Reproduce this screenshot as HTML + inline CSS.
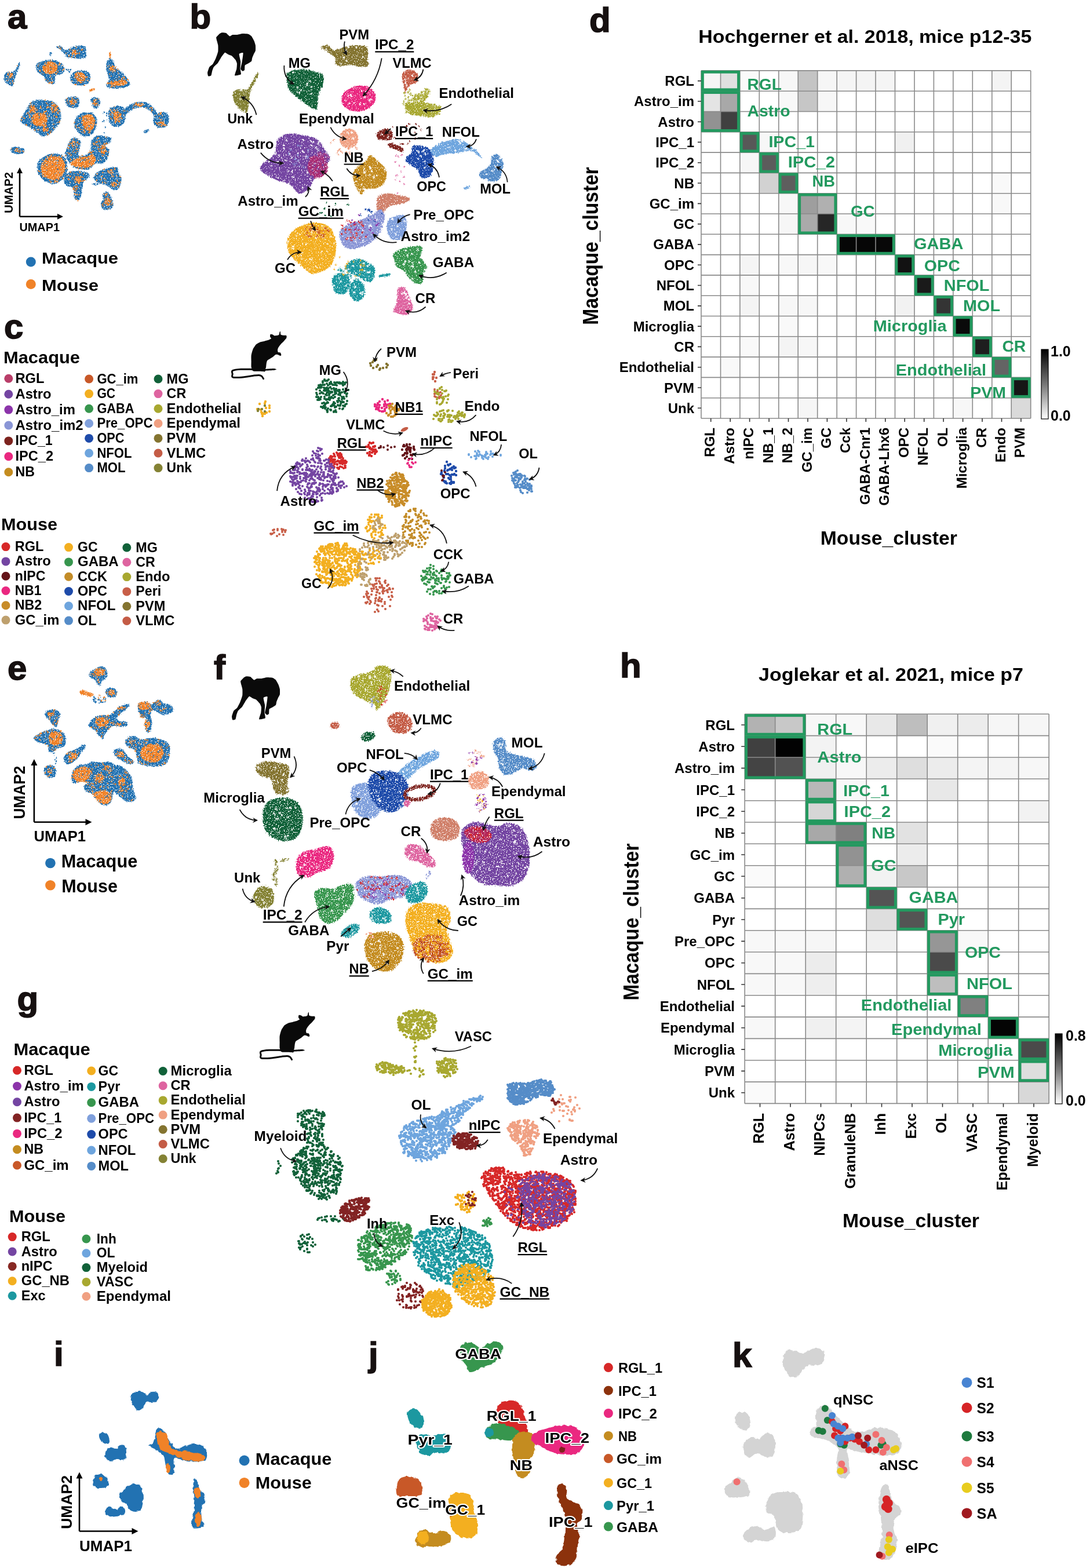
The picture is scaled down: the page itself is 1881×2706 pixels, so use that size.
<!DOCTYPE html>
<html><head><meta charset="utf-8"><title>Figure</title>
<style>
html,body{margin:0;padding:0;background:#fff;}
svg{display:block;}
text{font-family:"Liberation Sans",Arial,sans-serif;font-weight:bold;}
.pl{stroke:#161010;stroke-width:1.6px;fill:#161010;}
.ar{fill:none;stroke:#111;stroke-width:1.8;marker-end:url(#ah);}
.ax{fill:none;stroke:#000;stroke-width:2.6;}
.ol{paint-order:stroke;stroke:#fff;stroke-width:4px;stroke-linejoin:round;}
</style></head><body>
<svg width="1881" height="2706" viewBox="0 0 1881 2706">
<defs>
<filter id="sc" x="-5%" y="-5%" width="110%" height="110%" color-interpolation-filters="sRGB">
<feTurbulence type="fractalNoise" baseFrequency="0.5" numOctaves="1" seed="5" result="n"/>
<feDisplacementMap in="SourceGraphic" in2="n" scale="6" xChannelSelector="R" yChannelSelector="G" result="d"/>
<feTurbulence type="fractalNoise" baseFrequency="0.55" numOctaves="1" seed="9" result="n2"/>
<feColorMatrix in="n2" type="matrix" values="0 0 0 0 0 0 0 0 0 0 0 0 0 0 0 14 0 0 0 -4.3" result="m"/>
<feComposite in="d" in2="m" operator="in"/>
</filter>
<filter id="sc6" x="-5%" y="-5%" width="110%" height="110%" color-interpolation-filters="sRGB">
<feTurbulence type="fractalNoise" baseFrequency="0.45" numOctaves="1" seed="21" result="n"/>
<feDisplacementMap in="SourceGraphic" in2="n" scale="7" xChannelSelector="R" yChannelSelector="G" result="d"/>
<feTurbulence type="fractalNoise" baseFrequency="0.5" numOctaves="1" seed="17" result="n2"/>
<feColorMatrix in="n2" type="matrix" values="0 0 0 0 0 0 0 0 0 0 0 0 0 0 0 14 0 0 0 -4.6" result="m"/>
<feComposite in="d" in2="m" operator="in"/>
</filter>
<filter id="sc2" x="-5%" y="-5%" width="110%" height="110%" color-interpolation-filters="sRGB">
<feTurbulence type="fractalNoise" baseFrequency="0.5" numOctaves="1" seed="3" result="n"/>
<feDisplacementMap in="SourceGraphic" in2="n" scale="5" xChannelSelector="R" yChannelSelector="G" result="d"/>
<feTurbulence type="fractalNoise" baseFrequency="0.6" numOctaves="1" seed="11" result="n2"/>
<feColorMatrix in="n2" type="matrix" values="0 0 0 0 0 0 0 0 0 0 0 0 0 0 0 14 0 0 0 -4.6" result="m"/>
<feComposite in="d" in2="m" operator="in"/>
</filter>
<filter id="none"><feOffset dx="0" dy="0"/></filter>
<filter id="sc3" x="-5%" y="-5%" width="110%" height="110%" color-interpolation-filters="sRGB">
<feTurbulence type="fractalNoise" baseFrequency="0.5" numOctaves="1" seed="4" result="n"/>
<feDisplacementMap in="SourceGraphic" in2="n" scale="4" xChannelSelector="R" yChannelSelector="G"/>
</filter>
<filter id="sc4" x="-5%" y="-5%" width="110%" height="110%" color-interpolation-filters="sRGB">
<feTurbulence type="fractalNoise" baseFrequency="0.5" numOctaves="1" seed="6" result="n"/>
<feDisplacementMap in="SourceGraphic" in2="n" scale="7" xChannelSelector="R" yChannelSelector="G" result="d"/>
<feTurbulence type="fractalNoise" baseFrequency="0.4" numOctaves="1" seed="13" result="n2"/>
<feColorMatrix in="n2" type="matrix" values="0 0 0 0 0 0 0 0 0 0 0 0 0 0 0 12 0 0 0 -5.0" result="m"/>
<feComposite in="d" in2="m" operator="in"/>
</filter>
<filter id="sc5" x="-5%" y="-5%" width="110%" height="110%" color-interpolation-filters="sRGB">
<feTurbulence type="fractalNoise" baseFrequency="0.18" numOctaves="1" seed="8" result="n"/>
<feDisplacementMap in="SourceGraphic" in2="n" scale="6" xChannelSelector="R" yChannelSelector="G"/>
</filter>
<marker id="ah" viewBox="0 0 10 10" refX="8" refY="5" markerWidth="5" markerHeight="5" orient="auto-start-reverse" markerUnits="strokeWidth"><path d="M0 0L10 5L0 10L3 5z" fill="#111"/></marker></defs>
<rect width="1881" height="2706" fill="#fff"/>
<text x="13" y="49" font-size="60" class="pl">a</text>
<text x="327.5" y="49" font-size="60" class="pl">b</text>
<text x="7" y="584" font-size="60" class="pl">c</text>
<text x="1017" y="55" font-size="60" class="pl">d</text>
<text x="13" y="1172.7" font-size="60" class="pl">e</text>
<text x="369" y="1171.7" font-size="60" class="pl">f</text>
<text x="29.5" y="1743.8" font-size="60" class="pl">g</text>
<text x="1070" y="1168.6" font-size="60" class="pl">h</text>
<text x="93" y="2357.2" font-size="60" class="pl">i</text>
<text x="636" y="2357.5" font-size="60" class="pl">j</text>
<text x="1264" y="2358.5" font-size="60" class="pl">k</text>
<rect x="1210" y="121.9" width="33.8" height="35.6" fill="rgb(246,246,246)"/>
<rect x="1243.5" y="121.9" width="33.8" height="35.6" fill="rgb(224,224,224)"/>
<rect x="1276.9" y="121.9" width="33.8" height="35.6" fill="rgb(250,250,250)"/>
<rect x="1343.8" y="121.9" width="33.8" height="35.6" fill="rgb(247,247,247)"/>
<rect x="1377.2" y="121.9" width="33.8" height="35.6" fill="rgb(196,196,196)"/>
<rect x="1410.7" y="121.9" width="33.8" height="35.6" fill="rgb(246,246,246)"/>
<rect x="1444.2" y="121.9" width="33.8" height="35.6" fill="rgb(245,245,245)"/>
<rect x="1477.6" y="121.9" width="33.8" height="35.6" fill="rgb(244,244,244)"/>
<rect x="1511" y="121.9" width="33.8" height="35.6" fill="rgb(245,245,245)"/>
<rect x="1711.8" y="121.9" width="33.8" height="35.6" fill="rgb(244,244,244)"/>
<rect x="1210" y="157.2" width="33.8" height="35.6" fill="rgb(228,228,228)"/>
<rect x="1243.5" y="157.2" width="33.8" height="35.6" fill="rgb(168,168,168)"/>
<rect x="1343.8" y="157.2" width="33.8" height="35.6" fill="rgb(248,248,248)"/>
<rect x="1377.2" y="157.2" width="33.8" height="35.6" fill="rgb(198,198,198)"/>
<rect x="1410.7" y="157.2" width="33.8" height="35.6" fill="rgb(247,247,247)"/>
<rect x="1210" y="192.5" width="33.8" height="35.6" fill="rgb(146,146,146)"/>
<rect x="1243.5" y="192.5" width="33.8" height="35.6" fill="rgb(64,64,64)"/>
<rect x="1276.9" y="227.8" width="33.8" height="35.6" fill="rgb(88,88,88)"/>
<rect x="1310.3" y="227.8" width="33.8" height="35.6" fill="rgb(247,247,247)"/>
<rect x="1544.5" y="227.8" width="33.8" height="35.6" fill="rgb(240,240,240)"/>
<rect x="1276.9" y="263.1" width="33.8" height="35.6" fill="rgb(246,246,246)"/>
<rect x="1310.3" y="263.1" width="33.8" height="35.6" fill="rgb(92,92,92)"/>
<rect x="1310.3" y="298.4" width="33.8" height="35.6" fill="rgb(210,210,210)"/>
<rect x="1343.8" y="298.4" width="33.8" height="35.6" fill="rgb(94,94,94)"/>
<rect x="1711.8" y="298.4" width="33.8" height="35.6" fill="rgb(249,249,249)"/>
<rect x="1343.8" y="333.7" width="33.8" height="35.6" fill="rgb(247,247,247)"/>
<rect x="1377.2" y="333.7" width="33.8" height="35.6" fill="rgb(158,158,158)"/>
<rect x="1410.7" y="333.7" width="33.8" height="35.6" fill="rgb(176,176,176)"/>
<rect x="1711.8" y="333.7" width="33.8" height="35.6" fill="rgb(248,248,248)"/>
<rect x="1343.8" y="369" width="33.8" height="35.6" fill="rgb(246,246,246)"/>
<rect x="1377.2" y="369" width="33.8" height="35.6" fill="rgb(170,170,170)"/>
<rect x="1410.7" y="369" width="33.8" height="35.6" fill="rgb(38,38,38)"/>
<rect x="1444.2" y="369" width="33.8" height="35.6" fill="rgb(248,248,248)"/>
<rect x="1477.6" y="369" width="33.8" height="35.6" fill="rgb(249,249,249)"/>
<rect x="1444.2" y="404.3" width="33.8" height="35.6" fill="rgb(6,6,6)"/>
<rect x="1477.6" y="404.3" width="33.8" height="35.6" fill="rgb(6,6,6)"/>
<rect x="1511" y="404.3" width="33.8" height="35.6" fill="rgb(8,8,8)"/>
<rect x="1276.9" y="439.6" width="33.8" height="35.6" fill="rgb(245,245,245)"/>
<rect x="1343.8" y="439.6" width="33.8" height="35.6" fill="rgb(248,248,248)"/>
<rect x="1377.2" y="439.6" width="33.8" height="35.6" fill="rgb(246,246,246)"/>
<rect x="1410.7" y="439.6" width="33.8" height="35.6" fill="rgb(248,248,248)"/>
<rect x="1544.5" y="439.6" width="33.8" height="35.6" fill="rgb(18,18,18)"/>
<rect x="1276.9" y="474.9" width="33.8" height="35.6" fill="rgb(248,248,248)"/>
<rect x="1578" y="474.9" width="33.8" height="35.6" fill="rgb(26,26,26)"/>
<rect x="1276.9" y="510.2" width="33.8" height="35.6" fill="rgb(244,244,244)"/>
<rect x="1343.8" y="510.2" width="33.8" height="35.6" fill="rgb(247,247,247)"/>
<rect x="1377.2" y="510.2" width="33.8" height="35.6" fill="rgb(247,247,247)"/>
<rect x="1544.5" y="510.2" width="33.8" height="35.6" fill="rgb(242,242,242)"/>
<rect x="1611.4" y="510.2" width="33.8" height="35.6" fill="rgb(52,52,52)"/>
<rect x="1343.8" y="545.5" width="33.8" height="35.6" fill="rgb(249,249,249)"/>
<rect x="1644.8" y="545.5" width="33.8" height="35.6" fill="rgb(10,10,10)"/>
<rect x="1276.9" y="580.8" width="33.8" height="35.6" fill="rgb(249,249,249)"/>
<rect x="1343.8" y="580.8" width="33.8" height="35.6" fill="rgb(244,244,244)"/>
<rect x="1377.2" y="580.8" width="33.8" height="35.6" fill="rgb(247,247,247)"/>
<rect x="1678.3" y="580.8" width="33.8" height="35.6" fill="rgb(30,30,30)"/>
<rect x="1243.5" y="616.1" width="33.8" height="35.6" fill="rgb(249,249,249)"/>
<rect x="1711.8" y="616.1" width="33.8" height="35.6" fill="rgb(100,100,100)"/>
<rect x="1745.2" y="651.4" width="33.8" height="35.6" fill="rgb(22,22,22)"/>
<rect x="1377.2" y="686.7" width="33.8" height="35.6" fill="rgb(246,246,246)"/>
<rect x="1644.8" y="686.7" width="33.8" height="35.6" fill="rgb(247,247,247)"/>
<rect x="1745.2" y="686.7" width="33.8" height="35.6" fill="rgb(218,218,218)"/>
<path d="M1210 121.9H1778.7M1210 157.2H1778.7M1210 192.5H1778.7M1210 227.8H1778.7M1210 263.1H1778.7M1210 298.4H1778.7M1210 333.7H1778.7M1210 369H1778.7M1210 404.3H1778.7M1210 439.6H1778.7M1210 474.9H1778.7M1210 510.2H1778.7M1210 545.5H1778.7M1210 580.8H1778.7M1210 616.1H1778.7M1210 651.4H1778.7M1210 686.7H1778.7M1210 722H1778.7M1210 121.9V722M1243.5 121.9V722M1276.9 121.9V722M1310.3 121.9V722M1343.8 121.9V722M1377.2 121.9V722M1410.7 121.9V722M1444.2 121.9V722M1477.6 121.9V722M1511 121.9V722M1544.5 121.9V722M1578 121.9V722M1611.4 121.9V722M1644.8 121.9V722M1678.3 121.9V722M1711.8 121.9V722M1745.2 121.9V722M1778.7 121.9V722" stroke="#8a8a8a" stroke-width="1.6" fill="none"/>
<path d="M1204 139.6H1210M1204 174.8H1210M1204 210.2H1210M1204 245.4H1210M1204 280.8H1210M1204 316H1210M1204 351.4H1210M1204 386.6H1210M1204 421.9H1210M1204 457.2H1210M1204 492.5H1210M1204 527.9H1210M1204 563.1H1210M1204 598.4H1210M1204 633.8H1210M1204 669H1210M1204 704.3H1210M1226.7 722V728M1260.2 722V728M1293.6 722V728M1327.1 722V728M1360.5 722V728M1394 722V728M1427.4 722V728M1460.9 722V728M1494.3 722V728M1527.8 722V728M1561.2 722V728M1594.7 722V728M1628.1 722V728M1661.6 722V728M1695 722V728M1728.5 722V728M1761.9 722V728" stroke="#333" stroke-width="1.6" fill="none"/>
<rect x="1212.4" y="124.3" width="62.1" height="30.5" fill="none" stroke="#23995f" stroke-width="4.8"/>
<rect x="1212.4" y="159.6" width="62.1" height="65.8" fill="none" stroke="#23995f" stroke-width="4.8"/>
<rect x="1279.3" y="230.2" width="28.7" height="30.5" fill="none" stroke="#23995f" stroke-width="4.8"/>
<rect x="1312.8" y="265.5" width="28.7" height="30.5" fill="none" stroke="#23995f" stroke-width="4.8"/>
<rect x="1346.2" y="300.8" width="28.7" height="30.5" fill="none" stroke="#23995f" stroke-width="4.8"/>
<rect x="1379.7" y="336.1" width="62.1" height="65.8" fill="none" stroke="#23995f" stroke-width="4.8"/>
<rect x="1446.6" y="406.7" width="95.6" height="30.5" fill="none" stroke="#23995f" stroke-width="4.8"/>
<rect x="1546.9" y="442" width="28.7" height="30.5" fill="none" stroke="#23995f" stroke-width="4.8"/>
<rect x="1580.4" y="477.3" width="28.7" height="30.5" fill="none" stroke="#23995f" stroke-width="4.8"/>
<rect x="1613.8" y="512.6" width="28.7" height="30.5" fill="none" stroke="#23995f" stroke-width="4.8"/>
<rect x="1647.2" y="547.9" width="28.7" height="30.5" fill="none" stroke="#23995f" stroke-width="4.8"/>
<rect x="1680.7" y="583.2" width="28.7" height="30.5" fill="none" stroke="#23995f" stroke-width="4.8"/>
<rect x="1714.2" y="618.5" width="28.7" height="30.5" fill="none" stroke="#23995f" stroke-width="4.8"/>
<rect x="1747.6" y="653.8" width="28.7" height="30.5" fill="none" stroke="#23995f" stroke-width="4.8"/>
<text x="1198" y="148.1" font-size="24" text-anchor="end">RGL</text>
<text x="1198" y="183.3" font-size="24" text-anchor="end">Astro_im</text>
<text x="1198" y="218.7" font-size="24" text-anchor="end">Astro</text>
<text x="1198" y="253.9" font-size="24" text-anchor="end">IPC_1</text>
<text x="1198" y="289.2" font-size="24" text-anchor="end">IPC_2</text>
<text x="1198" y="324.5" font-size="24" text-anchor="end">NB</text>
<text x="1198" y="359.9" font-size="24" text-anchor="end">GC_im</text>
<text x="1198" y="395.1" font-size="24" text-anchor="end">GC</text>
<text x="1198" y="430.4" font-size="24" text-anchor="end">GABA</text>
<text x="1198" y="465.8" font-size="24" text-anchor="end">OPC</text>
<text x="1198" y="501" font-size="24" text-anchor="end">NFOL</text>
<text x="1198" y="536.4" font-size="24" text-anchor="end">MOL</text>
<text x="1198" y="571.6" font-size="24" text-anchor="end">Microglia</text>
<text x="1198" y="606.9" font-size="24" text-anchor="end">CR</text>
<text x="1198" y="642.2" font-size="24" text-anchor="end">Endothelial</text>
<text x="1198" y="677.5" font-size="24" text-anchor="end">PVM</text>
<text x="1198" y="712.8" font-size="24" text-anchor="end">Unk</text>
<text x="1233.2" y="738" font-size="24" text-anchor="end" transform="rotate(-90 1233.2 738)">RGL</text>
<text x="1266.7" y="738" font-size="24" text-anchor="end" transform="rotate(-90 1266.7 738)">Astro</text>
<text x="1300.1" y="738" font-size="24" text-anchor="end" transform="rotate(-90 1300.1 738)">nIPC</text>
<text x="1333.6" y="738" font-size="24" text-anchor="end" transform="rotate(-90 1333.6 738)">NB_1</text>
<text x="1367" y="738" font-size="24" text-anchor="end" transform="rotate(-90 1367 738)">NB_2</text>
<text x="1400.5" y="738" font-size="24" text-anchor="end" transform="rotate(-90 1400.5 738)">GC_im</text>
<text x="1433.9" y="738" font-size="24" text-anchor="end" transform="rotate(-90 1433.9 738)">GC</text>
<text x="1467.4" y="738" font-size="24" text-anchor="end" transform="rotate(-90 1467.4 738)">Cck</text>
<text x="1500.8" y="738" font-size="24" text-anchor="end" transform="rotate(-90 1500.8 738)">GABA-Cnr1</text>
<text x="1534.3" y="738" font-size="24" text-anchor="end" transform="rotate(-90 1534.3 738)">GABA-Lhx6</text>
<text x="1567.7" y="738" font-size="24" text-anchor="end" transform="rotate(-90 1567.7 738)">OPC</text>
<text x="1601.2" y="738" font-size="24" text-anchor="end" transform="rotate(-90 1601.2 738)">NFOL</text>
<text x="1634.6" y="738" font-size="24" text-anchor="end" transform="rotate(-90 1634.6 738)">OL</text>
<text x="1668.1" y="738" font-size="24" text-anchor="end" transform="rotate(-90 1668.1 738)">Microglia</text>
<text x="1701.5" y="738" font-size="24" text-anchor="end" transform="rotate(-90 1701.5 738)">CR</text>
<text x="1735" y="738" font-size="24" text-anchor="end" transform="rotate(-90 1735 738)">Endo</text>
<text x="1768.4" y="738" font-size="24" text-anchor="end" transform="rotate(-90 1768.4 738)">PVM</text>
<text x="1289.5" y="154.5" font-size="27" fill="#23995f" textLength="59.4" lengthAdjust="spacingAndGlyphs">RGL</text>
<text x="1289.5" y="200.8" font-size="27" fill="#23995f" textLength="74.2" lengthAdjust="spacingAndGlyphs">Astro</text>
<text x="1326.4" y="253.6" font-size="27" fill="#23995f" textLength="79.6" lengthAdjust="spacingAndGlyphs">IPC_1</text>
<text x="1359.7" y="288.7" font-size="27" fill="#23995f" textLength="81.3" lengthAdjust="spacingAndGlyphs">IPC_2</text>
<text x="1401.5" y="322" font-size="27" fill="#23995f" textLength="39.5" lengthAdjust="spacingAndGlyphs">NB</text>
<text x="1468" y="373.8" font-size="27" fill="#23995f" textLength="41.7" lengthAdjust="spacingAndGlyphs">GC</text>
<text x="1577" y="430.3" font-size="27" fill="#23995f" textLength="85.4" lengthAdjust="spacingAndGlyphs">GABA</text>
<text x="1594.8" y="468.4" font-size="27" fill="#23995f" textLength="62" lengthAdjust="spacingAndGlyphs">OPC</text>
<text x="1628.8" y="501.7" font-size="27" fill="#23995f" textLength="78.7" lengthAdjust="spacingAndGlyphs">NFOL</text>
<text x="1662" y="536.8" font-size="27" fill="#23995f" textLength="64" lengthAdjust="spacingAndGlyphs">MOL</text>
<text x="1506.8" y="571.9" font-size="27" fill="#23995f" textLength="126.7" lengthAdjust="spacingAndGlyphs">Microglia</text>
<text x="1729.4" y="607" font-size="27" fill="#23995f" textLength="40.9" lengthAdjust="spacingAndGlyphs">CR</text>
<text x="1545.7" y="647.7" font-size="27" fill="#23995f" textLength="156.3" lengthAdjust="spacingAndGlyphs">Endothelial</text>
<text x="1674.3" y="686.5" font-size="27" fill="#23995f" textLength="61.7" lengthAdjust="spacingAndGlyphs">PVM</text>
<defs><linearGradient id="cbd" x1="0" y1="0" x2="0" y2="1"><stop offset="0" stop-color="#000"/><stop offset="0.5" stop-color="#777"/><stop offset="1" stop-color="#fff"/></linearGradient></defs>
<rect x="1797" y="603" width="12" height="120" fill="url(#cbd)" stroke="#000" stroke-width="1.2"/>
<text x="1813" y="615" font-size="25">1.0</text>
<text x="1813" y="726" font-size="25">0.0</text>
<text x="1205.3" y="73.5" font-size="31.5" textLength="575" lengthAdjust="spacingAndGlyphs">Hochgerner et al. 2018, mice p12-35</text>
<text x="1032" y="560.7" font-size="37" textLength="272.6" lengthAdjust="spacingAndGlyphs" transform="rotate(-90 1032 560.7)">Macaque_cluster</text>
<text x="1415.8" y="940" font-size="33.5" textLength="236" lengthAdjust="spacingAndGlyphs">Mouse_cluster</text>
<rect x="1285.2" y="1232.3" width="52.8" height="37.6" fill="rgb(178,178,178)"/>
<rect x="1337.7" y="1232.3" width="52.8" height="37.6" fill="rgb(200,200,200)"/>
<rect x="1390.2" y="1232.3" width="52.8" height="37.6" fill="rgb(247,247,247)"/>
<rect x="1442.7" y="1232.3" width="52.8" height="37.6" fill="rgb(248,248,248)"/>
<rect x="1495.2" y="1232.3" width="52.8" height="37.6" fill="rgb(232,232,232)"/>
<rect x="1547.7" y="1232.3" width="52.8" height="37.6" fill="rgb(190,190,190)"/>
<rect x="1600.2" y="1232.3" width="52.8" height="37.6" fill="rgb(240,240,240)"/>
<rect x="1652.7" y="1232.3" width="52.8" height="37.6" fill="rgb(236,236,236)"/>
<rect x="1705.2" y="1232.3" width="52.8" height="37.6" fill="rgb(246,246,246)"/>
<rect x="1757.7" y="1232.3" width="52.8" height="37.6" fill="rgb(246,246,246)"/>
<rect x="1285.2" y="1269.6" width="52.8" height="37.6" fill="rgb(64,64,64)"/>
<rect x="1337.7" y="1269.6" width="52.8" height="37.6" fill="rgb(2,2,2)"/>
<rect x="1390.2" y="1269.6" width="52.8" height="37.6" fill="rgb(243,243,243)"/>
<rect x="1600.2" y="1269.6" width="52.8" height="37.6" fill="rgb(250,250,250)"/>
<rect x="1285.2" y="1307" width="52.8" height="37.6" fill="rgb(68,68,68)"/>
<rect x="1337.7" y="1307" width="52.8" height="37.6" fill="rgb(82,82,82)"/>
<rect x="1390.2" y="1307" width="52.8" height="37.6" fill="rgb(240,240,240)"/>
<rect x="1442.7" y="1307" width="52.8" height="37.6" fill="rgb(247,247,247)"/>
<rect x="1495.2" y="1307" width="52.8" height="37.6" fill="rgb(236,236,236)"/>
<rect x="1547.7" y="1307" width="52.8" height="37.6" fill="rgb(222,222,222)"/>
<rect x="1600.2" y="1307" width="52.8" height="37.6" fill="rgb(236,236,236)"/>
<rect x="1652.7" y="1307" width="52.8" height="37.6" fill="rgb(244,244,244)"/>
<rect x="1705.2" y="1307" width="52.8" height="37.6" fill="rgb(244,244,244)"/>
<rect x="1757.7" y="1307" width="52.8" height="37.6" fill="rgb(247,247,247)"/>
<rect x="1390.2" y="1344.3" width="52.8" height="37.6" fill="rgb(184,184,184)"/>
<rect x="1442.7" y="1344.3" width="52.8" height="37.6" fill="rgb(248,248,248)"/>
<rect x="1600.2" y="1344.3" width="52.8" height="37.6" fill="rgb(232,232,232)"/>
<rect x="1390.2" y="1381.7" width="52.8" height="37.6" fill="rgb(214,214,214)"/>
<rect x="1757.7" y="1381.7" width="52.8" height="37.6" fill="rgb(242,242,242)"/>
<rect x="1390.2" y="1419" width="52.8" height="37.6" fill="rgb(168,168,168)"/>
<rect x="1442.7" y="1419" width="52.8" height="37.6" fill="rgb(128,128,128)"/>
<rect x="1547.7" y="1419" width="52.8" height="37.6" fill="rgb(226,226,226)"/>
<rect x="1442.7" y="1456.3" width="52.8" height="37.6" fill="rgb(146,146,146)"/>
<rect x="1547.7" y="1456.3" width="52.8" height="37.6" fill="rgb(236,236,236)"/>
<rect x="1285.2" y="1493.7" width="52.8" height="37.6" fill="rgb(250,250,250)"/>
<rect x="1442.7" y="1493.7" width="52.8" height="37.6" fill="rgb(176,176,176)"/>
<rect x="1495.2" y="1493.7" width="52.8" height="37.6" fill="rgb(242,242,242)"/>
<rect x="1547.7" y="1493.7" width="52.8" height="37.6" fill="rgb(200,200,200)"/>
<rect x="1495.2" y="1531" width="52.8" height="37.6" fill="rgb(84,84,84)"/>
<rect x="1495.2" y="1568.4" width="52.8" height="37.6" fill="rgb(222,222,222)"/>
<rect x="1547.7" y="1568.4" width="52.8" height="37.6" fill="rgb(84,84,84)"/>
<rect x="1285.2" y="1605.7" width="52.8" height="37.6" fill="rgb(248,248,248)"/>
<rect x="1337.7" y="1605.7" width="52.8" height="37.6" fill="rgb(248,248,248)"/>
<rect x="1390.2" y="1605.7" width="52.8" height="37.6" fill="rgb(246,246,246)"/>
<rect x="1495.2" y="1605.7" width="52.8" height="37.6" fill="rgb(240,240,240)"/>
<rect x="1600.2" y="1605.7" width="52.8" height="37.6" fill="rgb(150,150,150)"/>
<rect x="1652.7" y="1605.7" width="52.8" height="37.6" fill="rgb(248,248,248)"/>
<rect x="1285.2" y="1643" width="52.8" height="37.6" fill="rgb(248,248,248)"/>
<rect x="1337.7" y="1643" width="52.8" height="37.6" fill="rgb(248,248,248)"/>
<rect x="1390.2" y="1643" width="52.8" height="37.6" fill="rgb(236,236,236)"/>
<rect x="1600.2" y="1643" width="52.8" height="37.6" fill="rgb(74,74,74)"/>
<rect x="1285.2" y="1680.4" width="52.8" height="37.6" fill="rgb(248,248,248)"/>
<rect x="1337.7" y="1680.4" width="52.8" height="37.6" fill="rgb(248,248,248)"/>
<rect x="1390.2" y="1680.4" width="52.8" height="37.6" fill="rgb(238,238,238)"/>
<rect x="1600.2" y="1680.4" width="52.8" height="37.6" fill="rgb(190,190,190)"/>
<rect x="1652.7" y="1717.7" width="52.8" height="37.6" fill="rgb(128,128,128)"/>
<rect x="1285.2" y="1755.1" width="52.8" height="37.6" fill="rgb(248,248,248)"/>
<rect x="1390.2" y="1755.1" width="52.8" height="37.6" fill="rgb(240,240,240)"/>
<rect x="1442.7" y="1755.1" width="52.8" height="37.6" fill="rgb(244,244,244)"/>
<rect x="1705.2" y="1755.1" width="52.8" height="37.6" fill="rgb(4,4,4)"/>
<rect x="1757.7" y="1792.4" width="52.8" height="37.6" fill="rgb(74,74,74)"/>
<rect x="1757.7" y="1829.7" width="52.8" height="37.6" fill="rgb(222,222,222)"/>
<rect x="1285.2" y="1867.1" width="52.8" height="37.6" fill="rgb(250,250,250)"/>
<rect x="1757.7" y="1867.1" width="52.8" height="37.6" fill="rgb(216,216,216)"/>
<path d="M1285.2 1232.3H1810.2M1285.2 1269.6H1810.2M1285.2 1307H1810.2M1285.2 1344.3H1810.2M1285.2 1381.7H1810.2M1285.2 1419H1810.2M1285.2 1456.3H1810.2M1285.2 1493.7H1810.2M1285.2 1531H1810.2M1285.2 1568.4H1810.2M1285.2 1605.7H1810.2M1285.2 1643H1810.2M1285.2 1680.4H1810.2M1285.2 1717.7H1810.2M1285.2 1755.1H1810.2M1285.2 1792.4H1810.2M1285.2 1829.7H1810.2M1285.2 1867.1H1810.2M1285.2 1904.4H1810.2M1285.2 1232.3V1904.4M1337.7 1232.3V1904.4M1390.2 1232.3V1904.4M1442.7 1232.3V1904.4M1495.2 1232.3V1904.4M1547.7 1232.3V1904.4M1600.2 1232.3V1904.4M1652.7 1232.3V1904.4M1705.2 1232.3V1904.4M1757.7 1232.3V1904.4M1810.2 1232.3V1904.4" stroke="#8a8a8a" stroke-width="1.6" fill="none"/>
<path d="M1279.2 1251H1285.2M1279.2 1288.3H1285.2M1279.2 1325.6H1285.2M1279.2 1363H1285.2M1279.2 1400.3H1285.2M1279.2 1437.7H1285.2M1279.2 1475H1285.2M1279.2 1512.3H1285.2M1279.2 1549.7H1285.2M1279.2 1587H1285.2M1279.2 1624.4H1285.2M1279.2 1661.7H1285.2M1279.2 1699H1285.2M1279.2 1736.4H1285.2M1279.2 1773.7H1285.2M1279.2 1811.1H1285.2M1279.2 1848.4H1285.2M1279.2 1885.8H1285.2M1311.5 1904.4V1910.4M1364 1904.4V1910.4M1416.5 1904.4V1910.4M1469 1904.4V1910.4M1521.5 1904.4V1910.4M1574 1904.4V1910.4M1626.5 1904.4V1910.4M1679 1904.4V1910.4M1731.5 1904.4V1910.4M1784 1904.4V1910.4" stroke="#333" stroke-width="1.6" fill="none"/>
<rect x="1287.6" y="1234.7" width="100.2" height="32.5" fill="none" stroke="#23995f" stroke-width="4.8"/>
<rect x="1287.6" y="1272" width="100.2" height="69.9" fill="none" stroke="#23995f" stroke-width="4.8"/>
<rect x="1392.6" y="1346.7" width="47.7" height="32.5" fill="none" stroke="#23995f" stroke-width="4.8"/>
<rect x="1392.6" y="1384.1" width="47.7" height="32.5" fill="none" stroke="#23995f" stroke-width="4.8"/>
<rect x="1392.6" y="1421.4" width="100.2" height="32.5" fill="none" stroke="#23995f" stroke-width="4.8"/>
<rect x="1445.1" y="1458.7" width="47.7" height="69.9" fill="none" stroke="#23995f" stroke-width="4.8"/>
<rect x="1497.6" y="1533.4" width="47.7" height="32.5" fill="none" stroke="#23995f" stroke-width="4.8"/>
<rect x="1550.1" y="1570.8" width="47.7" height="32.5" fill="none" stroke="#23995f" stroke-width="4.8"/>
<rect x="1602.6" y="1608.1" width="47.7" height="69.9" fill="none" stroke="#23995f" stroke-width="4.8"/>
<rect x="1602.6" y="1682.8" width="47.7" height="32.5" fill="none" stroke="#23995f" stroke-width="4.8"/>
<rect x="1655.1" y="1720.1" width="47.7" height="32.5" fill="none" stroke="#23995f" stroke-width="4.8"/>
<rect x="1707.6" y="1757.5" width="47.7" height="32.5" fill="none" stroke="#23995f" stroke-width="4.8"/>
<rect x="1760.1" y="1794.8" width="47.7" height="32.5" fill="none" stroke="#23995f" stroke-width="4.8"/>
<rect x="1760.1" y="1832.1" width="47.7" height="32.5" fill="none" stroke="#23995f" stroke-width="4.8"/>
<text x="1268" y="1259.5" font-size="24" text-anchor="end">RGL</text>
<text x="1268" y="1296.8" font-size="24" text-anchor="end">Astro</text>
<text x="1268" y="1334.1" font-size="24" text-anchor="end">Astro_im</text>
<text x="1268" y="1371.5" font-size="24" text-anchor="end">IPC_1</text>
<text x="1268" y="1408.8" font-size="24" text-anchor="end">IPC_2</text>
<text x="1268" y="1446.2" font-size="24" text-anchor="end">NB</text>
<text x="1268" y="1483.5" font-size="24" text-anchor="end">GC_im</text>
<text x="1268" y="1520.8" font-size="24" text-anchor="end">GC</text>
<text x="1268" y="1558.2" font-size="24" text-anchor="end">GABA</text>
<text x="1268" y="1595.5" font-size="24" text-anchor="end">Pyr</text>
<text x="1268" y="1632.9" font-size="24" text-anchor="end">Pre_OPC</text>
<text x="1268" y="1670.2" font-size="24" text-anchor="end">OPC</text>
<text x="1268" y="1707.5" font-size="24" text-anchor="end">NFOL</text>
<text x="1268" y="1744.9" font-size="24" text-anchor="end">Endothelial</text>
<text x="1268" y="1782.2" font-size="24" text-anchor="end">Ependymal</text>
<text x="1268" y="1819.6" font-size="24" text-anchor="end">Microglia</text>
<text x="1268" y="1856.9" font-size="24" text-anchor="end">PVM</text>
<text x="1268" y="1894.2" font-size="24" text-anchor="end">Unk</text>
<text x="1318" y="1921" font-size="25" text-anchor="end" transform="rotate(-90 1318 1921)">RGL</text>
<text x="1370.5" y="1921" font-size="25" text-anchor="end" transform="rotate(-90 1370.5 1921)">Astro</text>
<text x="1423" y="1921" font-size="25" text-anchor="end" transform="rotate(-90 1423 1921)">NIPCs</text>
<text x="1475.5" y="1921" font-size="25" text-anchor="end" transform="rotate(-90 1475.5 1921)">GranuleNB</text>
<text x="1528" y="1921" font-size="25" text-anchor="end" transform="rotate(-90 1528 1921)">Inh</text>
<text x="1580.5" y="1921" font-size="25" text-anchor="end" transform="rotate(-90 1580.5 1921)">Exc</text>
<text x="1633" y="1921" font-size="25" text-anchor="end" transform="rotate(-90 1633 1921)">OL</text>
<text x="1685.5" y="1921" font-size="25" text-anchor="end" transform="rotate(-90 1685.5 1921)">VASC</text>
<text x="1738" y="1921" font-size="25" text-anchor="end" transform="rotate(-90 1738 1921)">Ependymal</text>
<text x="1790.5" y="1921" font-size="25" text-anchor="end" transform="rotate(-90 1790.5 1921)">Myeloid</text>
<text x="1410.3" y="1268.4" font-size="27" fill="#23995f" textLength="60.9" lengthAdjust="spacingAndGlyphs">RGL</text>
<text x="1410.3" y="1315.8" font-size="27" fill="#23995f" textLength="76.4" lengthAdjust="spacingAndGlyphs">Astro</text>
<text x="1455.3" y="1374" font-size="27" fill="#23995f" textLength="79.5" lengthAdjust="spacingAndGlyphs">IPC_1</text>
<text x="1456.6" y="1409.5" font-size="27" fill="#23995f" textLength="80.4" lengthAdjust="spacingAndGlyphs">IPC_2</text>
<text x="1504.3" y="1446.7" font-size="27" fill="#23995f" textLength="40.7" lengthAdjust="spacingAndGlyphs">NB</text>
<text x="1503.3" y="1502.5" font-size="27" fill="#23995f" textLength="43.3" lengthAdjust="spacingAndGlyphs">GC</text>
<text x="1568.6" y="1558.4" font-size="27" fill="#23995f" textLength="84.6" lengthAdjust="spacingAndGlyphs">GABA</text>
<text x="1618.4" y="1596" font-size="27" fill="#23995f" textLength="46.6" lengthAdjust="spacingAndGlyphs">Pyr</text>
<text x="1665" y="1652.7" font-size="27" fill="#23995f" textLength="62" lengthAdjust="spacingAndGlyphs">OPC</text>
<text x="1668" y="1707" font-size="27" fill="#23995f" textLength="79" lengthAdjust="spacingAndGlyphs">NFOL</text>
<text x="1485.8" y="1743.8" font-size="27" fill="#23995f" textLength="156.6" lengthAdjust="spacingAndGlyphs">Endothelial</text>
<text x="1538" y="1786" font-size="27" fill="#23995f" textLength="155.8" lengthAdjust="spacingAndGlyphs">Ependymal</text>
<text x="1619.3" y="1822" font-size="27" fill="#23995f" textLength="128" lengthAdjust="spacingAndGlyphs">Microglia</text>
<text x="1687" y="1859.7" font-size="27" fill="#23995f" textLength="63.6" lengthAdjust="spacingAndGlyphs">PVM</text>
<defs><linearGradient id="cbh" x1="0" y1="0" x2="0" y2="1"><stop offset="0" stop-color="#000"/><stop offset="0.5" stop-color="#777"/><stop offset="1" stop-color="#fff"/></linearGradient></defs>
<rect x="1821" y="1784" width="12" height="121" fill="url(#cbh)" stroke="#000" stroke-width="1.2"/>
<text x="1839" y="1796" font-size="25">0.8</text>
<text x="1839" y="1908" font-size="25">0.0</text>
<text x="1309" y="1175" font-size="31.5" textLength="457" lengthAdjust="spacingAndGlyphs">Joglekar et al. 2021, mice p7</text>
<text x="1102" y="1726.6" font-size="37" textLength="271" lengthAdjust="spacingAndGlyphs" transform="rotate(-90 1102 1726.6)">Macaque_cluster</text>
<text x="1454" y="2118" font-size="33.5" textLength="236" lengthAdjust="spacingAndGlyphs">Mouse_cluster</text>
<g filter="url(#sc2)">
<path d="M97.7 81.3C97.7 80 102.8 78.5 105.3 79.4C107.8 80.3 110.3 86.3 112.8 86.9C115.3 87.5 117.2 84.5 120.3 83.2C123.4 82 127.2 79.9 131.6 79.4C136 78.9 143.8 78.4 146.6 80.3C149.4 82.2 148.3 87.4 148.5 90.7C148.7 94 150.4 98.4 147.6 100.1C144.8 101.8 136.2 101.2 131.6 101C127 100.8 123.1 99.6 120.3 99.1C117.5 98.6 116.3 99.3 114.7 98.2C113.1 97.1 112.5 94.5 110.9 92.6C109.3 90.7 107.5 88.8 105.3 86.9C103.1 85 97.7 82.5 97.7 81.3Z" fill="rgb(34,114,178)"/>
<path d="M131 81h0m-30 0h0m3 3h0m1-2h0m16 4h0m14 0h0m6 0h0m1 0h0m-28 6h0m11-5h0m2 1h0m0 1h0m3-2h0m2 2h0m1 3h0m4 0h0m-18 4h0m0 1h0m5 1h0m14-4h0m-8 6h0" stroke="rgb(240,130,40)" stroke-width="2.4" stroke-linecap="round"/>
<ellipse cx="128" cy="92" rx="6" ry="4" fill="rgb(240,130,40)"/>
<path d="M122 92h0m1 0h0m1-2h0m8 0h0m-9 4h0m4-1h0m0 2h0m1-2h0" stroke="rgb(34,114,178)" stroke-width="2.2" stroke-linecap="round"/>
<ellipse cx="87" cy="93.5" rx="2" ry="3" fill="rgb(34,114,178)"/>
<path d="M8 128C9 125.3 11.7 124.7 14 124C16.3 123.3 19.7 125 22 124C24.3 123 26.2 120.8 28 118C29.8 115.2 31.8 108.7 33 107C34.2 105.3 35.5 105.2 35 108C34.5 110.8 31.3 120 30 124C28.7 128 28 129 27 132C26 135 24.8 139.2 24 142C23.2 144.8 23.5 148.3 22 149C20.5 149.7 17.3 147.5 15 146C12.7 144.5 9.2 143 8 140C6.8 137 7 130.7 8 128Z" fill="rgb(34,114,178)"/>
<path d="M30 114h0m-16 15h0m0-2h0m2-3h0m5 3h0m-10 7h0m7-3h0m4 2h0m-9 6h0m2-3h0m7 4h0m-4 4h0m5 0h0" stroke="rgb(240,130,40)" stroke-width="2.4" stroke-linecap="round"/>
<ellipse cx="19" cy="131" rx="5" ry="4" fill="rgb(240,130,40)"/>
<path d="M16 129h0m0 0h0m-1 3h0m5 2h0m1-1h0m1-2h0m2-1h0m0 1h0" stroke="rgb(34,114,178)" stroke-width="2.2" stroke-linecap="round"/>
<path d="M63 110.4C65.2 108.4 71 106 75.2 104.8C79.4 103.6 83.9 103.2 88.3 103.5C92.7 103.8 98 105.1 101.5 106.7C105 108.3 107.4 110.6 109 113.2C110.6 115.8 111.5 120.1 110.9 122.6C110.3 125.1 107.8 127 105.3 128.3C102.8 129.6 97.8 127.5 95.9 130.2C94 132.8 95.3 141.7 94 144.2C92.7 146.7 90.8 146 88.3 145.2C85.8 144.4 81.1 141.7 78.9 139.5C76.7 137.3 77.4 134.5 75.2 132C73 129.5 68 127 65.8 124.5C63.6 122 62.5 119.3 62 117C61.5 114.7 60.8 112.4 63 110.4Z" fill="rgb(34,114,178)"/>
<path d="M88 104h0m-20 6h0m26-1h0m3 2h0m6-2h0m-37 5h0m8 1h0m0 1h0m10-5h0m18 1h0m6 2h0m-40 8h0m2-1h0m5 0h0m4 2h0m8-5h0m20 4h0m3-2h0m-40 3h0m4 5h0m4-3h0m1 1h0m2-2h0m3 2h0m3 0h0m5-1h0m5 2h0m2-4h0m1 2h0m-13 7h0m-9 5h0m5 3h0m6-4h0m0-1h0m-4 8h0m3-1h0m1 1h0m2-2h0" stroke="rgb(240,130,40)" stroke-width="2.4" stroke-linecap="round"/>
<ellipse cx="86" cy="117" rx="13" ry="11" fill="rgb(240,130,40)"/>
<path d="M80 109h0m-4 3h0m2 1h0m9 3h0m7-4h0m-6 9h0m1-4h0m-5 9h0" stroke="rgb(34,114,178)" stroke-width="2.2" stroke-linecap="round"/>
<path d="M114 119h0m1 1h0m2 1h0m1-1h0m3 1h0m1-1h0m-3 5h0m1-1h0" stroke="rgb(34,114,178)" stroke-width="2.6" stroke-linecap="round"/>
<path d="M122 131C123.3 128.2 126.7 124.5 130 123C133.3 121.5 138.3 121.5 142 121.7C145.7 121.9 149.7 122.3 152 124C154.3 125.7 155.7 129.2 156 132C156.3 134.8 155.8 138.5 154 141C152.2 143.5 149 146.1 145 147C141 147.9 133.8 147.7 130 146.5C126.2 145.3 123.3 142.6 122 140C120.7 137.4 120.7 133.8 122 131Z" fill="rgb(34,114,178)"/>
<path d="M131 126h0m1 2h0m7-2h0m-12 7h0m1 1h0m4-1h0m1-2h0m2 4h0m1-5h0m14 3h0m-26 7h0m22-2h0m1-2h0m5 3h0m3-3h0m-25 10h0m1 0h0m3-3h0m5 0h0m6 4h0" stroke="rgb(240,130,40)" stroke-width="2.4" stroke-linecap="round"/>
<path d="M129.7 127C131.4 125.5 137.2 124.3 140 125C142.8 125.7 146.3 128 146.6 131C146.9 134 144.1 141.5 142 143C139.9 144.5 136 141.5 134 140C132 138.5 130.7 136.2 130 134C129.3 131.8 128 128.5 129.7 127Z" fill="rgb(240,130,40)"/>
<path d="M131 132h0m2 2h0m2-5h0m1 2h0m2 3h0m2 1h0m2 6h0m0-4h0" stroke="rgb(34,114,178)" stroke-width="2.2" stroke-linecap="round"/>
<path d="M184.2 107.6C185.3 104.8 187.9 100.4 189.8 100.1C191.7 99.8 193.9 103.2 195.5 105.7C197.1 108.2 197.3 112.3 199.2 115.1C201.1 117.9 204.6 120.7 206.8 122.6C209 124.5 209.9 123.9 212.4 126.4C214.9 128.9 219.9 134.6 221.8 137.7C223.7 140.8 224.6 143 223.7 145.2C222.8 147.4 220.3 149.6 216.2 150.8C212.1 152.1 204.2 152.7 199.2 152.7C194.2 152.7 188.8 152.1 186.1 150.8C183.4 149.6 183 147.4 183.3 145.2C183.6 143 187.7 140.8 188 137.7C188.3 134.6 186 129.8 185.2 126.4C184.4 123 183.5 120.1 183.3 117C183.1 113.9 183.1 110.4 184.2 107.6Z" fill="rgb(34,114,178)"/>
<path d="M186 114h0m0 0h0m3-1h0m4 1h0m-4 5h0m0-1h0m9 5h0m0-2h0m5-1h0m-14 8h0m0 0h0m15 0h0m0-3h0m-12 6h0m14 2h0m7 1h0m1-1h0m-11 3h0m6 0h0m1 1h0m1 0h0m5 2h0m3-2h0m2 1h0m-36 6h0m2 0h0m1 0h0m8 0h0m8 0h0m9-1h0m3 1h0m3-1h0m-27 7h0m1-3h0m2 2h0m3 1h0m9-3h0" stroke="rgb(240,130,40)" stroke-width="2.4" stroke-linecap="round"/>
<ellipse cx="195" cy="119" rx="6" ry="6" fill="rgb(240,130,40)"/>
<path d="M192 114h0m5 3h0m-4 5h0m2-5h0m3 1h0m0 3h0m2-1h0m-3 4h0" stroke="rgb(34,114,178)" stroke-width="2.2" stroke-linecap="round"/>
<ellipse cx="204" cy="143" rx="15" ry="5" fill="rgb(240,130,40)"/>
<path d="M194 140h0m2 1h0m3-2h0m3 0h0m2 1h0m2 2h0m0 5h0m5-5h0" stroke="rgb(34,114,178)" stroke-width="2.2" stroke-linecap="round"/>
<ellipse cx="190" cy="95" rx="1.5" ry="5" fill="rgb(240,130,40)"/>
<ellipse cx="159" cy="155" rx="5" ry="2" fill="rgb(240,130,40)" transform="rotate(-20 159 155)"/>
<path d="M52.6 177.1C56.4 174.1 62.4 173 67.7 172.4C73 171.8 80.2 172.6 84.6 173.4C89 174.2 91.2 175.2 94 177.1C96.8 179 99.6 181.2 101.5 184.7C103.4 188.1 105 193.4 105.3 197.8C105.6 202.2 105 207.2 103.4 211C101.8 214.8 98.4 217.3 95.9 220.4C93.4 223.5 91.8 227.3 88.3 229.8C84.8 232.3 79.3 235.7 75.2 235.4C71.1 235.1 67.7 230.4 63.9 227.9C60.1 225.4 56.4 222.6 52.6 220.4C48.9 218.2 44.4 216.6 41.4 214.7C38.4 212.8 35.4 211.3 34.8 209.1C34.2 206.9 35.9 204.7 37.6 201.6C39.3 198.5 42.6 194.4 45.1 190.3C47.6 186.2 48.8 180.1 52.6 177.1Z" fill="rgb(34,114,178)"/>
<path d="M77 173h0m-24 5h0m27 0h0m2 2h0m8-3h0m-39 11h0m1 0h0m2 0h0m3-3h0m3 0h0m2 3h0m0-2h0m2 3h0m6-5h0m0 1h0m1 2h0m10-2h0m2-1h0m0 1h0m3 0h0m1 0h0m6 2h0m3-1h0m4 3h0m0-5h0m-45 11h0m2-5h0m2 0h0m2 3h0m0 1h0m3-4h0m12 3h0m2 0h0m2-1h0m14-1h0m6 2h0m3-1h0m-58 5h0m3-2h0m2 1h0m1 3h0m0 0h0m6-4h0m2 4h0m1 0h0m3 1h0m12-4h0m7 0h0m3 5h0m8-1h0m3 1h0m4-5h0m-62 6h0m4 2h0m9-2h0m5-1h0m8 4h0m1-2h0m26 4h0m6-5h0m1 0h0m-61 5h0m16 3h0m4-2h0m6-1h0m4 0h0m3 5h0m2-3h0m5 2h0m22 1h0m3-1h0m1-2h0m-57 7h0m7 2h0m17-3h0m2 0h0m7 0h0m1 1h0m11 3h0m0 0h0m1-5h0m-32 10h0m4 0h0m1 0h0m3 0h0m12-3h0m13 0h0m-11 10h0m5-2h0m1-3h0m-6 6h0" stroke="rgb(240,130,40)" stroke-width="2.4" stroke-linecap="round"/>
<ellipse cx="56" cy="188" rx="6" ry="8" fill="rgb(240,130,40)"/>
<path d="M52 182h0m4 1h0m0-2h0m4 2h0m-10 6h0m1-1h0m1-3h0m2 3h0m7-2h0m-10 4h0m4 4h0m1 1h0m2 0h0m3-5h0" stroke="rgb(34,114,178)" stroke-width="2.2" stroke-linecap="round"/>
<ellipse cx="93" cy="187" rx="6" ry="8" fill="rgb(240,130,40)"/>
<path d="M88 183h0m8 0h0m1-1h0m-10 7h0m0-1h0m3-3h0m2 3h0m0-2h0m1-1h0m1 3h0m1-4h0m-3 9h0m0-3h0m4 3h0" stroke="rgb(34,114,178)" stroke-width="2.2" stroke-linecap="round"/>
<ellipse cx="68" cy="206" rx="14" ry="12" fill="rgb(240,130,40)"/>
<path d="M68 195h0m-1 3h0m0-1h0m1 3h0m0-5h0m4 1h0m-16 6h0m1 3h0m1-1h0m10-1h0m7 10h0m0 0h0m-7 4h0m6-3h0" stroke="rgb(34,114,178)" stroke-width="2.2" stroke-linecap="round"/>
<ellipse cx="78" cy="222" rx="6" ry="6" fill="rgb(240,130,40)"/>
<path d="M81 218h0m1 0h0m-9 4h0m1-3h0m4 1h0m2 1h0m0-1h0m2-1h0m0 4h0m1-4h0m-9 6h0m4 2h0m1 0h0m1 0h0" stroke="rgb(34,114,178)" stroke-width="2.2" stroke-linecap="round"/>
<path d="M113 172C114.3 169.8 118.5 167.7 122 167C125.5 166.3 131.5 166.3 134 168C136.5 169.7 137.2 174.2 137.2 177C137.2 179.8 136.5 183.5 134 185C131.5 186.5 125.3 186.8 122 186C118.7 185.2 115.5 182.3 114 180C112.5 177.7 111.7 174.2 113 172Z" fill="rgb(34,114,178)"/>
<path d="M124 170h0m7-2h0m-15 6h0m0-3h0m12 4h0m5-3h0m-15 6h0m4 4h0m5-2h0m-2 4h0" stroke="rgb(240,130,40)" stroke-width="2.4" stroke-linecap="round"/>
<ellipse cx="126" cy="176" rx="6" ry="5" fill="rgb(240,130,40)"/>
<path d="M123 172h0m2 2h0m2 1h0m0-2h0m0 3h0m1-1h0m-7 2h0m9 2h0" stroke="rgb(34,114,178)" stroke-width="2.2" stroke-linecap="round"/>
<path d="M157 171C157.5 168.3 160.7 167.9 163 167.7C165.3 167.5 169.3 168.3 171 170C172.7 171.7 173.5 175.2 173 178C172.5 180.8 170.2 185.5 168 186.5C165.8 187.5 161.8 186.6 160 184C158.2 181.4 156.5 173.7 157 171Z" fill="rgb(34,114,178)"/>
<path d="M170 171h0m-8 2h0m1-1h0m-3 7h0m5 1h0m5 1h0" stroke="rgb(240,130,40)" stroke-width="2.4" stroke-linecap="round"/>
<ellipse cx="165" cy="177" rx="4" ry="6" fill="rgb(240,130,40)"/>
<path d="M163 172h0m2 4h0m2-2h0m0 2h0m0 1h0m-3 3h0m3 1h0m0-4h0" stroke="rgb(34,114,178)" stroke-width="2.2" stroke-linecap="round"/>
<path d="M130 205C131.7 201.5 135 198.8 138 197C141 195.2 144.3 194.2 148 194C151.7 193.8 156.8 194 160 196C163.2 198 166.5 201.7 167.3 206C168.1 210.3 166.6 217.7 165 222C163.4 226.3 161.2 229.8 158 232C154.8 234.2 149.7 235.7 146 235.4C142.3 235.1 139 232.9 136 230C133 227.1 129 222.2 128 218C127 213.8 128.3 208.5 130 205Z" fill="rgb(34,114,178)"/>
<path d="M142 200h0m-4 4h0m1-1h0m10 0h0m1 4h0m3-1h0m5-4h0m2-1h0m-31 10h0m12 1h0m1-5h0m11 2h0m4-1h0m6 0h0m-32 10h0m4-4h0m20 1h0m11 0h0m-34 5h0m4 0h0m2 1h0m1 3h0m3-1h0m3 1h0m8-1h0m2-3h0m0 5h0m6-5h0m-19 8h0m0 0h0m3-2h0m1 3h0m1-2h0m6 1h0m2-1h0m0 3h0" stroke="rgb(240,130,40)" stroke-width="2.4" stroke-linecap="round"/>
<path d="M144 200C146.7 197.7 154.8 196.3 158 198C161.2 199.7 163.2 205.8 163.5 210C163.8 214.2 162.6 220.7 160 223C157.4 225.3 151 225.8 148 224C145 222.2 142.7 216 142 212C141.3 208 141.3 202.3 144 200Z" fill="rgb(240,130,40)"/>
<path d="M146 205h0m3 1h0m-2 4h0m4-2h0m10 3h0m-8 7h0m5-3h0m-8 6h0" stroke="rgb(34,114,178)" stroke-width="2.2" stroke-linecap="round"/>
<path d="M187 192C188.2 187.7 192.5 185.5 196 184C199.5 182.5 204.6 182 208 183C211.4 184 214.9 186.3 216.2 190C217.5 193.7 217 200.7 216 205C215 209.3 213 213.8 210 216C207 218.2 201.5 219.5 198 218.5C194.5 217.5 190.8 214.4 189 210C187.2 205.6 185.8 196.3 187 192Z" fill="rgb(34,114,178)"/>
<path d="M192 189h0m6-5h0m4 5h0m-12 1h0m3 4h0m1 1h0m3-5h0m2 1h0m14 0h0m-23 6h0m1 2h0m1 0h0m13 0h0m2 2h0m1-3h0m6 0h0m-23 6h0m2 2h0m17-2h0m-11 7h0m0-2h0m5 1h0m2-1h0m2 4h0" stroke="rgb(240,130,40)" stroke-width="2.4" stroke-linecap="round"/>
<ellipse cx="202" cy="200" rx="7" ry="8" fill="rgb(240,130,40)"/>
<path d="M196 199h0m8-3h0m0 3h0m-5 3h0m6 4h0m1-3h0m0 0h0m1 0h0" stroke="rgb(34,114,178)" stroke-width="2.2" stroke-linecap="round"/>
<path d="M214 190C215.3 187.2 220.2 183.3 224 181C227.8 178.7 232.5 176.8 236.8 176C241.1 175.2 246.1 175.2 250 176C253.9 176.8 257 178.7 260 181C263 183.3 266 186.8 268 190C270 193.2 272 197.8 272 200C272 202.2 270 204.3 268 203C266 201.7 263.3 194.8 260 192C256.7 189.2 252 187 248 186C244 185 240 185 236 186C232 187 227.3 190 224 192C220.7 194 217.7 198.3 216 198C214.3 197.7 212.7 192.8 214 190Z" fill="rgb(34,114,178)"/>
<path d="M230 183h0m5-5h0m1 5h0m1-1h0m2-1h0m7-2h0m-16 8h0m4-4h0m7 1h0m11 2h0m7 0h0m3 0h0m-46 5h0m4 1h0m41 1h0m1-3h0m6 9h0" stroke="rgb(240,130,40)" stroke-width="2.4" stroke-linecap="round"/>
<ellipse cx="240" cy="181" rx="8" ry="3" fill="rgb(240,130,40)"/>
<path d="M234 183h0m2 0h0m6-3h0m4 3h0" stroke="rgb(34,114,178)" stroke-width="2.2" stroke-linecap="round"/>
<path d="M265 204C266 201 269.2 197.8 272 196C274.8 194.2 279 192.7 282 193C285 193.3 288.4 195.2 290 198C291.6 200.8 292.1 206.5 291.4 210C290.7 213.5 288.9 217.3 286 219C283.1 220.7 277.3 221.2 274 220.4C270.7 219.6 267.5 216.7 266 214C264.5 211.3 264 207 265 204Z" fill="rgb(34,114,178)"/>
<path d="M278 195h0m-4 2h0m3 0h0m3 3h0m-5 4h0m3 3h0m-8 5h0m7-4h0m5 2h0m-5 7h0m2-4h0m0 4h0m2-3h0m2 2h0m0 1h0m3-1h0" stroke="rgb(240,130,40)" stroke-width="2.4" stroke-linecap="round"/>
<ellipse cx="278" cy="214" rx="7" ry="4" fill="rgb(240,130,40)"/>
<path d="M271 215h0m3-2h0m2 4h0m0-3h0m2 0h0m0 2h0m3 1h0m0-2h0" stroke="rgb(34,114,178)" stroke-width="2.2" stroke-linecap="round"/>
<ellipse cx="252.5" cy="226.5" rx="5" ry="2.5" fill="rgb(34,114,178)" transform="rotate(-25 252.5 226.5)"/>
<path d="M180 194h0m4 1h0m-6 1h0m6 4h0m-6 9h0m1-1h0m6-1h0m-3 12h0m0 1h0m-2 9h0" stroke="rgb(34,114,178)" stroke-width="2.4" stroke-linecap="round"/>
<path d="M19 256C20 254.3 23.5 253.2 26 253C28.5 252.8 31.3 253.8 34 254.5C36.7 255.2 41 255.4 42 257C43 258.6 42 262.5 40 264C38 265.5 33.3 266.2 30 266C26.7 265.8 21.8 264.7 20 263C18.2 261.3 18 257.7 19 256Z" fill="rgb(34,114,178)"/>
<path d="M20 257h0m15 4h0m5 0h0m0 0h0m-7 0h0m1 2h0" stroke="rgb(240,130,40)" stroke-width="2.4" stroke-linecap="round"/>
<ellipse cx="30" cy="259" rx="5" ry="3" fill="rgb(240,130,40)"/>
<path d="M28 259h0m3-1h0m1 0h0m0 1h0m0-2h0m1 0h0m0 4h0m0 0h0" stroke="rgb(34,114,178)" stroke-width="2.2" stroke-linecap="round"/>
<path d="M65.8 280.2C67.7 276.8 71.1 273.3 75.2 270.8C79.3 268.3 85.2 265.7 90.2 265.1C95.2 264.5 101.2 265.1 105.3 267C109.4 268.9 112.8 272.3 114.7 276.4C116.6 280.5 116.8 286.7 116.5 291.4C116.2 296.1 115.3 300.8 112.8 304.6C110.3 308.4 105.3 311.8 101.5 314C97.7 316.2 94.3 318 90.2 317.7C86.1 317.4 80.8 314.6 77.1 312.1C73.3 309.6 69.9 306.1 67.7 302.7C65.5 299.2 64.2 295.1 63.9 291.4C63.6 287.6 63.9 283.6 65.8 280.2Z" fill="rgb(34,114,178)"/>
<path d="M91 266h0m-9 4h0m4 0h0m3-2h0m13 2h0m5-1h0m-33 6h0m0 0h0m14 1h0m6 3h0m4-3h0m4 2h0m0-3h0m3 2h0m0-4h0m8 4h0m-19 3h0m0 0h0m1 3h0m1-2h0m10-1h0m-25 8h0m14-2h0m2 1h0m8 1h0m1 1h0m3 2h0m3-2h0m3 1h0m-48 5h0m14 2h0m2-2h0m0 0h0m2-3h0m1 4h0m3 0h0m18-1h0m3-2h0m-41 5h0m4 4h0m10-3h0m1 2h0m3 0h0m9 0h0m1 1h0m-23 3h0m3 0h0m3-2h0m4 3h0m9 1h0m8 2h0m8-1h0m-23 4h0m2 3h0m0-1h0m5-3h0m1 1h0m1 2h0m1-2h0m2 2h0m2-1h0m1-3h0" stroke="rgb(240,130,40)" stroke-width="2.4" stroke-linecap="round"/>
<path d="M72 283C73.8 279.2 77.7 274.2 82 272C86.3 269.8 93.3 269 98 270C102.7 271 107.7 274.3 110 278C112.3 281.7 112.7 287.5 112 292C111.3 296.5 109.3 302 106 305C102.7 308 96.7 310 92 310C87.3 310 81.5 307.5 78 305C74.5 302.5 72 298.7 71 295C70 291.3 70.2 286.8 72 283Z" fill="rgb(240,130,40)"/>
<path d="M81 276h0m1-1h0m7 1h0m2 1h0m6-1h0m3 2h0m-25 5h0m2-2h0m4 3h0m9 0h0m9-2h0m-22 6h0m5-2h0m16 0h0m7 3h0m-23 4h0m18-1h0m6 3h0m-11 5h0m8-2h0" stroke="rgb(34,114,178)" stroke-width="2.2" stroke-linecap="round"/>
<path d="M114.7 257.6C116.3 252.9 119.4 244 122.2 240.7C125 237.4 128.8 237.3 131.6 237.9C134.4 238.5 138.2 241.1 139.1 244.4C140 247.7 137.8 253.5 137.2 257.6C136.6 261.7 133.4 267.3 135.3 268.9C137.2 270.5 145.1 268.6 148.5 267C151.9 265.4 154.4 263.6 156 259.5C157.6 255.4 155.7 246.8 157.9 242.6C160.1 238.4 163.9 235 169.2 234.1C174.5 233.2 186.2 235.2 189.8 236.9C193.4 238.6 192.4 241.9 190.8 244.4C189.2 246.9 181 249.8 180.5 252C180 254.2 187.1 254.2 188 257.6C188.9 261 188 268.5 186.1 272.6C184.2 276.7 180.1 280.4 176.7 282C173.2 283.6 169.2 280.4 165.4 282C161.6 283.6 159.1 289.8 154.1 291.4C149.1 293 140.6 292.6 135.3 291.4C130 290.1 126 287.6 122.2 283.9C118.5 280.1 114 273.3 112.8 268.9C111.5 264.5 113.1 262.3 114.7 257.6Z" fill="rgb(34,114,178)"/>
<path d="M182 236h0m-60 6h0m5-2h0m8 1h0m33-1h0m1-3h0m14 0h0m-62 10h0m12-1h0m1 0h0m1 2h0m2 0h0m24 0h0m4-2h0m2-1h0m1 0h0m3-1h0m9 4h0m4-1h0m-64 4h0m5 2h0m7 0h0m30 2h0m1-6h0m3 1h0m3 1h0m4 2h0m3 1h0m0-1h0m2 0h0m3-4h0m-63 7h0m9 3h0m5-1h0m2 3h0m2-4h0m25 4h0m9-4h0m11 2h0m-64 5h0m3 1h0m4 2h0m2-5h0m4 1h0m23 1h0m3-2h0m2 2h0m2-2h0m12-1h0m5 3h0m1 0h0m0 0h0m6-3h0m3 1h0m-73 6h0m8 0h0m15 3h0m3 2h0m2-5h0m15 3h0m19-3h0m2 1h0m8 1h0m-64 5h0m5 3h0m1-3h0m8 3h0m2-3h0m5 2h0m4-1h0m14-1h0m9 2h0m4-2h0m7 0h0m-54 7h0m5-1h0m27 2h0m2 0h0m-26 8h0m3-5h0m3 5h0m3-3h0m3 2h0m8-3h0" stroke="rgb(240,130,40)" stroke-width="2.4" stroke-linecap="round"/>
<path d="M122 280C123.7 277.7 130.3 273.7 135 272C139.7 270.3 145.8 271 150 270C154.2 269 157.5 265 160 266C162.5 267 165.8 272.3 165 276C164.2 279.7 159.5 285.8 155 288C150.5 290.2 143 289.3 138 289C133 288.7 127.7 287.5 125 286C122.3 284.5 120.3 282.3 122 280Z" fill="rgb(240,130,40)"/>
<path d="M153 273h0m8-4h0m-22 4h0m0 6h0m2-2h0m2-1h0m4 0h0m1-1h0m7 4h0m-12 9h0m13-2h0m0 0h0" stroke="rgb(34,114,178)" stroke-width="2.2" stroke-linecap="round"/>
<ellipse cx="178" cy="258" rx="5" ry="9" fill="rgb(240,130,40)"/>
<path d="M175 254h0m4-3h0m3 4h0m-8 4h0m3 1h0m1-2h0m1 0h0m1-2h0m-3 10h0m0-1h0m1 2h0m3-3h0" stroke="rgb(34,114,178)" stroke-width="2.2" stroke-linecap="round"/>
<ellipse cx="127" cy="248" rx="4" ry="6" fill="rgb(240,130,40)"/>
<path d="M124 246h0m0-1h0m0 1h0m2 3h0m1-6h0m1 5h0m2-1h0m1 1h0m-4 1h0m0 3h0m1 1h0m2-3h0" stroke="rgb(34,114,178)" stroke-width="2.2" stroke-linecap="round"/>
<path d="M112 305C113.8 301.7 118 297.6 122 296C126 294.4 131.3 294.9 136 295.2C140.7 295.5 147 296.4 150 298C153 299.6 154.7 302.7 154 305C153.3 307.3 148 309.2 146 312C144 314.8 143 317.7 142 322C141 326.3 141.3 334 140 338C138.7 342 136 345.7 134 346C132 346.3 129.3 343.5 128 340C126.7 336.5 127.7 328 126 325C124.3 322 120.5 323.5 118 322C115.5 320.5 112 318.8 111 316C110 313.2 110.2 308.3 112 305Z" fill="rgb(34,114,178)"/>
<path d="M121 297h0m1 0h0m6 2h0m7 2h0m3-4h0m6 4h0m-29 3h0m1-1h0m2 6h0m1-5h0m2 0h0m5 4h0m0-3h0m14 0h0m2 1h0m-23 4h0m11 5h0m4 0h0m2-2h0m4 0h0m2 0h0m2-1h0m2-1h0m-25 4h0m12 6h0m3-5h0m-6 11h0m2-4h0m6 3h0m-9 9h0m3 0h0m1 2h0m4-1h0m-5 7h0m2 3h0" stroke="rgb(240,130,40)" stroke-width="2.4" stroke-linecap="round"/>
<ellipse cx="134" cy="310" rx="6" ry="6" fill="rgb(240,130,40)"/>
<path d="M129 307h0m4-1h0m1 1h0m4-1h0m-8 6h0m2 1h0m1 1h0m0 2h0" stroke="rgb(34,114,178)" stroke-width="2.2" stroke-linecap="round"/>
<ellipse cx="130" cy="326" rx="4" ry="5" fill="rgb(240,130,40)"/>
<path d="M129 323h0m1 3h0m1-2h0m0-1h0m1 1h0m1 3h0m-5 2h0m1-1h0" stroke="rgb(34,114,178)" stroke-width="2.2" stroke-linecap="round"/>
<path d="M165.4 299C168.5 296.2 174.6 293.1 180.5 291.4C186.4 289.7 197 287.3 201.1 288.6C205.2 289.9 203.5 295.4 204.9 299C206.3 302.6 209.6 305.8 209.6 310.2C209.6 314.6 206.9 322.3 204.9 325.3C202.9 328.3 200.5 328.7 197.4 328.1C194.3 327.5 189.2 323.2 186.1 321.5C183 319.8 181.4 318.6 178.6 317.7C175.8 316.8 172 317.5 169.2 315.9C166.4 314.3 162.3 311.1 161.7 308.3C161.1 305.5 162.3 301.8 165.4 299Z" fill="rgb(34,114,178)"/>
<path d="M198 290h0m-18 2h0m12 4h0m0 0h0m6-4h0m-33 11h0m3-3h0m9-2h0m11 0h0m5 4h0m2-4h0m1 1h0m6 4h0m-27 2h0m1-1h0m3 4h0m3 1h0m10-3h0m3-2h0m12 1h0m-40 6h0m7-1h0m3 5h0m4 0h0m21-4h0m1 2h0m5 1h0m-25 2h0m12 4h0m2-3h0m5 2h0m3 0h0m1-3h0m-9 5h0m1 0h0m6 2h0" stroke="rgb(240,130,40)" stroke-width="2.4" stroke-linecap="round"/>
<ellipse cx="190" cy="296" rx="5" ry="4" fill="rgb(240,130,40)"/>
<path d="M186 297h0m1-3h0m1-1h0m1 1h0m1 2h0m4-1h0m-6 4h0m4-2h0" stroke="rgb(34,114,178)" stroke-width="2.2" stroke-linecap="round"/>
<ellipse cx="196" cy="318" rx="6" ry="4" fill="rgb(240,130,40)"/>
<path d="M191 316h0m0 0h0m1 3h0m2 2h0m0-5h0m3 4h0m0-2h0m2 3h0" stroke="rgb(34,114,178)" stroke-width="2.2" stroke-linecap="round"/>
<ellipse cx="164" cy="318" rx="6" ry="1.5" fill="rgb(34,114,178)"/>
<path d="M177 336C178 333.8 181.8 331 184 331C186.2 331 188.3 333.5 190 336C191.7 338.5 193.1 342.7 194 346C194.9 349.3 196.5 353.3 195.5 356C194.5 358.7 190.9 361.2 188 362C185.1 362.8 180.3 362.7 178 361C175.7 359.3 173.9 354.8 173.9 352C173.9 349.2 177.5 346.7 178 344C178.5 341.3 176 338.2 177 336Z" fill="rgb(34,114,178)"/>
<path d="M179 335h0m3 1h0m1 1h0m1-2h0m4 4h0m-10 12h0m3-5h0m13 5h0m-18 2h0m2 2h0m0-2h0m14 1h0m-5 6h0" stroke="rgb(240,130,40)" stroke-width="2.4" stroke-linecap="round"/>
<ellipse cx="186" cy="348" rx="6" ry="7" fill="rgb(240,130,40)"/>
<path d="M184 344h0m-2 1h0m2 4h0m2-1h0m1 2h0m3 1h0m0-6h0m-6 8h0" stroke="rgb(34,114,178)" stroke-width="2.2" stroke-linecap="round"/>
</g>
<path d="M34 373.7V296M34 373.7H102" class="ax"/>
<path d="M34 289l-5 10h10zM109 373.7l-10 -5v10z" fill="#000"/>
<text x="21.5" y="368" font-size="20" textLength="71" lengthAdjust="spacingAndGlyphs" transform="rotate(-90 21.5 368)">UMAP2</text>
<text x="33.5" y="398.6" font-size="20" textLength="69.5" lengthAdjust="spacingAndGlyphs">UMAP1</text>
<circle cx="53.3" cy="452" r="8.5" fill="rgb(34,114,178)"/>
<text x="72" y="455.3" font-size="28.5" textLength="132" lengthAdjust="spacingAndGlyphs">Macaque</text>
<circle cx="53.3" cy="490.5" r="8.5" fill="rgb(240,130,40)"/>
<text x="72" y="501.7" font-size="28.5" textLength="98" lengthAdjust="spacingAndGlyphs">Mouse</text>
<path d="M373.2 64.4C373.5 63.5 376.8 60.1 377.6 59.4C378.4 58.7 381.6 56.5 382.6 56.3C383.6 56.1 389 56.4 390.1 56.9C391.2 57.4 395.5 62.2 396.4 62.5C397.3 62.8 400.3 60.2 401.4 60C402.5 59.8 408 60.2 409.5 60C411 59.8 417.3 58.2 418.9 58.1C420.5 58 427 58.4 428.3 58.8C429.6 59.2 433.2 61.6 434 62.5C434.8 63.4 437.7 68.8 438.3 70.1C438.9 71.4 440.7 76.7 440.9 78.2C441.1 79.7 441.2 86.3 440.9 87.6C440.6 88.9 438.2 92.9 437.7 93.9C437.2 94.9 435.5 99.1 435.2 100.1C434.9 101.1 434.6 105 434 105.8C433.4 106.6 429.2 108.9 428.3 109.5C427.4 110.1 423.2 111.8 422.7 112.7C422.2 113.6 422.4 120 422.1 120.8C421.8 121.6 419.5 122.9 418.9 122.7C418.3 122.5 415.3 120.3 415.2 118.9C415.1 117.5 417.3 108.7 417.7 106.4C418.1 104.1 419.9 92.5 419.5 91.4C419.1 90.3 413.1 92 412.7 93.2C412.3 94.5 415.1 104.3 415.2 106.4C415.3 108.5 414.4 117.1 414.5 118.9C414.6 120.7 416.6 127.4 415.8 128.3C415 129.2 405.7 131 405.1 130.2C404.5 129.4 408 120.6 408.3 118.9C408.6 117.2 409.1 110.8 408.9 109.5C408.7 108.2 407.1 104.4 406.4 103.3C405.7 102.2 401.1 97.2 400.1 96.4C399.1 95.6 394.9 94.4 393.9 93.9C392.9 93.4 389.1 90.4 388.2 90.7C387.3 91 383.6 96.1 382.6 97.6C381.6 99.1 377.4 106.8 376.3 108.3C375.2 109.8 369.6 114.6 368.8 115.8C368 117 366.7 120.9 366.3 122.1C365.9 123.3 365 129.4 364.4 130.2C363.8 131 359.9 131.9 359.4 131.5C358.9 131.1 357.9 126.5 358.1 125.2C358.3 123.9 360.5 117 361.3 115.8C362.1 114.5 366.6 111.5 367.5 110.2C368.4 108.9 371.9 101.9 372.6 100.1C373.3 98.3 376 90.6 376.3 88.8C376.6 87 376.5 79.7 376.3 78.2C376.1 76.7 374.7 71.9 374.4 70.7C374.1 69.5 372.9 65.3 373.2 64.4Z" fill="#0a0a0a"/>
<g filter="url(#sc)">
<path d="M402 160C403.3 156.5 408.3 155 412 154C415.7 153 421 154.7 424 154C427 153.3 427.3 153.7 430 150C432.7 146.3 437.3 136.2 440 132C442.7 127.8 445.3 124.7 446 125C446.7 125.3 446.3 128.5 444 134C441.7 139.5 434.3 152 432 158C429.7 164 430.7 164.7 430 170C429.3 175.3 429.3 186 428 190C426.7 194 424.7 194.7 422 194C419.3 193.3 415 189.2 412 186C409 182.8 405.7 179.3 404 175C402.3 170.7 400.7 163.5 402 160Z" fill="rgb(132,130,52)"/>
<path d="M442 136h0m-27 20h0m2-1h0m8-1h0m-11 17h0m8 21h0" stroke="#fff" stroke-width="3.4" stroke-linecap="round"/>
<path d="M493.6 129C495.4 126.5 500.2 123.2 505.3 121.6C510.4 120 518.1 119.2 524.5 119.5C530.9 119.8 538.2 121.9 543.7 123.7C549.2 125.5 555.4 125.8 557.5 130.1C559.6 134.4 557.8 144 556.5 149.3C555.2 154.6 551.4 157.1 550 162C548.6 166.9 548.7 174.6 548 179C547.3 183.4 548.3 188 545.8 188.7C543.3 189.4 538 186.4 533 183.4C528 180.4 521.3 174.9 516 170.6C510.7 166.3 504.2 161.4 501 157.8C497.8 154.2 497.9 152.9 496.8 149.3C495.8 145.8 495.2 139.9 494.7 136.5C494.2 133.1 491.8 131.5 493.6 129Z" fill="rgb(17,97,57)"/>
<path d="M506 125h0m-11 8h0m40 7h0m-5 4h0m0 3h0m-16 4h0m23-1h0m17 3h0m-34 3h0m-7 3h0m4 1h0m20 2h0" stroke="#fff" stroke-width="3.4" stroke-linecap="round"/>
<path d="M553.3 81.1C554 79.7 561.3 77.1 565 78C568.7 78.9 572.5 85.5 575.7 86.5C578.9 87.5 580.7 85.2 584.2 84.3C587.8 83.4 592.8 82.1 597 81.1C601.2 80 604 78.2 609.7 78C615.4 77.8 626.7 78 631 80C635.3 82 634.8 86.3 635.3 89.7C635.8 93.1 634.2 96.4 634.2 100.3C634.2 104.2 637.2 110.5 635.3 113C633.3 115.5 627.5 115.4 622.5 115.2C617.5 115 611.2 112.2 605.5 112C599.8 111.8 592.7 114.3 588.4 114.1C584.1 113.9 581.5 113.3 579.9 111C578.3 108.7 580.2 103.1 578.8 100.3C577.4 97.5 574.4 96.3 571.4 94C568.4 91.7 563.7 88.7 560.7 86.5C557.7 84.3 552.6 82.5 553.3 81.1Z" fill="rgb(132,116,48)"/>
<path d="M602 81h0m-39 4h0m22-1h0m30-2h0m-18 5h0m-4 12h0m33-1h0m-28 7h0m37 0h0m-46 5h0" stroke="#fff" stroke-width="3.4" stroke-linecap="round"/>
<ellipse cx="619" cy="170" rx="30" ry="22" fill="rgb(234,40,128)" transform="rotate(-10 619 170)"/>
<path d="M624 157h0m8 1h0m-27 6h0m-4 2h0m5 0h0m23 2h0m-33 5h0m41-1h0m1 2h0m3-2h0m-38 6h0m8 0h0m10 2h0m7 0h0" stroke="#fff" stroke-width="3" stroke-linecap="round"/>
<path d="M695 126C696.3 123.5 698.8 121.7 702 121C705.2 120.3 710.8 120.5 714 122C717.2 123.5 720.2 126.7 721 130C721.8 133.3 720.8 139.3 719 142C717.2 144.7 712.7 144.3 710 146C707.3 147.7 704.7 149.7 703 152C701.3 154.3 701 160.3 700 160C699 159.7 698 154 697 150C696 146 694.3 140 694 136C693.7 132 693.7 128.5 695 126Z" fill="rgb(196,92,70)"/>
<path d="M712 131h0m-13 7h0m0 5h0m3 5h0" stroke="#fff" stroke-width="3.4" stroke-linecap="round"/>
<path d="M728 159h0m1-1h0m4-1h0m1-3h0m1 0h0m0 2h0m3-2h0m2 4h0m1-1h0m-24 8h0m1-1h0m3 0h0m2-2h0m3 2h0m1-4h0m2 4h0m1 0h0m3-3h0m0-1h0m1 4h0m1-3h0m0 4h0m2 0h0m1-3h0m1-2h0m1 0h0m-27 10h0m2-1h0m1 0h0m0-2h0m4 4h0m0-5h0m1 3h0m1 1h0m1-2h0m0-2h0m2 4h0m1-4h0m2 4h0m1 0h0m1-3h0m1-1h0m0 5h0m2-3h0m0-1h0m1 1h0m0 2h0m2-1h0m1-2h0m-32 8h0m0 1h0m1-3h0m4-1h0m0 1h0m4 1h0m2-3h0m2 3h0m0 0h0m0 3h0m1-5h0m1 5h0m2-6h0m0 0h0m0 6h0m3 0h0m1-3h0m1 1h0m0 1h0m1 1h0m2-4h0m0 1h0m1 3h0m0-5h0m1 1h0m0-1h0m-33 10h0m2-2h0m0-1h0m2 1h0m2 1h0m1-3h0m0 3h0m1-2h0m2 0h0m1 2h0m1-1h0m0 3h0m0-4h0m2 3h0m0 1h0m1-3h0m0-3h0m4 3h0m0-2h0m1 4h0m3-1h0m1 0h0m0-1h0m1 1h0m3 0h0m2-2h0m1 2h0m1-3h0m0 5h0m0-5h0m0 3h0m1-2h0m3 0h0m2 0h0m1 0h0m2 2h0m1-1h0m0 0h0m1 3h0m2-3h0m1 0h0m3 3h0m0-1h0m2-2h0m3 3h0m-53 0h0m1 4h0m0-1h0m0 1h0m0-3h0m1-1h0m1 5h0m0-4h0m1 5h0m1-3h0m0 1h0m1 2h0m1 0h0m0-3h0m0 0h0m1 0h0m1 3h0m1-6h0m2 0h0m1 6h0m3-1h0m4-3h0m1 0h0m0-1h0m2 0h0m1 1h0m2 1h0m0-2h0m1 4h0m0-3h0m3 1h0m3-1h0m0 1h0m1 0h0m2 2h0m1-1h0m0 1h0m1-4h0m0 3h0m2-1h0m1 2h0m0-3h0m1 2h0m3-3h0m0 2h0m1-2h0m2 2h0m1 0h0m4 2h0m0-4h0m1 5h0m0-1h0m0-3h0m3 1h0m0-3h0m2 3h0m0 2h0m1-4h0m-59 10h0m1-1h0m6 0h0m0-2h0m1 2h0m1 1h0m1-2h0m1-2h0m0 2h0m1-3h0m0 5h0m2-2h0m0 2h0m1-4h0m2-1h0m0 5h0m2 0h0m0-3h0m0 0h0m1 3h0m1-3h0m0-2h0m1 3h0m3-2h0m0 4h0m0-2h0m2 0h0m0 0h0m1 3h0m1-2h0m2-2h0m1 1h0m0-1h0m1 2h0m1-2h0m1 2h0m2 2h0m0-4h0m1 3h0m0-2h0m1-3h0m1 3h0m2-2h0m2 3h0m0 0h0m1-3h0m1 4h0m3-3h0m0 1h0m1 0h0m0-1h0m0 0h0m1 1h0m1-1h0m2-1h0m0-1h0m2 0h0m0 4h0m2-2h0m-52 4h0m2 1h0m1 0h0m1 1h0m0-1h0m0-1h0m1 1h0m1 1h0m1 0h0m0 0h0m3-1h0m1 1h0m1 1h0m1 0h0m1 0h0m2-3h0m0 3h0m1-3h0m1 1h0m1 3h0m1-2h0m1-2h0m0 2h0m1 0h0m0-1h0m0 1h0m1 2h0m1 1h0m3-4h0m1 4h0m1-5h0m0 3h0m0-1h0m2 3h0m1-4h0m1 1h0m0 4h0m3-5h0m1 4h0m0-2h0m2 3h0m1-4h0m0 3h0m1-4h0m1 0h0m1 1h0m0 2h0m4-2h0m4 0h0m-17 4h0m7 0h0" stroke="rgb(168,168,48)" stroke-width="3.4" stroke-linecap="round"/>
<path d="M700 183h0m1-1h0m0 1h0m2-1h0m0-1h0m1 1h0m0 1h0m1-1h0m0-2h0m1 0h0m1 2h0m0 1h0m0-3h0m1 0h0m1 1h0m0-1h0m1 0h0m1 3h0m2-4h0m0 0h0m0 1h0m1 2h0m0-3h0m0 3h0m4-3h0m2 1h0m1 1h0m0 0h0m4-1h0m0 2h0m0-2h0m0 1h0m2 0h0m1 1h0m1 0h0m1-2h0m3 2h0m1 0h0m2 1h0m2-1h0m0 0h0m4 1h0m-41 5h0m0-5h0m0 3h0m0 2h0m3-3h0m1-1h0m0 3h0m2 1h0m0-5h0m1 0h0m1 6h0m1-2h0m1-3h0m1-1h0m0 0h0m0 0h0m0 1h0m1 2h0m0 1h0m1 0h0m0 1h0m0 0h0m0-2h0m0-3h0m0 4h0m1-1h0m0-2h0m0 4h0m0-3h0m2 1h0m0-2h0m0-1h0m1 4h0m1 0h0m0 0h0m0 2h0m1-4h0m1 3h0m0-4h0m1 2h0m2 1h0m2-2h0m1 1h0m1-3h0m2 5h0m2-4h0m1 5h0m1-1h0m2 0h0m1 0h0m1 1h0m0 0h0m1-5h0m1 3h0m0 1h0m0-5h0m0 3h0m2-2h0m0 1h0m0 1h0m1 0h0m1-2h0m3 4h0m3-2h0m-49 3h0m4 1h0m0 0h0m1 0h0m0 5h0m2 0h0m0 0h0m1-1h0m0-3h0m1 2h0m1 2h0m0-2h0m0 1h0m0 0h0m0-1h0m1-1h0m0-2h0m1 2h0m0-1h0m1 1h0m0 3h0m1 0h0m0-2h0m1 1h0m2-3h0m1 3h0m1-2h0m1 1h0m0 0h0m0-4h0m2 3h0m1-1h0m0-2h0m2 4h0m0-3h0m1 3h0m1-2h0m1 0h0m1-1h0m0 2h0m1 0h0m1 1h0m1 0h0m1-1h0m0 3h0m1-2h0m0-1h0m1 1h0m1 1h0m0-1h0m0-2h0m1-1h0m0 0h0m0 0h0m0 4h0m1 1h0m0-2h0m0 0h0m1 0h0m0-2h0m2 0h0m0 2h0m0 2h0m1-6h0m0 1h0m0 4h0m3-5h0m0 6h0m1 0h0m1-4h0m0 4h0m1 0h0m1 0h0m2-6h0m1 6h0m1-5h0m0 1h0m0 3h0m0-4h0m1 0h0m0 4h0m1-2h0m0 0h0m0 1h0m1-1h0m-48 3h0m12 2h0m3 0h0m0 0h0m1-1h0m3-1h0m2 3h0m1 0h0m1-3h0m2 3h0m2-1h0m2 0h0m0-1h0m0 0h0m1 0h0m1 2h0m1 0h0m0 0h0m1-2h0m2 0h0m1 1h0m1-2h0m0 2h0m1-1h0m1-1h0m1 1h0" stroke="rgb(168,168,48)" stroke-width="3.4" stroke-linecap="round"/>
<path d="M705 158h0m2-3h0m-9 5h0m0 1h0m1 4h0m5-5h0m4 2h0m0 1h0m-9 3h0m6 2h0m6-3h0m-14 10h0m3-4h0m-4 9h0m12-2h0m-7 8h0m5 0h0m2-1h0m2 6h0m-3 4h0" stroke="rgb(168,168,48)" stroke-width="3.2" stroke-linecap="round"/>
<path d="M586 236C586.7 232.3 589 228.3 592 226C595 223.7 600.3 221.7 604 222C607.7 222.3 611.7 225 614 228C616.3 231 618.3 236 618 240C617.7 244 615.3 249.5 612 252C608.7 254.5 602 255.7 598 255C594 254.3 590 251.2 588 248C586 244.8 585.3 239.7 586 236Z" fill="rgb(240,160,130)"/>
<path d="M601 230h0m6-1h0m-19 6h0m21 4h0" stroke="#fff" stroke-width="3.4" stroke-linecap="round"/>
<path d="M650 232C650.7 229.5 653 226.7 656 225C659 223.3 664.5 221.5 668 222C671.5 222.5 675.7 225 677 228C678.3 231 678.2 237.7 676 240C673.8 242.3 668 242 664 242C660 242 654.3 241.7 652 240C649.7 238.3 649.3 234.5 650 232Z" fill="rgb(125,35,30)"/>
<path d="M659 232h0m10 5h0" stroke="#fff" stroke-width="3.4" stroke-linecap="round"/>
<path d="M672 246C674.3 245.7 680 248.3 684 250C688 251.7 694.3 254 696 256C697.7 258 696.3 261.7 694 262C691.7 262.3 686 259.7 682 258C678 256.3 671.7 254 670 252C668.3 250 669.7 246.3 672 246Z" fill="rgb(125,35,30)"/>
<path d="M479 240C482.4 237.2 490.5 231.8 497.7 230.7C504.9 229.6 514.1 231.9 522.2 233.5C530.4 235.1 540.3 236.1 546.6 240C552.9 243.9 556 251.7 559.8 257C563.6 262.3 568.6 267.3 569.2 272C569.8 276.7 565.1 280.8 563.5 285.2C561.9 289.6 563.2 294.6 559.8 298.3C556.4 302.1 547 303.6 542.9 307.7C538.8 311.8 539.1 318.4 535.3 322.8C531.5 327.2 524 332.4 520.3 334C516.5 335.6 515.3 334.1 512.8 332.2C510.3 330.3 508.4 325.6 505.3 322.8C502.2 320 498.4 317.2 494 315.3C489.6 313.4 484 313.4 479 311.5C474 309.6 469 307.1 464 304C459 300.9 450.5 296.5 448.9 292.7C447.3 288.9 451.4 284.8 454.5 281.4C457.6 277.9 464.2 275.1 467.7 272C471.1 268.9 473.6 266.7 475.2 262.6C476.8 258.5 476.4 251.4 477 247.6C477.6 243.8 475.6 242.8 479 240Z" fill="rgb(116,69,162)"/>
<path d="M479 241h0m15 1h0m29 0h0m14 2h0m4 1h0m8 3h0m1-3h0m-60 5h0m48 1h0m7 3h0m-55 2h0m32 5h0m25-4h0m-72 9h0m25 0h0m14-1h0m9-3h0m25 4h0m4-2h0m11 0h0m-82 4h0m13-1h0m10 5h0m24-2h0m-64 9h0m30-2h0m21 1h0m27-2h0m-62 3h0m-11 7h0m84 4h0m-55 6h0m6 0h0m26 2h0m-50 9h0m25-2h0m31 4h0m-46 3h0m9 4h0m23 8h0" stroke="#fff" stroke-width="3" stroke-linecap="round"/>
<path d="M536 273h0m1-1h0m0 0h0m0 0h0m3 1h0m0 0h0m0-1h0m2-3h0m0 2h0m2 0h0m2 0h0m1 0h0m0 1h0m0 1h0m0-1h0m1 0h0m2 1h0m0-6h0m0 0h0m0 4h0m1 2h0m2-2h0m1-2h0m1 1h0m0 2h0m1 0h0m0 1h0m1-2h0m1 1h0m1 0h0m-24 6h0m1-4h0m0 2h0m1 0h0m0-3h0m2 4h0m0-4h0m0 2h0m1 1h0m0 2h0m2 0h0m0-4h0m2 4h0m1-2h0m1-2h0m0-1h0m0 6h0m0-4h0m1 0h0m1 0h0m0 3h0m0-4h0m1 0h0m0 4h0m1-3h0m1-2h0m2 0h0m0 5h0m1-3h0m0 1h0m1-2h0m1 2h0m0 1h0m0-1h0m1 1h0m0-1h0m1 1h0m0 0h0m0-3h0m0 2h0m0 3h0m1-2h0m3-1h0m-29 8h0m1-4h0m2 2h0m0 1h0m2-4h0m1 4h0m1-1h0m1-2h0m1 3h0m1-1h0m1 1h0m0-3h0m1 1h0m0-2h0m0 2h0m1 1h0m0 1h0m1-3h0m0 0h0m2 0h0m1 0h0m0 3h0m0 0h0m1 1h0m1-4h0m0-1h0m1 3h0m1 2h0m0-1h0m4-2h0m2 4h0m1 0h0m0-3h0m1 1h0m1 2h0m1-2h0m0-1h0m-32 4h0m0 5h0m1-4h0m0 1h0m0 1h0m1-3h0m0 1h0m0 0h0m2 3h0m0-5h0m0 2h0m1-1h0m0 1h0m0 2h0m1-1h0m0 2h0m4-3h0m1 1h0m2 1h0m0-1h0m1 2h0m0-3h0m1-1h0m0 1h0m0 0h0m2-1h0m2 3h0m0-4h0m1 5h0m0-2h0m1 1h0m1-2h0m2 2h0m2-1h0m2 3h0m1-5h0m1 3h0m0 0h0m1-3h0m0 4h0m2-1h0m-31 4h0m0 3h0m1 1h0m1-5h0m0 3h0m0-1h0m1-3h0m2 6h0m1-6h0m2 1h0m0 4h0m1-1h0m0 1h0m0-4h0m0-1h0m0 2h0m0 2h0m1-1h0m0 1h0m0-4h0m1 4h0m0-1h0m0-3h0m1 5h0m2-2h0m2 0h0m0 2h0m1 0h0m0-2h0m3 1h0m1-3h0m0 3h0m0 2h0m0-1h0m1 1h0m0-4h0m0 3h0m0 0h0m2-2h0m0 0h0m1 0h0m1-1h0m0 3h0m0-2h0m0-2h0m1-1h0m1 5h0m0-4h0m0 3h0m0-4h0m1 2h0m0 1h0m1 1h0m0-2h0m-28 4h0m0 4h0m1-1h0m2 0h0m1 2h0m0-1h0m2 1h0m0-5h0m0 3h0m0-2h0m1 4h0m0 1h0m2-1h0m1-3h0m1 3h0m0-2h0m1 3h0m1-3h0m1-3h0m1 3h0m0-1h0m0 1h0m1-1h0m2 1h0m2 1h0m1 1h0m1-2h0m0-3h0m2 2h0m1-2h0m1 2h0m0 0h0m0-1h0m-19 7h0m0-1h0m0-1h0m0 3h0m0-2h0m0 1h0m0-1h0m1 0h0m1 1h0m0 0h0m0-2h0m1 3h0m2-1h0m0-1h0m0 0h0m2 0h0m0-1h0m1 3h0m0 0h0m0-3h0m3 1h0m1 0h0" stroke="rgb(170,45,115)" stroke-width="3.4" stroke-linecap="round"/>
<path d="M548 265h0m3-2h0m1 1h0m1-1h0m1 3h0m4 0h0m2 0h0m2 0h0m1 1h0m-19 3h0m5 1h0m1 1h0m1 0h0m0-2h0m2-2h0m0 4h0m2-2h0m0 0h0m1-1h0m0 1h0m0 0h0m1-2h0m1-1h0m5 2h0m0 3h0m1-3h0m3 3h0m-17 6h0m3-1h0m0 0h0m3 0h0m3-1h0m1 0h0m1 2h0m1-2h0m1 1h0m-13 4h0m1-1h0m9 1h0m1-1h0" stroke="rgb(160,60,140)" stroke-width="3.2" stroke-linecap="round"/>
<path d="M514 251h0m4 1h0m-16 7h0m30-1h0m18 1h0m-52 6h0m16 2h0m18-5h0m-2 11h0m1-3h0m-22 5h0m1-2h0m5 3h0m0 1h0m-8 7h0m2 0h0m2-3h0m32 1h0m-26 4h0m7 3h0" stroke="rgb(138,150,214)" stroke-width="3" stroke-linecap="round"/>
<path d="M638.7 268.3C642.5 268.6 649.1 275.1 653.8 279.5C658.5 283.9 665.4 288.6 667 294.6C668.6 300.6 666 310.3 663.2 315.3C660.4 320.3 655.3 322.8 650 324.7C644.7 326.6 635.6 324.6 631.2 326.5C626.8 328.4 626.5 336.6 623.7 336C620.9 335.4 616.8 328.8 614.3 322.8C611.8 316.8 608.3 305.8 608.6 300.2C608.9 294.6 612.4 292.8 616.2 289C620 285.2 627.5 281.1 631.2 277.7C635 274.2 634.9 268 638.7 268.3Z" fill="rgb(196,140,32)"/>
<path d="M638 288h0m2 2h0m-12 7h0m1-6h0m12 4h0m23-2h0m-50 7h0m16-2h0m8 4h0m7 4h0m5-3h0m-35 10h0m9 6h0m4 7h0m2 1h0m-9 1h0" stroke="#fff" stroke-width="3.4" stroke-linecap="round"/>
<path d="M711.7 252.4C713.8 250.1 717 250.6 721.4 251C725.8 251.4 733.8 252.8 737.9 255.1C742 257.4 744.4 261.1 746.2 264.8C748 268.5 748.9 272.4 748.9 277.2C748.9 282 747.4 289.1 746.2 293.7C745.1 298.3 744.3 302.5 742 304.8C739.7 307.1 735.1 307.5 732.4 307.5C729.6 307.5 727.3 307.1 725.5 304.8C723.7 302.5 723.7 296.7 721.4 293.7C719.1 290.7 715.2 289.3 711.7 286.8C708.2 284.3 702.5 281.1 700.7 278.6C698.9 276.1 699.3 274 700.7 271.7C702.1 269.4 707.2 268 709 264.8C710.8 261.6 709.6 254.7 711.7 252.4Z" fill="rgb(30,75,170)"/>
<path d="M720 260h0m10 1h0m2-2h0m-9 3h0m11 4h0m-9 3h0m22 2h0m-25 3h0m11 5h0m0 10h0" stroke="#fff" stroke-width="3.4" stroke-linecap="round"/>
<path d="M743.4 259.3C745.2 256.1 752.2 249.7 757.2 246.9C762.2 244.1 768.7 243.8 773.7 242.7C778.8 241.5 782.9 239.8 787.5 240C792.1 240.2 797.2 242 801.3 244.1C805.4 246.2 809.1 250.1 812.3 252.4C815.5 254.7 817.4 254.7 820.6 257.9C823.8 261.1 830.2 269.4 831.6 271.7C833 274 831.4 273.3 828.9 271.7C826.4 270.1 820.6 263.8 816.5 262C812.4 260.2 808.4 260.2 804 260.7C799.6 261.2 794.9 264.1 790.3 264.8C785.7 265.5 781.1 264.4 776.5 264.8C771.9 265.2 766.8 266.6 762.7 267.5C758.6 268.4 754.5 270.5 751.7 270.3C749 270.1 747.6 268 746.2 266.2C744.8 264.4 741.6 262.5 743.4 259.3Z" fill="rgb(110,165,222)"/>
<path d="M792 244h0m2 3h0m4-3h0m-43 6h0m21 4h0m10 6h0m17-3h0m1 0h0m12 0h0m-23 7h0" stroke="#fff" stroke-width="3.4" stroke-linecap="round"/>
<path d="M828.9 296.5C830.7 294.2 835.5 293.3 838.5 291C841.5 288.7 845.2 286.1 846.8 282.7C848.4 279.2 846.4 273.1 848.2 270.3C850 267.6 855 265.8 857.8 266.2C860.5 266.6 862.9 270.2 864.7 273C866.6 275.8 868.7 278.8 868.9 282.7C869.1 286.6 867.2 292.1 866.1 296.5C865 300.9 864.5 306.1 862 308.9C859.5 311.6 854.8 312.8 850.9 313C847 313.2 842.4 311.7 838.5 310.3C834.6 308.9 829.1 307.1 827.5 304.8C825.9 302.5 827.1 298.8 828.9 296.5Z" fill="rgb(85,140,200)"/>
<path d="M863 273h0m-5 4h0m2 2h0m-4 9h0m4 0h0m-10 7h0m-11 6h0m0 8h0" stroke="#fff" stroke-width="3.4" stroke-linecap="round"/>
<ellipse cx="806" cy="324" rx="6" ry="2.5" fill="rgb(110,165,222)" transform="rotate(-20 806 324)"/>
<path d="M652.4 340C655.4 335.3 663.5 334.7 668.5 334C673.5 333.3 676.8 335 682.5 336C688.2 337 698.6 338.3 702.6 340C706.6 341.7 708.6 344 706.6 346C704.6 348 696.2 350.3 690.5 352C684.8 353.7 677.5 353.8 672.5 356.1C667.5 358.5 664.2 365.1 660.5 366.1C656.8 367.1 651.8 366.5 650.4 362.1C649 357.8 649.4 344.7 652.4 340Z" fill="rgb(208,128,106)"/>
<path d="M586 400C587.7 394.7 594.3 391.3 600 388C605.7 384.7 613.3 382.7 620 380C626.7 377.3 634 375 640 372C646 369 652 362 656 362C660 362 663.3 367 664 372C664.7 377 662.3 385.7 660 392C657.7 398.3 655 404.7 650 410C645 415.3 637.5 420.7 630 424C622.5 427.3 611.7 430.7 605 430C598.3 429.3 593.2 425 590 420C586.8 415 584.3 405.3 586 400Z" fill="rgb(138,150,214)"/>
<path d="M651 379h0m-14 11h0m3-1h0m20-2h0m-34 9h0m32-2h0m-57 17h0m12 1h0m13 4h0m-12 1h0" stroke="#fff" stroke-width="3.4" stroke-linecap="round"/>
<path d="M599 381h0m0 0h0m4 1h0m3 2h0m6 0h0m2 3h0m5-4h0m3 1h0m2-1h0m-33 6h0m15 1h0m5-2h0m13-1h0m2 3h0m1 0h0m-36 4h0m5 3h0m1-2h0m5 1h0m3 1h0m8-1h0m1 0h0m5 1h0m-30 7h0m7-3h0m10 0h0m3 4h0m6-3h0m1 2h0m10-3h0m-21 9h0m4-1h0m6-2h0m6 4h0m1-2h0m9 0h0m-33 4h0m1-2h0m8 4h0m5-4h0" stroke="rgb(215,40,40)" stroke-width="3.2" stroke-linecap="round"/>
<path d="M620 371h0m-12 9h0m32-1h0m7 1h0m-46 7h0m10-2h0m42 0h0m-38 8h0m35-4h0m1-1h0m-39 9h0m7-2h0m9-1h0m10 3h0m1 1h0m1-5h0m-33 9h0m36 0h0m-21 8h0m11-4h0" stroke="rgb(140,52,170)" stroke-width="3" stroke-linecap="round"/>
<path d="M631 361h0m6 0h0m-2 2h0m2 1h0m4 2h0m18 3h0m-37 2h0m14 1h0m0 7h0m10 2h0" stroke="rgb(30,75,170)" stroke-width="3" stroke-linecap="round"/>
<path d="M670 380C672.7 375.7 679.3 373.3 684 372C688.7 370.7 695 369.3 698 372C701 374.7 702 382.7 702 388C702 393.3 700 399.7 698 404C696 408.3 693.7 412.7 690 414C686.3 415.3 679.7 414.7 676 412C672.3 409.3 669 403.3 668 398C667 392.7 667.3 384.3 670 380Z" fill="rgb(128,160,220)"/>
<path d="M682 373h0m-5 5h0m21 3h0m-12 9h0m-10 6h0m7 8h0" stroke="#fff" stroke-width="3.4" stroke-linecap="round"/>
<path d="M496 414.2C497.3 408.2 501 402.7 506 398.2C511 393.7 519.1 389.5 526.1 387.2C533.1 384.9 541.5 383.7 548.2 384.2C554.9 384.7 561.5 386.9 566.2 390.2C570.9 393.5 573.9 398.8 576.2 404.2C578.6 409.6 580 416.3 580.3 422.3C580.6 428.3 579.6 434.6 578.2 440.3C576.9 446 575.2 452 572.2 456.3C569.2 460.6 565.5 463.7 560.2 466.4C554.9 469.1 545.9 472.7 540.2 472.4C534.5 472.1 531.1 468.1 526.1 464.4C521.1 460.7 514.7 455.3 510 450.3C505.3 445.3 500.3 440.3 498 434.3C495.7 428.3 494.7 420.2 496 414.2Z" fill="rgb(243,175,32)"/>
<path d="M556 390h0m3 3h0m-19 3h0m-2 8h0m0-3h0m10 1h0m0-1h0m-37 6h0m6-2h0m16 4h0m12 2h0m12-2h0m14-1h0m-73 9h0m30 4h0m37 0h0m11-1h0m-71 6h0m2 0h0m-1 3h0m58 4h0m-45 8h0m3-5h0m32 0h0m-33 11h0m14 0h0m3 1h0m-20 8h0m15 9h0m13-5h0" stroke="#fff" stroke-width="3" stroke-linecap="round"/>
<path d="M530 392h0m8-2h0m2-2h0m-13 8h0m7-1h0m1 3h0m1-4h0m1 3h0m5 0h0m0 0h0m6-1h0m0-3h0m4 5h0m8-4h0m2 0h0m2 3h0m1 0h0m1 0h0m-36 4h0m1 4h0m12-6h0m5 1h0m1 0h0m2 2h0m0 2h0m1 0h0m6-5h0m1 6h0m1-1h0m7-5h0m-40 6h0m3 0h0m3 3h0m4 0h0m10 0h0m1-1h0m6-1h0m0 4h0m2-5h0m2 3h0" stroke="rgb(200,88,40)" stroke-width="3.2" stroke-linecap="round"/>
<path d="M598 458C599.7 454.2 606.7 448.3 612 447C617.3 445.7 624.3 447.5 630 450C635.7 452.5 643.3 457.7 646 462C648.7 466.3 647 472 646 476C645 480 643 484.7 640 486C637 487.3 632 485.7 628 484C624 482.3 620.3 478.3 616 476C611.7 473.7 605 473 602 470C599 467 596.3 461.8 598 458Z" fill="rgb(28,152,160)"/>
<path d="M614 447h0m-5 12h0m19-5h0m9 3h0m-35 8h0m20-3h0m0-2h0m12-1h0m-20 12h0m15-4h0m6 3h0m3 0h0m-19 8h0m12 4h0" stroke="#fff" stroke-width="3.4" stroke-linecap="round"/>
<path d="M573 482C574.3 476.5 581.3 472 586 471C590.7 470 598.2 472.2 601 476C603.8 479.8 604.2 488.8 603 494C601.8 499.2 598.2 505.3 594 507C589.8 508.7 581.5 508.2 578 504C574.5 499.8 571.7 487.5 573 482Z" fill="rgb(28,152,160)"/>
<path d="M592 473h0m-7 7h0m3 6h0m1-1h0m-13 8h0m21 0h0" stroke="#fff" stroke-width="3.4" stroke-linecap="round"/>
<path d="M604 492C606 487.7 612 484 616 484C620 484 626 487.3 628 492C630 496.7 630 507.3 628 512C626 516.7 620 520.3 616 520C612 519.7 606 514.7 604 510C602 505.3 602 496.3 604 492Z" fill="rgb(28,152,160)"/>
<path d="M613 495h0m-3 10h0m2-1h0m10 2h0m4-2h0m-1 4h0" stroke="#fff" stroke-width="3.4" stroke-linecap="round"/>
<path d="M587 463h0m0 1h0m2 1h0m7-1h0m1 0h0m0-4h0m8-1h0m3 5h0m8-2h0m3 0h0m0-2h0m3 3h0m-38 3h0m4 1h0m1 1h0m4 0h0m8 2h0m5-2h0m11-3h0m0 6h0m-26 3h0m3 0h0m3 1h0m3-1h0m3 0h0m3 2h0m4-5h0m1 2h0m3 2h0m9-1h0m-37 7h0m1-3h0m1 5h0m0-1h0m5-3h0m1 3h0m3-3h0m1 4h0m8-4h0m6 4h0m2-5h0m0 4h0m3 0h0m-27 2h0m15 4h0m6-4h0m1 1h0m1 0h0m1 3h0m5-4h0" stroke="rgb(28,152,160)" stroke-width="3" stroke-linecap="round"/>
<ellipse cx="664" cy="475" rx="11" ry="2.5" fill="rgb(28,152,160)" transform="rotate(-10 664 475)"/>
<path d="M586 444h0m15 8h0m9 0h0m12-2h0m-43 7h0m18 2h0m2-4h0m23 2h0m2-2h0m-27 8h0m29-4h0m3 0h0m-52 6h0m23 6h0m22-5h0m3 0h0m-33 7h0m1 1h0m21 3h0m7-4h0" stroke="rgb(243,175,32)" stroke-width="3" stroke-linecap="round"/>
<path d="M678.5 438.3C681.2 435 688.5 430.5 696.5 428.3C704.5 426.1 721.6 422.6 726.6 425.3C731.6 428 724.9 438.5 726.6 444.3C728.3 450.1 735.9 455.7 736.6 460.4C737.3 465.1 731.9 467.7 730.6 472.4C729.3 477.1 730.9 485.7 728.6 488.4C726.3 491.1 720.6 490.1 716.6 488.4C712.6 486.7 707.6 481.7 704.6 478.4C701.6 475.1 701.9 471.4 698.5 468.4C695.1 465.4 687.5 463.8 684.5 460.4C681.5 457 681.5 452 680.5 448.3C679.5 444.6 675.8 441.6 678.5 438.3Z" fill="rgb(55,150,78)"/>
<path d="M700 432h0m21-1h0m-10 7h0m-8 3h0m23 3h0m-27 8h0m1-1h0m6 0h0m-9 5h0m13 3h0m2-5h0m12-1h0m-11 7h0m4 9h0m16-4h0m-21 16h0" stroke="#fff" stroke-width="3.4" stroke-linecap="round"/>
<path d="M686.5 498.4C688.7 496 695.1 494 698.5 496.4C701.9 498.8 704.2 506.8 706.6 512.5C709 518.2 712.9 525.5 712.6 530.5C712.3 535.5 708 540.6 704.6 542.6C701.2 544.6 696.9 543.6 692.5 542.6C688.1 541.6 679.8 539.5 678.5 536.5C677.2 533.5 683.3 528.8 684.5 524.5C685.7 520.2 685.2 514.9 685.5 510.5C685.8 506.1 684.3 500.8 686.5 498.4Z" fill="rgb(222,100,160)"/>
<path d="M698 505h0m3 2h0m-7 0h0m6 2h0m3 3h0m-2 3h0m5 2h0m0 7h0" stroke="#fff" stroke-width="3.4" stroke-linecap="round"/>
<path d="M599 227h0m11 8h0m4 0h0m2 1h0m-40 6h0m0 0h0m13 0h0m24-2h0m3 1h0m-45 6h0m32-3h0m-1 11h0m12-1h0m-30 6h0m2-2h0m16-1h0m14 0h0m-34 7h0m6-3h0m3 2h0m6-1h0m6 1h0m1 3h0m18-2h0m-38 3h0" stroke="rgb(240,160,130)" stroke-width="3" stroke-linecap="round"/>
<path d="M564 350h0m15 2h0m20 1h0m2 0h0m-41 7h0m-8 8h0m3-1h0m35-1h0m-29 6h0m10 1h0" stroke="rgb(17,97,57)" stroke-width="2.8" stroke-linecap="round"/>
<path d="M683 269h0m4 1h0m6-2h0m-11 12h0m7 6h0m9 2h0m-6 8h0m-8 7h0m1-1h0m12 3h0m-14 5h0m7 3h0m7 5h0m-11 15h0" stroke="rgb(222,100,160)" stroke-width="2.8" stroke-linecap="round"/>
<path d="M678 219h0m24-2h0m4-3h0m12 0h0m5 4h0m3 6h0m-10 5h0m-35 9h0m35 2h0m1-1h0m-26 10h0m3-1h0m9 0h0m4-4h0m-11 5h0" stroke="rgb(125,35,30)" stroke-width="2.8" stroke-linecap="round"/>
</g>
<text x="585.4" y="68.2" font-size="23" textLength="51.7" lengthAdjust="spacingAndGlyphs">PVM</text>
<text x="647.3" y="85.3" font-size="23" textLength="67" lengthAdjust="spacingAndGlyphs">IPC_2</text>
<line x1="647.3" y1="89.3" x2="714.3" y2="89.3" stroke="#000" stroke-width="2.2"/>
<text x="497.7" y="117.2" font-size="23" textLength="38.3" lengthAdjust="spacingAndGlyphs">MG</text>
<text x="677.5" y="117" font-size="23" textLength="67" lengthAdjust="spacingAndGlyphs">VLMC</text>
<text x="757.6" y="168.8" font-size="23" textLength="129.4" lengthAdjust="spacingAndGlyphs">Endothelial</text>
<text x="392.4" y="213" font-size="23" textLength="43.6" lengthAdjust="spacingAndGlyphs">Unk</text>
<text x="516" y="213" font-size="23" textLength="129.7" lengthAdjust="spacingAndGlyphs">Ependymal</text>
<text x="682" y="235.2" font-size="23" textLength="65.2" lengthAdjust="spacingAndGlyphs">IPC_1</text>
<line x1="682" y1="239.2" x2="747.2" y2="239.2" stroke="#000" stroke-width="2.2"/>
<text x="762.7" y="236.1" font-size="23" textLength="65.1" lengthAdjust="spacingAndGlyphs">NFOL</text>
<text x="409.4" y="257" font-size="23" textLength="63" lengthAdjust="spacingAndGlyphs">Astro</text>
<text x="593.6" y="279.5" font-size="23" textLength="33.9" lengthAdjust="spacingAndGlyphs">NB</text>
<line x1="593.6" y1="283.5" x2="627.5" y2="283.5" stroke="#000" stroke-width="2.2"/>
<text x="719.3" y="329.6" font-size="23" textLength="50.6" lengthAdjust="spacingAndGlyphs">OPC</text>
<text x="828.2" y="334.4" font-size="23" textLength="52.7" lengthAdjust="spacingAndGlyphs">MOL</text>
<text x="552.3" y="338.8" font-size="23" textLength="49.8" lengthAdjust="spacingAndGlyphs">RGL</text>
<line x1="552.3" y1="342.8" x2="602.1" y2="342.8" stroke="#000" stroke-width="2.2"/>
<text x="410.3" y="354.7" font-size="23" textLength="104.4" lengthAdjust="spacingAndGlyphs">Astro_im</text>
<text x="514.7" y="372.6" font-size="23" textLength="78" lengthAdjust="spacingAndGlyphs">GC_im</text>
<line x1="514.7" y1="376.6" x2="592.7" y2="376.6" stroke="#000" stroke-width="2.2"/>
<text x="713.6" y="379.1" font-size="23" textLength="104.6" lengthAdjust="spacingAndGlyphs">Pre_OPC</text>
<text x="691.5" y="416.2" font-size="23" textLength="119.5" lengthAdjust="spacingAndGlyphs">Astro_im2</text>
<text x="474" y="471.4" font-size="23" textLength="36" lengthAdjust="spacingAndGlyphs">GC</text>
<text x="746.7" y="461.4" font-size="23" textLength="71.5" lengthAdjust="spacingAndGlyphs">GABA</text>
<text x="716.6" y="522.5" font-size="23" textLength="34.7" lengthAdjust="spacingAndGlyphs">CR</text>
<path d="M594.8 71.5Q591.9 83.4 598 94" class="ar"/>
<path d="M658.7 100.3Q652.5 137.6 626.8 165.3" class="ar"/>
<path d="M490.4 113Q488.8 133.8 506.4 145" class="ar"/>
<path d="M730.4 119.5Q728.3 133.5 715 138.2" class="ar"/>
<path d="M779.3 179.7Q757.4 194.6 731.2 190.3" class="ar"/>
<path d="M442.5 198.3Q437.5 176.5 417 167.4" class="ar"/>
<path d="M570.3 219.6Q578.6 236.4 597 239.8" class="ar"/>
<path d="M674.2 222Q669.3 226.5 664.4 231" class="ar"/>
<path d="M822 240Q818.2 252.3 805.4 253" class="ar"/>
<path d="M449.8 263.6Q464.6 282.1 488.3 281.4" class="ar"/>
<path d="M598.3 290.8Q605.9 303.7 620.9 303" class="ar"/>
<path d="M757.9 306.1Q755.4 289.2 739.3 283.4" class="ar"/>
<path d="M875.7 314.4Q874.3 295.7 857.1 288.2" class="ar"/>
<path d="M573.9 312.4Q566.5 301 554.1 295.5" class="ar"/>
<path d="M526.9 339.7Q535.2 332.9 531.6 322.8" class="ar"/>
<path d="M536.1 381.2Q538.6 390 544.2 397.2" class="ar"/>
<path d="M707.6 370.1Q694.2 372.9 686.5 384.2" class="ar"/>
<path d="M684.5 418.2Q661 421.2 644.4 404.2" class="ar"/>
<path d="M496 448.3Q503.7 434.9 519.1 435.3" class="ar"/>
<path d="M770.7 470.4Q748.4 484.7 723.6 475.4" class="ar"/>
<path d="M734.6 529.5Q719.7 543.2 700.6 536.5" class="ar"/>
<text x="6" y="626.8" font-size="29" textLength="132" lengthAdjust="spacingAndGlyphs">Macaque</text>
<circle cx="14.8" cy="653.3" r="7.5" fill="rgb(185,62,105)"/>
<text x="26.5" y="660.8" font-size="24" textLength="50" lengthAdjust="spacingAndGlyphs">RGL</text>
<circle cx="14.8" cy="680.2" r="7.5" fill="rgb(116,69,162)"/>
<text x="26.5" y="687.7" font-size="24" textLength="62" lengthAdjust="spacingAndGlyphs">Astro</text>
<circle cx="14.8" cy="707.1" r="7.5" fill="rgb(140,52,170)"/>
<text x="26.5" y="714.6" font-size="24" textLength="103.4" lengthAdjust="spacingAndGlyphs">Astro_im</text>
<circle cx="14.8" cy="734" r="7.5" fill="rgb(138,150,214)"/>
<text x="26.5" y="741.5" font-size="24" textLength="117.2" lengthAdjust="spacingAndGlyphs">Astro_im2</text>
<circle cx="14.8" cy="760.9" r="7.5" fill="rgb(125,35,30)"/>
<text x="26.5" y="768.4" font-size="24" textLength="64.2" lengthAdjust="spacingAndGlyphs">IPC_1</text>
<circle cx="14.8" cy="787.8" r="7.5" fill="rgb(234,40,128)"/>
<text x="26.5" y="795.3" font-size="24" textLength="65.6" lengthAdjust="spacingAndGlyphs">IPC_2</text>
<circle cx="14.8" cy="814.7" r="7.5" fill="rgb(196,140,32)"/>
<text x="26.5" y="822.2" font-size="24" textLength="33.4" lengthAdjust="spacingAndGlyphs">NB</text>
<circle cx="153.6" cy="654" r="7.5" fill="rgb(200,88,40)"/>
<text x="167.4" y="661.5" font-size="24" textLength="71.1" lengthAdjust="spacingAndGlyphs">GC_im</text>
<circle cx="153.6" cy="679.6" r="7.5" fill="rgb(243,175,32)"/>
<text x="167.4" y="687.1" font-size="24" textLength="31.7" lengthAdjust="spacingAndGlyphs">GC</text>
<circle cx="153.6" cy="705.2" r="7.5" fill="rgb(55,150,78)"/>
<text x="167.4" y="712.7" font-size="24" textLength="64.2" lengthAdjust="spacingAndGlyphs">GABA</text>
<circle cx="153.6" cy="730.8" r="7.5" fill="rgb(128,160,220)"/>
<text x="167.4" y="738.3" font-size="24" textLength="96" lengthAdjust="spacingAndGlyphs">Pre_OPC</text>
<circle cx="153.6" cy="756.4" r="7.5" fill="rgb(30,75,170)"/>
<text x="167.4" y="763.9" font-size="24" textLength="47.1" lengthAdjust="spacingAndGlyphs">OPC</text>
<circle cx="153.6" cy="782" r="7.5" fill="rgb(110,165,222)"/>
<text x="167.4" y="789.5" font-size="24" textLength="60.1" lengthAdjust="spacingAndGlyphs">NFOL</text>
<circle cx="153.6" cy="807.6" r="7.5" fill="rgb(85,140,200)"/>
<text x="167.4" y="815.1" font-size="24" textLength="49.1" lengthAdjust="spacingAndGlyphs">MOL</text>
<circle cx="273" cy="654" r="7.5" fill="rgb(17,97,57)"/>
<text x="287.6" y="661.5" font-size="24" textLength="37.8" lengthAdjust="spacingAndGlyphs">MG</text>
<circle cx="273" cy="679.6" r="7.5" fill="rgb(222,100,160)"/>
<text x="287.6" y="687.1" font-size="24" textLength="33.6" lengthAdjust="spacingAndGlyphs">CR</text>
<circle cx="273" cy="705.2" r="7.5" fill="rgb(168,168,48)"/>
<text x="287.6" y="712.7" font-size="24" textLength="128.8" lengthAdjust="spacingAndGlyphs">Endothelial</text>
<circle cx="273" cy="730.8" r="7.5" fill="rgb(240,160,130)"/>
<text x="287.6" y="738.3" font-size="24" textLength="127.4" lengthAdjust="spacingAndGlyphs">Ependymal</text>
<circle cx="273" cy="756.4" r="7.5" fill="rgb(132,116,48)"/>
<text x="287.6" y="763.9" font-size="24" textLength="51" lengthAdjust="spacingAndGlyphs">PVM</text>
<circle cx="273" cy="782" r="7.5" fill="rgb(196,92,70)"/>
<text x="287.6" y="789.5" font-size="24" textLength="67.5" lengthAdjust="spacingAndGlyphs">VLMC</text>
<circle cx="273" cy="807.6" r="7.5" fill="rgb(132,130,52)"/>
<text x="287.6" y="815.1" font-size="24" textLength="43.3" lengthAdjust="spacingAndGlyphs">Unk</text>
<text x="2" y="915.1" font-size="29" textLength="97" lengthAdjust="spacingAndGlyphs">Mouse</text>
<circle cx="10" cy="943.6" r="7.5" fill="rgb(215,40,40)"/>
<text x="25.8" y="951.1" font-size="24" textLength="49.6" lengthAdjust="spacingAndGlyphs">RGL</text>
<circle cx="10" cy="968.9" r="7.5" fill="rgb(116,69,162)"/>
<text x="25.8" y="976.4" font-size="24" textLength="62" lengthAdjust="spacingAndGlyphs">Astro</text>
<circle cx="10" cy="994.2" r="7.5" fill="rgb(100,20,25)"/>
<text x="25.8" y="1001.7" font-size="24" textLength="52.7" lengthAdjust="spacingAndGlyphs">nIPC</text>
<circle cx="10" cy="1019.5" r="7.5" fill="rgb(234,40,128)"/>
<text x="25.8" y="1027" font-size="24" textLength="45.5" lengthAdjust="spacingAndGlyphs">NB1</text>
<circle cx="10" cy="1044.8" r="7.5" fill="rgb(200,140,40)"/>
<text x="25.8" y="1052.3" font-size="24" textLength="46.5" lengthAdjust="spacingAndGlyphs">NB2</text>
<circle cx="10" cy="1070.1" r="7.5" fill="rgb(190,160,110)"/>
<text x="25.8" y="1077.6" font-size="24" textLength="76.5" lengthAdjust="spacingAndGlyphs">GC_im</text>
<circle cx="118.5" cy="944.6" r="7.5" fill="rgb(243,175,32)"/>
<text x="134" y="952.1" font-size="24" textLength="34.5" lengthAdjust="spacingAndGlyphs">GC</text>
<circle cx="118.5" cy="969.9" r="7.5" fill="rgb(55,150,78)"/>
<text x="134" y="977.4" font-size="24" textLength="70.7" lengthAdjust="spacingAndGlyphs">GABA</text>
<circle cx="118.5" cy="995.2" r="7.5" fill="rgb(195,140,40)"/>
<text x="134" y="1002.7" font-size="24" textLength="51" lengthAdjust="spacingAndGlyphs">CCK</text>
<circle cx="118.5" cy="1020.5" r="7.5" fill="rgb(30,75,170)"/>
<text x="134" y="1028" font-size="24" textLength="51" lengthAdjust="spacingAndGlyphs">OPC</text>
<circle cx="118.5" cy="1045.8" r="7.5" fill="rgb(110,165,222)"/>
<text x="134" y="1053.3" font-size="24" textLength="65.5" lengthAdjust="spacingAndGlyphs">NFOL</text>
<circle cx="118.5" cy="1071.1" r="7.5" fill="rgb(85,140,200)"/>
<text x="134" y="1078.6" font-size="24" textLength="32.5" lengthAdjust="spacingAndGlyphs">OL</text>
<circle cx="218.8" cy="945" r="7.5" fill="rgb(17,97,57)"/>
<text x="234.3" y="952.5" font-size="24" textLength="37.6" lengthAdjust="spacingAndGlyphs">MG</text>
<circle cx="218.8" cy="970.3" r="7.5" fill="rgb(222,100,160)"/>
<text x="234.3" y="977.8" font-size="24" textLength="33.5" lengthAdjust="spacingAndGlyphs">CR</text>
<circle cx="218.8" cy="995.6" r="7.5" fill="rgb(168,168,48)"/>
<text x="234.3" y="1003.1" font-size="24" textLength="59.3" lengthAdjust="spacingAndGlyphs">Endo</text>
<circle cx="218.8" cy="1020.9" r="7.5" fill="rgb(200,95,72)"/>
<text x="234.3" y="1028.4" font-size="24" textLength="43.8" lengthAdjust="spacingAndGlyphs">Peri</text>
<circle cx="218.8" cy="1046.2" r="7.5" fill="rgb(132,116,48)"/>
<text x="234.3" y="1053.7" font-size="24" textLength="51" lengthAdjust="spacingAndGlyphs">PVM</text>
<circle cx="218.8" cy="1071.5" r="7.5" fill="rgb(196,92,70)"/>
<text x="234.3" y="1079" font-size="24" textLength="67.2" lengthAdjust="spacingAndGlyphs">VLMC</text>
<path d="M494.6 580.2C494.7 580.7 494.6 582.8 494.2 583.6C493.8 584.4 491.1 587.4 490.1 588.4C489.1 589.4 485.6 592.8 484.6 593.9C483.6 595 481.1 598.5 480.5 599.5C479.9 600.5 479.2 602.8 479.1 603.6C479 604.4 479.3 607.2 479.8 607.7C480.3 608.2 483.3 608 483.9 608.4C484.4 608.8 485.2 611.4 485.3 611.9C485.4 612.4 485 613.8 484.6 613.9C484.2 614 482.4 613.4 481.8 613.2C481.2 613 479.7 612 479.1 611.9C478.5 611.8 476.4 611.5 475.6 611.9C474.8 612.3 471.8 615.2 470.8 616C469.8 616.8 466.3 618.8 465.3 619.4C464.3 620 461.8 621.4 461.2 622.2C460.6 623 460 625.8 459.8 627C459.6 628.2 459.2 632.9 459.1 633.9C459 634.9 457.3 636.5 458.7 636.7C460.1 636.9 471.1 635.9 472.9 636C474.7 636.1 477.2 637.4 477 637.7C476.8 638 472.7 638.9 470.8 639.1C468.9 639.3 459.8 639.6 458.4 639.8C457 640 457.8 641.4 457 641.5C456.2 641.6 451.8 640.9 450.1 640.8C448.4 640.7 441.2 640.9 439.8 640.8C438.4 640.7 436.3 640.2 435.7 639.4C435.1 638.6 433.8 634.8 433.6 633.2C433.4 631.6 433.6 625.6 433.6 623.6C433.6 621.6 433.3 615.3 433.6 613.2C433.9 611.1 435.6 604.8 436.4 602.9C437.2 601 440.7 595.8 441.9 594.6C443.1 593.4 447.3 591.1 448.8 590.5C450.3 589.9 455.5 588.8 457 588.4C458.5 588 462.8 586.8 463.9 586.4C465 586 467.9 584.8 468.1 584.3C468.3 583.8 466.1 581.7 466 580.9C465.9 580.1 466.2 577.1 466.7 576.7C467.2 576.4 470 577.1 470.8 577.4C471.6 577.7 473.3 579.4 474.3 579.5C475.3 579.6 480.3 578.7 481.1 578.1C481.9 577.5 482.2 573.9 482.5 573.3C482.8 572.7 483.7 571.5 483.9 571.9C484.1 572.3 484 576.7 484.6 577.4C485.2 578.1 489.2 578.7 490.1 578.8C491 578.9 493.2 578.7 493.6 578.8C494.1 578.9 494.5 579.7 494.6 580.2Z" fill="#0a0a0a"/>
<path d="M437 637.5C433.4 637.5 421.6 636.9 415.7 637.2C409.8 637.5 403.9 638.1 401.5 639.5C399.1 640.9 401 643.3 401.2 645.3C401.4 647.3 398.9 650.4 402.5 651.3C406.1 652.2 417 651.1 422.6 650.6C428.2 650.1 432.4 648.9 436.4 648.4C440.4 647.9 444.2 647.3 446.7 647.4C449.2 647.5 450.2 648.1 451.5 649.1C452.8 650.1 454.1 652.9 454.6 653.6" fill="none" stroke="#0a0a0a" stroke-width="3" stroke-linecap="round"/>
<g filter="url(#none)">
<path d="M448 697h0m9-1h0m1-3h0m1 11h0m6-4h0m0 4h0m-21 2h0m6 1h0m1 4h0m14-1h0m-13 4h0m1-1h0m1 1h0m3 0h0m3-2h0m-7 6h0" stroke="rgb(243,175,32)" stroke-width="4.4" stroke-linecap="round"/>
<path d="M457 700h0m-12 9h0m1-3h0m6 0h0m5 4h0" stroke="rgb(132,130,52)" stroke-width="4.4" stroke-linecap="round"/>
<path d="M649 621h0m-10 6h0m4-2h0m2-3h0m-5 9h0m10 2h0m2-3h0m15-2h0m2 2h0m-25 5h0m11 3h0m1-2h0m5-1h0m6-1h0" stroke="rgb(132,116,48)" stroke-width="4.4" stroke-linecap="round"/>
<path d="M560 655h0m5 2h0m2-2h0m-10 3h0m0 2h0m4-3h0m3 5h0m0-5h0m5 4h0m2-2h0m1 3h0m5-2h0m2 1h0m0 1h0m2-2h0m0 0h0m2 0h0m1 1h0m2-1h0m0 0h0m1 2h0m1-1h0m3 2h0m0-2h0m1-2h0m3 2h0m0 2h0m2-3h0m-47 5h0m1 1h0m1 3h0m1-3h0m0-2h0m2 1h0m0 3h0m2-4h0m2 5h0m1-5h0m6 1h0m3-2h0m1 5h0m0 0h0m4-4h0m1 0h0m3 0h0m3 1h0m11 0h0m-46 7h0m3-3h0m3 5h0m2-5h0m5 5h0m1-3h0m2 3h0m0-4h0m2-1h0m0 3h0m1 1h0m2 1h0m0-4h0m5 1h0m4 0h0m0-1h0m1 3h0m1 2h0m1-2h0m1-2h0m3 3h0m1 1h0m0-2h0m2 1h0m0-1h0m6-1h0m5 2h0m0-3h0m4 2h0m-55 5h0m6 1h0m3-2h0m1 1h0m2 1h0m4 2h0m2-3h0m1-1h0m1 0h0m2 3h0m2-2h0m0-2h0m3 0h0m0 1h0m5 0h0m0-2h0m0 5h0m2-2h0m0 1h0m0-4h0m5 5h0m1-3h0m1 2h0m3-2h0m4-1h0m1 2h0m4 1h0m-53 6h0m1-4h0m2 4h0m5 0h0m6 0h0m4-3h0m4 4h0m0-4h0m1 4h0m2 1h0m1-2h0m3-3h0m0 5h0m3-2h0m6-4h0m1 6h0m2-5h0m0-1h0m3 4h0m3 0h0m5-4h0m0 3h0m-50 6h0m2-3h0m1 3h0m1-2h0m1 1h0m7-1h0m3 2h0m0-1h0m3 0h0m1-1h0m2 2h0m13 2h0m2-4h0m1 3h0m3 2h0m2-4h0m1-2h0m3 1h0m5 4h0m-43 4h0m3-1h0m2 2h0m2-1h0m2-2h0m0 1h0m1 0h0m8 3h0m1-1h0m1-3h0m0 5h0m2-3h0m5-2h0m5 3h0m0-3h0m2 0h0m1-1h0m2 1h0m3 4h0m2-1h0m-44 5h0m3 2h0m0-2h0m2-2h0m1 1h0m0 1h0m1-3h0m1 4h0m9-2h0m1-1h0m0 1h0m2-1h0m4 3h0m0-2h0m2 1h0m3-3h0m2 1h0m1 0h0m1 0h0m5 0h0m2 1h0m1 0h0m-34 4h0m3 3h0m1 1h0m0-2h0m0 4h0m1-6h0m4 2h0m1 1h0m0-1h0m5 4h0m0-1h0m1 0h0m2-2h0m1 3h0m6-6h0m5 1h0m1-1h0" stroke="rgb(17,97,57)" stroke-width="4.2" stroke-linecap="round"/>
<path d="M660 689h0m4 4h0m5-2h0m-22 7h0m5-2h0m3-3h0m8 5h0m2-1h0m5 1h0m2 0h0m1-1h0m-26 4h0m3 2h0m1-4h0m2 6h0m1-2h0m1-4h0m4 5h0m4-3h0m4 2h0m0-4h0m5 5h0m2-3h0m-25 5h0m4 1h0m2 2h0m4 1h0m2 0h0m3-4h0m0 3h0" stroke="rgb(234,40,128)" stroke-width="4.4" stroke-linecap="round"/>
<path d="M677 697h0m-6 3h0m1 5h0m0 0h0m2-5h0m2 2h0m3 2h0m3-2h0m0 2h0m1-4h0m-9 9h0m3-3h0m4 2h0m1 3h0m0-1h0m1-4h0m5 0h0m0 2h0m-21 5h0m4 3h0m3-3h0m7 4h0m1-5h0m1 3h0m0-1h0m1-2h0m0 3h0m-14 2h0m5 2h0m3 0h0" stroke="rgb(200,140,40)" stroke-width="4.4" stroke-linecap="round"/>
<path d="M750 642h0m-3 4h0m1 5h0m1-5h0m-2 8h0m0-3h0m6 1h0m-2 6h0" stroke="rgb(200,95,72)" stroke-width="4.4" stroke-linecap="round"/>
<path d="M762 668h0m-7 5h0m4-3h0m0 1h0m4 2h0m6 2h0m1-1h0m-20 5h0m0-4h0m1 3h0m1-1h0m1 2h0m2 1h0m0-4h0m3 2h0m5 1h0m4-4h0m7 6h0m-19 6h0m0-1h0m2-5h0m3 4h0m2 1h0m3-1h0m4-1h0m4-1h0m-19 6h0m10-2h0m0 1h0m1 2h0m1-2h0m0 0h0m7 1h0m-19 7h0m0-2h0m5 4h0m2-1h0m2-2h0m1-2h0m7 2h0" stroke="rgb(168,168,48)" stroke-width="4.2" stroke-linecap="round"/>
<path d="M759 710h0m3-1h0m3-1h0m7 1h0m0 1h0m1-1h0m1-1h0m7 1h0m11 1h0m-43 6h0m0 0h0m5-4h0m0 5h0m1-4h0m1 2h0m5 0h0m5-2h0m1 4h0m1-2h0m5 1h0m3 0h0m2 1h0m11-1h0m1-4h0m2 1h0m2 1h0m3-2h0m0 5h0m0-2h0m1-3h0m2 5h0m2 0h0m0-2h0m-52 2h0m2 1h0m1 0h0m4 5h0m3-5h0m5 0h0m1 3h0m6-2h0m3 0h0m1 1h0m3-3h0m4 3h0m1-2h0m2 5h0m1-2h0m0-2h0m0-1h0m3 1h0m1 4h0m2-6h0m4 1h0m4 2h0m-53 3h0m9 2h0m1-1h0m1-1h0m1 4h0m1 0h0m2-2h0m0-2h0m11 2h0m0 3h0m1-4h0m3 4h0m0-2h0m1 2h0m2-2h0" stroke="rgb(168,168,48)" stroke-width="4.2" stroke-linecap="round"/>
<path d="M750 672h0m5 3h0m-5 5h0m0 0h0m10-3h0m-10 7h0m2 1h0m6 0h0m3-3h0m-3 5h0" stroke="rgb(200,95,72)" stroke-width="4" stroke-linecap="round"/>
<ellipse cx="698" cy="741" rx="7" ry="3" fill="rgb(196,92,70)" transform="rotate(-25 698 741)"/>
<path d="M576 783h0m5-2h0m1 2h0m5-1h0m0 0h0m-17 6h0m1-1h0m3 1h0m3-3h0m1 3h0m5-2h0m1 1h0m1-1h0m0 1h0m0-4h0m2 6h0m0-3h0m2-2h0m0 1h0m0 2h0m1 1h0m-22 3h0m0 3h0m2 0h0m2-3h0m3 2h0m1 0h0m0 1h0m2-1h0m5 2h0m2-5h0m3 0h0m1 4h0m3-3h0m0 3h0m-23 3h0m0 3h0m3-5h0m1 4h0m2-3h0m2 3h0m0 2h0m2-4h0m3-1h0m0 5h0m3-5h0m1 3h0m1 0h0m0-3h0m0 4h0m2-2h0m0 1h0m0-4h0m2 0h0m0 1h0m1 1h0m1 0h0m0 2h0m2-2h0m0-2h0m0 2h0m0 3h0m1-5h0m1 4h0m1-2h0m-28 8h0m2 2h0m0-5h0m3 2h0m1 1h0m1 1h0m4-5h0m1 1h0m0 5h0m3 0h0m2-2h0m3 1h0m1-5h0m4 3h0m1 3h0m0-3h0m-12 5h0m0-1h0m1 1h0m8-1h0" stroke="rgb(215,40,40)" stroke-width="4.2" stroke-linecap="round"/>
<path d="M638 764h0m0 0h0m3 1h0m3-1h0m0 0h0m-12 7h0m3 0h0m1-3h0m8 3h0m3-1h0m-9 2h0m0 2h0m1-1h0m2 3h0m1-1h0m1 1h0m2 0h0m1-5h0m2 5h0m-14 6h0m4-2h0m4 1h0m2-2h0m3 0h0m0 4h0m2-3h0m1-1h0m-13 7h0m1-2h0m3 3h0" stroke="rgb(215,40,40)" stroke-width="4.4" stroke-linecap="round"/>
<path d="M657 770h0m12-1h0m-15 4h0m3-1h0m5 0h0m7 4h0m6-4h0m6-1h0" stroke="rgb(100,20,25)" stroke-width="4" stroke-linecap="round"/>
<path d="M696 770h0m1-2h0m0 0h0m1 2h0m4-1h0m0-2h0m5 0h0m-13 9h0m7 0h0m1-2h0m2-2h0m1 1h0m0 0h0m0 2h0m0-1h0m1-2h0m2 3h0m0 1h0m1-3h0m5-2h0m0 3h0m1 2h0m-16 6h0m3-1h0m0-4h0m1 5h0m4-4h0m1 0h0m0-1h0m0 3h0m-13 6h0m2-1h0m5 3h0m0-5h0m7 2h0m2 1h0m2-2h0m-14 7h0m7 1h0m5 0h0" stroke="rgb(100,20,25)" stroke-width="4.4" stroke-linecap="round"/>
<path d="M705 794h0m5-3h0m-7 9h0m1-1h0m7-1h0m2 2h0m4-2h0m-11 5h0m1 3h0m3 0h0" stroke="rgb(234,40,128)" stroke-width="4" stroke-linecap="round"/>
<path d="M549 773h0m3 1h0m3 1h0m-15 4h0m2 3h0m5-4h0m2 1h0m4-2h0m0 0h0m-14 9h0m6 0h0m0-3h0m4 1h0m0 4h0m3-2h0m4-3h0m-35 12h0m1 0h0m0-2h0m4 2h0m2-4h0m3 4h0m6-2h0m3-2h0m1 3h0m5-4h0m2 1h0m0 0h0m3 0h0m1 1h0m1 3h0m10-2h0m4 2h0m0-2h0m-56 7h0m2-2h0m1 1h0m2 2h0m1-1h0m5 1h0m4-5h0m1 2h0m2-2h0m4 0h0m2 2h0m8-1h0m1 1h0m5 1h0m2-4h0m2 4h0m2 1h0m4-5h0m1 0h0m4 4h0m1 0h0m2-1h0m-58 6h0m2 2h0m1-4h0m0 3h0m5-4h0m1 4h0m2-2h0m9 4h0m1-5h0m1 3h0m6-1h0m1 0h0m4 0h0m1 1h0m5 1h0m1-1h0m5 0h0m7-3h0m1 4h0m2-1h0m1-1h0m3 2h0m1-4h0m2 3h0m0-4h0m0 1h0m1-1h0m2 4h0m-68 6h0m3 0h0m0-2h0m4 3h0m1 1h0m0-6h0m1 2h0m7 1h0m0 1h0m6 0h0m2-1h0m1 1h0m3-2h0m0 2h0m0 1h0m2-1h0m3 0h0m7-1h0m7-2h0m2 3h0m7-1h0m0 0h0m6-1h0m1 4h0m1-3h0m4-3h0m1 5h0m1-4h0m-75 5h0m0 3h0m3 0h0m2 1h0m2-1h0m5-1h0m4 0h0m0 3h0m1-1h0m1 0h0m0 0h0m3 0h0m2 0h0m1-1h0m3 0h0m2 2h0m6 0h0m1-4h0m1 2h0m0 3h0m2-4h0m0 4h0m1 0h0m1-3h0m1-3h0m1 1h0m1 5h0m3-2h0m0 0h0m1-3h0m0 5h0m3 0h0m2-4h0m4 0h0m0 3h0m1-3h0m0 3h0m7 1h0m0-1h0m1-5h0m4 1h0m2 0h0m1 0h0m1 2h0m1 1h0m2 1h0m2 0h0m1-1h0m-80 5h0m1 2h0m1-1h0m1 1h0m2-1h0m2 1h0m0-3h0m1 2h0m2-2h0m1 4h0m1-4h0m5 2h0m7-4h0m2 3h0m0 2h0m0-4h0m1 1h0m1 2h0m1-1h0m2 1h0m2-3h0m1 1h0m2 1h0m1 0h0m6-2h0m0 2h0m6-2h0m1 3h0m5-1h0m2-2h0m1 1h0m1 3h0m3-1h0m2 0h0m1-3h0m3 1h0m0-1h0m1 4h0m2-4h0m0 0h0m4 2h0m0 1h0m1-1h0m1-2h0m1 3h0m0 2h0m5-1h0m-80 3h0m2 2h0m2-2h0m3-1h0m2 4h0m5-4h0m2 4h0m3-1h0m1-4h0m3 5h0m0-5h0m1 6h0m0-4h0m1 0h0m5 2h0m2-3h0m2-1h0m1 1h0m2 2h0m2 1h0m5-4h0m3 2h0m2-2h0m1 3h0m0 0h0m0-1h0m4 2h0m2-4h0m5 5h0m4 1h0m3-4h0m2-1h0m0 4h0m1-2h0m1 1h0m1-3h0m11 5h0m-87 0h0m3 1h0m1 4h0m1-4h0m2 2h0m0 0h0m1-1h0m1 3h0m1 0h0m2-2h0m2 1h0m1-3h0m3 0h0m12 4h0m1-2h0m2 0h0m4 2h0m1-2h0m3 1h0m0-2h0m1 1h0m2-1h0m7 1h0m1 1h0m4 0h0m8 1h0m2 0h0m2-5h0m4 5h0m2-5h0m0 1h0m0 4h0m3 0h0m0-2h0m0 3h0m6-1h0m1-3h0m2-1h0m4-1h0m2 3h0m0 1h0m-88 3h0m5-1h0m5 4h0m1 1h0m1-4h0m5 1h0m8 1h0m1 1h0m2 2h0m2-1h0m1-1h0m1-2h0m1 1h0m8 1h0m4 1h0m1-5h0m6 3h0m1-3h0m0 1h0m3-1h0m1 3h0m2-2h0m7 3h0m1-3h0m0-1h0m0 6h0m2-1h0m0 1h0m6-6h0m1 5h0m4-4h0m0 1h0m3 3h0m0-4h0m2 0h0m4 3h0m4-2h0m-87 5h0m7-1h0m2 4h0m6-2h0m1 3h0m6-2h0m2 1h0m1 0h0m4 1h0m2 1h0m5-1h0m1-4h0m1 1h0m0 0h0m2-1h0m0 4h0m0 0h0m1-3h0m0 2h0m5-3h0m3 3h0m6-3h0m3 2h0m3-2h0m2 4h0m0-5h0m0 2h0m0 2h0m1 1h0m6 0h0m0-5h0m2 2h0m0 2h0m-69 2h0m3 3h0m3 1h0m5-2h0m1 2h0m4 2h0m1-2h0m0-2h0m2-1h0m1 1h0m0 2h0m6 1h0m0-2h0m1 1h0m4-3h0m1 3h0m2-1h0m6 0h0m3-1h0m4 1h0m4-1h0m3 1h0m2-3h0m0 2h0m1-1h0m2 2h0m2-2h0m-49 9h0m6 1h0m4-1h0m2-3h0m0 2h0m2-1h0m7 1h0m5-3h0m3 4h0m-21 2h0m1 5h0m2-3h0m0 0h0m2 3h0m2 0h0m1-1h0m4 1h0m0-3h0m3 2h0m6-1h0m0-1h0m1 0h0" stroke="rgb(116,69,162)" stroke-width="4.2" stroke-linecap="round"/>
<path d="M678 819h0m4-1h0m0 0h0m1-2h0m1 0h0m0 1h0m5 0h0m1 2h0m1 0h0m1 0h0m-18 5h0m3-4h0m0 0h0m3 4h0m1-1h0m1 0h0m1 0h0m1 0h0m1-3h0m1 3h0m1 0h0m4 0h0m1-2h0m1 0h0m0-1h0m0 2h0m1 3h0m0-6h0m0 2h0m0 3h0m1-5h0m0 5h0m0-1h0m1-2h0m1 4h0m-29 5h0m4-1h0m4 0h0m1-2h0m0-2h0m1 4h0m0-4h0m2 0h0m0 5h0m3-2h0m1-1h0m1 2h0m0-4h0m2 4h0m1 1h0m0-3h0m1 1h0m0 0h0m3 0h0m2-1h0m0 3h0m1-3h0m1 0h0m1 3h0m0-4h0m1 5h0m0-1h0m1-1h0m0 1h0m1 0h0m-33 6h0m2-2h0m2 1h0m1-3h0m2-1h0m1 3h0m0 2h0m5-2h0m1 1h0m3-3h0m0 0h0m1 4h0m1-4h0m2 5h0m2-4h0m2 2h0m1-2h0m2-2h0m0 0h0m3 6h0m4-1h0m0 0h0m0-5h0m1 2h0m0 1h0m0 0h0m1-1h0m0 3h0m0 1h0m1 0h0m-35 2h0m2 3h0m0-2h0m2 2h0m0-2h0m1 1h0m1-4h0m0 2h0m1 2h0m1 2h0m1-3h0m2-1h0m1 0h0m1 2h0m0 1h0m3-4h0m1 4h0m3-2h0m0-1h0m1 1h0m0-1h0m0-2h0m0 1h0m1 1h0m2 3h0m1-3h0m0 2h0m1-4h0m0 3h0m1-2h0m0 3h0m1 1h0m1 1h0m0-4h0m1 1h0m0-1h0m0 1h0m1 3h0m1-4h0m0 1h0m1-1h0m-38 8h0m1 2h0m1-2h0m2 1h0m1 1h0m0-4h0m1-1h0m1-1h0m3 0h0m1 3h0m0-2h0m2 4h0m0-2h0m0 0h0m1 2h0m0 0h0m0-4h0m1 1h0m0-1h0m0 3h0m0 1h0m1 0h0m1-1h0m1-2h0m1 2h0m1-2h0m2-2h0m1 4h0m1 1h0m1-2h0m1 1h0m3 0h0m1 1h0m0 0h0m1-1h0m0-3h0m0 5h0m1-2h0m0-3h0m0 1h0m0 0h0m0 2h0m0-2h0m1 1h0m0-3h0m1 4h0m1 0h0m0 0h0m0 2h0m6 0h0m1-2h0m-42 4h0m0-1h0m1 4h0m2-4h0m1 3h0m0 1h0m0-4h0m1 4h0m0-4h0m0 1h0m1-2h0m0 4h0m1 2h0m1-3h0m2-1h0m0 2h0m4-1h0m0 0h0m0-2h0m1 1h0m0-1h0m1 3h0m1-1h0m1-1h0m1-1h0m4 4h0m0-2h0m0-2h0m1 2h0m3 1h0m0 0h0m1 0h0m1 0h0m5-3h0m2 0h0m0 3h0m0-1h0m0 1h0m2-2h0m0 4h0m1 0h0m1 0h0m1-5h0m-39 7h0m3 1h0m0-3h0m0 1h0m1 5h0m0 0h0m2-1h0m0-2h0m0 1h0m1 1h0m0-2h0m0 1h0m1-3h0m1 2h0m0 1h0m2 1h0m0-4h0m0 0h0m2 3h0m0-2h0m1-2h0m0 5h0m1 1h0m0-4h0m6 1h0m1-1h0m5 3h0m0-2h0m0 2h0m1-3h0m1-1h0m2 2h0m0-3h0m0 1h0m3 0h0m0 4h0m4-4h0m0 0h0m-35 5h0m1 5h0m1-4h0m0 1h0m4 2h0m0 0h0m5-1h0m1 2h0m1-1h0m0 0h0m2-2h0m0-1h0m2 3h0m2-4h0m1 0h0m1 6h0m1-3h0m1 0h0m1 1h0m1 0h0m4-1h0m1-1h0m2 2h0m1-1h0m-26 4h0m0 3h0m0-3h0m0 3h0m4 1h0m1 0h0m1-1h0m1-3h0m0 0h0m0 0h0m2 3h0m0 2h0m2-4h0m1 3h0m0-2h0m5-1h0m1 1h0m0-3h0m1 3h0m1 2h0m1-3h0m-16 5h0m1 0h0" stroke="rgb(200,140,40)" stroke-width="4.2" stroke-linecap="round"/>
<path d="M771 797h0m-3 7h0m5-2h0m1 1h0m3-2h0m6 4h0m3 2h0m-19 5h0m1-4h0m4 4h0m1-1h0m3-1h0m1-1h0m3-2h0m0 4h0m4-3h0m2-1h0m-25 11h0m1-3h0m0 3h0m5-5h0m3 5h0m3 0h0m7 1h0m3 0h0m0 0h0m1-1h0m3-5h0m-23 7h0m2 4h0m8 1h0m2-5h0m2 3h0m9-3h0m-21 10h0m3 1h0m7-4h0m2 0h0m-11 4h0m1 1h0m1 1h0m0-1h0m2 2h0m5 0h0m2 1h0m0-2h0m1-2h0m2 2h0m2 0h0m0-1h0" stroke="rgb(30,75,170)" stroke-width="4.4" stroke-linecap="round"/>
<path d="M762 812h0m6 3h0m-4 6h0m1 0h0m0 2h0m1-2h0m-3 8h0m1-1h0" stroke="rgb(100,20,25)" stroke-width="4" stroke-linecap="round"/>
<path d="M820 779h0m3 3h0m2-4h0m2 2h0m12 1h0m0-1h0m8-1h0m2 4h0m2 0h0m-42 1h0m0 1h0m10 2h0m3 0h0m1-3h0m1 1h0m2 2h0m0 0h0m2-3h0m3 2h0m1 2h0m1-1h0m3 1h0m1-3h0m1 1h0m1-3h0m2 0h0m2 6h0m3-4h0m1-2h0m0 1h0m3 4h0m14-2h0m0-1h0m-51 4h0m8 3h0m1-1h0m10-1h0m2 2h0m5-2h0m3 2h0" stroke="rgb(110,165,222)" stroke-width="4" stroke-linecap="round"/>
<path d="M893 812h0m-7 4h0m1 3h0m1-2h0m1-2h0m0 3h0m1-1h0m0-3h0m3 5h0m3-1h0m2 0h0m-15 3h0m1 4h0m5-2h0m2 1h0m0-3h0m1 2h0m2-3h0m1 0h0m0 5h0m3-4h0m2 3h0m0-4h0m1 1h0m4 0h0m1 1h0m-22 7h0m3-3h0m0 3h0m2 0h0m1 0h0m5-3h0m0 4h0m0-4h0m0 3h0m1-2h0m0-2h0m1 1h0m1 1h0m1-2h0m6 3h0m1-2h0m0 1h0m0 1h0m1 0h0m2-2h0m1 0h0m4 2h0m-28 3h0m1 3h0m1 1h0m4-1h0m1 3h0m1-5h0m4 4h0m4-5h0m0 4h0m0-2h0m3 1h0m2-3h0m0 6h0m3-3h0m1 2h0m3-1h0m-25 6h0m0-3h0m2 1h0m0 2h0m2-4h0m1 0h0m0 3h0m3 2h0m0 0h0m2-5h0m0 0h0m0 4h0m3-2h0m1 3h0m2 0h0m0-3h0m3 3h0m0-1h0m3-3h0m2 4h0m1-3h0m1 3h0m0-2h0m1 1h0m1-3h0m0 2h0m-19 6h0m1 3h0m11-5h0m2-1h0m1 3h0m2-3h0m2 1h0m0 4h0m1 0h0m-16 3h0m8-1h0" stroke="rgb(85,140,200)" stroke-width="4.2" stroke-linecap="round"/>
<path d="M473 914h0m6-1h0m7 0h0m3 1h0m4 1h0m-26 6h0m3 0h0m1-6h0m2 4h0m6-4h0m8 1h0m0 2h0m5 0h0m0-2h0m-24 6h0m10 3h0m4-3h0m7 1h0" stroke="rgb(200,95,72)" stroke-width="4" stroke-linecap="round"/>
<path d="M569 939h0m2 0h0m2 0h0m6-1h0m3-1h0m1 0h0m12 1h0m3 0h0m-44 5h0m3 0h0m5 0h0m0 0h0m2 1h0m2-1h0m0-2h0m1-1h0m1 5h0m0-1h0m1 0h0m0 0h0m1-4h0m1 2h0m0 0h0m0 0h0m3-2h0m0 2h0m5 0h0m0 0h0m3-2h0m1 0h0m1 3h0m0-3h0m1 2h0m7 1h0m1-2h0m0 3h0m1-2h0m1-2h0m1 1h0m3 0h0m0 1h0m-48 5h0m1-1h0m1 4h0m1 0h0m0-1h0m2-3h0m0 3h0m3 0h0m0-2h0m0 3h0m2-4h0m2 0h0m1 2h0m0 1h0m0-2h0m1 3h0m0-5h0m4 3h0m1-2h0m3 1h0m3 4h0m1-2h0m0-4h0m1 5h0m2-5h0m1 1h0m0 2h0m1 2h0m2-1h0m1-3h0m1 4h0m0 1h0m0-2h0m2 0h0m2-2h0m1-1h0m0 1h0m1 0h0m1 3h0m0 1h0m1-5h0m0 3h0m1-3h0m0 1h0m2 2h0m1-1h0m0 1h0m0-3h0m1 2h0m1-1h0m3 1h0m2-2h0m3 4h0m1-3h0m0 0h0m2 1h0m2 3h0m0-3h0m-66 4h0m2 4h0m1 0h0m2 1h0m2-5h0m0 0h0m0 0h0m1 0h0m1-1h0m3 1h0m0 3h0m1-3h0m1 3h0m0 1h0m0 1h0m1 0h0m3-3h0m2 2h0m1-4h0m3 0h0m0 2h0m1 0h0m1 2h0m1-4h0m0 5h0m0-5h0m6 1h0m0 3h0m0-1h0m4-3h0m0 5h0m1-6h0m0 3h0m2-3h0m1 3h0m0-1h0m2 4h0m0-2h0m2 2h0m0-5h0m1 0h0m1 4h0m4-4h0m0 4h0m0 0h0m1-3h0m2 0h0m1 2h0m0-1h0m2-2h0m0 4h0m2-4h0m3 2h0m2 3h0m0-5h0m1 3h0m0 0h0m1 0h0m2-3h0m3 3h0m1 0h0m-77 8h0m2-3h0m1 3h0m0-3h0m2 2h0m2-4h0m0 2h0m3 3h0m6 0h0m3-5h0m1 5h0m7-4h0m4 4h0m4-2h0m0 0h0m1-4h0m5 1h0m2 5h0m1-5h0m4-1h0m4 3h0m1-1h0m2 0h0m6 2h0m1 0h0m2 1h0m1-2h0m5 2h0m1-5h0m2 5h0m1-4h0m0 3h0m0 1h0m1-1h0m1 0h0m1-4h0m1 1h0m1 1h0m0 3h0m-77 7h0m1-4h0m2 1h0m4-3h0m0 1h0m0 3h0m1 2h0m0-5h0m0 0h0m5 5h0m0-3h0m1 0h0m0 2h0m3 1h0m1-3h0m1-1h0m2 2h0m1 2h0m0-2h0m0 2h0m1 0h0m0-2h0m0 0h0m2 1h0m0-5h0m9 2h0m0 3h0m1-3h0m0 0h0m1-1h0m2 1h0m3 2h0m3-4h0m1 0h0m1 5h0m1 0h0m1-2h0m1-3h0m2 5h0m2-1h0m2 1h0m1-3h0m5 3h0m1-5h0m2 4h0m0-1h0m1 0h0m4 0h0m0 3h0m3-1h0m0 1h0m0-5h0m1 0h0m3-1h0m2 2h0m-79 5h0m1-1h0m2 4h0m1-2h0m2 4h0m1-5h0m1 5h0m1-2h0m4 2h0m0-5h0m0 2h0m1 2h0m1-3h0m1 4h0m0-2h0m1-3h0m2 2h0m2 2h0m2-2h0m0-1h0m2 0h0m1 3h0m2-1h0m3-2h0m0 1h0m5-2h0m1 2h0m2-3h0m0 2h0m1 2h0m3 1h0m13-4h0m0 0h0m1 2h0m2 3h0m3-1h0m2-3h0m0 0h0m1 0h0m3-2h0m2 1h0m0 5h0m5-2h0m2-1h0m0-2h0m0 4h0m0-2h0m2 1h0m1-1h0m-80 6h0m7-1h0m0 3h0m8-3h0m0-1h0m0 0h0m1 3h0m1 1h0m0-3h0m1 0h0m4 4h0m0-4h0m1-1h0m0 0h0m0 4h0m1-2h0m0-1h0m2 0h0m2-2h0m2 4h0m2-2h0m1-1h0m1 4h0m4 0h0m1-2h0m1-1h0m2-1h0m2 1h0m1-1h0m0 5h0m1-5h0m6 3h0m0-1h0m5 0h0m0-1h0m1 2h0m4-1h0m0 1h0m1-2h0m11 1h0m1 0h0m0 1h0m0 2h0m0-1h0m1-2h0m0-2h0m2 2h0m1 3h0m-75 3h0m4-1h0m0 2h0m0-3h0m1 1h0m0 0h0m4 3h0m2-5h0m0 1h0m2 1h0m1 2h0m1-2h0m2 3h0m1-2h0m5-3h0m0 4h0m1 2h0m0-4h0m2 2h0m5-3h0m1-1h0m4 5h0m3-3h0m2 3h0m1 0h0m1-4h0m0 2h0m1 0h0m0-2h0m1 4h0m2-3h0m2 2h0m3 1h0m2-3h0m1 2h0m1-2h0m0-1h0m0 3h0m0 1h0m0-3h0m1 2h0m3-3h0m4 4h0m1-4h0m0 2h0m0 3h0m4-3h0m0 0h0m1 0h0m3 1h0m1-1h0m-75 7h0m6 1h0m4-5h0m2 0h0m4 1h0m1 4h0m1-1h0m0 0h0m2-2h0m1-1h0m1 0h0m3 4h0m0-5h0m1 2h0m2-1h0m1 1h0m0-1h0m0 3h0m1-4h0m1 2h0m2 1h0m1 1h0m2-4h0m2 3h0m1 1h0m0-1h0m4 2h0m1-5h0m1 4h0m1-1h0m3 2h0m1-4h0m0 1h0m2 3h0m8-1h0m0-3h0m6 0h0m1 5h0m1-3h0m1 2h0m1-4h0m0 3h0m0-1h0m1 0h0m1 2h0m0-5h0m-69 7h0m2 3h0m1-3h0m2 4h0m0 0h0m2-4h0m1 2h0m2 1h0m1-1h0m3 3h0m1-1h0m1 0h0m1 0h0m5 1h0m1-1h0m1 0h0m1-3h0m2-1h0m0 5h0m0-5h0m7 0h0m1 0h0m1 0h0m2 4h0m2-2h0m2 0h0m2 0h0m2 1h0m2 0h0m1 2h0m3-3h0m1 2h0m0 0h0m3 1h0m3-6h0m0 6h0m1-3h0m7 0h0m1-1h0m1-1h0m-65 8h0m1 3h0m0-3h0m7-3h0m1 3h0m0 1h0m0-1h0m5 3h0m2-6h0m1 1h0m1 0h0m4 2h0m4 0h0m0 0h0m0-2h0m0 2h0m1 1h0m0-4h0m1 3h0m1-2h0m2 1h0m0 1h0m1-3h0m2 0h0m1 3h0m1 2h0m1-2h0m0 1h0m2 2h0m1-1h0m0 1h0m3-5h0m0 2h0m2 1h0m0 0h0m2 1h0m0-3h0m0 2h0m1-1h0m1-1h0m5 1h0m-50 4h0m0-1h0m4 0h0m2 1h0m2 0h0m3 2h0m0 2h0m2-1h0m0-2h0m5 1h0m2 3h0m1-5h0m2 4h0m2-4h0m0 1h0m2-1h0m1 3h0m1 1h0m1-5h0m2 4h0m2 1h0m1-3h0m3 3h0m1-5h0m0 5h0m1-2h0m4-2h0m1 1h0m-33 5h0m4 1h0m1-2h0" stroke="rgb(243,175,32)" stroke-width="4.2" stroke-linecap="round"/>
<path d="M644 932h0m0 1h0m36 0h0m-52 5h0m7-1h0m1-2h0m4 0h0m1 3h0m2-3h0m3 0h0m0 1h0m1-2h0m2 0h0m0 4h0m1-4h0m4 2h0m4 3h0m3-3h0m1-1h0m6 3h0m0-5h0m3 4h0m4-3h0m0 3h0m3-1h0m1 0h0m3-3h0m2 2h0m3 2h0m1-1h0m-60 5h0m2 3h0m4 0h0m2-3h0m8 3h0m3-5h0m3 5h0m0-4h0m9 2h0m3-1h0m1 0h0m3 2h0m6-1h0m0 1h0m1 1h0m2-3h0m1 2h0m7-1h0m7-1h0m8 3h0m-77 4h0m0 3h0m4-6h0m13 3h0m0-1h0m0-1h0m7 4h0m1 1h0m6-2h0m2-3h0m1 0h0m2-1h0m1 5h0m2-2h0m4-1h0m9 2h0m4-2h0m1 0h0m0 1h0m0 1h0m4 1h0m2 1h0m7-3h0m4-3h0m3 5h0m-73 5h0m0-1h0m7 3h0m0-1h0m3 1h0m1-4h0m0 2h0m3 2h0m2-1h0m10 0h0m5-1h0m5 2h0m1-4h0m0 3h0m1-3h0m6 0h0m8-2h0m4 5h0m4-4h0m1 4h0m1 1h0m4 0h0m3-3h0m-57 8h0m1 0h0m1 0h0m6-2h0m2-1h0m16-1h0m0 4h0m3-3h0m0 2h0m4 1h0m9-1h0m2-3h0m6 2h0m1-1h0m-47 5h0m14 0h0m2 0h0m6 2h0m1-1h0m1 1h0m3-3h0m9 1h0" stroke="rgb(190,160,110)" stroke-width="4.2" stroke-linecap="round"/>
<path d="M657 927h0m12-1h0m7 1h0m0 0h0m4-1h0m1-2h0m1 1h0m1-4h0m0 3h0m4-1h0m1 3h0m0-1h0m1 0h0m6 1h0m-42 6h0m7-3h0m10-1h0m3 1h0m1 3h0m8 1h0m3-5h0m0 0h0m2 0h0m8 1h0m12 0h0m-56 9h0m0-3h0m7 4h0m8-5h0m0 1h0m12 1h0m3-3h0m1 3h0m1 1h0m6 2h0m1-5h0m4 3h0m1-2h0m3 2h0m3 2h0m1-4h0m-49 5h0m1 2h0m0-3h0m2 4h0m2-4h0m5 2h0m8 1h0m5-1h0m6 3h0m2-4h0m4 2h0m2-3h0m8 4h0m1 1h0m3-5h0m0 3h0m-34 3h0m23 3h0m3-2h0" stroke="rgb(190,160,110)" stroke-width="4.2" stroke-linecap="round"/>
<path d="M638 950h0m6-3h0m6 3h0m-29 6h0m3-4h0m2 0h0m0 5h0m3 0h0m2-1h0m0-1h0m12 1h0m1 1h0m0-4h0m0 4h0m10-5h0m-33 8h0m7-2h0m10 4h0m0-4h0m4 3h0m1 1h0m1-5h0m2 1h0m1 0h0m1 1h0m4 4h0m1-2h0m2-2h0m-29 5h0m2 1h0m3 0h0m8 2h0m8-2h0m10-2h0m-21 10h0m4-1h0m3 0h0m1-1h0m1 2h0m9-3h0" stroke="rgb(243,175,32)" stroke-width="4.2" stroke-linecap="round"/>
<path d="M623 964h0m2 1h0m4 4h0m-10 4h0m2-4h0m2 4h0m9-2h0m-14 5h0m1 4h0m12-1h0m3 1h0m-9 3h0m7 0h0m0 1h0m1 0h0m2-1h0m-18 9h0m0 0h0m5-2h0m2 1h0m2-2h0m0 0h0m0 1h0m3 2h0m3 0h0m-7 7h0m1-4h0m7-1h0m-7 5h0m2 2h0" stroke="rgb(190,160,110)" stroke-width="4" stroke-linecap="round"/>
<path d="M641 888h0m0 0h0m0 0h0m6 0h0m0 0h0m3 0h0m2 1h0m1-1h0m6 2h0m-21 3h0m0-1h0m3 1h0m5-1h0m7 3h0m0 0h0m0-3h0m0-1h0m1 6h0m2-3h0m3-1h0m-24 4h0m1 5h0m2-2h0m0-3h0m3 2h0m0 2h0m3-2h0m5-1h0m4 0h0m2 2h0m0 3h0m0-2h0m-19 4h0m3 3h0m0 0h0m6 0h0m12-4h0m1 2h0m6 1h0m-33 4h0m1 1h0m1-3h0m4 6h0m2-3h0m5 1h0m1-1h0m10 0h0m1-1h0m0-1h0m5 1h0m4 0h0m-31 5h0m0 1h0m10 1h0m2-3h0m2 3h0m5 1h0m4-1h0m1 2h0m1 0h0m0-5h0m-18 9h0m0-1h0m0-2h0m7 2h0m7 3h0m3-3h0m3 0h0m-19 4h0m4 2h0" stroke="rgb(243,175,32)" stroke-width="4.2" stroke-linecap="round"/>
<path d="M652 894h0m3 3h0m-9 3h0m1 3h0m3-6h0m2 3h0m1 3h0m1-5h0m1 4h0m0-1h0m-11 7h0m4-2h0m8 2h0m2-3h0m2 0h0m-17 6h0m4 1h0m0 0h0m2 2h0m5-5h0" stroke="rgb(190,160,110)" stroke-width="4" stroke-linecap="round"/>
<path d="M714 878h0m3 0h0m-12 4h0m3 0h0m0-2h0m6-1h0m1 1h0m2 2h0m9 2h0m1-3h0m-27 9h0m1-3h0m0 4h0m16-4h0m1 2h0m4 1h0m1-2h0m8-2h0m1 3h0m4 1h0m-38 2h0m3 0h0m0 0h0m5 1h0m0-1h0m15 1h0m2-2h0m3 4h0m0-3h0m1 3h0m-27 2h0m0 5h0m1-3h0m4 4h0m3-2h0m1 0h0m0-2h0m2 0h0m1-2h0m7 3h0m3-2h0m9 2h0m2-2h0m0 2h0m2 3h0m2-5h0m3 1h0m0 0h0m-45 9h0m2-2h0m4 3h0m4-1h0m3 0h0m10-3h0m3-1h0m3 4h0m2-1h0m1 0h0m7-3h0m6-1h0m-45 10h0m1-4h0m4 1h0m4-1h0m0 3h0m4 3h0m3-2h0m4 2h0m4-4h0m3 2h0m6-3h0m10 3h0m-42 6h0m3-2h0m8-2h0m1 1h0m7 3h0m9 0h0m1 1h0m7-1h0m3-1h0m6 1h0m-45 4h0m2 4h0m8-4h0m3 4h0m0-4h0m2 2h0m0-4h0m13 4h0m3-2h0m3 3h0m-26 7h0m7-5h0m2 1h0m2-2h0m1 1h0m10 0h0m2 4h0m4-4h0m2 2h0m4-2h0m-37 5h0m3 2h0m0 1h0m4 2h0m1-1h0m3 0h0m0 2h0m10-6h0m2 5h0m10-1h0m-27 2h0m4 3h0m1-1h0m6-1h0m4 4h0m1 0h0m5 0h0m5-5h0" stroke="rgb(195,140,40)" stroke-width="4.2" stroke-linecap="round"/>
<path d="M648 998h0m3 0h0m4 0h0m-6 4h0m5 1h0m1 1h0m9 0h0m1-2h0m-26 6h0m0 0h0m4 1h0m1 2h0m3-3h0m3-1h0m6 0h0m3 3h0m6-4h0m3 5h0m2-2h0m-29 7h0m4-5h0m0 4h0m0 1h0m4-3h0m1 4h0m5-4h0m1 1h0m0 0h0m3-3h0m1 3h0m3 1h0m9 0h0m1 2h0m5-1h0m-45 5h0m9-1h0m8 2h0m1 0h0m1-4h0m8 3h0m1-3h0m2 2h0m4-1h0m2 3h0m0-4h0m7 4h0m-44 3h0m1 3h0m2-4h0m6 2h0m8 1h0m6-3h0m6 0h0m15 4h0m-48 2h0m6 1h0m1 1h0m1 2h0m1-4h0m11 3h0m1-1h0m6 0h0m0-1h0m4 3h0m12-4h0m6 0h0m-46 10h0m1 1h0m2-2h0m5-2h0m1 2h0m8-2h0m5-2h0m0 2h0m3 0h0m2 1h0m6 1h0m0 0h0m10-4h0m-36 7h0m9-1h0m4 3h0m2 1h0m7 1h0m4-4h0m9 4h0m-22 6h0m14-1h0m-18 5h0m6-1h0" stroke="rgb(200,95,72)" stroke-width="4.2" stroke-linecap="round"/>
<path d="M622 993h0m4-2h0m3-1h0m-7 5h0m2 1h0m0 0h0m2 1h0m3-1h0m10 3h0m-3 5h0m1 1h0m0-4h0m2-1h0m-16 9h0m1 0h0m6 1h0m3-1h0m1 2h0m4-3h0m-7 3h0" stroke="rgb(190,160,110)" stroke-width="4" stroke-linecap="round"/>
<path d="M737 981h0m4-1h0m2-5h0m0 5h0m5-3h0m-18 8h0m1 2h0m3-2h0m1 1h0m3 1h0m3-3h0m2 3h0m5-5h0m5 3h0m1 1h0m7 0h0m1 0h0m0-2h0m0-1h0m3 2h0m-32 2h0m3 4h0m2 0h0m4 1h0m1-4h0m4 2h0m0 2h0m2-4h0m1 4h0m8-3h0m13 0h0m4 1h0m0-1h0m-48 5h0m3 3h0m2 0h0m2-2h0m2 3h0m0-1h0m8-1h0m3 2h0m1-1h0m5-3h0m1 4h0m3 0h0m5-1h0m0-4h0m4 5h0m2 1h0m4-4h0m1-1h0m1 1h0m0 2h0m3-4h0m-49 7h0m1 2h0m3-2h0m1-1h0m5 5h0m2-4h0m1 5h0m0-5h0m2 0h0m8 2h0m0-2h0m2 2h0m4-2h0m0 3h0m6-3h0m6 4h0m1-1h0m1-4h0m2 0h0m-41 8h0m3 1h0m1 1h0m4-4h0m11 1h0m2 1h0m2 1h0m5-2h0m1 0h0m5 5h0m10-6h0m-33 12h0m2-5h0m1 0h0m1 3h0m2-2h0m1-1h0m12 3h0m4-2h0m2 3h0m1 0h0m2-2h0m4-1h0m-38 8h0m2-4h0m9 5h0m2-2h0m2 0h0m1 0h0m1 2h0m4-2h0m6 1h0m3 1h0m-25 3h0m6 1h0m10-2h0m4 0h0" stroke="rgb(55,150,78)" stroke-width="4.2" stroke-linecap="round"/>
<path d="M736 1064h0m3-2h0m0 0h0m4-3h0m3 1h0m5 4h0m4 0h0m-24 4h0m1 1h0m0 0h0m2 1h0m3-3h0m6 0h0m0-2h0m1 4h0m0-1h0m3-1h0m6 0h0m1 0h0m4 2h0m-27 3h0m5-1h0m2 3h0m0 1h0m0 2h0m6-6h0m1 0h0m3 1h0m3 4h0m0-4h0m2 0h0m1 2h0m1 1h0m1-1h0m4-3h0m-27 9h0m3 2h0m5 1h0m1-5h0m1 2h0m1 2h0m1-3h0m0 2h0m0-2h0m2 3h0m2-2h0m1 0h0m2 0h0m1-1h0m1 2h0m2 2h0m-23 2h0m1 1h0m4 1h0m1-3h0m2 3h0m5 1h0m4-2h0m0-2h0m2 0h0" stroke="rgb(222,100,160)" stroke-width="4.2" stroke-linecap="round"/>
</g>
<text x="667" y="616.3" font-size="23" textLength="52" lengthAdjust="spacingAndGlyphs">PVM</text>
<text x="550.8" y="647.2" font-size="23" textLength="38" lengthAdjust="spacingAndGlyphs">MG</text>
<text x="781.5" y="652.7" font-size="23" textLength="44.6" lengthAdjust="spacingAndGlyphs">Peri</text>
<text x="681.6" y="710.8" font-size="23" textLength="48.2" lengthAdjust="spacingAndGlyphs">NB1</text>
<line x1="681.6" y1="714.8" x2="729.8" y2="714.8" stroke="#000" stroke-width="2.2"/>
<text x="801.5" y="709" font-size="23" textLength="61" lengthAdjust="spacingAndGlyphs">Endo</text>
<text x="597.3" y="741" font-size="23" textLength="67.1" lengthAdjust="spacingAndGlyphs">VLMC</text>
<text x="581.7" y="772.6" font-size="23" textLength="50" lengthAdjust="spacingAndGlyphs">RGL</text>
<line x1="581.7" y1="776.6" x2="631.7" y2="776.6" stroke="#000" stroke-width="2.2"/>
<text x="725.2" y="769" font-size="23" textLength="55.5" lengthAdjust="spacingAndGlyphs">nIPC</text>
<line x1="725.2" y1="773" x2="780.7" y2="773" stroke="#000" stroke-width="2.2"/>
<text x="810.6" y="760.6" font-size="23" textLength="64.6" lengthAdjust="spacingAndGlyphs">NFOL</text>
<text x="895.3" y="790.7" font-size="23" textLength="32.6" lengthAdjust="spacingAndGlyphs">OL</text>
<text x="615.5" y="841.6" font-size="23" textLength="47.1" lengthAdjust="spacingAndGlyphs">NB2</text>
<line x1="615.5" y1="845.6" x2="662.6" y2="845.6" stroke="#000" stroke-width="2.2"/>
<text x="759.7" y="859.8" font-size="23" textLength="51.9" lengthAdjust="spacingAndGlyphs">OPC</text>
<text x="483.6" y="872.5" font-size="23" textLength="62.7" lengthAdjust="spacingAndGlyphs">Astro</text>
<text x="541.5" y="915.7" font-size="23" textLength="78.2" lengthAdjust="spacingAndGlyphs">GC_im</text>
<line x1="541.5" y1="919.7" x2="619.7" y2="919.7" stroke="#000" stroke-width="2.2"/>
<text x="520.1" y="1014.9" font-size="23" textLength="34.7" lengthAdjust="spacingAndGlyphs">GC</text>
<text x="747.8" y="964.7" font-size="23" textLength="51.5" lengthAdjust="spacingAndGlyphs">CCK</text>
<text x="782.4" y="1007.1" font-size="23" textLength="70.2" lengthAdjust="spacingAndGlyphs">GABA</text>
<text x="764.8" y="1076.3" font-size="23" textLength="34.5" lengthAdjust="spacingAndGlyphs">CR</text>
<path d="M658 601.8Q648.1 610.5 647 623.6" class="ar"/>
<path d="M592.6 641.8Q604.8 658 596.2 676.3" class="ar"/>
<path d="M777.9 642.8Q768.2 644.1 759.7 649" class="ar"/>
<path d="M821.5 716.2Q808.4 731.5 788.8 727.2" class="ar"/>
<path d="M661.6 743.5Q677.2 751.8 694.3 747.1" class="ar"/>
<path d="M750.6 772.6Q734.3 787.6 712.5 783.5" class="ar"/>
<path d="M865.1 767.1Q864.2 780 852.4 785.3" class="ar"/>
<path d="M930.5 807Q928.4 821.9 914.2 827.1" class="ar"/>
<path d="M650.7 845.2Q664.3 856.6 681.6 852.5" class="ar"/>
<path d="M821.5 839.8Q817 821.6 799.7 814.4" class="ar"/>
<path d="M478.1 847.1Q481 816.9 509 805.3" class="ar"/>
<path d="M608.6 923.5Q641.2 940.4 677.8 936.5" class="ar"/>
<path d="M565.4 1015.7Q579.1 1000.7 569.7 982.6" class="ar"/>
<path d="M770.9 937.9Q766.3 913.6 742.6 906.2" class="ar"/>
<path d="M774.3 969.6Q772.6 981.4 761.4 985.5" class="ar"/>
<path d="M808.9 1011.4Q788.3 1024.6 764.2 1020" class="ar"/>
<path d="M784.4 1087.8Q768.6 1090 755.6 1080.6" class="ar"/>
<g filter="url(#sc2)">
<path d="M154.3 1161.2C155.9 1159 160.8 1156.6 164 1154.7C167.2 1152.8 170.5 1149.8 173.8 1149.8C177.1 1149.8 181.7 1152 183.6 1154.7C185.5 1157.4 185.8 1163.1 185.2 1166.1C184.6 1169.1 181.9 1171 180.3 1172.6C178.7 1174.2 176.8 1173.9 175.4 1175.8C174.1 1177.7 173.5 1183.5 172.2 1184C170.8 1184.5 168.9 1181 167.3 1179.1C165.7 1177.2 164.6 1174.5 162.4 1172.6C160.2 1170.7 155.7 1169.6 154.3 1167.7C153 1165.8 152.7 1163.4 154.3 1161.2Z" fill="rgb(34,114,178)"/>
<path d="M168 1154h0m1 0h0m6 0h0m-12 5h0m5-3h0m9 4h0m4-3h0m-26 6h0m2 2h0m14 0h0m3-3h0m0 1h0m6 0h0m-13 5h0m1 2h0m2 2h0m-1 2h0m1 4h0" stroke="rgb(240,130,40)" stroke-width="2.4" stroke-linecap="round"/>
<ellipse cx="172" cy="1160" rx="9" ry="7" fill="rgb(240,130,40)"/>
<path d="M174 1155h0m1-1h0m-9 5h0m4-3h0m1 8h0m2-1h0m2 3h0m5-4h0" stroke="rgb(34,114,178)" stroke-width="2.2" stroke-linecap="round"/>
<ellipse cx="160" cy="1165" rx="4" ry="3" fill="rgb(240,130,40)"/>
<path d="M157 1164h0m1 0h0m1 1h0m0 0h0m1 2h0m2-2h0m-5 2h0m1 0h0" stroke="rgb(34,114,178)" stroke-width="2.2" stroke-linecap="round"/>
<path d="M138 1193C138.8 1191.8 142 1190.3 144 1190.5C146 1190.7 147.7 1193.1 150 1194C152.3 1194.9 156 1195.2 158 1196C160 1196.8 162.3 1198 162 1199C161.7 1200 158.7 1201.8 156 1202C153.3 1202.2 148.8 1200.7 146 1200C143.2 1199.3 140.3 1199.2 139 1198C137.7 1196.8 137.2 1194.2 138 1193Z" fill="rgb(240,130,40)"/>
<path d="M182 1192C182.7 1189.5 187 1187.5 190 1187.2C193 1186.9 198.1 1188.2 200 1190C201.9 1191.8 202.2 1195.8 201.5 1198C200.8 1200.2 198.6 1202.8 196 1203.5C193.4 1204.2 188.3 1203.9 186 1202C183.7 1200.1 181.3 1194.5 182 1192Z" fill="rgb(34,114,178)"/>
<path d="M184 1195h0m17 1h0m-14 2h0m6 3h0m4-4h0m4 1h0" stroke="rgb(240,130,40)" stroke-width="2.4" stroke-linecap="round"/>
<ellipse cx="192" cy="1195" rx="6" ry="5" fill="rgb(240,130,40)"/>
<path d="M187 1196h0m0-2h0m1-2h0m2 0h0m0 0h0m0 4h0m3-3h0m0 4h0" stroke="rgb(34,114,178)" stroke-width="2.2" stroke-linecap="round"/>
<path d="M172 1200h0m-11 8h0m0 1h0m0-1h0m1-5h0m1 3h0m0 1h0m0-3h0m2 2h0m4 2h0m2-1h0m2-4h0m1 5h0m5-4h0m0 2h0m1-2h0m2 1h0m1 3h0m-21 1h0m1 2h0m2 0h0m0 1h0m1-1h0m5 2h0m2-3h0m1 2h0m1-1h0m2 1h0m1 0h0m3-1h0" stroke="rgb(34,114,178)" stroke-width="2.6" stroke-linecap="round"/>
<path d="M170 1203h0m1-3h0m1 0h0m-2 4h0m1 2h0m4 3h0m4-5h0m2-1h0m1 5h0m-2 1h0" stroke="rgb(240,130,40)" stroke-width="2.6" stroke-linecap="round"/>
<path d="M78 1230C79.2 1228 82.7 1225.7 86 1225C89.3 1224.3 95 1224.8 98 1226C101 1227.2 103.5 1229.3 104 1232C104.5 1234.7 102 1238.3 101 1242C100 1245.7 99.5 1252.3 98 1254C96.5 1255.7 94.3 1254 92 1252C89.7 1250 86.2 1244.5 84 1242C81.8 1239.5 80 1239 79 1237C78 1235 76.8 1232 78 1230Z" fill="rgb(34,114,178)"/>
<path d="M93 1226h0m-8 5h0m8-2h0m-9 6h0m2 3h0m11 1h0m5-4h0m-16 7h0m9 2h0m4-1h0m-7 4h0m6 2h0m1-3h0m-7 5h0" stroke="rgb(240,130,40)" stroke-width="2.4" stroke-linecap="round"/>
<ellipse cx="88" cy="1232" rx="6" ry="4" fill="rgb(240,130,40)"/>
<path d="M87 1229h0m1 1h0m1-1h0m2 4h0m1-3h0m0 0h0m-6 6h0m2-3h0" stroke="rgb(34,114,178)" stroke-width="2.2" stroke-linecap="round"/>
<path d="M59.8 1270.3C61.6 1268.7 66.6 1267 69.6 1265.4C72.6 1263.8 75 1261.7 77.7 1260.6C80.4 1259.5 83.3 1259.5 85.8 1258.9C88.2 1258.4 89.4 1257 92.4 1257.3C95.4 1257.6 100.5 1258.7 103.8 1260.6C107 1262.5 110.3 1265.5 111.9 1268.7C113.5 1272 113.8 1276.8 113.5 1280.1C113.2 1283.4 112.7 1286.4 110.3 1288.3C107.9 1290.2 102.2 1289.9 98.9 1291.5C95.6 1293.1 93.2 1297.2 90.7 1298C88.2 1298.8 85.6 1298.3 84.2 1296.4C82.8 1294.5 84.2 1288.8 82.6 1286.6C81 1284.4 77.4 1284.5 74.4 1283.4C71.4 1282.3 67.3 1281.5 64.7 1280.1C62.1 1278.7 59.8 1276.8 59 1275.2C58.2 1273.6 58 1271.9 59.8 1270.3Z" fill="rgb(34,114,178)"/>
<path d="M81 1262h0m1 1h0m8-3h0m15 2h0m-36 4h0m2-1h0m5-2h0m7 1h0m0-1h0m5 2h0m2-1h0m0 1h0m2 2h0m1-2h0m10 2h0m2 0h0m-44 7h0m2-4h0m5-1h0m1 1h0m21 2h0m0-1h0m3 2h0m9 0h0m2 0h0m-35 4h0m10-2h0m0 0h0m8 6h0m1-4h0m-11 7h0m10 0h0m3-2h0m3 5h0m1-1h0m3-2h0m4-2h0m4 1h0m-22 4h0m17 1h0" stroke="rgb(240,130,40)" stroke-width="2.4" stroke-linecap="round"/>
<ellipse cx="96" cy="1274" rx="12" ry="12" fill="rgb(240,130,40)"/>
<path d="M92 1264h0m9 2h0m-13 8h0m9 0h0m1-4h0m0 2h0m5 2h0m1 0h0m1-2h0m-15 4h0m2-1h0m12 6h0" stroke="rgb(34,114,178)" stroke-width="2.2" stroke-linecap="round"/>
<ellipse cx="92" cy="1292" rx="4" ry="4" fill="rgb(240,130,40)"/>
<path d="M88 1291h0m1-1h0m0 2h0m2 0h0m0 0h0m1-1h0m1-1h0m0 2h0m1-3h0m-3 6h0m1 0h0m2-1h0" stroke="rgb(34,114,178)" stroke-width="2.2" stroke-linecap="round"/>
<path d="M154.3 1247.5C155.9 1244.8 159.9 1240.1 164 1237.8C168.1 1235.5 174.6 1234.2 178.7 1233.7C182.8 1233.2 185.5 1235.5 188.5 1234.5C191.5 1233.5 193.1 1230.7 196.6 1228C200.1 1225.3 205.9 1220.4 209.7 1218.2C213.5 1216 217.2 1214.9 219.4 1214.9C221.6 1214.9 223.8 1216 222.7 1218.2C221.6 1220.4 216.4 1224.7 212.9 1228C209.4 1231.3 202.6 1235.1 201.5 1237.8C200.4 1240.5 203.7 1242.9 206.4 1244.3C209.1 1245.7 215.6 1244.6 217.8 1245.9C220 1247.2 220.8 1251.1 219.4 1252.4C218.1 1253.8 213.5 1254 209.7 1254C205.9 1254 200.1 1251.9 196.6 1252.4C193.1 1253 191.2 1254.6 188.5 1257.3C185.8 1260 182.2 1265.7 180.3 1268.7C178.4 1271.7 178.7 1274.9 177.1 1275.2C175.5 1275.5 172.8 1272.7 170.6 1270.3C168.4 1267.9 166.7 1263.3 164 1260.6C161.3 1257.9 155.9 1256.2 154.3 1254C152.7 1251.8 152.7 1250.2 154.3 1247.5Z" fill="rgb(34,114,178)"/>
<path d="M196 1229h0m10-1h0m-40 11h0m5-2h0m4-2h0m2 4h0m6-3h0m4-1h0m0 1h0m18-2h0m-38 10h0m9 1h0m7-2h0m2 0h0m0-4h0m3 5h0m1-2h0m0 0h0m-12 8h0m2-3h0m13 0h0m2 0h0m2 3h0m0-3h0m1 2h0m17-1h0m-57 7h0m6 1h0m8 0h0m1-5h0m1 3h0m4 0h0m2-3h0m4 4h0m1-1h0m5-1h0m3 2h0m9-3h0m4 0h0m-39 5h0m1 6h0m0-2h0m9-4h0m12 1h0m-21 6h0m10 1h0m-2 7h0m1-2h0" stroke="rgb(240,130,40)" stroke-width="2.4" stroke-linecap="round"/>
<ellipse cx="176" cy="1246" rx="12" ry="8" fill="rgb(240,130,40)"/>
<path d="M169 1245h0m4-2h0m8-2h0m3 3h0m0-2h0m3 2h0m-17 6h0m1-3h0m6 0h0m2 0h0m5 3h0m-1 2h0" stroke="rgb(34,114,178)" stroke-width="2.2" stroke-linecap="round"/>
<ellipse cx="210" cy="1222" rx="8" ry="3" fill="rgb(240,130,40)"/>
<path d="M206 1220h0m1 0h0m6 0h0m-8 2h0m3 3h0m1-2h0m1 1h0m3-1h0m0 0h0m1 0h0m2 1h0m1-2h0" stroke="rgb(34,114,178)" stroke-width="2.2" stroke-linecap="round"/>
<ellipse cx="205" cy="1250" rx="6" ry="3" fill="rgb(240,130,40)"/>
<path d="M201 1250h0m1-1h0m4-1h0m1 0h0m2 2h0m1-1h0m-8 4h0m1-1h0m1 0h0m0 0h0m4-1h0m0 1h0" stroke="rgb(34,114,178)" stroke-width="2.2" stroke-linecap="round"/>
<path d="M239 1214C240.3 1212.2 243.2 1211.3 246 1211C248.8 1210.7 253.3 1211.2 256 1212C258.7 1212.8 260 1216.3 262 1216C264 1215.7 265.7 1211.3 268 1210C270.3 1208.7 273.7 1207.3 276 1208C278.3 1208.7 279.3 1212.7 282 1214C284.7 1215.3 289.1 1214.7 292 1216C294.9 1217.3 298.6 1219.7 299.3 1222C300 1224.3 297.9 1228.3 296 1230C294.1 1231.7 290.7 1231.3 288 1232C285.3 1232.7 283 1234.7 280 1234C277 1233.3 273 1229.3 270 1228C267 1226.7 263.7 1225 262 1226C260.3 1227 260 1230.7 260 1234C260 1237.3 262 1241.7 262 1246C262 1250.3 261.3 1257 260 1260C258.7 1263 255.7 1265.1 254 1263.8C252.3 1262.5 250.3 1256 250 1252C249.7 1248 252.7 1242.7 252 1240C251.3 1237.3 248 1237.7 246 1236C244 1234.3 241.3 1232.3 240 1230C238.7 1227.7 238.2 1224.7 238 1222C237.8 1219.3 237.7 1215.8 239 1214Z" fill="rgb(34,114,178)"/>
<path d="M265 1213h0m4 1h0m1-1h0m1 1h0m1-2h0m2-3h0m2 4h0m1 2h0m-30 2h0m8 4h0m0-6h0m3 2h0m17 0h0m-30 6h0m6-1h0m7 4h0m1-3h0m3 1h0m10-1h0m4 2h0m1 0h0m1 2h0m4-4h0m1 1h0m3-2h0m1-1h0m6 2h0m-52 8h0m9-1h0m5 1h0m2 0h0m2-4h0m0 0h0m21 0h0m-28 16h0m0 4h0m2 7h0m-2 3h0m1 3h0m0-1h0m5 2h0" stroke="rgb(240,130,40)" stroke-width="2.4" stroke-linecap="round"/>
<path d="M239 1214C240.3 1212 244.8 1211.2 248 1211C251.2 1210.8 256 1211.2 258 1213C260 1214.8 261.3 1220 260 1222C258.7 1224 253.3 1224.8 250 1225C246.7 1225.2 241.8 1224.8 240 1223C238.2 1221.2 237.7 1216 239 1214Z" fill="rgb(240,130,40)"/>
<path d="M251 1213h0m1-1h0m-12 6h0m3 2h0m0-3h0m12 2h0m3-3h0m0 6h0" stroke="rgb(34,114,178)" stroke-width="2.2" stroke-linecap="round"/>
<ellipse cx="272" cy="1213" rx="4" ry="4" fill="rgb(240,130,40)"/>
<path d="M270 1214h0m0-4h0m0 5h0m1-1h0m1 0h0m0-2h0m2 0h0m1 3h0" stroke="rgb(34,114,178)" stroke-width="2.2" stroke-linecap="round"/>
<ellipse cx="254" cy="1249" rx="5" ry="7" fill="rgb(240,130,40)"/>
<path d="M253 1244h0m0 1h0m3-1h0m-5 6h0m0 0h0m1-1h0m2-4h0m1 8h0" stroke="rgb(34,114,178)" stroke-width="2.2" stroke-linecap="round"/>
<ellipse cx="246" cy="1236" rx="5" ry="3" fill="rgb(240,130,40)"/>
<path d="M244 1236h0m0 0h0m2-1h0m1-1h0m0-1h0m1 4h0m1 0h0m2-2h0" stroke="rgb(34,114,178)" stroke-width="2.2" stroke-linecap="round"/>
<path d="M216 1280C216 1277 219.3 1273.6 222 1272C224.7 1270.4 229 1269.8 232 1270.3C235 1270.8 237.7 1274 240 1275C242.3 1276 243.3 1276.2 246 1276C248.7 1275.8 252 1274.3 256 1274C260 1273.7 265.3 1273.3 270 1274C274.7 1274.7 280.3 1276 284 1278C287.7 1280 290.6 1282 292 1286C293.4 1290 293.4 1297 292.7 1302C292 1307 290.8 1312.6 288 1316C285.2 1319.4 281.3 1321.5 276 1322.5C270.7 1323.5 262 1322.8 256 1322C250 1321.2 243.3 1320.7 240 1318C236.7 1315.3 237.3 1310 236 1306C234.7 1302 234.3 1296.7 232 1294C229.7 1291.3 224.7 1292.3 222 1290C219.3 1287.7 216 1283 216 1280Z" fill="rgb(34,114,178)"/>
<path d="M222 1275h0m-4 5h0m8 0h0m5-1h0m2-2h0m9-1h0m5 5h0m2-5h0m2 1h0m4 0h0m18 2h0m1-3h0m-46 8h0m0 3h0m6-1h0m6-5h0m2 4h0m0 0h0m7 0h0m3-3h0m8 2h0m10-1h0m2 1h0m2 2h0m6-4h0m3 2h0m-59 5h0m4-1h0m3 2h0m3 1h0m1 2h0m10-3h0m5 1h0m11 0h0m6 1h0m8-3h0m3-2h0m1 3h0m8 1h0m5-4h0m-58 9h0m14 0h0m6-1h0m1 0h0m15-1h0m8 0h0m3 0h0m6 3h0m-40 4h0m6-1h0m1 0h0m3 4h0m12-1h0m6-4h0m0 1h0m4 2h0m0 3h0m3-6h0m3 2h0m1 3h0m5-2h0m1 2h0m-54 2h0m35 5h0m1-3h0m3-1h0m8 2h0m-44 5h0m1 1h0m11-1h0m2 0h0m4-3h0m8 2h0m6 0h0m0-1h0m12 5h0m-40 1h0m4 1h0m3 0h0m4-1h0m18 3h0m1 0h0m5-2h0m3-2h0" stroke="rgb(240,130,40)" stroke-width="2.4" stroke-linecap="round"/>
<ellipse cx="262" cy="1300" rx="20" ry="16" fill="rgb(240,130,40)"/>
<path d="M252 1287h0m17 4h0m-13 6h0m5 1h0m3-2h0m8 2h0m2-1h0m2-2h0m-22 5h0m7 3h0m4 1h0m14 1h0m-30 2h0m15 0h0m7-1h0m0 4h0m8-2h0m-26 6h0m3 0h0m3-1h0" stroke="rgb(34,114,178)" stroke-width="2.2" stroke-linecap="round"/>
<ellipse cx="228" cy="1280" rx="5" ry="5" fill="rgb(240,130,40)"/>
<path d="M224 1277h0m2 2h0m1-2h0m1-2h0m0 1h0m0 1h0m1 1h0m1-2h0m1 4h0m1-2h0m0 0h0m-6 5h0m0 0h0m1-1h0m2-1h0m1 3h0m0 0h0m1 0h0m0-2h0m1 0h0" stroke="rgb(34,114,178)" stroke-width="2.2" stroke-linecap="round"/>
<path d="M196 1296C197 1293.9 201.3 1291.8 204 1291.5C206.7 1291.2 209.7 1292.2 212 1294C214.3 1295.8 216 1299.7 218 1302C220 1304.3 221.9 1306 224 1308C226.1 1310 230.5 1312.1 230.8 1314C231.1 1315.9 228.5 1318.9 226 1319.2C223.5 1319.5 219.3 1317.5 216 1316C212.7 1314.5 209 1312 206 1310C203 1308 199.7 1306.3 198 1304C196.3 1301.7 195 1298.1 196 1296Z" fill="rgb(34,114,178)"/>
<path d="M203 1297h0m8 1h0m-11 4h0m3 1h0m0 2h0m10 0h0m-2 0h0m1 1h0m5 1h0m-1 5h0m1 0h0m1 3h0m5-3h0" stroke="rgb(240,130,40)" stroke-width="2.4" stroke-linecap="round"/>
<ellipse cx="208" cy="1302" rx="6" ry="5" fill="rgb(240,130,40)"/>
<path d="M205 1299h0m-2 3h0m2 0h0m0-1h0m0 1h0m5 1h0m1 1h0m2-5h0" stroke="rgb(34,114,178)" stroke-width="2.2" stroke-linecap="round"/>
<ellipse cx="226" cy="1315" rx="4" ry="3" fill="rgb(240,130,40)"/>
<path d="M222 1315h0m2 1h0m0 0h0m1-3h0m2 2h0m2 2h0m1-1h0m-2 1h0" stroke="rgb(34,114,178)" stroke-width="2.2" stroke-linecap="round"/>
<path d="M110.3 1306C111.5 1303.3 115 1300 118 1298C121 1296 125 1295.3 128 1294C131 1292.7 133.3 1291.7 136 1290C138.7 1288.3 142 1284.3 144 1284C146 1283.7 148.1 1286 147.8 1288C147.5 1290 144 1293 142 1296C140 1299 138.3 1303 136 1306C133.7 1309 131 1311.8 128 1314C125 1316.2 120.8 1319 118 1319C115.2 1319 112.3 1316.2 111 1314C109.7 1311.8 109.1 1308.7 110.3 1306Z" fill="rgb(34,114,178)"/>
<path d="M121 1298h0m9-2h0m-14 5h0m1-1h0m8-1h0m1 5h0m4-4h0m4 2h0m1-2h0m-16 10h0m3-3h0m2 0h0m7 0h0m-12 9h0m1-3h0m3 1h0m3-3h0" stroke="rgb(240,130,40)" stroke-width="2.4" stroke-linecap="round"/>
<ellipse cx="126" cy="1305" rx="8" ry="6" fill="rgb(240,130,40)"/>
<path d="M119 1303h0m2-1h0m1 2h0m6-5h0m3 5h0m-8 2h0m5 3h0m5-2h0" stroke="rgb(34,114,178)" stroke-width="2.2" stroke-linecap="round"/>
<path d="M92 1293h0m0-1h0m0-1h0m3-1h0m1 2h0m-3 1h0m0 6h0m1 5h0m1 7h0m2-3h0m0 7h0m0-1h0m-4 8h0m3-4h0" stroke="rgb(34,114,178)" stroke-width="2.6" stroke-linecap="round"/>
<path d="M76 1328C76.7 1325.3 79.3 1322 82 1321C84.7 1320 89.5 1320.5 92 1322C94.5 1323.5 96.9 1327 97.2 1330C97.5 1333 96.2 1338 94 1340C91.8 1342 86.7 1342.5 84 1342C81.3 1341.5 79.3 1339.3 78 1337C76.7 1334.7 75.3 1330.7 76 1328Z" fill="rgb(34,114,178)"/>
<path d="M87 1322h0m-7 2h0m3 4h0m1 0h0m9-2h0m-15 8h0m8 0h0m-3 6h0m2-2h0" stroke="rgb(240,130,40)" stroke-width="2.4" stroke-linecap="round"/>
<ellipse cx="86" cy="1331" rx="4" ry="4" fill="rgb(240,130,40)"/>
<path d="M83 1329h0m3-1h0m1-1h0m-2 7h0m0-4h0m0 0h0m2 1h0m1 0h0" stroke="rgb(34,114,178)" stroke-width="2.2" stroke-linecap="round"/>
<path d="M125 1332.4C126.9 1328.6 130.9 1323 134.7 1320.8C138.5 1318.6 143.5 1320.3 147.8 1319.2C152.2 1318.1 156.5 1314.8 160.8 1314.3C165.1 1313.8 169.5 1316 173.8 1316C178.2 1316 183.1 1313.8 186.9 1314.3C190.7 1314.8 192.8 1317.8 196.6 1319.2C200.4 1320.6 205.9 1320.6 209.7 1322.5C213.5 1324.4 216.4 1327.1 219.4 1330.6C222.4 1334.1 226 1338.8 227.6 1343.7C229.2 1348.6 228.1 1354.6 229.2 1360C230.3 1365.4 234.1 1372.4 234.1 1376.2C234.1 1380 232.2 1381.7 229.2 1382.8C226.2 1383.9 220 1384.2 216.2 1382.8C212.4 1381.4 209.7 1377 206.4 1374.6C203.1 1372.1 198.8 1367.5 196.6 1368.1C194.4 1368.6 194.8 1374.7 193.4 1377.9C192.1 1381.2 191.2 1385.7 188.5 1387.6C185.8 1389.5 180.6 1390.4 177.1 1389.3C173.6 1388.2 170 1384.1 167.3 1381.1C164.6 1378.1 164.1 1374.1 160.8 1371.4C157.6 1368.7 150.5 1367.4 147.8 1364.9C145.1 1362.5 144 1358.9 144.5 1356.7C145 1354.5 151.6 1353.2 151 1351.8C150.4 1350.4 145 1348.6 141.2 1348.6C137.4 1348.6 131.2 1352.6 128.2 1351.8C125.2 1351 123.8 1346.9 123.3 1343.7C122.8 1340.5 123.1 1336.2 125 1332.4Z" fill="rgb(34,114,178)"/>
<path d="M158 1320h0m6-2h0m2 5h0m4-2h0m8-4h0m0 2h0m3 3h0m1 0h0m-37 5h0m9-2h0m5 3h0m18-1h0m4-2h0m0-1h0m13 5h0m2-5h0m19 5h0m-87 2h0m9 3h0m1 0h0m3-4h0m4 1h0m5-2h0m5 0h0m2 3h0m0-1h0m12 3h0m5-1h0m1 1h0m13 0h0m2-3h0m2 0h0m24 2h0m1-1h0m2 2h0m-94 3h0m2 0h0m3-2h0m5 3h0m3 0h0m0-1h0m4 1h0m5 1h0m12-3h0m5 2h0m1 2h0m9-3h0m5 3h0m5-3h0m7-1h0m0 4h0m3 1h0m7-2h0m5 0h0m2 0h0m6-2h0m6 4h0m1-4h0m-97 5h0m3 0h0m3 0h0m18 3h0m6-1h0m8-1h0m2 4h0m13-6h0m0 0h0m4 1h0m7-1h0m6 4h0m7 1h0m4-2h0m6 0h0m4 3h0m8-3h0m-90 5h0m0 0h0m8-1h0m1 0h0m4 1h0m3 1h0m4 0h0m5 2h0m2 1h0m5-2h0m1 1h0m10-2h0m10 2h0m6-3h0m3 3h0m10-1h0m7 0h0m7 0h0m-71 3h0m4 0h0m0 0h0m3 1h0m4 3h0m2-5h0m1 5h0m0 1h0m1 0h0m9 0h0m1-1h0m1 0h0m6-1h0m6 1h0m13-4h0m9 3h0m0 2h0m6-3h0m6 0h0m0 0h0m5-2h0m-73 10h0m6-3h0m16 2h0m7 0h0m1 0h0m26-1h0m1-3h0m2 3h0m1 2h0m5 0h0m1-4h0m3 2h0m7-1h0m-73 5h0m4 1h0m0-2h0m1 6h0m0-2h0m6 1h0m12-4h0m14 0h0m12 1h0m2-2h0m3 0h0m2 1h0m2 3h0m6-3h0m-56 7h0m4-2h0m1 4h0m2-4h0m2 3h0m2-1h0m2 0h0m2 1h0m6-2h0m3 1h0m25 1h0m-37 7h0m4-2h0m0 3h0m1-3h0m40 0h0m7 2h0m2-1h0m0 0h0m-52 6h0m2 1h0" stroke="rgb(240,130,40)" stroke-width="2.4" stroke-linecap="round"/>
<path d="M127 1334C128.3 1330.8 132.2 1326.7 136 1325C139.8 1323.3 146.7 1322.8 150 1324C153.3 1325.2 155.7 1328.7 156 1332C156.3 1335.3 155 1341.2 152 1344C149 1346.8 142 1349 138 1349C134 1349 129.8 1346.5 128 1344C126.2 1341.5 125.7 1337.2 127 1334Z" fill="rgb(240,130,40)"/>
<path d="M136 1328h0m5 0h0m9 0h0m-14 6h0m6 0h0m8 0h0m-19 5h0m6-3h0m0 4h0m6-3h0m0 0h0m5 0h0m5 1h0m-12 4h0" stroke="rgb(34,114,178)" stroke-width="2.2" stroke-linecap="round"/>
<path d="M162 1370C163 1367.5 168 1365.5 172 1364.8C176 1364.1 182.5 1364.5 186 1366C189.5 1367.5 192.7 1370.7 193 1374C193.3 1377.3 190.8 1383.8 188 1386C185.2 1388.2 179.7 1388 176 1387C172.3 1386 168.3 1382.8 166 1380C163.7 1377.2 161 1372.5 162 1370Z" fill="rgb(240,130,40)"/>
<path d="M174 1365h0m14 5h0m-24 6h0m3-4h0m14 1h0m2 2h0m3-1h0m1 3h0m4-3h0m-21 7h0m4 1h0m2-4h0m5-1h0m-6 9h0" stroke="rgb(34,114,178)" stroke-width="2.2" stroke-linecap="round"/>
<ellipse cx="172" cy="1343" rx="8" ry="8" fill="rgb(240,130,40)"/>
<path d="M168 1339h0m1 0h0m1 1h0m3-5h0m2 4h0m-10 3h0m4 5h0m3-1h0m2-5h0m5 6h0m1-5h0m-12 6h0m7 0h0m2 0h0" stroke="rgb(34,114,178)" stroke-width="2.2" stroke-linecap="round"/>
<ellipse cx="186" cy="1326" rx="6" ry="5" fill="rgb(240,130,40)"/>
<path d="M180 1326h0m3 2h0m1-2h0m0 3h0m2-3h0m1 1h0m0 1h0m1-1h0m0 1h0m1-4h0m0 3h0m1-2h0m0 2h0m0 2h0" stroke="rgb(34,114,178)" stroke-width="2.2" stroke-linecap="round"/>
<ellipse cx="210" cy="1350" rx="6" ry="8" fill="rgb(240,130,40)"/>
<path d="M206 1345h0m0 0h0m1-2h0m2 0h0m0 2h0m0 6h0m0-1h0m5 1h0m1 0h0m-6 4h0m1 2h0m1-3h0m0 0h0m1 3h0" stroke="rgb(34,114,178)" stroke-width="2.2" stroke-linecap="round"/>
</g>
<path d="M58.9 1418.8V1318M58.9 1418.8H150" class="ax"/>
<path d="M58.9 1310l-5.5 11h11zM158.5 1418.8l-11 -5.5v11z" fill="#000"/>
<text x="43.4" y="1413.6" font-size="27" textLength="92" lengthAdjust="spacingAndGlyphs" transform="rotate(-90 43.4 1413.6)">UMAP2</text>
<text x="58.5" y="1451.9" font-size="26" textLength="89.5" lengthAdjust="spacingAndGlyphs">UMAP1</text>
<circle cx="86.9" cy="1489.5" r="8.8" fill="rgb(34,114,178)"/>
<text x="105.7" y="1497.1" font-size="30.5" textLength="131.6" lengthAdjust="spacingAndGlyphs">Macaque</text>
<circle cx="86.9" cy="1527.8" r="8.8" fill="rgb(240,130,40)"/>
<text x="106.2" y="1539.7" font-size="30.5" textLength="96.7" lengthAdjust="spacingAndGlyphs">Mouse</text>
<path d="M415.2 1175.4C415.5 1174.5 418.8 1171.1 419.6 1170.4C420.4 1169.7 423.6 1167.5 424.6 1167.3C425.6 1167.1 431 1167.4 432.1 1167.9C433.2 1168.4 437.5 1173.2 438.4 1173.5C439.3 1173.8 442.3 1171.2 443.4 1171C444.5 1170.8 450 1171.2 451.5 1171C453 1170.8 459.3 1169.2 460.9 1169.1C462.5 1169 469 1169.4 470.3 1169.8C471.6 1170.2 475.2 1172.6 476 1173.5C476.8 1174.4 479.7 1179.8 480.3 1181.1C480.9 1182.4 482.7 1187.7 482.9 1189.2C483.1 1190.7 483.2 1197.3 482.9 1198.6C482.6 1199.9 480.2 1203.9 479.7 1204.9C479.2 1205.9 477.5 1210.1 477.2 1211.1C476.9 1212.1 476.6 1216 476 1216.8C475.4 1217.6 471.2 1219.9 470.3 1220.5C469.4 1221.1 465.2 1222.8 464.7 1223.7C464.2 1224.6 464.4 1231 464.1 1231.8C463.8 1232.6 461.5 1233.9 460.9 1233.7C460.3 1233.5 457.3 1231.3 457.2 1229.9C457.1 1228.5 459.3 1219.7 459.7 1217.4C460.1 1215.1 461.9 1203.5 461.5 1202.4C461.1 1201.3 455.1 1203 454.7 1204.2C454.3 1205.5 457.1 1215.3 457.2 1217.4C457.3 1219.5 456.4 1228.1 456.5 1229.9C456.6 1231.7 458.6 1238.4 457.8 1239.3C457 1240.2 447.7 1242 447.1 1241.2C446.5 1240.4 450 1231.6 450.3 1229.9C450.6 1228.2 451.1 1221.8 450.9 1220.5C450.7 1219.2 449.1 1215.4 448.4 1214.3C447.7 1213.2 443.1 1208.2 442.1 1207.4C441.1 1206.6 436.9 1205.4 435.9 1204.9C434.9 1204.4 431.1 1201.4 430.2 1201.7C429.3 1202 425.6 1207.1 424.6 1208.6C423.6 1210.1 419.4 1217.8 418.3 1219.3C417.2 1220.8 411.6 1225.6 410.8 1226.8C410 1228 408.7 1231.9 408.3 1233.1C407.9 1234.3 407 1240.4 406.4 1241.2C405.8 1242 401.9 1242.9 401.4 1242.5C400.9 1242.1 399.9 1237.5 400.1 1236.2C400.3 1234.9 402.5 1228 403.3 1226.8C404.1 1225.5 408.6 1222.5 409.5 1221.2C410.4 1219.9 413.9 1212.9 414.6 1211.1C415.3 1209.3 418 1201.6 418.3 1199.8C418.6 1198 418.5 1190.7 418.3 1189.2C418.1 1187.7 416.7 1182.9 416.4 1181.7C416.1 1180.5 414.9 1176.3 415.2 1175.4Z" fill="#0a0a0a"/>
<g filter="url(#sc6)">
<path d="M606 1172C608 1167.7 613.7 1165.7 618 1164C622.3 1162.3 627.5 1163.3 632 1162C636.5 1160.7 642 1158 645 1156C648 1154 646.2 1151 650 1150C653.8 1149 663.8 1148.3 668 1150C672.2 1151.7 674 1155 675 1160C676 1165 675.2 1173.3 674 1180C672.8 1186.7 670.3 1194.3 668 1200C665.7 1205.7 663 1209.7 660 1214C657 1218.3 652.3 1225.7 650 1226C647.7 1226.3 649 1218.7 646 1216C643 1213.3 637 1212.3 632 1210C627 1207.7 620.3 1205.3 616 1202C611.7 1198.7 607.7 1195 606 1190C604.3 1185 604 1176.3 606 1172Z" fill="rgb(168,168,48)"/>
<path d="M620 1167h0m48-3h0m-30 3h0m1 3h0m8-3h0m22 1h0m-28 10h0m14-4h0m-24 17h0m11 16h0" stroke="#fff" stroke-width="3.4" stroke-linecap="round"/>
<path d="M655 1189h0m2-4h0m1 4h0m5 0h0m-10 4h0m5 3h0m9-3h0m-11 8h0m10-1h0m0 1h0m-10 5h0m8 5h0m3-2h0m-8 7h0" stroke="rgb(215,40,40)" stroke-width="3.2" stroke-linecap="round"/>
<path d="M645 1203h0m-4 3h0m9 2h0m-8 2h0m10 1h0m-10 4h0m0 5h0m1-5h0" stroke="rgb(138,150,214)" stroke-width="3.2" stroke-linecap="round"/>
<ellipse cx="578" cy="1252" rx="8" ry="6" fill="rgb(196,92,70)"/>
<path d="M670 1238C672.3 1234.7 679 1231 684 1230C689 1229 695.5 1229.5 700 1232C704.5 1234.5 709.7 1240.3 711 1245C712.3 1249.7 710.8 1256.5 708 1260C705.2 1263.5 699 1265.7 694 1266C689 1266.3 682 1264.7 678 1262C674 1259.3 671.3 1254 670 1250C668.7 1246 667.7 1241.3 670 1238Z" fill="rgb(196,92,70)"/>
<path d="M687 1235h0m-12 6h0m2 2h0m27-3h0m-1 15h0m0 2h0" stroke="#fff" stroke-width="3.4" stroke-linecap="round"/>
<ellipse cx="635" cy="1271" rx="12" ry="8" fill="rgb(17,97,57)" transform="rotate(-20 635 1271)"/>
<path d="M684 1338C685.3 1333.8 692.7 1326.7 698 1322C703.3 1317.3 710 1313.7 716 1310C722 1306.3 728.3 1302.5 734 1300C739.7 1297.5 746 1295 750 1295C754 1295 757.3 1297.5 758 1300C758.7 1302.5 757.3 1307 754 1310C750.7 1313 743.7 1314.7 738 1318C732.3 1321.3 725.7 1325.7 720 1330C714.3 1334.3 709 1341.2 704 1344C699 1346.8 693.3 1348 690 1347C686.7 1346 682.7 1342.2 684 1338Z" fill="rgb(110,165,222)"/>
<path d="M743 1300h0m-32 23h0m14-1h0m-5 7h0m0 0h0m-24 3h0m7-3h0m10 1h0m0 0h0m-15 9h0" stroke="#fff" stroke-width="3.4" stroke-linecap="round"/>
<path d="M608 1360C610.3 1356 615 1353.3 620 1352C625 1350.7 633 1350.7 638 1352C643 1353.3 646.3 1355.3 650 1360C653.7 1364.7 659 1373 660 1380C661 1387 659 1396.7 656 1402C653 1407.3 647.3 1410.7 642 1412C636.7 1413.3 629.3 1412.7 624 1410C618.7 1407.3 613 1401.7 610 1396C607 1390.3 606.3 1382 606 1376C605.7 1370 605.7 1364 608 1360Z" fill="rgb(128,160,220)"/>
<path d="M650 1363h0m-32 6h0m12 2h0m-7 7h0m-8 9h0m-3 8h0m44 6h0m-13 10h0" stroke="#fff" stroke-width="3.4" stroke-linecap="round"/>
<path d="M636 1346C638 1341.2 643 1335.7 648 1333C653 1330.3 659 1329.5 666 1330C673 1330.5 683.7 1332 690 1336C696.3 1340 702 1347 704 1354C706 1361 704 1371.3 702 1378C700 1384.7 696.7 1390 692 1394C687.3 1398 680 1401.7 674 1402C668 1402.3 661.3 1399.7 656 1396C650.7 1392.3 645.3 1385.7 642 1380C638.7 1374.3 637 1367.7 636 1362C635 1356.3 634 1350.8 636 1346Z" fill="rgb(30,75,170)"/>
<path d="M666 1333h0m-10 10h0m28 2h0m-17 16h0m-26 9h0m9-4h0m40 0h0m-37 8h0m1 5h0m2 3h0m36 0h0m-26 3h0m29 2h0m-5 6h0" stroke="#fff" stroke-width="3.4" stroke-linecap="round"/>
<ellipse cx="724" cy="1368" rx="26" ry="11" fill="none" stroke="rgb(125,35,30)" stroke-width="6" transform="rotate(-10 724 1368)"/>
<ellipse cx="702" cy="1386" rx="6" ry="6" fill="rgb(222,100,160)"/>
<path d="M442 1322C443.7 1318.8 449.3 1316.3 454 1315C458.7 1313.7 464.7 1313.5 470 1314C475.3 1314.5 481.3 1316.7 486 1318C490.7 1319.3 495.8 1319 498 1322C500.2 1325 499.3 1331 499 1336C498.7 1341 496.2 1347 496 1352C495.8 1357 499.3 1362.7 498 1366C496.7 1369.3 492 1372 488 1372C484 1372 477.3 1370.3 474 1366C470.7 1361.7 471.3 1350.3 468 1346C464.7 1341.7 458 1342 454 1340C450 1338 446 1337 444 1334C442 1331 440.3 1325.2 442 1322Z" fill="rgb(132,116,48)"/>
<path d="M446 1327h0m0-3h0m29 1h0m14 12h0m-25 6h0m9 4h0m14 0h0m-7 4h0m15 13h0m-9 6h0" stroke="#fff" stroke-width="3.4" stroke-linecap="round"/>
<path d="M454 1400C455 1392.7 457.7 1387.8 462 1384C466.3 1380.2 473.7 1378 480 1377C486.3 1376 494 1376.2 500 1378C506 1379.8 512.3 1383 516 1388C519.7 1393 521.3 1400.7 522 1408C522.7 1415.3 522.3 1425.3 520 1432C517.7 1438.7 513.3 1444.8 508 1448C502.7 1451.2 494.7 1451.7 488 1451C481.3 1450.3 473.3 1447.8 468 1444C462.7 1440.2 458.3 1435.3 456 1428C453.7 1420.7 453 1407.3 454 1400Z" fill="rgb(17,97,57)"/>
<path d="M491 1380h0m-8 4h0m33 4h0m-16 6h0m1 0h0m9 0h0m-34 2h0m19-1h0m3 5h0m-25 4h0m0-1h0m10 0h0m3 4h0m-10 6h0m21-3h0m-18 3h0m-6 17h0m1 1h0m-6 6h0m12 0h0m24-5h0m-7 10h0m-5 1h0m2 4h0" stroke="#fff" stroke-width="3.4" stroke-linecap="round"/>
<path d="M852 1280C854 1276 860.7 1272 864 1272C867.3 1272 870.3 1276 872 1280C873.7 1284 871 1292.3 874 1296C877 1299.7 884.7 1300.3 890 1302C895.3 1303.7 901 1304.7 906 1306C911 1307.3 916.7 1307.3 920 1310C923.3 1312.7 926.3 1318.7 926 1322C925.7 1325.3 922 1329.3 918 1330C914 1330.7 907.3 1325.3 902 1326C896.7 1326.7 891 1332 886 1334C881 1336 876 1339.3 872 1338C868 1336.7 864.3 1331.3 862 1326C859.7 1320.7 859.7 1311 858 1306C856.3 1301 853 1300.3 852 1296C851 1291.7 850 1284 852 1280Z" fill="rgb(85,140,200)"/>
<path d="M863 1284h0m4 1h0m-7 2h0m4 3h0m4 12h0m-1 10h0m-1 6h0m2 1h0m3 6h0m19-2h0" stroke="#fff" stroke-width="3.4" stroke-linecap="round"/>
<path d="M808 1346C808.3 1341.7 812.3 1336.5 816 1334C819.7 1331.5 825.7 1330 830 1331C834.3 1332 840 1335.8 842 1340C844 1344.2 844 1352.3 842 1356C840 1359.7 834.7 1361.3 830 1362C825.3 1362.7 817.7 1362.7 814 1360C810.3 1357.3 807.7 1350.3 808 1346Z" fill="rgb(240,160,130)"/>
<path d="M836 1340h0m-22 10h0m24 4h0m-15 6h0" stroke="#fff" stroke-width="3.4" stroke-linecap="round"/>
<path d="M821 1295h0m8 3h0m-11 2h0m7-1h0m4 5h0m2 0h0m-23 7h0m3-1h0m2 0h0m10-3h0m10-2h0m2 0h0m-19 11h0m1-4h0m5 2h0m-12 8h0m4-2h0m3-1h0m1 0h0m0 4h0" stroke="rgb(240,160,130)" stroke-width="3.2" stroke-linecap="round"/>
<path d="M816 1299h0m-6 1h0m11 6h0m2 3h0m5-2h0m3 1h0m-18 8h0m2-1h0m7-4h0m3 1h0m-4 5h0m2 1h0" stroke="rgb(140,52,170)" stroke-width="2.8" stroke-linecap="round"/>
<path d="M825 1376h0m2-3h0m1-2h0m6 0h0m-10 6h0m10 3h0m2-1h0m1-2h0m1 6h0m-17 6h0m2-1h0m3-4h0m2 1h0m7 2h0m1 0h0m4 2h0m-15 6h0m7-3h0m2 1h0m1-4h0m1 1h0m2 4h0m0-3h0m-10 9h0m2-3h0m5-1h0" stroke="rgb(140,52,170)" stroke-width="3.2" stroke-linecap="round"/>
<path d="M825 1373h0m9 1h0m-9 8h0m3-2h0m1 0h0m3 2h0m-5 2h0m5 1h0m0 5h0m6 0h0m-10 9h0m8-3h0" stroke="rgb(243,175,32)" stroke-width="2.8" stroke-linecap="round"/>
<path d="M744 1424C745.3 1420 747.7 1416.2 752 1414C756.3 1411.8 764.3 1410.7 770 1411C775.7 1411.3 782.2 1412.8 786 1416C789.8 1419.2 792.7 1425 793 1430C793.3 1435 791.8 1442.5 788 1446C784.2 1449.5 776 1450.7 770 1451C764 1451.3 756.3 1450.2 752 1448C747.7 1445.8 745.3 1442 744 1438C742.7 1434 742.7 1428 744 1424Z" fill="rgb(208,128,106)"/>
<path d="M796 1438C797 1430.3 801.7 1427.3 806 1424C810.3 1420.7 816.3 1418.3 822 1418C827.7 1417.7 834 1420.7 840 1422C846 1423.3 852 1426.3 858 1426C864 1425.7 869.7 1420 876 1420C882.3 1420 890.7 1422.3 896 1426C901.3 1429.7 905 1434.7 908 1442C911 1449.3 913.3 1460.3 914 1470C914.7 1479.7 914.3 1491.7 912 1500C909.7 1508.3 905.3 1515.2 900 1520C894.7 1524.8 887 1527.7 880 1529C873 1530.3 865.3 1528.5 858 1528C850.7 1527.5 842.7 1528 836 1526C829.3 1524 823 1521 818 1516C813 1511 809 1503.7 806 1496C803 1488.3 801.7 1479.7 800 1470C798.3 1460.3 795 1445.7 796 1438Z" fill="rgb(116,69,162)"/>
<path d="M825 1424h0m48-1h0m7 1h0m-3 2h0m9 7h0m11 3h0m-50 6h0m37-5h0m4 5h0m-64 7h0m14-3h0m26 2h0m23 5h0m2 0h0m15-1h0m-60 4h0m11 5h0m35-4h0m14-2h0m5 1h0m-96 9h0m11-4h0m-18 10h0m18-3h0m13 1h0m8 3h0m41 1h0m5-1h0m19-5h0m-96 8h0m8 14h0m1-3h0m11 3h0m31-2h0m30 3h0m-78 5h0m10 1h0m32-1h0m9 1h0m38 1h0m3-1h0m-65 4h0m-13 5h0m60 3h0m-73 4h0m58-1h0m-44 7h0m5 3h0m44 4h0m8-3h0" stroke="#fff" stroke-width="3" stroke-linecap="round"/>
<ellipse cx="825" cy="1440" rx="24" ry="14" fill="rgb(180,40,90)" transform="rotate(10 825 1440)"/>
<path d="M819 1431h0m0-2h0m4 2h0m4-1h0m-21 4h0m13-3h0m9 4h0m-16 5h0m9 1h0m2 2h0m5-4h0m1 0h0m0 3h0m15-1h0m0-3h0m1 1h0m-32 5h0m4 4h0m2-2h0m15 0h0m7-2h0m5 0h0m-21 6h0m6 2h0m2 0h0m5 0h0" stroke="rgb(215,40,40)" stroke-width="3.6" stroke-linecap="round"/>
<ellipse cx="808" cy="1480" rx="10" ry="28" fill="rgb(140,52,170)"/>
<path d="M698 1466C698.7 1461.8 703.7 1458 708 1457C712.3 1456 719.3 1457.8 724 1460C728.7 1462.2 732 1466.3 736 1470C740 1473.7 745.3 1478 748 1482C750.7 1486 753.3 1491.7 752 1494C750.7 1496.3 745 1497 740 1496C735 1495 728 1490.3 722 1488C716 1485.7 708 1485.7 704 1482C700 1478.3 697.3 1470.2 698 1466Z" fill="rgb(222,100,160)"/>
<path d="M720 1463h0m-9 7h0m-5 8h0m-2 3h0m8 0h0m14 2h0m20 1h0m-1 3h0" stroke="#fff" stroke-width="3.4" stroke-linecap="round"/>
<path d="M741 1503h0m0 2h0m0 2h0m1 1h0m0-4h0m-7 6h0m1 5h0m4-4h0" stroke="rgb(138,150,214)" stroke-width="3.2" stroke-linecap="round"/>
<path d="M512 1484C513.7 1477.7 518.7 1473 524 1470C529.3 1467 537.7 1467.7 544 1466C550.3 1464.3 557 1460 562 1460C567 1460 571.8 1461.7 574 1466C576.2 1470.3 576.3 1480.3 575 1486C573.7 1491.7 570.5 1496.7 566 1500C561.5 1503.3 553.7 1503.7 548 1506C542.3 1508.3 537.7 1513.7 532 1514C526.3 1514.3 517.3 1513 514 1508C510.7 1503 510.3 1490.3 512 1484Z" fill="rgb(234,40,128)"/>
<path d="M564 1467h0m10 0h0m-48 9h0m34 4h0m-18 10h0m-16 3h0m12 2h0m9 1h0m-28 1h0m9 15h0" stroke="#fff" stroke-width="3.4" stroke-linecap="round"/>
<path d="M437 1548C438 1543.7 441.8 1535 446 1532C450.2 1529 457.7 1528.7 462 1530C466.3 1531.3 470.3 1535.7 472 1540C473.7 1544.3 473.3 1551.7 472 1556C470.7 1560.3 468 1564.3 464 1566C460 1567.7 452 1567.3 448 1566C444 1564.7 441.8 1561 440 1558C438.2 1555 436 1552.3 437 1548Z" fill="rgb(132,130,52)"/>
<path d="M460 1531h0m10 13h0m-28 5h0m10 4h0m4 5h0m3 7h0" stroke="#fff" stroke-width="3.4" stroke-linecap="round"/>
<path d="M475 1484h0m0 2h0m1 3h0m0 0h0m1-1h0m0-1h0m-1 6h0m3 3h0m-4 4h0m1 3h0m1-4h0m2 2h0m-7 7h0m2 0h0m0-3h0m2 3h0m-3 3h0m0 3h0m-1 4h0m5 1h0m1-2h0m-1 9h0m0-4h0m-2 5h0" stroke="rgb(132,130,52)" stroke-width="3.6" stroke-linecap="round"/>
<path d="M487 1485h0m2-2h0m0 0h0m0 2h0m4-3h0m4 1h0m-12 3h0m4 0h0" stroke="rgb(132,130,52)" stroke-width="3.6" stroke-linecap="round"/>
<path d="M543 1540C545 1536.7 550.8 1533 556 1532C561.2 1531 568.3 1534.7 574 1534C579.7 1533.3 584.7 1529.3 590 1528C595.3 1526.7 602.3 1524 606 1526C609.7 1528 611.7 1534.3 612 1540C612.3 1545.7 610.7 1554.3 608 1560C605.3 1565.7 600.3 1569.3 596 1574C591.7 1578.7 587 1584.7 582 1588C577 1591.3 571 1594.7 566 1594C561 1593.3 555 1588.7 552 1584C549 1579.3 549.3 1571.3 548 1566C546.7 1560.7 544.8 1556.3 544 1552C543.2 1547.7 541 1543.3 543 1540Z" fill="rgb(55,150,78)"/>
<path d="M577 1538h0m1-3h0m15 1h0m17 3h0m1 3h0m-45 3h0m26 3h0m-7 4h0m-3 10h0m15 0h0m-24 10h0m20 0h0m-16 12h0m3-1h0" stroke="#fff" stroke-width="3.4" stroke-linecap="round"/>
<path d="M614 1524C616.3 1518.7 625 1514 632 1512C639 1510 648 1512.3 656 1512C664 1511.7 672.7 1509.7 680 1510C687.3 1510.3 694.7 1511 700 1514C705.3 1517 712 1522.7 712 1528C712 1533.3 706 1542 700 1546C694 1550 683.7 1549.7 676 1552C668.3 1554.3 661 1559.3 654 1560C647 1560.7 640 1558.7 634 1556C628 1553.3 621.3 1549.3 618 1544C614.7 1538.7 611.7 1529.3 614 1524Z" fill="rgb(138,150,214)"/>
<path d="M656 1513h0m0 11h0m-25 8h0m-2 5h0m15 8h0m42-1h0m-53 6h0m16-5h0m23 5h0m-6 5h0" stroke="#fff" stroke-width="3.4" stroke-linecap="round"/>
<path d="M641 1513h0m15 1h0m4 1h0m8-2h0m-43 8h0m23-6h0m28 0h0m8 0h0m0 1h0m1 1h0m-63 8h0m1-2h0m3 2h0m10-2h0m16 3h0m10-1h0m1 2h0m3 0h0m0-4h0m4 3h0m3-4h0m16 3h0m1-1h0m6 3h0m-68 2h0m2 4h0m6-2h0m7-3h0m6 5h0m3-1h0m25-2h0m6-1h0m5-1h0m8 5h0m4-2h0m2-2h0m3 3h0m-88 4h0m18-3h0m6 1h0m5 2h0m9-2h0m18 0h0m2 2h0m1-1h0m0 1h0m3 0h0m0 2h0m14-3h0m10 3h0m-66 5h0m34 1h0m14-3h0m7 0h0m4 3h0m-68 3h0m5 1h0m37 1h0m7 3h0m2 0h0" stroke="rgb(215,40,40)" stroke-width="3.4" stroke-linecap="round"/>
<path d="M654 1516h0m9 4h0m6-3h0m1 1h0m-23 4h0m22 2h0m20 2h0m-56 7h0m19-2h0m6-2h0m8-1h0m-27 6h0m4 2h0m1-2h0m4 5h0m9-1h0m18-1h0m3 0h0m17-1h0m-66 9h0m10-1h0m5-3h0m15-1h0m6 4h0m28-2h0m-52 5h0m4 2h0m3-1h0m18 2h0m11-1h0" stroke="rgb(140,52,170)" stroke-width="3.2" stroke-linecap="round"/>
<path d="M700 1538C701.3 1533 707 1528.7 712 1526C717 1523.3 725.7 1521 730 1522C734.3 1523 737.3 1527.7 738 1532C738.7 1536.3 737 1543.7 734 1548C731 1552.3 725 1556.7 720 1558C715 1559.3 707.3 1559.3 704 1556C700.7 1552.7 698.7 1543 700 1538Z" fill="rgb(28,152,160)"/>
<path d="M711 1529h0m7 0h0m2 3h0m12-3h0m-11 7h0m0 5h0" stroke="#fff" stroke-width="3.4" stroke-linecap="round"/>
<path d="M638 1576C639 1572 643.7 1567.3 648 1566C652.3 1564.7 659.5 1565.7 664 1568C668.5 1570.3 673.7 1576 675 1580C676.3 1584 675.2 1589.7 672 1592C668.8 1594.3 661 1594.3 656 1594C651 1593.7 645 1593 642 1590C639 1587 637 1580 638 1576Z" fill="rgb(28,152,160)"/>
<path d="M644 1574h0m-1 6h0m-2 4h0m20 1h0m-17 3h0m21 0h0" stroke="#fff" stroke-width="3.4" stroke-linecap="round"/>
<path d="M588 1612C587.7 1609 594 1603 598 1600C602 1597 608.2 1594 612 1594C615.8 1594 620.7 1597 621 1600C621.3 1603 617.5 1609 614 1612C610.5 1615 604.3 1618 600 1618C595.7 1618 588.3 1615 588 1612Z" fill="rgb(28,152,160)"/>
<path d="M600 1605h0m8 1h0m0 5h0m5 1h0" stroke="#fff" stroke-width="3.4" stroke-linecap="round"/>
<path d="M700 1580C701.3 1573.3 705.3 1567.7 710 1564C714.7 1560.3 721 1558.7 728 1558C735 1557.3 744.7 1558.7 752 1560C759.3 1561.3 767.7 1561.7 772 1566C776.3 1570.3 778 1579.7 778 1586C778 1592.3 772.3 1597.7 772 1604C771.7 1610.3 774.3 1617.7 776 1624C777.7 1630.3 782.3 1636.7 782 1642C781.7 1647.3 778.3 1652.7 774 1656C769.7 1659.3 762.3 1661.7 756 1662C749.7 1662.3 742.3 1660.3 736 1658C729.7 1655.7 722.3 1653 718 1648C713.7 1643 712.7 1635.3 710 1628C707.3 1620.7 703.7 1612 702 1604C700.3 1596 698.7 1586.7 700 1580Z" fill="rgb(243,175,32)"/>
<path d="M713 1567h0m42-1h0m13 1h0m-51 3h0m16 3h0m16 4h0m0 3h0m22-4h0m-50 15h0m25 0h0m14-4h0m14 1h0m0 9h0m-53 3h0m42 1h0m-32 6h0m-16 5h0m18 6h0m14 2h0m-20 9h0m21 11h0m-25 6h0m10 0h0m2 3h0m2 1h0m5-1h0m8 3h0m13-1h0m-29 2h0m21 3h0" stroke="#fff" stroke-width="3" stroke-linecap="round"/>
<path d="M733 1616h0m4 0h0m2-2h0m2 2h0m1-1h0m5 0h0m1 0h0m6-1h0m2 3h0m4-1h0m1-1h0m1 1h0m-43 6h0m4-2h0m2 2h0m1-2h0m6 0h0m3-2h0m0 0h0m1 1h0m0 0h0m0 4h0m5-1h0m1-5h0m0 3h0m5 2h0m1-5h0m0 1h0m4 0h0m1 0h0m0-1h0m5 1h0m3 2h0m-46 8h0m1 0h0m3-2h0m2 0h0m6 1h0m1-3h0m5 2h0m1-2h0m4 2h0m3 1h0m2-1h0m5-3h0m4 1h0m6 4h0m1-3h0m3 4h0m0-5h0m3 4h0m1 0h0m1 1h0m1 0h0m4-1h0m-58 3h0m0-1h0m3 2h0m1-1h0m3 2h0m6-3h0m6 2h0m0 0h0m2 1h0m2-4h0m5 4h0m0-2h0m1-2h0m3 2h0m1 3h0m3 1h0m2-4h0m4-1h0m1 5h0m2-2h0m2-4h0m1 1h0m2 4h0m5-3h0m-52 5h0m1 2h0m6 1h0m6 0h0m1-3h0m1 4h0m0-2h0m0 3h0m0-2h0m11 1h0m1-3h0m1 0h0m1 3h0m3-4h0m1 5h0m3-1h0m0 0h0m4-2h0m1 3h0m1-5h0m5 1h0m4-1h0m0 4h0m1-3h0m3 1h0m0 0h0m1-2h0m3 5h0m0-5h0m-61 7h0m0 0h0m1-2h0m1 5h0m1 0h0m3-4h0m1 3h0m1-2h0m3-1h0m4 4h0m4-1h0m1 1h0m7-4h0m0 3h0m1 2h0m2-2h0m4-3h0m1 4h0m4-2h0m3 1h0m0-2h0m1 3h0m2 0h0m0-4h0m3 5h0m0-2h0m2 0h0m3 2h0m0-2h0m2 1h0m3 1h0m-51 5h0m10-3h0m1 1h0m1 3h0m5-2h0m0 2h0m0 0h0m5-4h0m1 2h0m2 0h0m6 0h0m2-3h0m1 2h0m1 0h0m0-1h0m3-1h0m1 3h0m1-1h0m1-2h0m3 0h0m5 1h0m-44 5h0m1 2h0m2 0h0m1-1h0m4-1h0m3 4h0m4-4h0m1 2h0m0 0h0m2-1h0m6 0h0m3 3h0m0 0h0m1 1h0m1-4h0m2 2h0m1 0h0m-21 2h0m2 1h0m8-1h0" stroke="rgb(200,88,40)" stroke-width="3.4" stroke-linecap="round"/>
<path d="M725 1625h0m1 1h0m1 3h0m3-1h0m2-2h0m8 0h0m8-1h0m6 2h0m-35 2h0m5 5h0m4-1h0m1 1h0m13-2h0m0 0h0m7-2h0m8 1h0m2 3h0m1-3h0m-46 9h0m11 0h0m2 1h0m0-1h0m2-4h0m3 3h0m10-3h0m2 0h0m3 0h0m9 3h0m5 1h0m0-2h0m3 2h0m3-1h0m-51 5h0m28-3h0m2 5h0m0-1h0m6-3h0m7-1h0m2 2h0m1 1h0m2-1h0m2 0h0m-49 6h0m0-2h0m5 1h0m7 0h0m2 4h0m0-4h0m4 4h0m0-2h0m2 1h0m0 0h0m10-2h0m2 2h0m2-1h0m5-2h0m3 3h0m-19 5h0m5-3h0m5 0h0" stroke="rgb(180,60,30)" stroke-width="3" stroke-linecap="round"/>
<path d="M630 1626C631.7 1621 635 1615 640 1612C645 1609 653.3 1608.3 660 1608C666.7 1607.7 674.3 1607.7 680 1610C685.7 1612.3 691.3 1616.3 694 1622C696.7 1627.7 697 1637 696 1644C695 1651 692 1658.7 688 1664C684 1669.3 678 1674.3 672 1676C666 1677.7 658 1676.7 652 1674C646 1671.3 639.7 1665.3 636 1660C632.3 1654.7 631 1647.7 630 1642C629 1636.3 628.3 1631 630 1626Z" fill="rgb(196,140,32)"/>
<path d="M673 1610h0m2 1h0m1 0h0m5 10h0m-41 8h0m14-5h0m3 7h0m-13 7h0m12-2h0m30 0h0m-25 10h0m-10 6h0m12-4h0m-10 12h0m15 4h0m16 2h0" stroke="#fff" stroke-width="3.4" stroke-linecap="round"/>
<path d="M638 1610h0m1 0h0m-7 2h0m7 5h0m3-6h0m-4 7h0m5 0h0m1-1h0" stroke="rgb(240,160,130)" stroke-width="3.2" stroke-linecap="round"/>
</g>
<text x="680" y="1192.4" font-size="23" textLength="131.2" lengthAdjust="spacingAndGlyphs">Endothelial</text>
<text x="712.2" y="1250.3" font-size="23" textLength="68.4" lengthAdjust="spacingAndGlyphs">VLMC</text>
<text x="882.6" y="1289.6" font-size="23" textLength="53.9" lengthAdjust="spacingAndGlyphs">MOL</text>
<text x="631.6" y="1310.2" font-size="23" textLength="65.1" lengthAdjust="spacingAndGlyphs">NFOL</text>
<text x="450.8" y="1308.2" font-size="23" textLength="51.5" lengthAdjust="spacingAndGlyphs">PVM</text>
<text x="581.1" y="1333" font-size="23" textLength="52.3" lengthAdjust="spacingAndGlyphs">OPC</text>
<text x="742" y="1344.6" font-size="23" textLength="66.3" lengthAdjust="spacingAndGlyphs">IPC_1</text>
<line x1="742" y1="1348.6" x2="808.3" y2="1348.6" stroke="#000" stroke-width="2.2"/>
<text x="847.9" y="1374.3" font-size="23" textLength="128.7" lengthAdjust="spacingAndGlyphs">Ependymal</text>
<text x="351.2" y="1384.7" font-size="23" textLength="105.6" lengthAdjust="spacingAndGlyphs">Microglia</text>
<text x="534.4" y="1428.1" font-size="23" textLength="104.4" lengthAdjust="spacingAndGlyphs">Pre_OPC</text>
<text x="852.8" y="1411.6" font-size="23" textLength="50.7" lengthAdjust="spacingAndGlyphs">RGL</text>
<line x1="852.8" y1="1415.6" x2="903.5" y2="1415.6" stroke="#000" stroke-width="2.2"/>
<text x="691.5" y="1442.6" font-size="23" textLength="34.9" lengthAdjust="spacingAndGlyphs">CR</text>
<text x="919.8" y="1461.2" font-size="23" textLength="64.3" lengthAdjust="spacingAndGlyphs">Astro</text>
<text x="404.1" y="1523.2" font-size="23" textLength="45.3" lengthAdjust="spacingAndGlyphs">Unk</text>
<text x="791.6" y="1561.7" font-size="23" textLength="105.7" lengthAdjust="spacingAndGlyphs">Astro_im</text>
<text x="453.7" y="1587.3" font-size="23" textLength="68" lengthAdjust="spacingAndGlyphs">IPC_2</text>
<line x1="453.7" y1="1591.3" x2="521.7" y2="1591.3" stroke="#000" stroke-width="2.2"/>
<text x="788.7" y="1597.7" font-size="23" textLength="35.3" lengthAdjust="spacingAndGlyphs">GC</text>
<text x="497.2" y="1614.2" font-size="23" textLength="71.3" lengthAdjust="spacingAndGlyphs">GABA</text>
<text x="563.3" y="1641.1" font-size="23" textLength="39.1" lengthAdjust="spacingAndGlyphs">Pyr</text>
<text x="602.6" y="1680.4" font-size="23" textLength="34.1" lengthAdjust="spacingAndGlyphs">NB</text>
<line x1="602.6" y1="1684.4" x2="636.7" y2="1684.4" stroke="#000" stroke-width="2.2"/>
<text x="737.8" y="1688.7" font-size="23" textLength="78" lengthAdjust="spacingAndGlyphs">GC_im</text>
<line x1="737.8" y1="1692.7" x2="815.8" y2="1692.7" stroke="#000" stroke-width="2.2"/>
<path d="M695.7 1167.6Q686.5 1159.2 674.2 1157.2" class="ar"/>
<path d="M726.7 1256.5Q720.9 1265.6 710.1 1264.8" class="ar"/>
<path d="M939.7 1299.9Q934.3 1321.4 912.8 1326.8" class="ar"/>
<path d="M697.7 1299.9Q710.8 1300.7 719.7 1310.2" class="ar"/>
<path d="M507.5 1305.3Q517 1325.5 501.3 1341.3" class="ar"/>
<path d="M637.8 1328.9Q652.7 1333.4 662.6 1345.4" class="ar"/>
<path d="M759.8 1351.6Q755 1367.1 739.1 1370.2" class="ar"/>
<path d="M867.3 1357.8Q860.1 1343.9 844.6 1341.3" class="ar"/>
<path d="M413.6 1397.1Q422.9 1415.3 443.4 1415.7" class="ar"/>
<path d="M596.4 1405.4Q600.7 1384.5 621.2 1378.5" class="ar"/>
<path d="M844.6 1409.5Q837.1 1419.8 834.2 1432.2" class="ar"/>
<path d="M726.7 1446.7Q739.3 1456 737 1471.5" class="ar"/>
<path d="M935.5 1469.5Q916.9 1483.9 894.2 1477.7" class="ar"/>
<path d="M418.6 1533.6Q422.1 1551.2 439.3 1556.3" class="ar"/>
<path d="M794.9 1546Q803 1528.8 797 1510.8" class="ar"/>
<path d="M489.7 1564.6Q493.4 1529.1 524 1510.8" class="ar"/>
<path d="M790.8 1606Q768.5 1605.5 755.6 1587.3" class="ar"/>
<path d="M526.1 1591.5Q540.1 1567.7 567.5 1564.6" class="ar"/>
<path d="M588.1 1616.3Q596.4 1609 604.7 1601.8" class="ar"/>
<path d="M641.9 1676.3Q660.1 1672.7 670.9 1657.6" class="ar"/>
<path d="M730.8 1680.4Q722.7 1667 730.8 1653.5" class="ar"/>
<text x="23.4" y="1821" font-size="29" textLength="132.4" lengthAdjust="spacingAndGlyphs">Macaque</text>
<circle cx="29.5" cy="1847.2" r="7.5" fill="rgb(215,40,40)"/>
<text x="41.4" y="1854.7" font-size="24" textLength="50.5" lengthAdjust="spacingAndGlyphs">RGL</text>
<circle cx="29.5" cy="1874.5" r="7.5" fill="rgb(140,52,170)"/>
<text x="41.4" y="1882" font-size="24" textLength="103.4" lengthAdjust="spacingAndGlyphs">Astro_im</text>
<circle cx="29.5" cy="1901.8" r="7.5" fill="rgb(116,69,162)"/>
<text x="41.4" y="1909.3" font-size="24" textLength="62" lengthAdjust="spacingAndGlyphs">Astro</text>
<circle cx="29.5" cy="1929.1" r="7.5" fill="rgb(130,35,35)"/>
<text x="41.4" y="1936.6" font-size="24" textLength="64.8" lengthAdjust="spacingAndGlyphs">IPC_1</text>
<circle cx="29.5" cy="1956.4" r="7.5" fill="rgb(234,40,128)"/>
<text x="41.4" y="1963.9" font-size="24" textLength="66.2" lengthAdjust="spacingAndGlyphs">IPC_2</text>
<circle cx="29.5" cy="1983.7" r="7.5" fill="rgb(196,140,32)"/>
<text x="41.4" y="1991.2" font-size="24" textLength="33.6" lengthAdjust="spacingAndGlyphs">NB</text>
<circle cx="29.5" cy="2011" r="7.5" fill="rgb(200,88,40)"/>
<text x="41.4" y="2018.5" font-size="24" textLength="77.2" lengthAdjust="spacingAndGlyphs">GC_im</text>
<circle cx="157.7" cy="1848" r="7.5" fill="rgb(243,175,32)"/>
<text x="169.6" y="1855.5" font-size="24" textLength="34.5" lengthAdjust="spacingAndGlyphs">GC</text>
<circle cx="157.7" cy="1875.4" r="7.5" fill="rgb(28,152,160)"/>
<text x="169.6" y="1882.9" font-size="24" textLength="37.8" lengthAdjust="spacingAndGlyphs">Pyr</text>
<circle cx="157.7" cy="1902.8" r="7.5" fill="rgb(55,150,78)"/>
<text x="169.6" y="1910.3" font-size="24" textLength="70.3" lengthAdjust="spacingAndGlyphs">GABA</text>
<circle cx="157.7" cy="1930.2" r="7.5" fill="rgb(128,160,220)"/>
<text x="169.6" y="1937.7" font-size="24" textLength="96.5" lengthAdjust="spacingAndGlyphs">Pre_OPC</text>
<circle cx="157.7" cy="1957.6" r="7.5" fill="rgb(30,75,170)"/>
<text x="169.6" y="1965.1" font-size="24" textLength="51" lengthAdjust="spacingAndGlyphs">OPC</text>
<circle cx="157.7" cy="1985" r="7.5" fill="rgb(110,165,222)"/>
<text x="169.6" y="1992.5" font-size="24" textLength="64.8" lengthAdjust="spacingAndGlyphs">NFOL</text>
<circle cx="157.7" cy="2012.4" r="7.5" fill="rgb(85,140,200)"/>
<text x="169.6" y="2019.9" font-size="24" textLength="52.4" lengthAdjust="spacingAndGlyphs">MOL</text>
<circle cx="281.2" cy="1848.5" r="7.5" fill="rgb(17,97,57)"/>
<text x="294.5" y="1856" font-size="24" textLength="105.3" lengthAdjust="spacingAndGlyphs">Microglia</text>
<circle cx="281.2" cy="1873.7" r="7.5" fill="rgb(222,100,160)"/>
<text x="294.5" y="1881.2" font-size="24" textLength="34.2" lengthAdjust="spacingAndGlyphs">CR</text>
<circle cx="281.2" cy="1898.9" r="7.5" fill="rgb(168,168,48)"/>
<text x="294.5" y="1906.4" font-size="24" textLength="129.3" lengthAdjust="spacingAndGlyphs">Endothelial</text>
<circle cx="281.2" cy="1924.1" r="7.5" fill="rgb(240,160,130)"/>
<text x="294.5" y="1931.6" font-size="24" textLength="127.9" lengthAdjust="spacingAndGlyphs">Ependymal</text>
<circle cx="281.2" cy="1949.3" r="7.5" fill="rgb(132,116,48)"/>
<text x="294.5" y="1956.8" font-size="24" textLength="51.6" lengthAdjust="spacingAndGlyphs">PVM</text>
<circle cx="281.2" cy="1974.5" r="7.5" fill="rgb(196,92,70)"/>
<text x="294.5" y="1982" font-size="24" textLength="67.3" lengthAdjust="spacingAndGlyphs">VLMC</text>
<circle cx="281.2" cy="1999.7" r="7.5" fill="rgb(132,130,52)"/>
<text x="294.5" y="2007.2" font-size="24" textLength="44.1" lengthAdjust="spacingAndGlyphs">Unk</text>
<text x="16" y="2109.1" font-size="29" textLength="97" lengthAdjust="spacingAndGlyphs">Mouse</text>
<circle cx="21.2" cy="2134.6" r="7.5" fill="rgb(215,40,40)"/>
<text x="36.7" y="2142.1" font-size="24" textLength="50.2" lengthAdjust="spacingAndGlyphs">RGL</text>
<circle cx="21.2" cy="2160" r="7.5" fill="rgb(116,69,162)"/>
<text x="36.7" y="2167.5" font-size="24" textLength="62" lengthAdjust="spacingAndGlyphs">Astro</text>
<circle cx="21.2" cy="2185.4" r="7.5" fill="rgb(135,40,35)"/>
<text x="36.7" y="2192.9" font-size="24" textLength="53.8" lengthAdjust="spacingAndGlyphs">nIPC</text>
<circle cx="21.2" cy="2210.8" r="7.5" fill="rgb(243,175,32)"/>
<text x="36.7" y="2218.3" font-size="24" textLength="83.3" lengthAdjust="spacingAndGlyphs">GC_NB</text>
<circle cx="21.2" cy="2236.2" r="7.5" fill="rgb(28,152,160)"/>
<text x="36.7" y="2243.7" font-size="24" textLength="41.9" lengthAdjust="spacingAndGlyphs">Exc</text>
<circle cx="148.9" cy="2138" r="7.5" fill="rgb(55,150,78)"/>
<text x="166.8" y="2145.5" font-size="24" textLength="33.9" lengthAdjust="spacingAndGlyphs">Inh</text>
<circle cx="148.9" cy="2162.8" r="7.5" fill="rgb(110,165,222)"/>
<text x="166.8" y="2170.3" font-size="24" textLength="31.7" lengthAdjust="spacingAndGlyphs">OL</text>
<circle cx="148.9" cy="2187.6" r="7.5" fill="rgb(17,97,57)"/>
<text x="166.8" y="2195.1" font-size="24" textLength="88.2" lengthAdjust="spacingAndGlyphs">Myeloid</text>
<circle cx="148.9" cy="2212.4" r="7.5" fill="rgb(168,168,48)"/>
<text x="166.8" y="2219.9" font-size="24" textLength="63.4" lengthAdjust="spacingAndGlyphs">VASC</text>
<circle cx="148.9" cy="2237.2" r="7.5" fill="rgb(240,160,130)"/>
<text x="166.8" y="2244.7" font-size="24" textLength="128.2" lengthAdjust="spacingAndGlyphs">Ependymal</text>
<path d="M543.6 1755.2C543.7 1755.7 543.7 1757.8 543.2 1758.6C542.8 1759.4 540.1 1762.4 539.1 1763.4C538.1 1764.4 534.6 1767.8 533.6 1768.9C532.6 1770 530 1773.5 529.5 1774.5C529 1775.5 528.2 1777.8 528.1 1778.6C528 1779.4 528.3 1782.2 528.8 1782.7C529.3 1783.2 532.4 1783 532.9 1783.4C533.4 1783.8 534.2 1786.4 534.3 1786.9C534.4 1787.5 534 1788.8 533.6 1788.9C533.2 1789 531.3 1788.4 530.8 1788.2C530.2 1788 528.7 1787 528.1 1786.9C527.5 1786.8 525.4 1786.5 524.6 1786.9C523.8 1787.3 520.8 1790.2 519.8 1791C518.8 1791.8 515.3 1793.8 514.3 1794.4C513.3 1795 510.8 1796.4 510.2 1797.2C509.6 1798 509 1800.8 508.8 1802C508.6 1803.2 508.2 1807.9 508.1 1808.9C508 1809.9 506.3 1811.5 507.7 1811.7C509.1 1811.9 520.1 1810.9 521.9 1811C523.7 1811.1 526.2 1812.4 526 1812.7C525.8 1813 521.7 1813.9 519.8 1814.1C517.9 1814.3 508.8 1814.6 507.4 1814.8C506 1815 506.8 1816.4 506 1816.5C505.2 1816.6 500.8 1815.9 499.1 1815.8C497.4 1815.7 490.2 1815.9 488.8 1815.8C487.4 1815.7 485.3 1815.2 484.7 1814.4C484.1 1813.6 482.8 1809.8 482.6 1808.2C482.4 1806.6 482.6 1800.6 482.6 1798.6C482.6 1796.6 482.3 1790.3 482.6 1788.2C482.9 1786.1 484.6 1779.8 485.4 1777.9C486.2 1776 489.7 1770.8 490.9 1769.6C492.1 1768.4 496.3 1766.1 497.8 1765.5C499.3 1764.9 504.5 1763.8 506 1763.4C507.5 1763 511.8 1761.8 512.9 1761.4C514 1761 516.9 1759.8 517.1 1759.3C517.3 1758.8 515.1 1756.7 515 1755.9C514.9 1755.1 515.2 1752 515.7 1751.7C516.2 1751.4 519 1752.1 519.8 1752.4C520.6 1752.7 522.3 1754.4 523.3 1754.5C524.3 1754.6 529.3 1753.7 530.1 1753.1C530.9 1752.5 531.2 1748.9 531.5 1748.3C531.8 1747.7 532.7 1746.5 532.9 1746.9C533.1 1747.3 533 1751.7 533.6 1752.4C534.2 1753.1 538.2 1753.7 539.1 1753.8C540 1753.9 542.1 1753.7 542.6 1753.8C543.1 1753.9 543.5 1754.7 543.6 1755.2Z" fill="#0a0a0a"/>
<path d="M486 1812.5C482.4 1812.5 470.6 1811.9 464.7 1812.2C458.8 1812.5 452.9 1813.2 450.5 1814.5C448.1 1815.8 450 1818.3 450.2 1820.3C450.4 1822.3 447.9 1825.4 451.5 1826.3C455.1 1827.2 466 1826.1 471.6 1825.6C477.2 1825.1 481.4 1823.9 485.4 1823.4C489.4 1822.9 493.2 1822.3 495.7 1822.4C498.2 1822.5 499.2 1823.1 500.5 1824.1C501.8 1825.1 503.1 1827.8 503.6 1828.6" fill="none" stroke="#0a0a0a" stroke-width="3" stroke-linecap="round"/>
<g filter="url(#none)">
<path d="M696 1749h0m4 0h0m0-1h0m3 1h0m0-1h0m2-2h0m1-1h0m0 4h0m2-3h0m1 0h0m4 0h0m0-2h0m1 1h0m3 2h0m1 2h0m1-6h0m1 6h0m3-2h0m1 1h0m1-3h0m0-1h0m0 5h0m2-4h0m0 3h0m2 0h0m0-2h0m2-2h0m3 3h0m0 0h0m1 1h0m2-1h0m1 0h0m3 0h0m4 2h0m-51 6h0m3-6h0m0 0h0m2 3h0m1 0h0m4-3h0m0 4h0m1-2h0m1 1h0m1 1h0m3-2h0m0 2h0m1-1h0m2-1h0m1-2h0m0 3h0m1-2h0m1-1h0m1 5h0m0-2h0m1-3h0m1 3h0m0 3h0m1 0h0m0-4h0m1 2h0m0-3h0m1 4h0m1-1h0m0-3h0m1 0h0m0 0h0m2 1h0m0 1h0m2 1h0m1-2h0m2 1h0m2-3h0m0 0h0m0 0h0m1 2h0m0 0h0m4-1h0m0 4h0m1-4h0m0 1h0m0 0h0m1 2h0m4-4h0m0 4h0m0-4h0m1 6h0m1-5h0m1 2h0m3 0h0m-63 8h0m1-3h0m1-2h0m2 5h0m0-2h0m1 3h0m0-2h0m1 1h0m1-3h0m1-1h0m5 3h0m1-1h0m1 3h0m2-1h0m2-4h0m1 2h0m2 2h0m3-1h0m0-3h0m0 4h0m2-5h0m1 4h0m1 2h0m1-1h0m1 1h0m1 0h0m0-3h0m0 1h0m1-3h0m1 3h0m2 2h0m1-2h0m1-1h0m0 0h0m2 2h0m1 0h0m0-3h0m7 4h0m1-1h0m1-2h0m1 3h0m0-3h0m0 1h0m1-1h0m1 2h0m0-4h0m1-1h0m1 4h0m0 1h0m4 0h0m0-4h0m4 0h0m1 2h0m0-1h0m1 1h0m-65 7h0m2 0h0m0-4h0m1 3h0m1 2h0m0 1h0m0-5h0m9 0h0m1-1h0m0 2h0m0 0h0m1 1h0m4 0h0m2-2h0m0 2h0m1-2h0m0 5h0m0-6h0m2 2h0m4 0h0m5 3h0m2-1h0m3 0h0m1 0h0m1-3h0m4 1h0m1-1h0m0 3h0m4 1h0m0-3h0m4 3h0m4-2h0m3 0h0m0-2h0m1 4h0m0-2h0m0 1h0m0 0h0m3-2h0m0 2h0m2-3h0m-65 7h0m0 4h0m1-1h0m2-2h0m0-3h0m1 0h0m0 2h0m0 1h0m1 0h0m1 2h0m0-4h0m1 3h0m1-3h0m2 4h0m2-4h0m0 4h0m0-2h0m1 1h0m1 0h0m0-4h0m1 4h0m3-3h0m1 4h0m1-5h0m0 4h0m2 2h0m0-2h0m2-3h0m1 0h0m6 5h0m2-4h0m1 0h0m3 3h0m2-4h0m1 3h0m1 1h0m0 0h0m0-4h0m1 0h0m0 5h0m3-4h0m1 2h0m0-3h0m1 1h0m1 1h0m0 2h0m0 0h0m2-1h0m1 0h0m0-3h0m1 5h0m0-3h0m5 1h0m1 0h0m1-3h0m2 3h0m1-1h0m0 1h0m-61 2h0m1 5h0m1-3h0m1 1h0m0-2h0m1 3h0m0-4h0m2 5h0m1-2h0m0-1h0m1-2h0m1 5h0m0-5h0m4 1h0m3 2h0m1 3h0m1-3h0m1-2h0m1 5h0m5-1h0m1 0h0m1-1h0m3 1h0m1-2h0m0 3h0m3-1h0m2-2h0m0-1h0m0 1h0m5 3h0m2-4h0m0 3h0m3-4h0m1 0h0m2 1h0m1 4h0m1-1h0m0-3h0m3-1h0m0 0h0m4 1h0m3-1h0m1 4h0m-56 2h0m5 0h0m1-1h0m1 2h0m1-2h0m0 2h0m2 2h0m3-3h0m0 1h0m1-1h0m1 4h0m0 1h0m3-4h0m2 3h0m0 1h0m2-3h0m0 1h0m0-1h0m2 2h0m0-1h0m2 1h0m0-3h0m2 4h0m1-1h0m1 1h0m2-4h0m5 1h0m0 0h0m1-1h0m1 1h0m1 2h0m1 0h0m5-1h0m1 1h0m0-5h0m6 2h0m-51 5h0m1 0h0m1 0h0m2 4h0m1-1h0m6 1h0m1 0h0m3-1h0m2-1h0m1 1h0m0-1h0m1 3h0m3 0h0m1-2h0m1-4h0m0 6h0m0-5h0m1 2h0m1 2h0m2 0h0m1-1h0m1-4h0m1 2h0m0 3h0m2 1h0m0-1h0m1-4h0m2 4h0m3 1h0m3-2h0m1 1h0m2-2h0m-33 4h0m2 0h0m0 0h0m2-1h0m0 2h0m2 0h0m1 1h0m1-1h0m1-2h0m4 4h0m3-3h0m2 0h0m1 0h0m0 0h0m3 0h0m1 1h0m4-1h0" stroke="rgb(168,168,48)" stroke-width="4.2" stroke-linecap="round"/>
<path d="M716 1799h0m-2 10h0m3-3h0m1 0h0m-2 7h0m-1 11h0m1 1h0m2-2h0m-2 9h0m0 1h0m1 0h0m0-2h0" stroke="rgb(168,168,48)" stroke-width="4.2" stroke-linecap="round"/>
<path d="M660 1833h0m-10 4h0m5-1h0m1 0h0m1-1h0m1 4h0m2-5h0m1 4h0m1 1h0m1-3h0m1-2h0m1 2h0m0-2h0m2 0h0m2 1h0m1 3h0m2 0h0m1-2h0m2 3h0m0-1h0m3 0h0m0 0h0m6 1h0m0 0h0m-35 2h0m1 3h0m0-2h0m1-3h0m0 2h0m1 1h0m1-3h0m2 6h0m4-5h0m1 2h0m0-2h0m1 2h0m2 2h0m1 0h0m1-4h0m0 1h0m0-2h0m0 2h0m3 2h0m2-1h0m1 3h0m0-6h0m1 5h0m1-3h0m2-1h0m1 2h0m0-1h0m2-1h0m2 1h0m1 1h0m1-1h0m1-1h0m0 0h0m1 4h0m1 0h0m0-2h0m2 0h0m0 2h0m3 0h0m1 0h0m0-3h0m2-1h0m1 3h0m2 0h0m1 0h0m-46 4h0m1-2h0m2 0h0m2 5h0m3-2h0m2 2h0m2-3h0m2 3h0m0-4h0m1 4h0m0-4h0m5 4h0m2-4h0m0 0h0m1 0h0m1 4h0m0-3h0m2-1h0m1 1h0m0 2h0m1-3h0m1 5h0m0-4h0m2-1h0m2 4h0m3 1h0m1-3h0m0-1h0m1-2h0m0 5h0m2-4h0m1 2h0m1-1h0m0 2h0m1 2h0m0 0h0m3-2h0m1-2h0m0 0h0m0 1h0m-38 3h0m3 0h0m10 1h0m1 0h0m4-1h0m1 4h0m0-3h0m4 0h0m12-1h0" stroke="rgb(168,168,48)" stroke-width="4.2" stroke-linecap="round"/>
<path d="M767 1827h0m2-1h0m-15 6h0m4 1h0m0-1h0m3 1h0m2-2h0m0 0h0m0 2h0m0 0h0m3-1h0m1-1h0m0-2h0m2 0h0m1 0h0m1 1h0m2 0h0m0 1h0m0-3h0m4 0h0m0 3h0m0-2h0m4 0h0m1 0h0m1 1h0m0 2h0m1-2h0m2 0h0m-32 5h0m2 2h0m0 1h0m0-2h0m3-3h0m0 5h0m2-2h0m2 0h0m3-1h0m3 3h0m2-2h0m3-1h0m1 1h0m1-1h0m3-2h0m0 1h0m2 3h0m3-3h0m3 1h0m-32 8h0m2 2h0m2-2h0m1-3h0m2 2h0m0-1h0m0 0h0m1 1h0m1-2h0m2 4h0m0-1h0m2-1h0m0 1h0m3 0h0m0 0h0m0-2h0m1-2h0m5 1h0m0 4h0m1-3h0m1-1h0m0 4h0m3-2h0m1-3h0m3 3h0m1-2h0m0 1h0m-32 7h0m1 0h0m0 0h0m1-1h0m0-1h0m1 2h0m0-2h0m2 0h0m1 2h0m1 3h0m0-1h0m0-4h0m1 1h0m1 4h0m0-4h0m0 4h0m0-3h0m1 1h0m0-2h0m1 3h0m0-3h0m0 2h0m1-1h0m1 1h0m1 1h0m0-4h0m0 3h0m0-1h0m3-1h0m0 4h0m0-5h0m1 4h0m0-4h0m1 1h0m1-1h0m3 0h0m3 1h0m1 3h0m0-3h0m2-1h0m1 5h0m1-1h0m3-5h0m-32 6h0m8 0h0m2 0h0m3 1h0m2 5h0m1-4h0m0-1h0m1 0h0m2 3h0m0-2h0m0 0h0m1 4h0m5-5h0m2-1h0m-18 6h0m2 2h0m3-2h0" stroke="rgb(168,168,48)" stroke-width="4.2" stroke-linecap="round"/>
<path d="M715 1843h0m2 2h0m7-1h0m-21 4h0m3-1h0m1 0h0m17 0h0m3 3h0m1-1h0m1-1h0m1-1h0m-21 6h0m16 3h0m5-2h0m1 0h0m-7 4h0" stroke="rgb(168,168,48)" stroke-width="4.2" stroke-linecap="round"/>
<path d="M919 1869h0m0-2h0m2 2h0m1-3h0m4-1h0m1 1h0m0 0h0m0 2h0m2-3h0m0 2h0m2-3h0m0 1h0m0 2h0m1-3h0m0 2h0m2 2h0m0 1h0m0-6h0m2 2h0m1 3h0m1 0h0m2-3h0m0 0h0m2 0h0m0 1h0m1 2h0m1 1h0m3 0h0m0-1h0m1 0h0m0 0h0m1-2h0m1 0h0m0 0h0m1 2h0m-75 4h0m1 2h0m1 1h0m2-4h0m0 1h0m1 2h0m2-3h0m0 3h0m1-3h0m0-1h0m0 3h0m2-4h0m0 6h0m3-2h0m0-2h0m1 3h0m1-5h0m1 5h0m0-2h0m0 1h0m3-3h0m2 2h0m1-3h0m1 6h0m1-4h0m1 4h0m0-1h0m1-4h0m1 4h0m2-4h0m3 1h0m1 2h0m1-1h0m1-3h0m0 6h0m1-4h0m0 3h0m0-5h0m1 5h0m1-2h0m0 0h0m0-1h0m1 2h0m0 1h0m0 1h0m1-6h0m1 5h0m1-1h0m1-2h0m1 3h0m0-1h0m3 1h0m1-2h0m0 1h0m1-2h0m0-1h0m1 0h0m2 1h0m0 4h0m0-6h0m0 5h0m2-2h0m0 3h0m2 0h0m1-2h0m0-2h0m0 0h0m0-1h0m1 2h0m0-3h0m1 4h0m4-1h0m0 1h0m2-3h0m1 5h0m2-5h0m0 1h0m2-2h0m0 2h0m1 2h0m0-3h0m0 1h0m2 2h0m0-2h0m0 3h0m1-3h0m2 4h0m1-2h0m-77 7h0m2-2h0m1 0h0m2 0h0m0 0h0m2 3h0m0-1h0m0-5h0m1 4h0m0-1h0m2 2h0m2-3h0m0-1h0m0 2h0m1-2h0m0 1h0m0 2h0m0 1h0m2 1h0m1-5h0m0 1h0m4 2h0m1 0h0m1-1h0m1-2h0m1 4h0m1 0h0m0-2h0m0 2h0m1-1h0m0 1h0m1 0h0m0-1h0m1-4h0m1 3h0m1 2h0m2-3h0m0 4h0m1-2h0m0-1h0m1-1h0m0 0h0m1 4h0m0-1h0m1-1h0m0-1h0m1 2h0m0 0h0m1-1h0m1 1h0m0-2h0m1-2h0m1 5h0m0-5h0m0 0h0m2 0h0m0 5h0m1-5h0m0 4h0m1-4h0m0 1h0m0 2h0m2 0h0m2 2h0m0-3h0m0 0h0m3-2h0m1 1h0m0 2h0m1-2h0m0-2h0m0 1h0m2 2h0m1 2h0m0-1h0m2-1h0m0 0h0m0-3h0m0 6h0m0-3h0m1 3h0m0-1h0m1-2h0m2 0h0m2 3h0m0-2h0m0-1h0m1-1h0m0 2h0m1 0h0m0 1h0m1-5h0m3 5h0m0-4h0m1-1h0m1 2h0m0 2h0m0 0h0m2-3h0m0 2h0m1-1h0m1 0h0m0 1h0m1 1h0m0 1h0m0-4h0m1 3h0m0 2h0m2-1h0m-81 7h0m0 0h0m1-6h0m0 3h0m0 2h0m1-4h0m1 2h0m1 1h0m1-1h0m1 2h0m0-1h0m1 0h0m0-3h0m1-1h0m0 2h0m0 3h0m0-4h0m1 3h0m0 1h0m2 0h0m0-1h0m0-3h0m1 4h0m0 1h0m1 0h0m1-2h0m0 1h0m2-3h0m0 2h0m1 2h0m1 0h0m0-2h0m0-2h0m1 4h0m1-2h0m0-4h0m0 6h0m0-3h0m2 2h0m1 1h0m0-1h0m0-4h0m0 4h0m0 0h0m0-3h0m1-2h0m1 4h0m1 0h0m0 1h0m0-1h0m1-1h0m0 2h0m0-2h0m1-3h0m1 1h0m0 4h0m0 0h0m2-1h0m0 1h0m0-1h0m0-4h0m1 0h0m0 5h0m0-1h0m0-2h0m0 1h0m1 1h0m2-2h0m1 1h0m2-3h0m0 4h0m1 2h0m2-3h0m1-3h0m1 0h0m1 2h0m1-2h0m1 5h0m0-3h0m1 0h0m2 3h0m0-4h0m3-1h0m1 5h0m0 1h0m3-4h0m0 2h0m2-2h0m1 0h0m1 3h0m3-2h0m1 0h0m0 3h0m0-3h0m1 2h0m1-2h0m1 2h0m0-2h0m2 1h0m0 0h0m2-3h0m0 5h0m0-6h0m1 5h0m0-3h0m1 3h0m0 1h0m1-4h0m1 3h0m1-4h0m0 4h0m2-4h0m0 4h0m0-3h0m0 0h0m-78 4h0m1 3h0m2 0h0m1-1h0m1 4h0m1-4h0m0 4h0m0-6h0m1 2h0m2 3h0m0-1h0m1-3h0m0 2h0m0 3h0m2-5h0m0 4h0m1 0h0m1 0h0m0 1h0m3-6h0m0 5h0m1 1h0m1-2h0m1-1h0m1-1h0m1 3h0m0-4h0m1 0h0m2 1h0m0 1h0m1-1h0m0 1h0m0-3h0m1 4h0m0-2h0m2 4h0m1-3h0m1 0h0m1 0h0m1 2h0m0-1h0m0-4h0m1 1h0m0 1h0m0 3h0m1-4h0m0 3h0m1-1h0m1 0h0m0 2h0m0-4h0m1 2h0m0-1h0m1-2h0m2 3h0m2-2h0m0 4h0m0-2h0m1 1h0m0-2h0m0 0h0m2-1h0m0 1h0m1-1h0m0 1h0m0 3h0m0-3h0m2-1h0m0 0h0m0 5h0m1-3h0m2 3h0m0-5h0m0 4h0m0-1h0m1-3h0m4 1h0m0 0h0m0 0h0m3 0h0m0 0h0m2-1h0m1 2h0m3-2h0m0 2h0m2-1h0m1 0h0m1 2h0m0-1h0m3 1h0m0 0h0m0-3h0m1 1h0m0 0h0m-74 6h0m1 1h0m1 1h0m0-4h0m0 2h0m1 1h0m1 2h0m1-4h0m0 1h0m1-1h0m1-1h0m0 2h0m1 3h0m2-2h0m0 1h0m0 1h0m2-2h0m1 3h0m0-2h0m1-3h0m0 3h0m0 0h0m1 1h0m1-3h0m1 2h0m0-2h0m1 2h0m0 1h0m1-3h0m0 0h0m2-1h0m1 4h0m1 1h0m0-5h0m0 1h0m3 0h0m0 3h0m0 0h0m0-1h0m1-3h0m1 2h0m3-3h0m5 2h0m1 0h0m1-1h0m1 2h0m0 3h0m2-2h0m2-3h0m6 0h0m-45 6h0m1 0h0m0-1h0m0 2h0m2 1h0m2-2h0m0 1h0m1 4h0m2-1h0m0-3h0m1-2h0m1 6h0m1-2h0m0-3h0m3 0h0m0 4h0m1-2h0m1-1h0m0 3h0m0 0h0m0-2h0m0 1h0m2-3h0m0 5h0m1-2h0m1 1h0m0-3h0m1 0h0m1 0h0m1 3h0m1-4h0m0 5h0m0-4h0m0 3h0m0-1h0m1-3h0m1 2h0m3 0h0m0 0h0m0-1h0m2 0h0m-22 5h0m1-1h0m2 1h0m0-1h0m1 1h0" stroke="rgb(85,140,200)" stroke-width="4.2" stroke-linecap="round"/>
<path d="M897 1934h0m7 0h0m2-1h0m0 2h0m5-2h0m2 1h0m-32 6h0m3 0h0m0-1h0m1-2h0m3 1h0m0-1h0m4 4h0m1-5h0m1 0h0m0-1h0m0 4h0m2-2h0m8-1h0m2 3h0m0-3h0m1 1h0m0 1h0m2-1h0m0 0h0m1 0h0m0 4h0m1-6h0m0 5h0m7 0h0m0 1h0m0-2h0m1-1h0m0 1h0m1-3h0m1 5h0m-45 6h0m1 0h0m2-3h0m1 0h0m1-2h0m1 2h0m0 1h0m1-2h0m0-2h0m2 4h0m1 2h0m0-2h0m0-3h0m0 2h0m2 1h0m0-2h0m0-2h0m1 3h0m0 0h0m1-3h0m1 3h0m2-2h0m0 1h0m1 2h0m0-3h0m1 1h0m0 1h0m1 1h0m0-2h0m2 2h0m0 1h0m2-3h0m4 1h0m4 2h0m1-2h0m2 3h0m1-2h0m3-3h0m4 0h0m0 0h0m0 2h0m1 3h0m1-1h0m1 0h0m1-4h0m1 4h0m0 1h0m2-4h0m0 1h0m1 1h0m-50 4h0m1 2h0m1-1h0m1 3h0m0-2h0m0-2h0m6-2h0m1 5h0m2-2h0m0-1h0m1 2h0m0-2h0m2 2h0m0-4h0m1 2h0m0 1h0m3 1h0m2 2h0m0-6h0m0 0h0m0 1h0m0 1h0m5 3h0m3-2h0m1 2h0m0-1h0m1-3h0m0 3h0m1-4h0m3 3h0m1 2h0m0-1h0m2 0h0m0 0h0m1 0h0m1 1h0m1-3h0m1 0h0m0-2h0m0 5h0m9-2h0m0 1h0m-46 7h0m0 1h0m0-5h0m1 0h0m1 5h0m1 0h0m3-2h0m0 1h0m0-2h0m1 0h0m2-1h0m0 4h0m0-5h0m3 2h0m0-2h0m0 5h0m1-5h0m0 1h0m2-2h0m0 1h0m1 1h0m1 2h0m4-2h0m1 3h0m1-1h0m0 0h0m1 0h0m1-2h0m1-1h0m3 3h0m0-3h0m2 2h0m0-2h0m1 3h0m2-3h0m0 3h0m1-3h0m1 2h0m2-2h0m3 0h0m0 1h0m3 2h0m1 0h0m0-2h0m1 3h0m0 0h0m2-1h0m-49 3h0m2 2h0m1 3h0m4-3h0m1 0h0m1 1h0m0-4h0m0 3h0m2 2h0m0-1h0m1 1h0m1 0h0m0-4h0m8 5h0m0-1h0m0 0h0m1-3h0m2 0h0m1 3h0m1-5h0m1 2h0m1 0h0m1 0h0m1-2h0m3 2h0m1 1h0m1 3h0m1-5h0m5 1h0m3 0h0m0 3h0m2-4h0m1 0h0m-42 6h0m0 1h0m1-1h0m2 1h0m0 2h0m2-1h0m4-1h0m0-2h0m1 4h0m0 1h0m3-1h0m1-3h0m3 0h0m4 3h0m1 1h0m3 0h0m0-5h0m1 1h0m0 0h0m1 4h0m0-1h0m1 1h0m0-2h0m0-1h0m1 3h0m1-4h0m0 3h0m3 0h0m1 1h0m-27 3h0m2-2h0m2 0h0m2 0h0m1 6h0m2-2h0m2-2h0m2 0h0m1 3h0m2-5h0m1 3h0m1 2h0m4-3h0m2 0h0m0-2h0m4 3h0m0 1h0m1-4h0m-24 7h0m2 2h0m0 1h0m0 2h0m1-1h0m1-2h0m0-1h0m3 0h0m3 0h0m3-1h0m4 4h0m4 0h0m-17 3h0m0 1h0m1-2h0m0 1h0m1 3h0m2-5h0m1 2h0m1-1h0m1 1h0m2 3h0m1-5h0m1 5h0m1 1h0m0-2h0m2 0h0m1-2h0m-13 9h0m0-4h0m1-1h0m0 0h0m1 3h0m1 2h0m2-1h0m4-1h0m0-2h0m1 2h0m0-2h0m1 2h0" stroke="rgb(240,160,130)" stroke-width="4.2" stroke-linecap="round"/>
<path d="M968 1890h0m15 3h0m1 0h0m-19 4h0m6 0h0m14 1h0m8-4h0m-30 10h0m6 0h0m4 0h0m1 0h0m8-5h0m2 2h0m-18 9h0m4-4h0m7 3h0m3 1h0m11 1h0m5-4h0m-41 7h0m1 3h0m10-1h0m7 1h0m8-1h0m8-1h0m1-1h0m2 2h0m8-3h0m-48 7h0m19-3h0m8 5h0m7-3h0m6-1h0m-20 8h0m15-3h0m-22 12h0m18-2h0m0-1h0m3 2h0m2 0h0" stroke="rgb(240,160,130)" stroke-width="4.2" stroke-linecap="round"/>
<path d="M954 1896h0m-2 3h0m3 0h0m1 2h0m1 3h0m1-1h0m2 1h0m0-1h0m3-2h0m2 1h0m-7 4h0m1 0h0" stroke="rgb(130,35,35)" stroke-width="4.2" stroke-linecap="round"/>
<path d="M827 1893h0m1 0h0m1-2h0m4 2h0m-23 4h0m3 0h0m0 1h0m3-1h0m1-2h0m1 4h0m2-2h0m0-1h0m2 2h0m1-2h0m2 3h0m0-3h0m1 2h0m1-1h0m2 0h0m0 0h0m2-1h0m1 1h0m-33 8h0m1-2h0m0-3h0m1 4h0m0 1h0m3-3h0m0-1h0m3 0h0m0 2h0m2-1h0m0 1h0m5 1h0m1 0h0m2 1h0m6-4h0m5-1h0m-50 11h0m10-2h0m2 0h0m1-1h0m1-1h0m2 4h0m1-4h0m2-1h0m1 2h0m1 0h0m2 2h0m2-4h0m2 1h0m1 1h0m5-2h0m2 0h0m1 2h0m1-2h0m-45 9h0m0 2h0m2-2h0m7 0h0m3-2h0m2 4h0m1-2h0m1-3h0m6 0h0m2 3h0m2-3h0m0 0h0m0 0h0m2 1h0m1 3h0m2-4h0m3 5h0m0-2h0m1-3h0m2 3h0m2-4h0m0 2h0m1-1h0m1 0h0m-49 9h0m1 2h0m0-4h0m0-1h0m1 1h0m0 3h0m2-2h0m1 2h0m3-1h0m0 1h0m1-5h0m1 2h0m1 0h0m1 3h0m1 1h0m1 0h0m1-1h0m2-4h0m1 3h0m3-3h0m0 3h0m2-2h0m0 0h0m3 1h0m1 2h0m0 1h0m2-1h0m0-5h0m1 2h0m2 0h0m0 1h0m2 1h0m1 1h0m2-1h0m0-3h0m1 0h0m2 0h0m-61 10h0m4-1h0m4 1h0m4 0h0m2-1h0m1-1h0m3-2h0m1 1h0m1-1h0m2 3h0m1-3h0m1 2h0m2 1h0m0 0h0m1 0h0m1 0h0m0-2h0m1 0h0m2-1h0m2 2h0m0 1h0m7 1h0m1-2h0m4 3h0m1-4h0m1 1h0m1 2h0m1-2h0m2 0h0m2-3h0m0 1h0m2-1h0m3 1h0m-79 10h0m1 0h0m2 0h0m2 0h0m5-3h0m3-1h0m0 3h0m0 0h0m1 1h0m1-2h0m0-2h0m2-1h0m3 2h0m1-1h0m3-1h0m1 2h0m2 1h0m2 2h0m0-5h0m2 5h0m2-2h0m2 2h0m1-4h0m1 4h0m2-5h0m0 2h0m1-2h0m0 3h0m1-3h0m2 0h0m2 5h0m2-2h0m1 0h0m0 2h0m2-4h0m1 5h0m0-2h0m0-4h0m2 2h0m1-1h0m3 1h0m1 2h0m1-3h0m3-1h0m2 1h0m1 4h0m4 0h0m1-4h0m0 4h0m1-3h0m2 3h0m3-5h0m-89 11h0m3-2h0m1-1h0m2-1h0m0 4h0m1 0h0m2 0h0m0-1h0m1 2h0m2-1h0m6 0h0m0-2h0m1-3h0m1 0h0m2 4h0m1-1h0m1-2h0m4 0h0m1 1h0m0-1h0m0 4h0m3 0h0m2-1h0m0-2h0m2 1h0m3 0h0m5-2h0m1 3h0m3 2h0m1-6h0m0 3h0m1 0h0m0 0h0m1 1h0m0-3h0m0 0h0m4 4h0m0 0h0m0-2h0m1-2h0m0 1h0m1 3h0m2-4h0m1 2h0m1 2h0m0 0h0m0-3h0m3-2h0m1 5h0m1-1h0m0-4h0m0 1h0m0 2h0m7-2h0m1 4h0m1 0h0m1 1h0m3-2h0m1-1h0m2-2h0m1-1h0m1 1h0m-94 11h0m1-2h0m0-1h0m2 1h0m1-3h0m2 3h0m3-2h0m1 0h0m0 1h0m0-3h0m1 3h0m4 1h0m2 1h0m1 1h0m1-2h0m2 0h0m4 1h0m0-3h0m1-1h0m1 4h0m6-4h0m1-1h0m0 3h0m3 2h0m3-3h0m2 3h0m0 0h0m1-1h0m0-3h0m2 0h0m0 1h0m2 1h0m0-2h0m0 4h0m2-3h0m0 0h0m0 2h0m1-1h0m1-1h0m0 1h0m2 2h0m1-2h0m1 3h0m0-4h0m1 0h0m3 1h0m1-2h0m1 4h0m0-4h0m0-1h0m2 2h0m0-1h0m1 3h0m2-3h0m0 3h0m1-1h0m1 2h0m1-5h0m0 5h0m0-3h0m3 0h0m3-1h0m2 1h0m3 1h0m1 2h0m1-3h0m0 3h0m2 1h0m1-6h0m-85 9h0m4-3h0m1 1h0m2 2h0m3-2h0m2 3h0m0-2h0m0-1h0m2 0h0m1 0h0m1 2h0m0-1h0m1 3h0m5-1h0m5 2h0m1-1h0m1 0h0m1 0h0m3 0h0m0-3h0m0 2h0m2 2h0m1-1h0m1-3h0m1 0h0m0-2h0m1 5h0m2-3h0m0-1h0m3 0h0m0 4h0m1-3h0m0-1h0m2 1h0m1 2h0m6-1h0m0-1h0m1 1h0m1-3h0m2 1h0m1 0h0m2 5h0m1 0h0m0-5h0m0-1h0m1 3h0m1-3h0m1 3h0m1 1h0m1-2h0m0 1h0m4-2h0m1 2h0m1 1h0m0 2h0m1-4h0m7 0h0m4 2h0m0 0h0m1-2h0m1 1h0m0 3h0m-92 1h0m0 4h0m2-5h0m0 0h0m3 5h0m1-2h0m1 2h0m1-3h0m0 0h0m1 0h0m5-1h0m0 2h0m1-1h0m0 1h0m1 1h0m2-2h0m1 3h0m4-2h0m2 1h0m1 1h0m1 0h0m1-1h0m4 0h0m1 1h0m2 1h0m1-4h0m1 4h0m1-5h0m1 3h0m2 0h0m3 0h0m1 2h0m4-5h0m2 4h0m1-3h0m0 2h0m3-1h0m1 2h0m0-1h0m1-3h0m1 4h0m6-2h0m1-3h0m2 4h0m0-2h0m2 3h0m1-2h0m1 0h0m2-2h0m1 2h0m0-1h0m2 3h0m1-2h0m3 2h0m2-3h0m2-1h0m0 4h0m2-2h0m0-2h0m1 2h0m4 1h0m1-1h0m2-2h0m-97 7h0m0 0h0m0-1h0m1 4h0m0-2h0m2 0h0m0-2h0m4 1h0m0 0h0m0-2h0m3 2h0m1 2h0m1-3h0m0 0h0m2 1h0m1 3h0m1 0h0m1 0h0m0 0h0m0-2h0m2 0h0m1 2h0m0 0h0m0-3h0m0-1h0m4 1h0m1-2h0m1 1h0m0 4h0m0 0h0m1-1h0m2-3h0m2-1h0m1 5h0m0-2h0m1 3h0m1-5h0m1 5h0m2-1h0m5-1h0m0 1h0m3-2h0m1 1h0m1-4h0m2 4h0m2 0h0m0-2h0m2-1h0m1 4h0m0-4h0m1-1h0m1 4h0m3 1h0m1-3h0m4-2h0m0 4h0m1 1h0m3-5h0m0 4h0m1-4h0m0 3h0m5 2h0m0-5h0m1 4h0m1-4h0m1 4h0m2 1h0m4-1h0m0-4h0m0 2h0m0 0h0m1 0h0m1 4h0m2-5h0m3 4h0m3-4h0m1 3h0m0 2h0m1-4h0m0-1h0m0 0h0m-92 9h0m0 2h0m1-1h0m1-1h0m1 0h0m0-1h0m0 0h0m2 2h0m1-3h0m1 1h0m5-1h0m5-1h0m3 3h0m7 0h0m4-3h0m2 2h0m1 2h0m1 0h0m1-4h0m1 3h0m2 0h0m1-2h0m2-1h0m1 3h0m2 1h0m0-2h0m3 0h0m2 1h0m1 0h0m0-2h0m0 0h0m1 2h0m1 2h0m0-5h0m4 3h0m2 0h0m1 1h0m6-3h0m1 2h0m1-2h0m0 0h0m0 1h0m2 2h0m0-1h0m1-2h0m1 0h0m0-2h0m1 2h0m1 0h0m0 0h0m0 0h0m2 3h0m5-2h0m1-1h0m1 4h0m0-6h0m1 2h0m1-1h0m0 3h0m1-3h0m4-1h0m1 3h0m-91 4h0m1 2h0m0 1h0m6-4h0m2 6h0m1-3h0m2 1h0m2 0h0m1 0h0m1 0h0m2 0h0m1-4h0m2 1h0m0 4h0m1-5h0m1 5h0m0-4h0m5 5h0m1-2h0m1 1h0m2-4h0m1 2h0m3 1h0m0-4h0m7 4h0m3 0h0m2-2h0m2 0h0m0 0h0m0-1h0m1 3h0m4 0h0m1 1h0m3-1h0m0-3h0m3 2h0m1-1h0m2-2h0m2 1h0m3 4h0m0 0h0m1-4h0m2 4h0m2-2h0m2-1h0m4-2h0m1 3h0m0 1h0m1 1h0m2-4h0m-82 6h0m1 0h0m1 5h0m2-4h0m0-2h0m0 5h0m3 0h0m2-5h0m2 2h0m2 1h0m1-1h0m0 1h0m1 0h0m1 2h0m1-1h0m0 1h0m6 0h0m0-1h0m0-1h0m0 1h0m1 0h0m0-2h0m1 2h0m1 0h0m0-3h0m0 4h0m4-2h0m1-2h0m1 1h0m2-1h0m0 2h0m3 0h0m2 0h0m0 2h0m2-1h0m0 2h0m2-6h0m4 1h0m1 0h0m2 3h0m2-3h0m6-1h0m5 5h0m5-1h0m0 0h0m2 0h0m0-3h0m0 1h0m0 1h0m1-3h0m0 6h0m2-6h0m1 1h0m1 1h0m1 0h0m4-1h0m0 0h0m-79 11h0m2-2h0m1-4h0m5 4h0m0 1h0m0-1h0m2 1h0m0 1h0m4-5h0m1 1h0m1 0h0m0 0h0m0 3h0m2 0h0m2-1h0m0-4h0m1 1h0m1 4h0m1-4h0m1 2h0m3 2h0m1 0h0m1-2h0m0-1h0m1 0h0m1 2h0m2 0h0m3-1h0m1 1h0m4 1h0m5-2h0m1 2h0m1-4h0m0 3h0m1 2h0m3-1h0m2-3h0m2 2h0m4-2h0m3 1h0m2-3h0m2 4h0m0-1h0m1-3h0m0 6h0m1-1h0m1-2h0m2 2h0m3-5h0m-74 7h0m1-1h0m6 6h0m1-3h0m0 0h0m0 3h0m0-5h0m2 2h0m0-1h0m1 0h0m1-1h0m0 2h0m2 2h0m2-5h0m0 2h0m1 2h0m2-2h0m3 1h0m1-1h0m0 3h0m2-4h0m1 3h0m0-3h0m0 2h0m1-1h0m0 0h0m3-1h0m2 2h0m5 1h0m0-3h0m1 4h0m2-3h0m2 1h0m7-1h0m1 2h0m1 0h0m2-3h0m2-1h0m0 2h0m2-1h0m0 4h0m0 0h0m1-2h0m3-1h0m5-1h0m3-1h0m2 1h0m-54 8h0m0-2h0m2 2h0m1-3h0m0 0h0m1 2h0m1 0h0m3 0h0m1-1h0m1 1h0m0-1h0m2 5h0m0-6h0m1 2h0m1-1h0m1 0h0m1 2h0m1-1h0m1 2h0m3 0h0m4-1h0m0-2h0m2 1h0m0 1h0m1 1h0m0 0h0m1 1h0m0-5h0m1 6h0m0-3h0m2-3h0m5 1h0m3 1h0m0-1h0m0 2h0m-36 5h0m10 1h0m9-2h0" stroke="rgb(110,165,222)" stroke-width="4.2" stroke-linecap="round"/>
<path d="M789 1958h0m1 1h0m1-3h0m1 3h0m0-2h0m1 0h0m2 1h0m3-1h0m0-1h0m2 0h0m1 0h0m0 1h0m1 0h0m0 1h0m0 0h0m0 0h0m2-2h0m0 0h0m0 0h0m2 0h0m1 1h0m2 1h0m3 0h0m1 0h0m-32 7h0m2-4h0m0 0h0m0-1h0m1 5h0m1-1h0m2-2h0m1-1h0m0-1h0m0 4h0m1-4h0m0-1h0m0 6h0m1-4h0m1 0h0m1-1h0m3 4h0m0-2h0m1-2h0m0 0h0m0 1h0m0 4h0m2-1h0m1-3h0m0 1h0m0 1h0m1-2h0m0-2h0m2 2h0m2 1h0m1-1h0m0 1h0m0-1h0m1-1h0m0 2h0m0 0h0m2-3h0m1 2h0m0 0h0m0-1h0m0 4h0m1 1h0m0-4h0m0 3h0m5 0h0m1 0h0m1 1h0m1-2h0m0-1h0m2 2h0m1-1h0m2 1h0m-42 5h0m1 0h0m0-1h0m1 0h0m0 2h0m0-2h0m0 2h0m3 0h0m4-1h0m1 1h0m0-3h0m1 1h0m2-3h0m0 4h0m1 0h0m0 2h0m1-1h0m0-1h0m3 1h0m0-4h0m1 3h0m1-2h0m1 1h0m2-2h0m0 2h0m0-1h0m1 2h0m1 1h0m0-4h0m0 1h0m2 1h0m0-2h0m0 2h0m1 2h0m0 0h0m1-1h0m1 0h0m1 0h0m0-2h0m3 2h0m0-2h0m0-1h0m0-1h0m1 1h0m2 0h0m3 4h0m2 1h0m1 0h0m1-2h0m-42 3h0m0 3h0m0-1h0m1-2h0m0-1h0m1 2h0m0 2h0m3-3h0m0 2h0m0-2h0m0 1h0m1 1h0m0-1h0m2 1h0m1-1h0m0-1h0m0 4h0m2-1h0m0-2h0m2-2h0m1 5h0m0-2h0m0 1h0m0 0h0m0-3h0m1 1h0m0 1h0m1 2h0m0 0h0m0-4h0m0 3h0m0-2h0m1 4h0m1-1h0m1-2h0m1-2h0m0 4h0m1-4h0m0 0h0m2 3h0m1 0h0m1-3h0m0 1h0m2 0h0m3-1h0m0-1h0m2 4h0m1-4h0m0 4h0m3-2h0m0 4h0m0-2h0m0 1h0m2 0h0m1-3h0m2 0h0m0 1h0m-35 6h0m0-1h0m0-1h0m2 0h0m0 1h0m1-2h0m0 1h0m0 2h0m1 2h0m1-4h0m1 2h0m1-2h0m0 3h0m0-1h0m1-2h0m0 3h0m1-2h0m0-1h0m0 3h0m0-4h0m1 0h0m0 1h0m3 1h0m0 2h0m1-3h0m1 5h0m2 0h0m0-5h0m1 0h0m1 4h0m1-4h0m1 3h0m2-4h0m0 3h0m0-2h0m0 5h0m0-3h0m1 1h0m0-2h0m1 0h0m0-2h0m1 5h0m0-1h0m0-2h0m1 0h0m1-1h0m2 0h0m1 0h0m0 1h0m0 3h0m1-4h0m0 1h0m-16 4h0" stroke="rgb(130,35,35)" stroke-width="4.2" stroke-linecap="round"/>
<path d="M529 1917h0m3-1h0m3 0h0m4 1h0m7-2h0m-32 7h0m3 0h0m3-2h0m4-3h0m1 5h0m1-2h0m1 0h0m5-1h0m2 3h0m2-4h0m8 0h0m2 0h0m0 1h0m3 1h0m1 0h0m0 1h0m1 0h0m0-1h0m3 2h0m3-3h0m2 2h0m-45 7h0m0-3h0m1-1h0m5 1h0m2-1h0m0 3h0m2 0h0m2 1h0m3-5h0m12 6h0m0-4h0m6-1h0m3 1h0m5 1h0m2-3h0m0 2h0m1 1h0m2-2h0m0 1h0m-39 6h0m0 0h0m6 1h0m0 2h0m0-2h0m4 1h0m0-1h0m0 2h0m2-1h0m4-3h0m4 5h0m3-4h0m1-1h0m1 0h0m2 2h0m6 2h0m1-4h0m-41 5h0m6 4h0m1-3h0m1 4h0m1 1h0m0-5h0m1 5h0m5-1h0m4-2h0m0-3h0m1 0h0m2 2h0m1 0h0m0-2h0m2 5h0m9-3h0m2 2h0m1 0h0m3 0h0m2 0h0m3 1h0m-39 2h0m3 3h0m2-4h0m0 3h0m2 0h0m1 3h0m1-4h0m0 2h0m6 1h0m4-3h0m5 1h0m1 2h0m5-2h0m4 2h0m0-3h0m0 0h0m0 2h0m1 0h0m0 1h0m2-5h0m1 2h0m-30 5h0m2 0h0m5 2h0m1-1h0m0 0h0m3-1h0m4-1h0m2 2h0m3 2h0m1 1h0m2-3h0m5 0h0m-26 8h0m2-1h0m1 0h0m3 2h0m0-4h0m0 4h0m6-1h0m0 0h0m2 1h0m0-3h0m4 1h0m2-3h0m1 0h0m0 2h0m5 2h0m0 1h0m0 1h0m-26 6h0m3-1h0m0-2h0m4-2h0m5 4h0m1 0h0m1-3h0m2 4h0m2-2h0m1-3h0m0-1h0m7 2h0m-25 6h0m0 0h0m1 3h0m8-1h0m5-3h0m1 1h0m1 3h0m1-3h0m3-1h0m0 2h0m7-1h0m-28 5h0m4 0h0m2 0h0m3 2h0m2 2h0m5 0h0m4 0h0m1-3h0m0 3h0m1-3h0m2-1h0m1 3h0m0 1h0m2-4h0m1 4h0m-34 5h0m2 1h0m3-3h0m1 3h0m0-3h0m2 0h0m7-1h0m8 0h0m0 0h0m1 0h0m1 1h0m1-1h0m9 1h0m1 0h0m0 1h0m0 1h0m5 0h0m1 0h0m-48 6h0m2 0h0m0 1h0m0-3h0m1 2h0m2-2h0m0-1h0m0 4h0m3 0h0m2-1h0m0 1h0m8-3h0m3 1h0m1-2h0m1 0h0m4 2h0m3-2h0m0 1h0m2 4h0m3-3h0m3-2h0m5 4h0m1 1h0m0-5h0m2-1h0m7 4h0m0 1h0m1-1h0m-61 6h0m0 1h0m0-1h0m1 0h0m1 0h0m0 1h0m1-2h0m1-1h0m3 1h0m0 2h0m0-4h0m2 1h0m1 4h0m1-3h0m3 0h0m2 2h0m1-4h0m0 2h0m1 3h0m6-4h0m0 0h0m2 1h0m3 1h0m0-2h0m11-1h0m3 2h0m5 1h0m1-3h0m2-1h0m0 4h0m7 0h0m2 2h0m1-1h0m4-2h0m-70 7h0m3-1h0m0 1h0m5 2h0m8-5h0m5 3h0m1-4h0m1 2h0m4 4h0m5-1h0m0-1h0m3-1h0m2 2h0m0-1h0m0 2h0m4-3h0m0 3h0m3-3h0m1 1h0m2-1h0m4-3h0m2 2h0m10 3h0m2-5h0m1 1h0m0-1h0m1 0h0m0 4h0m2-4h0m8 0h0m1 5h0m2-2h0m-82 3h0m0 5h0m1-5h0m5 6h0m3-4h0m0-2h0m1 1h0m0-1h0m0 4h0m3-2h0m0 4h0m3-2h0m0-2h0m5 3h0m3-1h0m4-3h0m3 5h0m1-3h0m2 0h0m2-2h0m2 3h0m2-1h0m2 1h0m1-3h0m2 3h0m1-2h0m2 0h0m0 1h0m2 3h0m5-3h0m0 1h0m3-3h0m2 5h0m1-4h0m4 3h0m2-2h0m0 1h0m4-2h0m3 3h0m1-1h0m2 1h0m2 0h0m3 0h0m1-1h0m-78 4h0m0 0h0m3 1h0m0 3h0m6-1h0m1-2h0m0-1h0m1 3h0m0 0h0m0 1h0m2-4h0m0 1h0m2-2h0m2 4h0m2-2h0m2-1h0m6 3h0m1 0h0m2-4h0m1 0h0m1 5h0m1-1h0m0-5h0m1 3h0m2 0h0m3 1h0m1-3h0m1 0h0m1 1h0m0 2h0m0 0h0m2 1h0m0 0h0m1-4h0m3 3h0m0 0h0m1-2h0m1-1h0m1-1h0m5 3h0m3-1h0m2 1h0m5 2h0m4 0h0m5-3h0m1 0h0m0-2h0m2 3h0m1-3h0m2 6h0m0 0h0m1-1h0m-84 3h0m2-1h0m0 2h0m2-1h0m1 3h0m5-2h0m0 1h0m1-1h0m0 1h0m4 2h0m1-4h0m1 3h0m1 0h0m2-1h0m1-4h0m1 2h0m4 3h0m9-1h0m0-1h0m2-3h0m1 4h0m1-1h0m1 1h0m2-2h0m1 1h0m2 2h0m1-2h0m5 3h0m4-5h0m3 0h0m0 1h0m5 2h0m6-3h0m2 5h0m1-4h0m1 3h0m1-1h0m0-2h0m1 3h0m2 1h0m2-1h0m4 1h0m-84 3h0m1-1h0m1 2h0m2 2h0m2-2h0m1 1h0m0-1h0m1-1h0m9 1h0m2-4h0m0 3h0m2 1h0m1-2h0m1 4h0m1-5h0m8 1h0m2 2h0m2-3h0m0 4h0m1 0h0m1 0h0m0-3h0m0-2h0m1 1h0m1 4h0m1-4h0m0 1h0m2 4h0m2-5h0m1 1h0m9 0h0m0 4h0m3 0h0m1-3h0m5-2h0m6 3h0m0-3h0m5-1h0m3 2h0m2 1h0m2-2h0m-81 6h0m1 2h0m3-2h0m9 5h0m1-3h0m6 0h0m0 0h0m0-2h0m2 0h0m3 2h0m1 1h0m1-1h0m5 3h0m1-4h0m1 0h0m1 0h0m2 0h0m1 3h0m3-1h0m2-3h0m2 4h0m3-1h0m1 0h0m1-2h0m1-2h0m1 1h0m3 2h0m11 1h0m2 1h0m1-2h0m0-1h0m5 1h0m1 1h0m0 2h0m1-4h0m1 3h0m0-3h0m1 0h0m2 1h0m1-3h0m-77 7h0m4 0h0m3 3h0m1-1h0m2-3h0m5 4h0m0-3h0m3 4h0m0-1h0m5 0h0m4-3h0m2 3h0m3-3h0m4 1h0m6 3h0m1-5h0m0 1h0m6 5h0m1-3h0m2 2h0m2-2h0m2-3h0m4 0h0m0 0h0m0 1h0m1 0h0m0-1h0m2 1h0m1 2h0m2-3h0m2 4h0m0-1h0m2 1h0m1 0h0m1-4h0m0 6h0m4-4h0m1 2h0m-70 2h0m2 2h0m0 4h0m4-3h0m0-2h0m1 3h0m1 2h0m1-2h0m0-1h0m1-1h0m1 1h0m2-3h0m1 1h0m0 3h0m0-3h0m1-1h0m1 0h0m3 6h0m2-3h0m4 2h0m1-3h0m2 3h0m0 0h0m3-2h0m1 1h0m2 0h0m0 0h0m2-2h0m1 3h0m0-1h0m1-1h0m0-3h0m5 4h0m0-1h0m1-1h0m0 0h0m2 1h0m1 1h0m2-3h0m2 4h0m2-4h0m1 1h0m1 0h0m3 1h0m3 3h0m2-1h0m4 1h0m2-3h0m-64 6h0m4 0h0m0 0h0m2 0h0m4-1h0m1 3h0m1-2h0m4-3h0m2 4h0m1-3h0m5 1h0m4 2h0m4-2h0m1 3h0m0 0h0m6-1h0m4-2h0m1-1h0m7 2h0m3-1h0m1 0h0m0 0h0m1-1h0m1 5h0m1-4h0m4 0h0m-59 4h0m3 6h0m0-1h0m1-5h0m0 5h0m3-5h0m1 3h0m1 2h0m4 1h0m12 0h0m6-1h0m3-1h0m3-3h0m3 4h0m0-3h0m0 1h0m1 1h0m7 1h0m1-1h0m0 0h0m5-1h0m1-1h0m-49 4h0m4 5h0m0 0h0m1-1h0m1-1h0m5 1h0m8-1h0m3 1h0m0 1h0m3 1h0m2-5h0m1 5h0m5-1h0m2-4h0m1-1h0m3 3h0m1-2h0m0 1h0m1 0h0m0 0h0m1 0h0m1-2h0m1 3h0m1-3h0m3 5h0m1-5h0m0 2h0m-39 5h0m5 1h0m0 1h0m2 0h0m1-1h0m2 2h0m2-1h0m2-2h0m1 4h0m1-1h0m1-1h0m0-3h0m2 1h0m2 4h0m4-2h0m1 0h0m1 3h0m-19 2h0m2-2h0m3 2h0m4-2h0m3 1h0m1 1h0m1 1h0" stroke="rgb(17,97,57)" stroke-width="4.2" stroke-linecap="round"/>
<path d="M480 2004h0m1 4h0m3 4h0m-4 5h0m1-1h0m-2 5h0m1 2h0m-3 2h0" stroke="rgb(17,97,57)" stroke-width="4.2" stroke-linecap="round"/>
<path d="M519 2133h0m3-2h0m8 0h0m3-1h0m-14 4h0m2 4h0m4-4h0m5 3h0m3 1h0m2-3h0m4 3h0m-24 4h0m1 0h0m6-3h0m4 4h0m5 1h0m9 0h0m-24 2h0m1 0h0m1 2h0m3-1h0m3-2h0m3 1h0m3 3h0m0-4h0m0 0h0m7 4h0m7-1h0m-28 5h0m2 3h0m0-1h0m1-2h0m3-2h0m8 5h0m0 0h0m0-1h0m10-4h0m-15 8h0m6 2h0m3 0h0" stroke="rgb(17,97,57)" stroke-width="4.2" stroke-linecap="round"/>
<path d="M551 2102h0m4-1h0m6-1h0m3-1h0m7 0h0m7 0h0m-30 6h0m1-2h0m7 3h0m4-1h0m2 0h0m2 3h0m8-4h0m1 2h0m2 0h0m0 1h0m0-4h0m3 1h0m3 1h0m3 3h0m1-1h0m1 0h0m6-4h0m2 2h0" stroke="rgb(17,97,57)" stroke-width="4.2" stroke-linecap="round"/>
<path d="M624 2067h0m-21 5h0m4 0h0m0-1h0m1 1h0m2-1h0m2 1h0m1-2h0m2-1h0m0 1h0m2 1h0m1 0h0m1-3h0m0 5h0m1-5h0m1 3h0m1 2h0m0-3h0m1 3h0m0-5h0m0 4h0m1-5h0m2 4h0m0 0h0m1 0h0m1 0h0m1 0h0m0-1h0m1-2h0m1 4h0m1-3h0m0-1h0m1 2h0m0-2h0m0 4h0m0-2h0m1 1h0m2 0h0m0-1h0m0-2h0m1 3h0m0 1h0m-42 6h0m1-1h0m1 0h0m2 1h0m2 0h0m2-4h0m1 3h0m0-1h0m1 3h0m5-6h0m1 0h0m0 2h0m0 3h0m1-1h0m4-2h0m3 4h0m0-2h0m1-1h0m0-2h0m2 0h0m0 0h0m1 2h0m0-3h0m3 2h0m0-2h0m0 3h0m0-1h0m2 2h0m1 1h0m0 0h0m1 1h0m0-6h0m0 2h0m1 2h0m1-4h0m0 4h0m1-2h0m0-2h0m3 1h0m-47 10h0m2-1h0m0 2h0m0-3h0m2 0h0m1 2h0m1-2h0m1 2h0m1-4h0m1 1h0m1 1h0m5-1h0m1 0h0m1 2h0m1-4h0m0 2h0m1 2h0m1 1h0m1-1h0m0 0h0m3 0h0m0 0h0m1-1h0m1 3h0m0-3h0m3 0h0m0 2h0m2-4h0m1 5h0m0 0h0m1-2h0m2-1h0m3-2h0m0 1h0m0 1h0m1 1h0m1-1h0m1 2h0m1 0h0m0-2h0m2-1h0m0 2h0m1 0h0m1-1h0m1 2h0m1-1h0m-50 6h0m1-1h0m0 2h0m1 0h0m0-3h0m2 3h0m1 0h0m0-2h0m0-2h0m3 2h0m0 2h0m0 0h0m1 0h0m0-4h0m2 4h0m0-2h0m1-2h0m1 0h0m0 2h0m0 1h0m4-1h0m1-1h0m0 0h0m0-1h0m1-1h0m3 0h0m0 2h0m1 0h0m3 3h0m0-4h0m0 4h0m0-2h0m1 1h0m1 2h0m0-4h0m0 2h0m1-4h0m0 6h0m1-2h0m3-3h0m0 0h0m3 1h0m4 2h0m1-2h0m0 1h0m1 0h0m1 0h0m1-1h0m1 0h0m2 0h0m1-1h0m-48 7h0m0 1h0m1-1h0m1-1h0m1 0h0m2-1h0m0 1h0m0 5h0m0 0h0m0-3h0m0 3h0m2-2h0m1-1h0m1-2h0m0 2h0m1-2h0m1 1h0m3-1h0m0 2h0m0-2h0m1 1h0m1-2h0m1 4h0m1 0h0m0-3h0m0 4h0m0 0h0m2-2h0m1 2h0m1-3h0m1 3h0m1-3h0m1-2h0m1 4h0m2-1h0m0 0h0m0 3h0m0-2h0m0-1h0m2-3h0m1 2h0m2-1h0m2 5h0m3-4h0m1 3h0m0-4h0m0 0h0m2 4h0m1-4h0m1 2h0m-42 5h0m1 1h0m2 1h0m2 1h0m0 0h0m0-4h0m2 4h0m3-2h0m1-3h0m1 2h0m0 0h0m1 0h0m0 1h0m1 2h0m4 0h0m0-3h0m0 4h0m1-3h0m2 2h0m1-1h0m0-1h0m1-2h0m1 2h0m0 2h0m0-2h0m1 0h0m0 2h0m2 0h0m2-3h0m1 2h0m1-2h0m1 2h0m0 0h0m0-1h0m1-3h0m3 0h0m2 0h0m-31 8h0m0 1h0m2-2h0m1 2h0m0 1h0m3 0h0m1-3h0m2 4h0m1-1h0m3-4h0m1 3h0m0-2h0m3 0h0m2 0h0" stroke="rgb(130,35,35)" stroke-width="4.2" stroke-linecap="round"/>
<path d="M847 2019h0m1-3h0m0 0h0m0 0h0m2 1h0m1 1h0m1 0h0m2 1h0m0-3h0m2-1h0m1 2h0m1-1h0m3-1h0m0 4h0m1-2h0m1 2h0m0-2h0m1-1h0m1 0h0m3-1h0m1 2h0m1 1h0m-32 4h0m4 1h0m2-3h0m3 1h0m4 0h0m1-1h0m1 0h0m1 5h0m1-3h0m2 0h0m0-2h0m3 2h0m0 0h0m1 1h0m1-2h0m0 4h0m1-5h0m1 1h0m0 4h0m3-3h0m1-2h0m2 1h0m6 1h0m1-1h0m0 1h0m4 3h0m2-1h0m7-1h0m19 1h0m1 0h0m1 0h0m4-2h0m1 2h0m8-1h0m1-1h0m2 2h0m0 0h0m3 0h0m4-2h0m3 0h0m0 0h0m1 1h0m5 0h0m-111 8h0m3-1h0m0-2h0m0-3h0m2 5h0m0-1h0m1 1h0m1-5h0m3 2h0m0 1h0m1-3h0m3 1h0m0 3h0m4 0h0m0 1h0m4-2h0m1 0h0m1-1h0m2-1h0m0 2h0m5 2h0m1-4h0m0 0h0m5-1h0m0 5h0m0-5h0m1 0h0m1 1h0m2 4h0m3-3h0m1 4h0m1-1h0m2-4h0m2 5h0m1-6h0m0 1h0m4 2h0m1 0h0m3 1h0m0-2h0m1 1h0m0-1h0m1 0h0m2 2h0m0 1h0m1-3h0m4 1h0m0-1h0m4 4h0m2-5h0m1 0h0m2 3h0m1 0h0m0-3h0m2-1h0m3 2h0m0-2h0m1 0h0m5 4h0m4 0h0m2-2h0m4 2h0m1-1h0m1 3h0m3-5h0m1 5h0m2-4h0m0 4h0m1-1h0m2-4h0m4 1h0m1-1h0m1 0h0m1 2h0m1 0h0m0-2h0m0 1h0m4 2h0m3-1h0m0-1h0m1-1h0m3 1h0m0 2h0m3 1h0m3-1h0m0 1h0m2 0h0m-138 3h0m3-2h0m2 2h0m0 2h0m1-1h0m1 1h0m1-1h0m3 0h0m1 1h0m1 0h0m1-2h0m2 2h0m1-3h0m0 2h0m1-1h0m0 0h0m0-2h0m1 2h0m1 2h0m2-4h0m1 0h0m1 6h0m1-4h0m1-1h0m2 1h0m1-2h0m1 3h0m0-2h0m1 4h0m1 0h0m0-2h0m7-1h0m2-1h0m0 3h0m1-4h0m0 3h0m1 1h0m0-1h0m2-2h0m1 0h0m3 4h0m0-4h0m1 2h0m1 0h0m2-1h0m0 1h0m4-2h0m1 2h0m3-1h0m1 2h0m1-4h0m1 2h0m1 0h0m1-1h0m0 4h0m1-3h0m1 1h0m1-1h0m0 1h0m0 1h0m1 1h0m0-2h0m3 3h0m3-6h0m1 2h0m1 3h0m5-5h0m0 6h0m1-6h0m0 5h0m1-3h0m1 3h0m0-3h0m1 4h0m0-1h0m2-3h0m2 2h0m0 0h0m1-2h0m6 4h0m1-4h0m0-2h0m1 0h0m1 1h0m1 2h0m1 1h0m1-1h0m0-2h0m6 4h0m1-3h0m1 2h0m3-3h0m0 5h0m1-3h0m0 0h0m1-1h0m1-2h0m0 6h0m0-5h0m1 1h0m2-1h0m0 0h0m2 0h0m3 4h0m0-1h0m0-2h0m2 1h0m1-2h0m1 4h0m4-2h0m0-1h0m2 2h0m1 2h0m0-3h0m2 0h0m0 0h0m1 1h0m0-3h0m1 0h0m2 5h0m4-2h0m-142 4h0m1 1h0m2-3h0m2 3h0m1 2h0m0 0h0m2-1h0m1 1h0m0-1h0m2-4h0m0 3h0m0 2h0m1 0h0m1-2h0m2 2h0m0-5h0m1 2h0m3 4h0m0-6h0m3 4h0m0-3h0m0 5h0m1-3h0m0 0h0m1-1h0m0 0h0m2 0h0m1 1h0m7-1h0m1 2h0m0 1h0m0-3h0m1 0h0m2-1h0m4 3h0m1-1h0m0 3h0m1-2h0m5-4h0m0 1h0m0 0h0m1 2h0m1 3h0m3-4h0m0 2h0m1-1h0m0 0h0m1-2h0m2 0h0m2 0h0m0 0h0m3 5h0m3-2h0m4-3h0m0 4h0m1 1h0m1 0h0m2 0h0m1-6h0m0 6h0m0-1h0m3-5h0m0 5h0m0 1h0m2-5h0m0 3h0m1-1h0m1-3h0m2 2h0m4 0h0m0 3h0m0 1h0m0 0h0m1-1h0m0 0h0m1 0h0m0-5h0m1 3h0m0 2h0m0-4h0m0 0h0m5 0h0m4-1h0m1 2h0m0 1h0m2 1h0m0 1h0m0-1h0m1-4h0m3 5h0m0-3h0m2 1h0m1 2h0m0-3h0m1 3h0m1-4h0m1-1h0m2 1h0m4-1h0m1 1h0m6 5h0m0-6h0m4 1h0m0 4h0m4-2h0m1 0h0m1-3h0m1 3h0m0-1h0m1-1h0m1 0h0m2 2h0m1-3h0m1 4h0m1 2h0m0-6h0m2 1h0m1 2h0m1 1h0m0-3h0m1 5h0m-151 1h0m1-1h0m0 4h0m2-1h0m2-1h0m1 0h0m3-1h0m8 1h0m4-1h0m3 5h0m2-6h0m5 4h0m0 1h0m3-2h0m4-2h0m5 2h0m1 0h0m1-3h0m1 1h0m1-1h0m2 0h0m1 6h0m0-3h0m4 2h0m0-3h0m1 1h0m0 0h0m1-2h0m1 1h0m0 1h0m1 2h0m3-1h0m1-2h0m0 2h0m1-1h0m2 1h0m2 0h0m2 0h0m1-1h0m1 1h0m1-3h0m2 0h0m0 2h0m2 0h0m1 2h0m0-3h0m3-2h0m2 4h0m0 2h0m3-2h0m0 2h0m2-6h0m1 2h0m0 2h0m2-1h0m0 2h0m1-2h0m2 0h0m1 2h0m0-4h0m3 3h0m4-2h0m2 1h0m2 0h0m4-1h0m6 0h0m2 1h0m1-3h0m1 5h0m0 0h0m0-3h0m0 0h0m2 3h0m0-5h0m1 5h0m1-2h0m3-2h0m1 1h0m3 0h0m2 0h0m1 1h0m3-2h0m1 3h0m1 2h0m0-4h0m1 3h0m1 0h0m1-2h0m1-1h0m1-2h0m1 2h0m4 3h0m1 1h0m1-5h0m2 0h0m2 1h0m1 1h0m1 2h0m-150 1h0m0 1h0m1 3h0m0-1h0m1 2h0m0-2h0m2 1h0m0-3h0m4 5h0m1-3h0m2-2h0m1 2h0m3 0h0m0 0h0m1 0h0m2-2h0m0 4h0m1 0h0m7-2h0m0 0h0m2-3h0m2 6h0m0-6h0m1 5h0m1-4h0m1 4h0m1-2h0m1 2h0m1-2h0m2-1h0m0-2h0m2 2h0m3-2h0m1 5h0m1 1h0m5-4h0m0-1h0m2 0h0m1 4h0m2 0h0m0-3h0m1 1h0m1-2h0m1 2h0m1 0h0m1 3h0m4-1h0m1-3h0m1-1h0m0 4h0m3-5h0m2 5h0m0 0h0m2-3h0m1 4h0m4-5h0m3 4h0m1-5h0m0 2h0m1 3h0m2-3h0m0 1h0m3-2h0m1-1h0m1 5h0m0 0h0m1-4h0m0 2h0m1 2h0m1 0h0m0-5h0m1 4h0m1-1h0m0-3h0m1 0h0m5 2h0m0 4h0m2-6h0m1 1h0m0-1h0m1 3h0m1-1h0m0 1h0m1 1h0m0 1h0m1-4h0m1 4h0m4-4h0m1 0h0m2 2h0m0-1h0m2 2h0m1 0h0m0-2h0m1 3h0m2 0h0m0-3h0m1 4h0m0-4h0m1 3h0m0-3h0m0 2h0m1-4h0m1 6h0m4-3h0m4 2h0m2-3h0m3-1h0m1-1h0m3 3h0m0 0h0m2 2h0m0-1h0m0-1h0m4 3h0m1-1h0m0 1h0m2 0h0m1 0h0m-150 4h0m1-1h0m1-2h0m0 2h0m4-1h0m0 0h0m1 4h0m1-2h0m2-4h0m5 6h0m1-6h0m1 5h0m4-1h0m2-2h0m3 0h0m3 2h0m0-1h0m0 2h0m2-2h0m0 2h0m1-4h0m1 0h0m1 0h0m1 1h0m1-1h0m0 0h0m1 4h0m0 1h0m1-3h0m0-1h0m3-2h0m1 4h0m5-3h0m0 2h0m3 0h0m0 1h0m1-1h0m2-1h0m2 2h0m1 1h0m1 1h0m3 0h0m0-3h0m5-2h0m1 3h0m2 1h0m0 0h0m1-1h0m0-1h0m0 0h0m1 1h0m1-2h0m1 3h0m2 1h0m0-4h0m3 0h0m0 1h0m1-2h0m1 4h0m1-1h0m1-1h0m0 2h0m2-3h0m3 1h0m0 0h0m3 0h0m1 0h0m1 0h0m4 1h0m0-3h0m0 3h0m3-1h0m0 0h0m1 0h0m0-1h0m1 1h0m3 0h0m1 0h0m4-2h0m0 1h0m2 1h0m2-2h0m0 1h0m4 3h0m0-5h0m0 2h0m0-2h0m0 4h0m1 0h0m2 1h0m1 1h0m2-5h0m4 4h0m3-2h0m3 2h0m0-4h0m1-1h0m4 1h0m0 2h0m1 0h0m0-1h0m2 4h0m0-2h0m3-4h0m1 6h0m1-4h0m0-1h0m0-1h0m2 2h0m0 4h0m2-1h0m0-1h0m1-2h0m-148 4h0m1 3h0m4-1h0m0 2h0m0-4h0m1 3h0m1-1h0m1 0h0m1 0h0m4 0h0m2 0h0m0 2h0m2 2h0m7-1h0m1-2h0m2-2h0m1 2h0m2-2h0m0 4h0m4 0h0m1-1h0m0 1h0m1-1h0m2-2h0m0 4h0m5-3h0m3 1h0m0-1h0m0 1h0m3-3h0m2 4h0m2-1h0m1-4h0m1 1h0m3 4h0m1-1h0m1 1h0m1-2h0m0 1h0m1-2h0m3-1h0m1-1h0m2 1h0m0 5h0m1-5h0m0 5h0m3 0h0m2-5h0m3 5h0m0-6h0m1 6h0m1-4h0m0-1h0m0 4h0m0-3h0m1 3h0m1-4h0m0 3h0m1-2h0m3 3h0m2-2h0m4-2h0m0-1h0m0 2h0m3 0h0m1 2h0m0 2h0m2-1h0m1 0h0m0-2h0m1 1h0m5 2h0m0-3h0m0 1h0m4-2h0m0 1h0m3-2h0m0-1h0m0 2h0m3 4h0m0-3h0m2-2h0m0 4h0m0-3h0m1 2h0m1 1h0m0-2h0m0 2h0m2-3h0m3 3h0m0 0h0m2 1h0m1-1h0m3-2h0m1 0h0m1 0h0m1 2h0m1-5h0m3 2h0m0-1h0m0 0h0m3 0h0m0 4h0m1-1h0m0-1h0m0 0h0m1-2h0m2 1h0m0 2h0m0-4h0m0 6h0m1-3h0m1 1h0m-140 3h0m1 2h0m0-1h0m0 0h0m2 3h0m0 0h0m2-1h0m1 0h0m4-3h0m0 5h0m3-5h0m0 1h0m2 2h0m1-1h0m0 0h0m0 0h0m1-2h0m5 4h0m2-4h0m0 0h0m0 1h0m1 0h0m0 3h0m0-3h0m3 1h0m0 2h0m1-4h0m0 5h0m2-2h0m1-3h0m1 1h0m1 1h0m2-2h0m2 5h0m0-1h0m0-4h0m1 2h0m3 2h0m2-5h0m1 4h0m2 0h0m0 0h0m0-2h0m2 1h0m2 0h0m2 2h0m1-3h0m2 2h0m0-1h0m0-1h0m6 1h0m1 0h0m2-2h0m0 1h0m1 2h0m0 0h0m1 1h0m1 0h0m1-1h0m1 0h0m2-2h0m0 1h0m3-3h0m3 0h0m1 6h0m1-1h0m0-1h0m2 1h0m2-4h0m0 1h0m2 2h0m1 0h0m0 2h0m2-5h0m1 2h0m1 0h0m0-2h0m0-1h0m2 2h0m2 2h0m0-2h0m1-1h0m0-1h0m2 1h0m1 4h0m0-1h0m3-1h0m2-1h0m1 0h0m0 2h0m3 2h0m2-4h0m1 1h0m0-2h0m2 3h0m0 1h0m0-4h0m1 3h0m1-3h0m0 4h0m0-4h0m3 1h0m0 2h0m1 1h0m0-3h0m4 0h0m1 0h0m2 3h0m1-2h0m1-2h0m0 2h0m1-1h0m0-1h0m3 2h0m0-3h0m1 5h0m1 0h0m4-1h0m3-2h0m2-1h0m0 1h0m-137 9h0m3-3h0m0 4h0m1-4h0m1 2h0m1 2h0m1-1h0m3-2h0m1 1h0m1-2h0m1-1h0m0 3h0m0 0h0m2-2h0m1 2h0m2 1h0m2-4h0m2 0h0m1 4h0m1-4h0m1 1h0m1 3h0m2-5h0m1 4h0m0 1h0m0-3h0m1 2h0m9-3h0m0 5h0m1-1h0m1 0h0m5-1h0m0-2h0m2-1h0m2 1h0m2 3h0m3-5h0m2 4h0m0 1h0m3-3h0m2 0h0m2 4h0m0-2h0m1-4h0m1 4h0m2 0h0m0-1h0m0-3h0m3 4h0m1-3h0m0 1h0m2 2h0m3-2h0m0 0h0m2-1h0m3 2h0m4 3h0m1-1h0m5-2h0m2 2h0m1-2h0m4-1h0m0 3h0m1-3h0m1 4h0m1-1h0m0 1h0m1-4h0m6 2h0m2-2h0m0 1h0m4 1h0m1-1h0m2 1h0m0 0h0m2-2h0m1 2h0m1 1h0m1 0h0m1-4h0m1 2h0m1 1h0m3-3h0m4 3h0m1 2h0m0-1h0m2-2h0m1-3h0m0 4h0m-134 3h0m0-1h0m2 4h0m1 2h0m0-1h0m0-3h0m1 3h0m2-1h0m1 2h0m1-4h0m0 3h0m1-3h0m0 3h0m2 0h0m1-4h0m0 4h0m2-2h0m2-2h0m6 0h0m2 2h0m0-1h0m1-1h0m1 4h0m2-1h0m1-4h0m1 3h0m0 2h0m1 0h0m1-1h0m0 0h0m2-4h0m1 5h0m1-4h0m1 2h0m2 3h0m3-4h0m1-2h0m1 0h0m2 5h0m3 0h0m1-5h0m0 4h0m1 0h0m1 0h0m2 0h0m0 1h0m2-4h0m1 2h0m6-3h0m2 1h0m6 1h0m1 1h0m4-2h0m1 0h0m1 1h0m1-1h0m0-1h0m1 2h0m2 3h0m1-3h0m1 1h0m1-3h0m1 5h0m1 0h0m2 0h0m2 0h0m2-4h0m0 2h0m0 0h0m1 0h0m2-2h0m1 1h0m1-1h0m2 2h0m1-3h0m1 4h0m1-1h0m3-1h0m1 3h0m4-5h0m0 5h0m2 1h0m3-1h0m0-3h0m2 0h0m0-1h0m1 3h0m0-2h0m2 0h0m3-1h0m0 2h0m4-3h0m1 5h0m5-5h0m-131 6h0m2 5h0m1-4h0m3 2h0m1-2h0m5 5h0m1-2h0m4-2h0m0-1h0m1-1h0m1 3h0m0-3h0m1 3h0m1-1h0m0 1h0m0 1h0m5 0h0m1-4h0m4 4h0m1 1h0m3-5h0m1 1h0m1 3h0m3 1h0m1-3h0m1 2h0m0 1h0m0-2h0m1-1h0m0 3h0m3 0h0m2 1h0m1 0h0m2-5h0m4-1h0m3 2h0m0-2h0m1 3h0m0 0h0m1 2h0m1-1h0m1-2h0m2 2h0m0 0h0m1 1h0m0 0h0m1-4h0m0 2h0m1-2h0m1-1h0m1 0h0m1 5h0m1-3h0m3 0h0m1 1h0m0 0h0m2 2h0m0-3h0m1 2h0m4 0h0m2 0h0m4 0h0m1 1h0m2 0h0m2-4h0m0 4h0m1-4h0m1 0h0m1 3h0m1-1h0m0 3h0m5-2h0m2-3h0m0 3h0m1-3h0m3 3h0m1-1h0m1 0h0m1 0h0m0 0h0m1 2h0m0 0h0m1-3h0m0 4h0m0-3h0m1 0h0m0 2h0m2-4h0m3 1h0m4 0h0m1-1h0m4 2h0m-122 5h0m0-1h0m1 2h0m1 1h0m1-1h0m4 0h0m2 2h0m0-2h0m5 0h0m1 1h0m3 1h0m0-5h0m3 1h0m7 2h0m1 2h0m0-2h0m0-2h0m1 0h0m1 3h0m1-4h0m1 0h0m1 3h0m0-2h0m1 3h0m1-2h0m0 2h0m1-3h0m1 1h0m0-2h0m0 4h0m1 2h0m2-5h0m5 2h0m2-1h0m2 3h0m1-1h0m2-4h0m3 1h0m3 2h0m0 2h0m3-2h0m0 3h0m2-2h0m0 2h0m0-5h0m1 4h0m0-2h0m2 2h0m3-4h0m0 0h0m4 3h0m2-2h0m0 0h0m1 0h0m0 4h0m1-3h0m1-1h0m1 0h0m1 1h0m1 0h0m2-1h0m2 2h0m1 0h0m0-3h0m0 4h0m2-2h0m1-1h0m2 3h0m2-5h0m0 4h0m1-2h0m1 0h0m2 1h0m3 1h0m1 2h0m2-3h0m0-1h0m0 2h0m1-3h0m2 5h0m0-3h0m8-2h0m3 2h0m1 1h0m4-3h0m-119 6h0m4 4h0m9-2h0m0 2h0m1 0h0m0-3h0m1 4h0m1-5h0m1 0h0m2 4h0m1-1h0m3 0h0m0-3h0m4 4h0m5-2h0m6-1h0m2-2h0m1 1h0m0 3h0m4 0h0m0 1h0m0-4h0m2 3h0m1-1h0m0-1h0m5-1h0m3 0h0m0 0h0m0 2h0m2-3h0m1 2h0m0 2h0m5-2h0m3-2h0m3 2h0m1-1h0m1 4h0m0-1h0m3-2h0m2 3h0m0-3h0m5 2h0m1-3h0m2 1h0m1-1h0m1 3h0m1 1h0m1-2h0m1-3h0m6 6h0m0-4h0m3 3h0m0-4h0m1 0h0m2 0h0m0 4h0m1-1h0m0-2h0m1 2h0m1-1h0m0 2h0m1-3h0m2 0h0m0 0h0m1-1h0m1 0h0m1-1h0m-103 6h0m1 2h0m0 2h0m1-2h0m1 2h0m0-2h0m4-2h0m1 3h0m4-1h0m3-1h0m0 1h0m1-2h0m1 4h0m1-3h0m0 2h0m1 1h0m0-1h0m2 2h0m2-1h0m0 1h0m3-4h0m0 0h0m0 1h0m1-1h0m4 4h0m3 0h0m1 0h0m0-2h0m2 2h0m1 1h0m1-2h0m1 2h0m5-5h0m3-1h0m3 5h0m3 1h0m3-5h0m1 2h0m0 1h0m2-3h0m3 1h0m0 4h0m6-2h0m0 2h0m1-1h0m0-3h0m2 3h0m5-4h0m0 3h0m0-4h0m2 6h0m0-6h0m1 2h0m0 2h0m3 2h0m3-5h0m0 4h0m1 0h0m1 0h0m3-1h0m1-2h0m1-1h0m1 2h0m2-1h0m2 2h0m1-4h0m-94 6h0m3 0h0m3 4h0m0 0h0m0 1h0m1-2h0m0-2h0m0 0h0m2 0h0m0 4h0m0 0h0m0-2h0m0-2h0m3 2h0m1-2h0m1 3h0m4-3h0m2 1h0m1 0h0m0-1h0m0 3h0m1-1h0m1 0h0m0-2h0m2 1h0m6 0h0m3 4h0m1-2h0m2-4h0m0 1h0m1-1h0m0 6h0m5-2h0m1 1h0m1-1h0m0-2h0m0 1h0m1-1h0m1 3h0m0-3h0m1 0h0m0 3h0m1-1h0m0 0h0m1 1h0m0-4h0m1 3h0m3 2h0m0 0h0m0-5h0m0 4h0m2-5h0m0 0h0m0 5h0m3-2h0m2 0h0m0 1h0m2-3h0m0 0h0m0 1h0m2 0h0m0 1h0m2-2h0m0 1h0m0 4h0m2 0h0m1-3h0m0-2h0m2 2h0m1 3h0m7-1h0m3-4h0m-70 7h0m1-2h0m2 1h0m2 3h0m1 0h0m3 0h0m4 2h0m0-3h0m2 2h0m0 0h0m2-1h0m0-2h0m0 2h0m2 2h0m0-4h0m1 0h0m0 3h0m2-1h0m1-1h0m1-3h0m0 6h0m1-4h0m0 3h0m1-1h0m2-3h0m5 1h0m3 2h0m0-1h0m2 1h0m2-4h0m1 2h0m6-1h0m1 3h0m1 0h0m0-1h0m0 0h0m2 1h0m0-1h0m14-2h0m1-1h0m-47 7h0m1 0h0m2 1h0m2-2h0m1 1h0m1-1h0m2 2h0m5 0h0m5-1h0m2-1h0" stroke="rgb(215,40,40)" stroke-width="4.2" stroke-linecap="round"/>
<path d="M930 2025h0m-14 4h0m2 1h0m5-1h0m2 2h0m2 0h0m2-1h0m2-1h0m0-2h0m5 2h0m1-2h0m1 2h0m2-3h0m9 3h0m8 2h0m2-1h0m1 0h0m-59 6h0m6 0h0m4-1h0m0 1h0m1-3h0m5 2h0m3-1h0m2-1h0m4 0h0m4 1h0m3-1h0m1-1h0m2 2h0m0 1h0m0-4h0m3 3h0m0-2h0m0 4h0m1-3h0m0 0h0m4-1h0m0 3h0m3-3h0m1 1h0m5 2h0m4 0h0m1-1h0m5-2h0m7 4h0m-68 1h0m3 4h0m4 1h0m0 0h0m1 0h0m7-3h0m7 1h0m5-3h0m6 3h0m2 2h0m0-2h0m1-2h0m5 0h0m8 2h0m1-3h0m5 2h0m0 0h0m1-1h0m2 0h0m2 0h0m1 1h0m5 3h0m0-3h0m2 3h0m2 0h0m2 1h0m2-3h0m2-1h0m1 0h0m2 3h0m-76 4h0m1 0h0m2-3h0m0 4h0m1-3h0m1 4h0m3-3h0m1 4h0m5-4h0m3 0h0m6-2h0m1 0h0m3 5h0m3 1h0m4-4h0m5 4h0m0-3h0m4-2h0m1-1h0m2 3h0m0-2h0m0 4h0m4-3h0m5-1h0m1 0h0m1 0h0m1 3h0m1-4h0m0 1h0m0 5h0m1-3h0m2 0h0m1-2h0m1 1h0m2-1h0m0 1h0m3 3h0m1-4h0m1 3h0m2 0h0m4-2h0m3-1h0m-83 6h0m5 1h0m2 0h0m0 3h0m0-4h0m1 4h0m2-3h0m1 2h0m4-2h0m9 3h0m0 0h0m1-4h0m2 1h0m1 0h0m3 1h0m1 1h0m0 1h0m1-3h0m1 0h0m1-1h0m0 3h0m1-1h0m1 1h0m1-2h0m12 3h0m3-4h0m8 4h0m3-5h0m1 3h0m7 1h0m3 0h0m3-4h0m4 0h0m3 6h0m0-1h0m-87 2h0m1 1h0m1 3h0m1 0h0m0-5h0m3 3h0m2 2h0m2-3h0m1 0h0m3 2h0m0 1h0m1-4h0m1 0h0m7-1h0m1 3h0m1 2h0m4-2h0m2 2h0m3-3h0m2 2h0m1-1h0m6-2h0m1 0h0m2 3h0m2-1h0m5 1h0m3-3h0m1 2h0m2 1h0m0 1h0m1-3h0m1 0h0m3 0h0m2 1h0m2-2h0m2 2h0m3 3h0m3-1h0m6-4h0m2 0h0m2 2h0m4-3h0m-89 7h0m4 5h0m2-4h0m5 1h0m0-1h0m7 3h0m0-2h0m1-2h0m1 4h0m1-3h0m5 2h0m2-3h0m1 1h0m6 2h0m5 2h0m1-2h0m1-2h0m0-2h0m7 4h0m4 1h0m2-2h0m2 3h0m2-4h0m0 1h0m2 0h0m2 2h0m0-4h0m4 1h0m0 2h0m5-2h0m1 1h0m7 1h0m0-1h0m0 1h0m3-1h0m5 3h0m1-1h0m1 0h0m0-5h0m0 5h0m1-1h0m-92 5h0m0 2h0m4 0h0m2 0h0m2-2h0m4 2h0m2 1h0m1-3h0m1-2h0m3 2h0m0-3h0m1 6h0m3-4h0m2 1h0m2 1h0m10-4h0m1 4h0m2 0h0m2-1h0m2 2h0m2-5h0m2 6h0m3-2h0m5-3h0m0 2h0m2 2h0m4-3h0m3-2h0m3 3h0m3-2h0m4 0h0m1 1h0m0 2h0m3 0h0m2-2h0m1-1h0m4 3h0m0-1h0m1 0h0m-87 7h0m1 1h0m2-1h0m1-3h0m0 5h0m2-3h0m2-1h0m1 2h0m3 0h0m3-2h0m3 1h0m2 2h0m0 1h0m7-6h0m1 6h0m2-3h0m3 0h0m0 2h0m1 1h0m0-2h0m0 0h0m1-4h0m2 1h0m4 1h0m4-1h0m2 5h0m5-5h0m0 3h0m0-2h0m1 2h0m0-1h0m1 0h0m0 1h0m1 0h0m1-4h0m1 4h0m1-4h0m2 2h0m4-1h0m4 4h0m1-3h0m0 2h0m6-4h0m5 2h0m0-1h0m3 3h0m2 2h0m1-6h0m1 3h0m4-2h0m-87 6h0m2 4h0m2-2h0m0-1h0m2 0h0m0 0h0m2 1h0m0-3h0m1 6h0m1-4h0m2 3h0m0 0h0m5-2h0m1 3h0m2-1h0m1-5h0m0 3h0m2-1h0m1 0h0m1-1h0m4 2h0m1 2h0m2-2h0m2 0h0m0-1h0m3 2h0m10 0h0m1-2h0m0-1h0m1 0h0m1 1h0m0-1h0m1 5h0m3-2h0m1-2h0m4 1h0m3-1h0m4 3h0m2-1h0m0-2h0m2 1h0m1 1h0m7 1h0m1-3h0m0 3h0m1-1h0m4-3h0m-85 9h0m4-1h0m1 1h0m6-2h0m0-1h0m0 0h0m1-1h0m0 2h0m2 1h0m1 1h0m3 1h0m1-4h0m9 4h0m5-4h0m5 5h0m4 0h0m2-4h0m1 3h0m5-3h0m0 2h0m2-3h0m1 0h0m0 0h0m2 5h0m4-4h0m1-1h0m1 4h0m2-3h0m5 0h0m0-1h0m7 3h0m1 0h0m2-3h0m3 2h0m0-1h0m3 0h0m0 3h0m2-4h0m-83 5h0m1 3h0m0 1h0m2 2h0m1 0h0m1-3h0m1 2h0m5-3h0m3-1h0m7 2h0m3-2h0m7 3h0m6-4h0m1 2h0m1 4h0m2-4h0m1 0h0m1 4h0m1-3h0m1-2h0m1 3h0m1-2h0m1 3h0m5 0h0m0-1h0m2-3h0m2 2h0m10-2h0m1 4h0m9-3h0m1-1h0m-77 6h0m2 0h0m3 1h0m0 0h0m5-1h0m0 4h0m12-4h0m0 3h0m3 2h0m1-3h0m0 1h0m0-3h0m9 0h0m4 0h0m2 2h0m4 1h0m1 1h0m0 1h0m4-1h0m2-4h0m0 2h0m1-2h0m2 2h0m4 1h0m0 2h0m1-4h0m0-1h0m1 1h0m1 2h0m2 2h0m4-5h0m-62 7h0m3 3h0m9-2h0m3 2h0m0 1h0m4-5h0m0-1h0m2 1h0m0 4h0m0 0h0m4-4h0m0 3h0m5-2h0m0 3h0m4-4h0m1-1h0m0 2h0m1 0h0m0-1h0m1-1h0m1 4h0m6 1h0m1-3h0m4-1h0m0-1h0m1 6h0m1-5h0m0 0h0m5 5h0m0 0h0m1-6h0m0 3h0m2-1h0m3-2h0m-61 6h0m4 1h0m7 1h0m6 3h0m1-1h0m2-3h0m0 5h0m1-1h0m0-1h0m1 0h0m1 2h0m1-6h0m0 5h0m2-1h0m4 1h0m0-1h0m3 0h0m2-2h0m2-2h0m5 4h0m1-2h0m3 0h0m-44 4h0m24 2h0m0 0h0m0 1h0m2 0h0" stroke="rgb(116,69,162)" stroke-width="4.2" stroke-linecap="round"/>
<path d="M896 2038h0m3 5h0m2-2h0m14 0h0m5-2h0m4 4h0m-46 6h0m20-5h0m11 4h0m15-3h0m-46 5h0m4 2h0m2 1h0m11-2h0m2 2h0m3-2h0m4 2h0m0-4h0m18 3h0m8 0h0m-59 5h0m26 2h0m40-4h0m-58 11h0m13 1h0m2-2h0m1 1h0m4-3h0m3-1h0m3 4h0m-4 1h0m11 1h0m-34 7h0m24 4h0m31-6h0m1 4h0m8 2h0m-68 1h0m8 2h0m17-1h0m-14 6h0m9 0h0m12 3h0m24 1h0m-47 5h0m19-3h0m5 2h0m7 2h0m0-4h0m-38 5h0m6-1h0m13 4h0m14-3h0m0 4h0m-21 3h0m29 1h0m-21 4h0m7 0h0m9-1h0m10 1h0" stroke="rgb(116,69,162)" stroke-width="4.2" stroke-linecap="round"/>
<path d="M807 2059h0m2-2h0m-23 9h0m4-4h0m0 3h0m4-2h0m3 2h0m2-3h0m7 0h0m1-1h0m9 4h0m0-1h0m2-3h0m-30 6h0m2 0h0m0 1h0m3 3h0m4-4h0m0 5h0m4-5h0m8 5h0m2-5h0m3 5h0m2-3h0m2-1h0m0 0h0m2 3h0m1 1h0m-31 6h0m5-5h0m1 5h0m2 0h0m3-3h0m1-1h0m5 3h0m3 1h0m5 1h0m2-5h0m1 2h0m-31 3h0m8 2h0m0 2h0m1-2h0m3 2h0m5-1h0m2 1h0m2-3h0m4 3h0m4-1h0m-20 5h0m1 0h0m0 0h0m4 1h0m1 0h0m1-1h0m3-1h0m3 2h0m1 3h0m2-6h0m-6 7h0" stroke="rgb(243,175,32)" stroke-width="4.4" stroke-linecap="round"/>
<path d="M809 2061h0m6-4h0m-11 6h0m3 2h0m0-1h0m2 2h0m3-3h0m-4 8h0m7-2h0m3 1h0m2-2h0m0 3h0m1-3h0m-17 10h0m5-2h0m6 1h0m1 2h0m-5 1h0m3 0h0m5 0h0" stroke="rgb(130,35,35)" stroke-width="4.2" stroke-linecap="round"/>
<path d="M843 2102h0m-9 5h0m1-1h0m3 2h0m2 0h0m0-3h0m3 3h0m1-1h0m2-3h0m-13 11h0m4-1h0m0-4h0m1 0h0m0-1h0m2 4h0m1-3h0m0-1h0m3 1h0m1 3h0m1 0h0m1-3h0m1 2h0m-12 3h0m5 1h0" stroke="rgb(55,150,78)" stroke-width="4.2" stroke-linecap="round"/>
<path d="M656 2115h0m0 0h0m3-1h0m3 0h0m5 0h0m1-3h0m2 0h0m2 0h0m3 2h0m0-3h0m4 1h0m0 0h0m1 0h0m2-1h0m6 2h0m0-2h0m1 5h0m13-2h0m0 0h0m3 1h0m-57 5h0m0 0h0m1-2h0m1 3h0m4-2h0m1-3h0m0 1h0m3 5h0m0-3h0m2 0h0m0-1h0m1 3h0m1-3h0m1 1h0m7 0h0m1 1h0m1 0h0m2-3h0m0 2h0m1 0h0m2 3h0m3-5h0m0 5h0m0-4h0m1 2h0m1-1h0m0 2h0m1-1h0m0-3h0m0 3h0m2-2h0m0 1h0m5-1h0m1-1h0m0-1h0m1 4h0m1-3h0m0 0h0m1 4h0m0 1h0m2 0h0m2-2h0m2 0h0m0 2h0m1-4h0m2 2h0m0-2h0m2 3h0m1 1h0m1-5h0m0 2h0m2 2h0m-75 5h0m6-1h0m3 1h0m2 0h0m2-1h0m0 2h0m1-3h0m0 3h0m1-4h0m1 1h0m1 3h0m1-2h0m5-1h0m2 2h0m4-1h0m0 0h0m1-2h0m1 0h0m2-1h0m1 0h0m0 0h0m3 4h0m2 0h0m1-1h0m1 0h0m2 0h0m2 3h0m1-5h0m1 0h0m1 0h0m3 3h0m0-2h0m1-1h0m1 2h0m5-1h0m0 0h0m0-2h0m1 1h0m3-1h0m1 4h0m5 1h0m2-1h0m1 1h0m0-3h0m1-2h0m2 4h0m0-1h0m0 2h0m1-3h0m-78 10h0m1-1h0m1-5h0m3 3h0m2-2h0m0 1h0m1 2h0m5-1h0m5 1h0m1-4h0m2 5h0m1 1h0m2-6h0m7 2h0m1 0h0m2-2h0m2 4h0m3-2h0m1-2h0m2 0h0m2 4h0m4-1h0m3 2h0m1-3h0m2-1h0m0 3h0m1-4h0m2 3h0m1 1h0m0 2h0m1-4h0m2 3h0m1-2h0m3-2h0m1 3h0m1 2h0m2-5h0m2 2h0m2 3h0m2-4h0m0-1h0m2 4h0m1 0h0m2 1h0m-87 5h0m0-2h0m0-1h0m1 1h0m3 0h0m0-2h0m1 1h0m0-2h0m1 5h0m4-2h0m0 3h0m0-2h0m1-3h0m0 2h0m1-2h0m0 1h0m3 1h0m0 2h0m1 1h0m0-5h0m3 2h0m5-3h0m1 1h0m3 3h0m1-3h0m3 1h0m1 0h0m1 1h0m8 3h0m0-1h0m5-1h0m1-3h0m1 1h0m0 0h0m0 3h0m5 0h0m1-2h0m0-2h0m2 1h0m1 3h0m0-1h0m3 0h0m2-1h0m1-1h0m2 2h0m0-1h0m2 3h0m2-3h0m0 0h0m1 0h0m1 3h0m2-3h0m2 2h0m0-2h0m2-1h0m1 0h0m0 0h0m2-1h0m0-1h0m1 5h0m2-5h0m3 3h0m-93 4h0m1 0h0m4 2h0m1 1h0m1-1h0m5 3h0m1-2h0m0-2h0m3 0h0m0 2h0m1-1h0m1 1h0m1 0h0m2 1h0m4-5h0m3 5h0m2-3h0m2-2h0m0 4h0m3-2h0m1 2h0m1-3h0m2 0h0m4 2h0m2-1h0m0 4h0m5-5h0m0 0h0m1 0h0m2 1h0m2 3h0m2-3h0m2 0h0m1 3h0m0 0h0m2-4h0m0 3h0m2-3h0m0 0h0m1 3h0m0 2h0m5-4h0m1-1h0m3 1h0m2 3h0m1-2h0m0 3h0m7-4h0m1 1h0m1 2h0m1-5h0m0 4h0m4-2h0m1 1h0m-92 7h0m1-2h0m2 0h0m0 2h0m1-2h0m6-1h0m2-1h0m4 3h0m3-1h0m1-2h0m0 2h0m0 1h0m5-1h0m0-1h0m0 2h0m3-2h0m0 3h0m0-2h0m3 1h0m2-3h0m1 1h0m1 4h0m1 0h0m0-1h0m1-4h0m2 1h0m2 3h0m0-2h0m1 4h0m1-5h0m3-1h0m4 1h0m1 4h0m0-4h0m2 1h0m4 1h0m2 0h0m4-1h0m3-2h0m1 1h0m0 3h0m1 2h0m3-5h0m0 1h0m1-2h0m0 5h0m2-5h0m1 0h0m1 3h0m2 0h0m0 3h0m1-2h0m0-3h0m3 2h0m2-2h0m4 0h0m-87 6h0m1 3h0m2-1h0m0-2h0m1 1h0m0 3h0m3 0h0m2 0h0m0 0h0m0-5h0m1 3h0m2 2h0m2-1h0m1-2h0m0 4h0m2-6h0m0 1h0m1 2h0m1-3h0m1 0h0m9 1h0m2-1h0m0 1h0m1-1h0m1 3h0m1 1h0m0 0h0m8-4h0m1 1h0m0 2h0m0 0h0m1 0h0m1 3h0m1-4h0m1 3h0m2-2h0m0 0h0m0-2h0m1 2h0m3 3h0m0-5h0m1 0h0m4 3h0m1 1h0m5-1h0m8-3h0m1 5h0m6-5h0m6 4h0m2-5h0m-88 7h0m1 2h0m4 2h0m4 0h0m1 0h0m2-1h0m2 2h0m4-1h0m1-2h0m1-1h0m4 4h0m4-2h0m1-2h0m2 0h0m7 2h0m0 1h0m1 0h0m5-2h0m5 1h0m8 2h0m0-2h0m5-2h0m8 2h0m2-2h0m1 4h0m4-1h0m2-2h0m0 1h0m2-3h0m0 0h0m1 3h0m1 0h0m-81 5h0m0 0h0m2 1h0m1-3h0m1 2h0m1-2h0m0-1h0m3 4h0m0-1h0m2 0h0m0 1h0m1-1h0m1 2h0m1-3h0m1 3h0m0-5h0m2 3h0m1 0h0m1 1h0m1-3h0m1 1h0m1 3h0m1-1h0m0-4h0m1 6h0m0-6h0m0 4h0m2-2h0m2-2h0m1 4h0m1-4h0m1 1h0m10 4h0m1-1h0m3-2h0m0-1h0m0 2h0m2 2h0m2-2h0m1-2h0m2 3h0m2 0h0m0 1h0m0-2h0m1 2h0m1-4h0m1 4h0m1-1h0m1-3h0m1 1h0m1-1h0m2 1h0m4-1h0m2 3h0m0 1h0m3-2h0m0 0h0m3 0h0m1 0h0m2-2h0m2 0h0m-81 9h0m3 0h0m3-1h0m2-1h0m1 3h0m3 0h0m1-4h0m0 2h0m0 2h0m2 0h0m1-5h0m0 1h0m1 0h0m2 5h0m1-6h0m4 5h0m0-1h0m5 1h0m1 0h0m1 1h0m2-4h0m2 3h0m0-3h0m5 4h0m5-2h0m13-2h0m5 1h0m1-2h0m3-1h0m3 3h0m1 1h0m0-3h0m-61 6h0m3 2h0m2-1h0m1 2h0m0-1h0m4 1h0m4-2h0m3 0h0m2 2h0m1 1h0m0-4h0m3 4h0m1-4h0m3 1h0m0-1h0m1 5h0m1-4h0m0 2h0m2 1h0m3-3h0m0 1h0m3-2h0m1 4h0m0-2h0m2-3h0m1 3h0m1 3h0m0-3h0m1 3h0m1-3h0m0 2h0m3-4h0m0 2h0m1-3h0m2 1h0m2 1h0m1-2h0m0 1h0m0 0h0m1 1h0m-51 8h0m4 2h0m4-5h0m0 0h0m1 0h0m1 2h0m9-1h0m2 0h0m0-1h0m2 4h0m3-4h0m0 4h0m1-2h0m1 3h0m0-3h0m0 1h0m2-2h0m0-1h0m1 4h0m0-3h0m1 0h0m2 0h0m0 4h0m3-6h0m7 1h0m1 0h0m-44 6h0m0 3h0m2 0h0m1 1h0m1-1h0m2 1h0m3-3h0m2 1h0m1 1h0m5 0h0m0 1h0m1-4h0m2 2h0m1-1h0m1-2h0m1 4h0m1-2h0m1 0h0m2 0h0m1 1h0m1-3h0m4 0h0" stroke="rgb(55,150,78)" stroke-width="4.2" stroke-linecap="round"/>
<path d="M747 2119h0m4 0h0m3 1h0m4 0h0m2 0h0m9 1h0m2-3h0m1 2h0m3-3h0m2 1h0m2 1h0m2 1h0m4-1h0m10-1h0m1 1h0m1-1h0m2 2h0m3-1h0m0 1h0m-77 7h0m1 0h0m1-2h0m2 2h0m1-1h0m2 0h0m1 0h0m2 0h0m1-3h0m1 2h0m1-3h0m0 3h0m1-3h0m1 1h0m2 3h0m0-2h0m3 3h0m2-5h0m2-1h0m1 2h0m0 3h0m2-5h0m1 4h0m2 2h0m1-5h0m3 2h0m0-1h0m2 3h0m3-4h0m0 1h0m3 0h0m3 3h0m1-1h0m1 0h0m3-2h0m2 0h0m4-1h0m4 2h0m5-1h0m0 4h0m1-3h0m1 0h0m3-3h0m1 2h0m0 0h0m0 4h0m4-1h0m0-5h0m0 6h0m1-6h0m0 3h0m3-3h0m1 3h0m4-2h0m1 4h0m1-3h0m1 4h0m1-1h0m0-2h0m1 1h0m2 0h0m3 1h0m2 1h0m-100 6h0m3-6h0m0 2h0m1 2h0m3-1h0m1-1h0m0-1h0m1-1h0m2 1h0m2 4h0m2 0h0m0-3h0m5-1h0m0 0h0m1 2h0m0 1h0m4-4h0m0 2h0m7 3h0m1-4h0m1 4h0m3 0h0m1-2h0m5 0h0m2 2h0m3-4h0m1 4h0m1-4h0m2 2h0m3-3h0m8 2h0m3 3h0m1-4h0m0 3h0m5 1h0m7-1h0m2-2h0m0 0h0m1 1h0m4-1h0m1 2h0m4-2h0m0 2h0m1 1h0m2-2h0m0-3h0m2 3h0m1 1h0m0 2h0m3-5h0m2 5h0m1-2h0m1 2h0m0-1h0m2-1h0m1 2h0m4-1h0m-115 5h0m1-1h0m1-2h0m0 2h0m3-2h0m3 4h0m1-5h0m2 1h0m2 4h0m1-5h0m2 3h0m1-3h0m1 3h0m4 0h0m0 0h0m2 3h0m0-2h0m1 0h0m0-1h0m1 1h0m0-1h0m7 0h0m1 0h0m0-2h0m6-1h0m1 1h0m4 0h0m1 1h0m7 2h0m5-3h0m5 1h0m3 3h0m1 1h0m3-5h0m1 3h0m0-2h0m1 2h0m0 1h0m0 0h0m2-1h0m2-2h0m1 1h0m6-1h0m0 3h0m0 0h0m1-2h0m2 0h0m4 1h0m3-1h0m1-2h0m1 1h0m1 2h0m0-2h0m5 1h0m2 3h0m2 0h0m2 0h0m1-4h0m3-1h0m4 2h0m5 1h0m0-1h0m-124 7h0m3 1h0m3-1h0m0 0h0m6-4h0m2 5h0m3-1h0m1-1h0m2-3h0m1 5h0m0-1h0m3-1h0m3 1h0m0-1h0m0 2h0m2 1h0m0 0h0m1-2h0m4-1h0m1-2h0m2 5h0m1-4h0m1 2h0m4-2h0m2 2h0m2 1h0m1-1h0m3 0h0m1-3h0m1 5h0m1-3h0m5-1h0m5 0h0m1-1h0m0 3h0m3-3h0m1 5h0m3-5h0m2 4h0m1 0h0m2-2h0m7 1h0m0 0h0m4-1h0m2 2h0m1-4h0m2 2h0m2-2h0m6 4h0m1-3h0m3 3h0m4-4h0m2 5h0m1-1h0m1 1h0m2-4h0m0-1h0m3-1h0m2 0h0m5 5h0m0-2h0m3 3h0m-127 0h0m0 1h0m1 4h0m2-4h0m2 2h0m0-3h0m0 5h0m2 0h0m1-3h0m2 3h0m0-2h0m2 0h0m3-2h0m1 5h0m1-3h0m0 2h0m5-5h0m3 2h0m1 0h0m6 2h0m0-1h0m1 2h0m1 0h0m0-1h0m3 0h0m1-2h0m1 2h0m0-3h0m6 4h0m0 0h0m2-2h0m1 2h0m7-2h0m1 0h0m1-2h0m0 3h0m2 1h0m1-4h0m3 1h0m2-2h0m8 4h0m5-2h0m1 3h0m0-4h0m1 1h0m0 0h0m2 0h0m2-1h0m1 3h0m0 1h0m2 0h0m2-2h0m3 1h0m2-3h0m1 2h0m1 0h0m0-3h0m0 2h0m4 3h0m2-2h0m5-2h0m2-1h0m1 3h0m4 2h0m0-4h0m1 1h0m3 2h0m2-2h0m2 4h0m1-3h0m0-2h0m0 4h0m4-3h0m3 0h0m0 1h0m1 2h0m-127 1h0m2 4h0m1-2h0m1 0h0m1 0h0m1 3h0m1 0h0m4 1h0m2-4h0m1 4h0m0-4h0m1 1h0m1-2h0m1 0h0m2-1h0m1 3h0m4-3h0m1 2h0m4-2h0m0 5h0m4-2h0m1-1h0m5 4h0m1-1h0m1 0h0m3-4h0m0 2h0m2-1h0m2 2h0m5-2h0m2 0h0m1 1h0m0-2h0m0 1h0m0 2h0m1 0h0m1-3h0m1 0h0m2 0h0m2 3h0m0-2h0m0-2h0m9 0h0m2 4h0m1 2h0m1-5h0m2 2h0m8-1h0m3 3h0m3 1h0m2-3h0m0 2h0m1-3h0m0 0h0m1-1h0m1 1h0m0 3h0m1-1h0m1 2h0m1-3h0m3 1h0m1 1h0m2 0h0m2 0h0m1-2h0m4 1h0m1 1h0m1-4h0m2 1h0m1 1h0m2-1h0m2 0h0m4 4h0m0-2h0m1-3h0m-131 9h0m2 1h0m1-4h0m1 2h0m2 0h0m1 2h0m3 0h0m1 1h0m1-1h0m1-3h0m1-1h0m1 1h0m2 3h0m0-3h0m0-2h0m6 2h0m3-1h0m1 1h0m2-2h0m1 4h0m0 1h0m2-5h0m1 4h0m0 2h0m1-3h0m3 1h0m2 0h0m0-3h0m1-1h0m0 4h0m3 0h0m1-1h0m2 2h0m3-4h0m2 0h0m0 2h0m1 2h0m3-3h0m3 0h0m3 1h0m3-3h0m1 4h0m0 0h0m4-2h0m3 0h0m0-2h0m0 3h0m1 0h0m4 0h0m0-2h0m1 0h0m2-1h0m1 3h0m0-2h0m1 1h0m1 3h0m2-4h0m2 2h0m2-2h0m9 0h0m1 3h0m1-2h0m0 4h0m1-3h0m2 0h0m2 0h0m1 1h0m2 1h0m2 0h0m3-1h0m1 0h0m3-3h0m2 3h0m6-2h0m1-1h0m1 2h0m1-1h0m2-1h0m1 1h0m2-1h0m0 0h0m-132 8h0m1-1h0m4 4h0m6-3h0m0 2h0m4 0h0m0-1h0m4-1h0m1 1h0m0-4h0m3 2h0m1 3h0m5-4h0m2 0h0m1 5h0m1-1h0m0-2h0m2-1h0m2 3h0m4-1h0m1-2h0m3 2h0m3-3h0m3 1h0m0 3h0m4-1h0m1 0h0m4 1h0m2-1h0m0-1h0m0-2h0m1 2h0m3-2h0m1 3h0m1-4h0m1 2h0m0-1h0m8 4h0m0-1h0m1-1h0m1-2h0m0 0h0m7 0h0m0 4h0m0-2h0m2-1h0m1 4h0m1 0h0m1-3h0m5-1h0m6 4h0m1-3h0m1-3h0m3 5h0m3-5h0m5 2h0m4-1h0m0-1h0m3 5h0m1-3h0m0 1h0m2 1h0m0-3h0m3 4h0m2-2h0m0 1h0m1-4h0m0 1h0m1 2h0m1-1h0m1 2h0m-131 4h0m5 2h0m3-2h0m3-1h0m0-1h0m5 1h0m2 1h0m2 0h0m2 1h0m4-3h0m2 3h0m1-2h0m0 4h0m2-4h0m2 2h0m1 2h0m1-3h0m1 1h0m1 3h0m0 0h0m2-2h0m9 1h0m2-4h0m0 4h0m2 0h0m0 0h0m0-5h0m2 2h0m2-1h0m0 4h0m4-2h0m4 2h0m1-2h0m3 3h0m1 0h0m2-5h0m1 2h0m1-1h0m2 3h0m1-3h0m2 3h0m0 0h0m1-3h0m2-2h0m1 1h0m0 3h0m1-2h0m3 2h0m4-4h0m0 6h0m2-2h0m0 1h0m1 1h0m7-1h0m1 1h0m8-5h0m0 2h0m1 1h0m3-3h0m1 0h0m1 0h0m4 3h0m1-4h0m1 5h0m0-4h0m2 0h0m2 1h0m1 1h0m4-3h0m1 1h0m1 4h0m-128 4h0m1 2h0m1-5h0m1 1h0m6 4h0m4-5h0m4 3h0m0 1h0m5-4h0m0 4h0m0-4h0m1 4h0m4-1h0m1 1h0m3-1h0m1-2h0m3 3h0m1-3h0m1 2h0m1 2h0m0 1h0m11-1h0m0-1h0m0 0h0m1 1h0m1 0h0m2 0h0m3-4h0m5 5h0m1 0h0m0-3h0m3 2h0m6-4h0m2-1h0m0 2h0m1-1h0m1 1h0m2 1h0m1 0h0m1 0h0m0 3h0m0-2h0m2-2h0m2-2h0m0 1h0m3 2h0m4 2h0m1-1h0m1 0h0m0-4h0m2 3h0m1-1h0m0 4h0m2-2h0m1-2h0m0 3h0m2-1h0m0-1h0m3 3h0m0-5h0m4 1h0m1 3h0m7-4h0m5 3h0m0 2h0m1-3h0m0-1h0m5 3h0m1-3h0m-127 7h0m0 0h0m4 2h0m2-2h0m0 0h0m2 2h0m0 0h0m1 0h0m0-4h0m1 0h0m1 1h0m6 0h0m0 1h0m0-2h0m1 1h0m1 2h0m0-1h0m2 0h0m1 2h0m0-3h0m4 0h0m0 2h0m1-2h0m0 1h0m2-2h0m6 0h0m1 0h0m1 2h0m3-1h0m0 1h0m2-2h0m2 1h0m0-1h0m2 3h0m1 0h0m1 2h0m0-5h0m3-1h0m1 4h0m2-3h0m1 4h0m4-2h0m5-1h0m7 2h0m2-1h0m2 0h0m2-1h0m3 3h0m4-2h0m1-1h0m2-2h0m4 6h0m2-1h0m1-3h0m1 3h0m6 1h0m1-6h0m0 6h0m1-3h0m2 1h0m2-1h0m1 2h0m1-5h0m4 1h0m0 0h0m1 2h0m2 1h0m0-2h0m1 2h0m0-2h0m1 0h0m2 0h0m0 1h0m4 2h0m1-5h0m1 3h0m-120 6h0m4 0h0m0-3h0m1 3h0m2 1h0m1 1h0m3-2h0m2 0h0m1 3h0m2-1h0m1 1h0m1-6h0m3 2h0m1 0h0m1 2h0m3-2h0m1 2h0m2 0h0m1-4h0m1 5h0m2-4h0m1 0h0m6 5h0m0-3h0m6-3h0m3 2h0m1 2h0m0-4h0m0 1h0m5-1h0m4 3h0m0-3h0m2 3h0m3 3h0m0-1h0m3-4h0m0 4h0m0 0h0m2-4h0m1 3h0m1 2h0m1-5h0m0-1h0m1 3h0m1 1h0m1 0h0m0 2h0m1-3h0m1 2h0m2-1h0m3-4h0m1 1h0m1-1h0m7 4h0m1 1h0m0-4h0m0 2h0m4 0h0m0-1h0m2 1h0m0-2h0m1 1h0m2 3h0m1-1h0m0-1h0m1-3h0m0 6h0m4-2h0m0 0h0m2 1h0m5 0h0m3 1h0m1-5h0m1 0h0m-114 5h0m0 1h0m1-1h0m2 3h0m1-2h0m2 1h0m1 2h0m0-4h0m3 0h0m6 1h0m0-1h0m2 0h0m1 3h0m2 1h0m0 2h0m1-2h0m1-3h0m1 4h0m2-4h0m3 2h0m0 0h0m2-2h0m5 1h0m5 2h0m4 0h0m4-2h0m1 0h0m1 3h0m0-4h0m4 2h0m4-1h0m4 2h0m1-2h0m1-2h0m2 5h0m2-1h0m6-2h0m0 3h0m1-4h0m0 2h0m2-2h0m1 1h0m0-2h0m2 3h0m5-1h0m0 1h0m3-2h0m1 2h0m7-2h0m0 3h0m2 0h0m0-2h0m3 2h0m0-1h0m1 3h0m0-3h0m1-1h0m1 2h0m1-3h0m3 1h0m2-1h0m1-1h0m-102 6h0m1 2h0m0 2h0m1-1h0m0 3h0m0 0h0m2-5h0m1 0h0m3 2h0m5 0h0m1-3h0m1 3h0m3 0h0m0 3h0m0-6h0m1 2h0m1 2h0m4 1h0m0-1h0m3-2h0m2 0h0m0 2h0m0-1h0m0 0h0m2 1h0m0-1h0m7-3h0m0 0h0m1 3h0m1-1h0m2 0h0m0 0h0m4 0h0m5 2h0m1-3h0m1 2h0m0 2h0m0 0h0m1-2h0m3-3h0m4 1h0m1 2h0m3 0h0m4-2h0m1 4h0m0-3h0m1 0h0m1 1h0m1 1h0m0 1h0m2 1h0m3-6h0m1 2h0m1 3h0m1-3h0m1 3h0m1 1h0m2-1h0m0 0h0m6-1h0m0 0h0m3-4h0m-90 7h0m2 1h0m2-1h0m0 0h0m3 4h0m5-2h0m2 2h0m0-2h0m1 0h0m0 2h0m4-4h0m1 1h0m1-1h0m2 0h0m3 0h0m0 3h0m1 1h0m0-1h0m1-2h0m2 0h0m0-1h0m6 1h0m0 1h0m6 2h0m2-4h0m1 2h0m1 0h0m1 3h0m2-3h0m1-1h0m0 4h0m0-4h0m1 2h0m1-2h0m1 2h0m0 0h0m1 1h0m1-2h0m2 0h0m1-1h0m0 4h0m1-3h0m2-2h0m1 5h0m1-1h0m2 0h0m3-4h0m0 3h0m3 0h0m0-2h0m2-2h0m3 3h0m1-3h0m1 2h0m2 0h0m0-1h0m-58 9h0m3 0h0m0-4h0m2 4h0m1 0h0m0-1h0m2 2h0m5 0h0m1-2h0m1-2h0m1-1h0m0 0h0m1 3h0m4 3h0m1-1h0m1-3h0m3 1h0m3-2h0m3 1h0m1 0h0m0 0h0m0-1h0m1 1h0m2-1h0m2 2h0m0-1h0m4-1h0m3-1h0m-32 9h0m4-2h0m0 2h0m1-2h0m0 3h0m2 0h0m0 0h0m9-3h0" stroke="rgb(28,152,160)" stroke-width="4.2" stroke-linecap="round"/>
<path d="M668 2198h0m3 0h0m3-5h0m1 1h0m1 5h0m3-1h0m1 1h0m0 0h0m3-6h0m0 1h0m4 4h0m-16 2h0m1 2h0m1-3h0m2 0h0m1 5h0m0-1h0m5-1h0m1 3h0m2-1h0m1-3h0m5 1h0m-20 9h0m3-6h0m3 4h0m0 0h0m2-1h0m3 1h0m0-2h0m2 2h0m2 1h0m6-3h0m0 2h0m-24 4h0m3 3h0m1 1h0m6-1h0m4-3h0m1 1h0m3-3h0" stroke="rgb(55,150,78)" stroke-width="4.2" stroke-linecap="round"/>
<path d="M702 2214h0m6 3h0m8-3h0m2 2h0m1 1h0m-26 4h0m2-1h0m1 1h0m3-2h0m0 2h0m0-1h0m5 3h0m4-1h0m0-1h0m1-3h0m15 2h0m1-1h0m2 3h0m-40 4h0m0-1h0m8-1h0m6 2h0m2-1h0m4-1h0m6 4h0m0-2h0m0 0h0m0-1h0m1 2h0m2 1h0m1 1h0m1-2h0m1-3h0m7 2h0m3-1h0m1 3h0m-42 5h0m6 2h0m11-1h0m1-1h0m8-3h0m4 4h0m2-4h0m2 1h0m2-1h0m4 0h0m0 1h0m-41 6h0m1 3h0m7-3h0m0 1h0m7 0h0m0-1h0m3 0h0m3-1h0m1 4h0m0 0h0m2-4h0m3-1h0m2 4h0m1-1h0m7-3h0m5 1h0m1 2h0m-45 6h0m4 0h0m4-1h0m2 3h0m0-4h0m14 2h0m0 1h0m1 1h0m7 0h0m8 0h0m1 1h0m-36 4h0m11 1h0m14 1h0m5 0h0m3-1h0m-27 4h0m5 1h0m0-2h0m1-2h0m3 4h0m3-1h0m1 2h0m1-2h0m5 1h0m3-1h0" stroke="rgb(130,35,35)" stroke-width="4.2" stroke-linecap="round"/>
<path d="M751 2228h0m5 0h0m2-3h0m2 4h0m4-1h0m0-1h0m-26 7h0m0-1h0m1-1h0m1-1h0m0 2h0m1-3h0m1 1h0m1 3h0m1-4h0m0-1h0m0 4h0m3 1h0m0 0h0m1-3h0m1 0h0m0 0h0m1 4h0m1-3h0m0-3h0m1 6h0m0 0h0m1-2h0m0-3h0m3 2h0m0 2h0m3-2h0m1-1h0m2 0h0m2 4h0m0-1h0m1-5h0m0 5h0m2-1h0m0-1h0m1 1h0m2 1h0m4 1h0m-40 6h0m0-1h0m1-2h0m0-2h0m1 0h0m0 3h0m0-1h0m1 3h0m1-3h0m0 2h0m0-3h0m0 0h0m0 3h0m0-4h0m1 3h0m0-1h0m0-1h0m0-2h0m1 4h0m0-3h0m0 2h0m2 0h0m0-1h0m1-1h0m0 3h0m2 0h0m0-1h0m0-2h0m2 4h0m0-2h0m1 2h0m1-5h0m0 2h0m2-1h0m0 3h0m0 1h0m0-2h0m1 1h0m1-1h0m0 1h0m1-1h0m2-2h0m0 3h0m0 1h0m1-5h0m1 0h0m0 2h0m1 1h0m0 2h0m0-5h0m1 5h0m0 0h0m1-2h0m0 1h0m2 1h0m0 0h0m0-1h0m1 0h0m0-2h0m1 3h0m1 1h0m0-5h0m1 0h0m1 4h0m1-1h0m0 0h0m0-3h0m1 0h0m0 1h0m1 2h0m3-3h0m0 1h0m0 2h0m1-4h0m0 4h0m1 2h0m1-1h0m-49 4h0m1 2h0m1-1h0m1-3h0m1 4h0m0 0h0m1 0h0m0-3h0m1 3h0m1 0h0m0-1h0m0 0h0m1 2h0m1-3h0m0 1h0m1-3h0m1 1h0m1 0h0m1 0h0m0 0h0m2 2h0m1-1h0m1-2h0m0 0h0m2-1h0m1 5h0m1-5h0m1 4h0m1-3h0m0 2h0m0-1h0m1 3h0m0-1h0m2-2h0m1 1h0m0-1h0m1 2h0m3-3h0m1 3h0m0-1h0m1-1h0m2 3h0m1-3h0m1 3h0m1-4h0m1 0h0m2 0h0m1 4h0m0 1h0m1-1h0m2-3h0m0 4h0m1-5h0m0-1h0m0 6h0m0-5h0m1 0h0m0 3h0m1-3h0m1 1h0m-48 6h0m0 2h0m0 1h0m3 1h0m0-2h0m0-2h0m2 1h0m2 0h0m0 2h0m1-3h0m1-1h0m0 1h0m0-1h0m0 1h0m1 0h0m1 1h0m0 0h0m1 1h0m0-4h0m0 3h0m1-3h0m2 3h0m2-1h0m1 1h0m1-2h0m1 0h0m1 1h0m0 3h0m0-3h0m0 4h0m0-5h0m2 0h0m1 4h0m1-1h0m1-2h0m1 0h0m1 0h0m0-1h0m3 4h0m1-2h0m1-2h0m1 3h0m3-2h0m0-1h0m3 3h0m0-1h0m1 1h0m3-1h0m1 1h0m0 2h0m1-2h0m0-3h0m1 3h0m0-2h0m1 0h0m0 2h0m0 1h0m1 0h0m-49 4h0m1 1h0m0-2h0m0-2h0m1 5h0m0 0h0m0-3h0m1 4h0m0 0h0m0-5h0m1 3h0m0 1h0m1-5h0m1 1h0m0 4h0m1 0h0m0-1h0m0-3h0m2 4h0m0 0h0m0-1h0m3-1h0m0 1h0m1-2h0m2 1h0m0-2h0m1 0h0m1 4h0m0-4h0m1 0h0m1 4h0m2-2h0m1 0h0m4-1h0m3-2h0m0 1h0m1 5h0m1-6h0m0 4h0m0 1h0m1 0h0m1-4h0m1 2h0m2 3h0m0-1h0m3-3h0m0-1h0m1 4h0m1-4h0m0 2h0m1-1h0m2 3h0m0-3h0m1 3h0m1-4h0m2 4h0m1-4h0m0-1h0m1 0h0m0 3h0m-48 6h0m0-2h0m4 1h0m1-1h0m0-1h0m1 6h0m0 0h0m0-1h0m0-3h0m1 3h0m0 0h0m0 0h0m1-2h0m0 0h0m1-2h0m1-1h0m1 2h0m0 0h0m1 2h0m0 0h0m0-3h0m0 3h0m0 1h0m1-2h0m0 1h0m0-3h0m1 0h0m0 2h0m0 1h0m1-1h0m1 2h0m1 1h0m2 0h0m2-5h0m1 4h0m0-2h0m4-3h0m0 1h0m1 2h0m1 2h0m1-5h0m1 5h0m1-5h0m3 3h0m0-1h0m1 1h0m1-1h0m1 1h0m0-3h0m0 0h0m1 5h0m2-1h0m0 2h0m0-2h0m2-2h0m2 2h0m0-3h0m-39 5h0m3 1h0m0 2h0m2 0h0m0 1h0m1-2h0m1 2h0m0-4h0m1 4h0m1 2h0m3-4h0m0 2h0m0 0h0m1-2h0m0 1h0m1 0h0m1 1h0m0 0h0m0 2h0m1-3h0m0-2h0m1 3h0m0-4h0m2 5h0m0-3h0m0 0h0m0 0h0m0 4h0m1 0h0m0-1h0m2-3h0m0-1h0m1 1h0m1 0h0m2 4h0m0-3h0m0-1h0m1 1h0m0-2h0m1 4h0m0-3h0m0 3h0m0-4h0m1 1h0m1 2h0m0-1h0m1 2h0m1-2h0m0-2h0m0 1h0m0-2h0m1 4h0m1-1h0m0-1h0m1-1h0m1 1h0m1-2h0m-28 7h0m5 0h0m2-1h0m1 1h0m3-1h0m4 1h0m2-1h0" stroke="rgb(243,175,32)" stroke-width="4.2" stroke-linecap="round"/>
<path d="M797 2184h0m0 0h0m3 2h0m3 1h0m1-4h0m3 2h0m1-3h0m0 5h0m1-2h0m4-2h0m1 3h0m2-3h0m1 1h0m0 0h0m1-2h0m2 0h0m7 4h0m-36 4h0m2 3h0m2-4h0m2 2h0m0 1h0m2-3h0m1-1h0m2 0h0m0 4h0m2-2h0m0 2h0m1-1h0m4-1h0m0-1h0m1 1h0m1-2h0m0 2h0m2 2h0m3 0h0m1-4h0m1 3h0m0-2h0m0-1h0m1 5h0m2 0h0m1-3h0m1-1h0m0 3h0m1-4h0m2 2h0m3 2h0m3-2h0m3 2h0m2 1h0m1 0h0m-52 5h0m0-2h0m2 0h0m0 3h0m0-3h0m3-1h0m1 0h0m0 2h0m0 0h0m0-3h0m2 4h0m0 0h0m1-3h0m0 3h0m3-3h0m1-2h0m1 4h0m0-3h0m1 1h0m1 1h0m0 2h0m3-4h0m0 0h0m0 0h0m2 3h0m0-3h0m0 3h0m4 0h0m1 0h0m2-2h0m1 0h0m2 1h0m3 0h0m2-1h0m0 4h0m1-5h0m0 4h0m2 0h0m1-2h0m0 1h0m1-1h0m2-1h0m1 4h0m1-2h0m1 0h0m1-1h0m0 0h0m2-2h0m2 1h0m1 3h0m0-4h0m1 0h0m-56 7h0m2 2h0m0-1h0m6-3h0m9 3h0m0 2h0m2 1h0m2-4h0m0 2h0m0-4h0m6 6h0m0 0h0m0-2h0m4-4h0m1 2h0m0 3h0m3 0h0m1-1h0m0 0h0m4-2h0m0 0h0m1 2h0m0-1h0m4-2h0m0 4h0m0 0h0m3 0h0m2 0h0m3 1h0m1-3h0m5 1h0m1-4h0m1 5h0m3-2h0m2 3h0m1 0h0m-68 4h0m1-3h0m1 0h0m1-1h0m0 5h0m0-1h0m3 1h0m0-3h0m2 1h0m2-3h0m3 0h0m0 0h0m0 5h0m2-2h0m1-3h0m3 4h0m2-2h0m0 4h0m4-6h0m3 6h0m0-2h0m3 1h0m6-3h0m2 4h0m0-6h0m1 6h0m0-2h0m1 1h0m2-2h0m0-2h0m1 2h0m0-1h0m0 0h0m2 2h0m2 2h0m0-6h0m1 0h0m0 3h0m0 1h0m4-2h0m0 4h0m2-3h0m1 0h0m0 3h0m2-2h0m0-1h0m3 0h0m1 1h0m1-3h0m0 2h0m1-2h0m4 0h0m0 3h0m1-4h0m-68 11h0m0-1h0m2 1h0m0-2h0m3 1h0m1 0h0m2-1h0m0 2h0m0-4h0m1 1h0m2 3h0m1 1h0m0-1h0m4 0h0m0-4h0m1 0h0m0 1h0m1-1h0m4-1h0m0 6h0m1-4h0m2-2h0m1 1h0m1 3h0m0-2h0m0 3h0m3 0h0m2-4h0m0 5h0m1-1h0m0-4h0m1 5h0m2-1h0m2 1h0m1-2h0m1-1h0m2 2h0m2 1h0m0-3h0m2 3h0m2 0h0m2-3h0m1-1h0m1 0h0m1 3h0m3-2h0m0-1h0m2 0h0m4 3h0m1-3h0m1 2h0m0-1h0m1 1h0m2 1h0m1 0h0m-69 4h0m2 2h0m0-2h0m2-2h0m6 2h0m1 2h0m5 1h0m2-1h0m0 0h0m2-4h0m1 2h0m0 0h0m0 0h0m4 3h0m0-4h0m0-1h0m1 2h0m3-1h0m1 2h0m2-3h0m0-1h0m0 2h0m1 2h0m6 0h0m5 2h0m0-3h0m0-3h0m3 5h0m2-1h0m1 0h0m1 1h0m5-3h0m2 2h0m2-4h0m0 5h0m4-2h0m1-2h0m0 4h0m2-4h0m2 1h0m1 2h0m-66 7h0m1-4h0m2 1h0m2 0h0m0 3h0m1-2h0m2 1h0m1 1h0m2-4h0m1 1h0m1 2h0m1-3h0m0 0h0m1 1h0m1-2h0m0 1h0m1 5h0m0-2h0m1-3h0m1 1h0m2 3h0m1 1h0m1-1h0m1-4h0m3 1h0m1 4h0m3-3h0m0 1h0m3-2h0m1 4h0m0-3h0m0 0h0m3-1h0m4 3h0m0-3h0m2 2h0m1-3h0m1 2h0m2 2h0m1-3h0m0-1h0m0 0h0m1 0h0m1 0h0m1 0h0m0 1h0m0 2h0m1-2h0m1 2h0m2-3h0m1 3h0m1 0h0m0-2h0m1-1h0m2 4h0m2-4h0m2 2h0m-65 3h0m4 0h0m1 5h0m3-4h0m2 5h0m0-6h0m1 3h0m1 0h0m1-1h0m1 3h0m2-2h0m3-3h0m2 6h0m2-3h0m4 0h0m2-1h0m2-2h0m2 6h0m1-4h0m1-1h0m0 0h0m1-1h0m3 4h0m1 2h0m3-3h0m0 2h0m1-1h0m1-1h0m1 1h0m0-2h0m0 1h0m2-2h0m3 5h0m2-6h0m1 0h0m0 2h0m2 1h0m1 1h0m2 1h0m4-5h0m1 3h0m1 3h0m2-4h0m1-1h0m-57 11h0m0-1h0m4-1h0m3 0h0m0-3h0m3-1h0m1 5h0m1-4h0m0 1h0m3 3h0m3-4h0m0 0h0m1 4h0m1-5h0m1 3h0m1-1h0m2-1h0m1 2h0m0 3h0m0-2h0m2 2h0m0-6h0m0 2h0m0-1h0m0 3h0m0-1h0m2 0h0m1-3h0m1 6h0m2-3h0m1 3h0m2-3h0m0-1h0m1-2h0m1 0h0m1 2h0m2 2h0m3 0h0m3-2h0m1 1h0m1 3h0m0 0h0m0-1h0m1 0h0m0-4h0m0 4h0m1-2h0m1-3h0m1 2h0m0 3h0m0 1h0m3-5h0m-53 6h0m1-1h0m2 2h0m0 1h0m3 0h0m2 3h0m0-1h0m3 1h0m1-5h0m2 0h0m3 5h0m1-2h0m1-2h0m1 0h0m2 0h0m3-1h0m1 0h0m0-1h0m3 5h0m1-4h0m0 1h0m1 4h0m3-5h0m1 3h0m4 2h0m1-1h0m1-5h0m0 6h0m3-4h0m2 0h0m0 2h0m2 2h0m1-5h0m1-1h0m-45 6h0m4 3h0m0-1h0m5 2h0m2-4h0m0 2h0m2-1h0m3 1h0m0 2h0m2 1h0m2-3h0m4-2h0m1 1h0m1 4h0m0-3h0m3 0h0m1-2h0m0 1h0m1 2h0m0-3h0m1 4h0m2-3h0m2 3h0m1 1h0m0 0h0m0-5h0m0 5h0m0 1h0m2-2h0m1 0h0m2-1h0m-29 4h0m6 0h0m6 2h0m3 0h0m6-2h0" stroke="rgb(243,175,32)" stroke-width="4.2" stroke-linecap="round"/>
</g>
<text x="784.8" y="1797.2" font-size="23" textLength="64.2" lengthAdjust="spacingAndGlyphs">VASC</text>
<text x="709.5" y="1915" font-size="23" textLength="34.1" lengthAdjust="spacingAndGlyphs">OL</text>
<text x="808.8" y="1950.2" font-size="23" textLength="54.7" lengthAdjust="spacingAndGlyphs">nIPC</text>
<line x1="808.8" y1="1954.2" x2="863.5" y2="1954.2" stroke="#000" stroke-width="2.2"/>
<text x="438.6" y="1968.8" font-size="23" textLength="90.8" lengthAdjust="spacingAndGlyphs">Myeloid</text>
<text x="937" y="1973" font-size="23" textLength="129.2" lengthAdjust="spacingAndGlyphs">Ependymal</text>
<text x="966.7" y="2010.2" font-size="23" textLength="64.3" lengthAdjust="spacingAndGlyphs">Astro</text>
<text x="633" y="2119.8" font-size="23" textLength="35.3" lengthAdjust="spacingAndGlyphs">Inh</text>
<text x="741.3" y="2113.6" font-size="23" textLength="42.8" lengthAdjust="spacingAndGlyphs">Exc</text>
<text x="893.5" y="2161.1" font-size="23" textLength="50.7" lengthAdjust="spacingAndGlyphs">RGL</text>
<line x1="893.5" y1="2165.1" x2="944.2" y2="2165.1" stroke="#000" stroke-width="2.2"/>
<text x="862.5" y="2237.6" font-size="23" textLength="85.8" lengthAdjust="spacingAndGlyphs">GC_NB</text>
<line x1="862.5" y1="2241.6" x2="948.3" y2="2241.6" stroke="#000" stroke-width="2.2"/>
<path d="M812.9 1805.5Q780.6 1820.8 746.7 1809.6" class="ar"/>
<path d="M726 1923.3Q723.7 1937.4 735.1 1946.1" class="ar"/>
<path d="M841.8 1966.8Q835.6 1977.5 823.2 1977.1" class="ar"/>
<path d="M484.1 1981.2Q490.7 2000.7 511 2004" class="ar"/>
<path d="M957.6 1948.1Q949.9 1932.6 932.8 1929.5" class="ar"/>
<path d="M1031.2 2016.4Q1023.4 2035.2 1003.1 2037.1" class="ar"/>
<path d="M645.4 2128Q645.8 2143.8 659.9 2150.8" class="ar"/>
<path d="M792.2 2109.4Q803 2135.8 781.9 2154.9" class="ar"/>
<path d="M885.3 2134.2Q904.1 2108.1 899.7 2076.3" class="ar"/>
<path d="M883.2 2214.9Q863.1 2201 839.8 2208.7" class="ar"/>
<g filter="url(#sc5)">
<path d="M226 2412C226.7 2408.7 228.7 2403.7 232 2402C235.3 2400.3 242.3 2401 246 2402C249.7 2403 251.3 2408 254 2408C256.7 2408 259 2402.7 262 2402C265 2401.3 270.3 2401.7 272 2404C273.7 2406.3 273.7 2413.3 272 2416C270.3 2418.7 265 2419.3 262 2420C259 2420.7 257 2418 254 2420C251 2422 247 2429.8 244 2432C241 2434.2 238.7 2434.7 236 2433C233.3 2431.3 229.7 2425.5 228 2422C226.3 2418.5 225.3 2415.3 226 2412Z" fill="rgb(34,114,178)"/>
<path d="M171 2476C171.7 2473.5 175.5 2471 178 2471C180.5 2471 184.2 2473.2 186 2476C187.8 2478.8 189.3 2485.3 189 2488C188.7 2490.7 186.5 2492.3 184 2492C181.5 2491.7 176.2 2488.7 174 2486C171.8 2483.3 170.3 2478.5 171 2476Z" fill="rgb(34,114,178)"/>
<path d="M182 2506C183 2502.7 187 2499 190 2498C193 2497 197 2500.7 200 2500C203 2499.3 205.3 2494.7 208 2494C210.7 2493.3 214.3 2493.3 216 2496C217.7 2498.7 218.3 2506 218 2510C217.7 2514 216.7 2518.7 214 2520C211.3 2521.3 205.7 2517.7 202 2518C198.3 2518.3 195 2522 192 2522C189 2522 185.7 2520.7 184 2518C182.3 2515.3 181 2509.3 182 2506Z" fill="rgb(34,114,178)"/>
<path d="M256 2494C255.7 2492.3 262 2492.7 264 2490C266 2487.3 267 2482 268 2478C269 2474 268 2468 270 2466C272 2464 277 2464 280 2466C283 2468 285.3 2473.7 288 2478C290.7 2482.3 293 2488.3 296 2492C299 2495.7 302.3 2499.3 306 2500C309.7 2500.7 313.3 2497.3 318 2496C322.7 2494.7 329 2492.3 334 2492C339 2491.7 344.3 2492 348 2494C351.7 2496 354.7 2500 356 2504C357.3 2508 358 2515 356 2518C354 2521 349.3 2521.3 344 2522C338.7 2522.7 330.3 2523 324 2522C317.7 2521 310 2516.7 306 2516C302 2515.3 301 2515.7 300 2518C299 2520.3 300 2526 300 2530C300 2534 301.3 2539.7 300 2542C298.7 2544.3 294.3 2546 292 2544C289.7 2542 287.7 2535.3 286 2530C284.3 2524.7 285.3 2517 282 2512C278.7 2507 270.3 2503 266 2500C261.7 2497 256.3 2495.7 256 2494Z" fill="rgb(34,114,178)"/>
<path d="M276 2500C272.3 2495 270 2483 270 2478C270 2473 273 2470.3 276 2470C279 2469.7 285 2471.7 288 2476C291 2480.3 291 2491.3 294 2496C297 2500.7 301.7 2502.7 306 2504C310.3 2505.3 314.3 2503.3 320 2504C325.7 2504.7 334.3 2506.3 340 2508C345.7 2509.7 352.7 2511.8 354 2514C355.3 2516.2 352.7 2519.8 348 2521C343.3 2522.2 333 2522.2 326 2521C319 2519.8 311.7 2516.2 306 2514C300.3 2511.8 297 2510.3 292 2508C287 2505.7 279.7 2505 276 2500Z" fill="rgb(240,130,40)"/>
<ellipse cx="290" cy="2533" rx="4" ry="8" fill="rgb(240,130,40)"/>
<path d="M160 2556C160.7 2553 163 2547.8 166 2546C169 2544.2 174.5 2543.3 178 2545C181.5 2546.7 186 2552.5 187 2556C188 2559.5 186.8 2564 184 2566C181.2 2568 173.7 2568.3 170 2568C166.3 2567.7 163.7 2566 162 2564C160.3 2562 159.3 2559 160 2556Z" fill="rgb(34,114,178)"/>
<circle cx="174" cy="2552" r="3" fill="rgb(240,130,40)"/>
<path d="M206 2578C206.7 2575 211.3 2574.5 214 2572C216.7 2569.5 218 2564.7 222 2563C226 2561.3 234 2560.2 238 2562C242 2563.8 244.7 2568.3 246 2574C247.3 2579.7 247 2590.3 246 2596C245 2601.7 243.3 2606.2 240 2608C236.7 2609.8 229.7 2609 226 2607C222.3 2605 220.7 2598.8 218 2596C215.3 2593.2 212 2593 210 2590C208 2587 205.3 2581 206 2578Z" fill="rgb(34,114,178)"/>
<path d="M181 2610C180.7 2607.2 184.8 2601 188 2600C191.2 2599 196 2604 200 2604C204 2604 209.3 2599 212 2600C214.7 2601 217 2607.3 216 2610C215 2612.7 210.3 2614.8 206 2616C201.7 2617.2 194.2 2618 190 2617C185.8 2616 181.3 2612.8 181 2610Z" fill="rgb(34,114,178)"/>
<path d="M334 2556C335 2551.7 338.3 2551.7 340 2554C341.7 2556.3 342 2566 344 2570C346 2574 350.3 2574.3 352 2578C353.7 2581.7 354.7 2588.3 354 2592C353.3 2595.7 349 2595.3 348 2600C347 2604.7 347.3 2614.7 348 2620C348.7 2625.3 352.7 2629.2 352 2632C351.3 2634.8 347.3 2636.3 344 2637C340.7 2637.7 334 2638.8 332 2636C330 2633.2 331.3 2626 332 2620C332.7 2614 335.7 2606.7 336 2600C336.3 2593.3 334.3 2587.3 334 2580C333.7 2572.7 333 2560.3 334 2556Z" fill="rgb(34,114,178)"/>
<ellipse cx="341" cy="2576" rx="6" ry="9" fill="rgb(240,130,40)"/>
<ellipse cx="342" cy="2622" rx="6" ry="12" fill="rgb(240,130,40)"/>
</g>
<path d="M137 2642.5V2548M137 2642.5H230" class="ax"/>
<path d="M137 2540.5l-5.5 11h11zM238.5 2642.5l-11 -5.5v11z" fill="#000"/>
<text x="123.6" y="2638.8" font-size="26" textLength="92.8" lengthAdjust="spacingAndGlyphs" transform="rotate(-90 123.6 2638.8)">UMAP2</text>
<text x="137" y="2677" font-size="26" textLength="91" lengthAdjust="spacingAndGlyphs">UMAP1</text>
<circle cx="421.6" cy="2520.5" r="9" fill="rgb(34,114,178)"/>
<text x="440.8" y="2528" font-size="30" textLength="131.6" lengthAdjust="spacingAndGlyphs">Macaque</text>
<circle cx="421.6" cy="2558.9" r="9" fill="rgb(240,130,40)"/>
<text x="440.8" y="2569" font-size="30" textLength="97" lengthAdjust="spacingAndGlyphs">Mouse</text>
<g filter="url(#sc5)">
<path d="M794 2330C794.7 2325.7 796.5 2320 800 2318C803.5 2316 810.3 2316.7 815 2318C819.7 2319.3 823.8 2325.7 828 2326C832.2 2326.3 835.3 2321.8 840 2320C844.7 2318.2 851.5 2314.7 856 2315C860.5 2315.3 865.7 2318.2 867 2322C868.3 2325.8 866.5 2333 864 2338C861.5 2343 857.3 2348.3 852 2352C846.7 2355.7 838.7 2357.3 832 2360C825.3 2362.7 816.7 2368.7 812 2368C807.3 2367.3 806.7 2360 804 2356C801.3 2352 797.7 2348.3 796 2344C794.3 2339.7 793.3 2334.3 794 2330Z" fill="rgb(55,150,78)"/>
<path d="M703 2440C703.3 2436 706.8 2433 710 2432C713.2 2431 718.7 2431.3 722 2434C725.3 2436.7 728.7 2443.3 730 2448C731.3 2452.7 731.7 2459.3 730 2462C728.3 2464.7 723.7 2465 720 2464C716.3 2463 710.8 2460 708 2456C705.2 2452 702.7 2444 703 2440Z" fill="rgb(28,152,160)"/>
<path d="M718 2488C719.3 2484 723.7 2475.7 728 2474C732.3 2472.3 738.7 2478 744 2478C749.3 2478 755 2474 760 2474C765 2474 771 2474.3 774 2478C777 2481.7 778.7 2491 778 2496C777.3 2501 774.3 2506.3 770 2508C765.7 2509.7 757 2505.3 752 2506C747 2506.7 744.3 2511.7 740 2512C735.7 2512.3 729.3 2510.3 726 2508C722.7 2505.7 721.3 2501.3 720 2498C718.7 2494.7 716.7 2492 718 2488Z" fill="rgb(28,152,160)"/>
<path d="M858 2430C859.7 2425.7 861.7 2422.2 866 2420C870.3 2417.8 878.7 2416.3 884 2417C889.3 2417.7 894.3 2419.2 898 2424C901.7 2428.8 904 2438.3 906 2446C908 2453.7 911.3 2464.7 910 2470C908.7 2475.3 903.3 2477.3 898 2478C892.7 2478.7 884 2477 878 2474C872 2471 865.7 2464.7 862 2460C858.3 2455.3 856.7 2451 856 2446C855.3 2441 856.3 2434.3 858 2430Z" fill="rgb(215,40,40)"/>
<path d="M838 2470C838.7 2466.3 842 2462.3 846 2460C850 2457.7 856.3 2455.7 862 2456C867.7 2456.3 874.3 2459.7 880 2462C885.7 2464.3 893.7 2466.3 896 2470C898.3 2473.7 897 2481.3 894 2484C891 2486.7 883.7 2486 878 2486C872.3 2486 866 2484.7 860 2484C854 2483.3 845.7 2484.3 842 2482C838.3 2479.7 837.3 2473.7 838 2470Z" fill="rgb(55,150,78)"/>
<ellipse cx="844" cy="2472" rx="8" ry="8" fill="rgb(28,152,160)"/>
<path d="M886 2482C888 2476.7 891.3 2473.7 896 2472C900.7 2470.3 909.3 2469.7 914 2472C918.7 2474.3 923 2479.7 924 2486C925 2492.3 922.3 2504 920 2510C917.7 2516 911 2517 910 2522C909 2527 915 2535.3 914 2540C913 2544.7 907.7 2549 904 2550C900.3 2551 894.7 2550 892 2546C889.3 2542 889.3 2533 888 2526C886.7 2519 884.3 2511.3 884 2504C883.7 2496.7 884 2487.3 886 2482Z" fill="rgb(196,140,32)"/>
<path d="M918 2478C919.7 2474.7 925 2472.3 930 2470C935 2467.7 941.7 2465.7 948 2464C954.3 2462.3 961 2460.3 968 2460C975 2459.7 984 2459.7 990 2462C996 2464.3 1001.2 2468.7 1004 2474C1006.8 2479.3 1008.3 2488.3 1007 2494C1005.7 2499.7 1001.5 2505.3 996 2508C990.5 2510.7 981.3 2510.3 974 2510C966.7 2509.7 958.7 2508.3 952 2506C945.3 2503.7 939.3 2498.7 934 2496C928.7 2493.3 922.7 2493 920 2490C917.3 2487 916.3 2481.3 918 2478Z" fill="rgb(234,40,128)"/>
<circle cx="970" cy="2502" r="5" fill="rgb(125,35,30)"/>
<path d="M684 2566C684.7 2561.3 686.7 2555 690 2552C693.3 2549 699 2548 704 2548C709 2548 715.8 2549 720 2552C724.2 2555 728 2561.3 729 2566C730 2570.7 730.8 2577.3 726 2580C721.2 2582.7 706.7 2582 700 2582C693.3 2582 688.7 2582.7 686 2580C683.3 2577.3 683.3 2570.7 684 2566Z" fill="rgb(200,88,40)"/>
<path d="M774 2590C775 2584 777.7 2580.3 782 2578C786.3 2575.7 794.7 2575 800 2576C805.3 2577 811 2579 814 2584C817 2589 816.3 2599 818 2606C819.7 2613 823 2619.7 824 2626C825 2632.3 826 2639.3 824 2644C822 2648.7 817 2652.7 812 2654C807 2655.3 799.3 2654.7 794 2652C788.7 2649.3 783 2644.3 780 2638C777 2631.7 777 2622 776 2614C775 2606 773 2596 774 2590Z" fill="rgb(243,175,32)"/>
<circle cx="777" cy="2612" r="5" fill="rgb(200,88,40)"/>
<path d="M718 2654C719 2650.3 721 2644.3 724 2642C727 2639.7 732 2639.3 736 2640C740 2640.7 743.3 2645.7 748 2646C752.7 2646.3 759.2 2641.7 764 2642C768.8 2642.3 775 2644.7 777 2648C779 2651.3 778.8 2658.7 776 2662C773.2 2665.3 765.7 2667 760 2668C754.3 2669 747.3 2667.7 742 2668C736.7 2668.3 732 2670.7 728 2670C724 2669.3 719.7 2666.7 718 2664C716.3 2661.3 717 2657.7 718 2654Z" fill="rgb(196,140,32)"/>
<ellipse cx="730" cy="2654" rx="10" ry="12" fill="rgb(243,175,32)"/>
<path d="M962 2566C963.3 2562.7 967.3 2559.3 970 2560C972.7 2560.7 976.7 2565.7 978 2570C979.3 2574.3 976 2582.3 978 2586C980 2589.7 985.7 2589.3 990 2592C994.3 2594.7 1001.7 2597.7 1004 2602C1006.3 2606.3 1005.3 2613 1004 2618C1002.7 2623 996.7 2626.7 996 2632C995.3 2637.3 1000 2644 1000 2650C1000 2656 997 2661.3 996 2668C995 2674.7 996 2684.7 994 2690C992 2695.3 989 2698.3 984 2700C979 2701.7 968 2702 964 2700C960 2698 958.7 2693.3 960 2688C961.3 2682.7 969.3 2676 972 2668C974.7 2660 975.7 2649.3 976 2640C976.3 2630.7 975.7 2619.7 974 2612C972.3 2604.3 968 2599.3 966 2594C964 2588.7 962.7 2584.7 962 2580C961.3 2575.3 960.7 2569.3 962 2566Z" fill="rgb(140,50,12)"/>
</g>
<text x="785.3" y="2345.2" font-size="24" textLength="79.9" lengthAdjust="spacingAndGlyphs" class="ol">GABA</text>
<text x="839.8" y="2451.7" font-size="24" textLength="85.7" lengthAdjust="spacingAndGlyphs" class="ol">RGL_1</text>
<text x="703.6" y="2492.8" font-size="24" textLength="77.3" lengthAdjust="spacingAndGlyphs" class="ol">Pyr_1</text>
<text x="940.5" y="2489.9" font-size="24" textLength="76.6" lengthAdjust="spacingAndGlyphs" class="ol">IPC_2</text>
<text x="879.8" y="2537.1" font-size="24" textLength="39.2" lengthAdjust="spacingAndGlyphs" class="ol">NB</text>
<text x="683.6" y="2601.8" font-size="24" textLength="86.4" lengthAdjust="spacingAndGlyphs" class="ol">GC_im</text>
<text x="768.3" y="2614.1" font-size="24" textLength="68.9" lengthAdjust="spacingAndGlyphs" class="ol">GC_1</text>
<text x="947" y="2634.5" font-size="24" textLength="75.5" lengthAdjust="spacingAndGlyphs" class="ol">IPC_1</text>
<circle cx="1049.9" cy="2360.1" r="8" fill="rgb(215,40,40)"/>
<text x="1067" y="2369.1" font-size="24" textLength="76" lengthAdjust="spacingAndGlyphs">RGL_1</text>
<circle cx="1049.9" cy="2399.7" r="8" fill="rgb(140,50,12)"/>
<text x="1067" y="2408.7" font-size="24" textLength="66" lengthAdjust="spacingAndGlyphs">IPC_1</text>
<circle cx="1049.9" cy="2439" r="8" fill="rgb(234,40,128)"/>
<text x="1067" y="2448" font-size="24" textLength="67" lengthAdjust="spacingAndGlyphs">IPC_2</text>
<circle cx="1049.9" cy="2477.9" r="8" fill="rgb(196,140,32)"/>
<text x="1067" y="2486.9" font-size="24" textLength="32" lengthAdjust="spacingAndGlyphs">NB</text>
<circle cx="1049.9" cy="2517.1" r="8" fill="rgb(200,88,40)"/>
<text x="1064" y="2526.1" font-size="24" textLength="78" lengthAdjust="spacingAndGlyphs">GC_im</text>
<circle cx="1049.9" cy="2558.9" r="8" fill="rgb(243,175,32)"/>
<text x="1064" y="2567.9" font-size="24" textLength="61" lengthAdjust="spacingAndGlyphs">GC_1</text>
<circle cx="1049.9" cy="2598.1" r="8" fill="rgb(28,152,160)"/>
<text x="1064" y="2607.1" font-size="24" textLength="65" lengthAdjust="spacingAndGlyphs">Pyr_1</text>
<circle cx="1049.9" cy="2634.5" r="8" fill="rgb(55,150,78)"/>
<text x="1064" y="2643.5" font-size="24" textLength="72" lengthAdjust="spacingAndGlyphs">GABA</text>
<g filter="url(#sc5)">
<path d="M1352 2340C1353.3 2335.7 1356.3 2331.3 1360 2330C1363.7 2328.7 1369.7 2331 1374 2332C1378.3 2333 1382.3 2336.3 1386 2336C1389.7 2335.7 1391.7 2331.5 1396 2330C1400.3 2328.5 1407.5 2326.3 1412 2327C1416.5 2327.7 1421.7 2330.2 1423 2334C1424.3 2337.8 1421.8 2346.3 1420 2350C1418.2 2353.7 1416 2355 1412 2356C1408 2357 1400.7 2354.3 1396 2356C1391.3 2357.7 1388 2362.5 1384 2366C1380 2369.5 1376 2376 1372 2377C1368 2378 1363.3 2375.5 1360 2372C1356.7 2368.5 1353.3 2361.3 1352 2356C1350.7 2350.7 1350.7 2344.3 1352 2340Z" fill="rgb(212,212,212)"/>
<path d="M1270 2442C1271.3 2438.8 1274.7 2437.3 1278 2437C1281.3 2436.7 1287.2 2436.8 1290 2440C1292.8 2443.2 1295 2451.3 1295 2456C1295 2460.7 1292.8 2466.3 1290 2468C1287.2 2469.7 1281.3 2468 1278 2466C1274.7 2464 1271.3 2460 1270 2456C1268.7 2452 1268.7 2445.2 1270 2442Z" fill="rgb(212,212,212)"/>
<path d="M1284 2490C1286 2486 1291.7 2481 1296 2480C1300.3 2479 1306 2485 1310 2484C1314 2483 1316 2475.3 1320 2474C1324 2472.7 1331 2472.7 1334 2476C1337 2479.3 1338 2488 1338 2494C1338 2500 1337 2508.7 1334 2512C1331 2515.3 1324.7 2514.7 1320 2514C1315.3 2513.3 1310.7 2507.7 1306 2508C1301.3 2508.3 1295.7 2516.7 1292 2516C1288.3 2515.3 1285.3 2508.3 1284 2504C1282.7 2499.7 1282 2494 1284 2490Z" fill="rgb(212,212,212)"/>
<path d="M1398 2468C1399.3 2465 1406.3 2464.7 1408 2460C1409.7 2455.3 1407 2445.3 1408 2440C1409 2434.7 1411 2430.3 1414 2428C1417 2425.7 1421.7 2424 1426 2426C1430.3 2428 1435 2435 1440 2440C1445 2445 1450.3 2451 1456 2456C1461.7 2461 1468.3 2467.7 1474 2470C1479.7 2472.3 1485.7 2470.3 1490 2470C1494.3 2469.7 1496.7 2469 1500 2468C1503.3 2467 1505 2464.3 1510 2464C1515 2463.7 1524 2464.7 1530 2466C1536 2467.3 1541.8 2468 1546 2472C1550.2 2476 1554 2484.3 1555 2490C1556 2495.7 1555.2 2502.3 1552 2506C1548.8 2509.7 1543 2511.3 1536 2512C1529 2512.7 1517.3 2510.7 1510 2510C1502.7 2509.3 1497.7 2509 1492 2508C1486.3 2507 1481 2505 1476 2504C1471 2503 1464 2499.3 1462 2502C1460 2504.7 1463.3 2513.3 1464 2520C1464.7 2526.7 1467 2536.8 1466 2542C1465 2547.2 1461.3 2550.3 1458 2551C1454.7 2551.7 1448.3 2551.2 1446 2546C1443.7 2540.8 1444 2527.7 1444 2520C1444 2512.3 1448 2505.3 1446 2500C1444 2494.7 1437.3 2491 1432 2488C1426.7 2485 1419.3 2483.7 1414 2482C1408.7 2480.3 1402.7 2480.3 1400 2478C1397.3 2475.7 1396.7 2471 1398 2468Z" fill="rgb(212,212,212)"/>
<path d="M1252 2566C1253.7 2562.7 1259 2560.7 1262 2558C1265 2555.3 1266.7 2551 1270 2550C1273.3 2549 1278.3 2549.3 1282 2552C1285.7 2554.7 1290.3 2561.3 1292 2566C1293.7 2570.7 1294.3 2577 1292 2580C1289.7 2583 1283 2583.2 1278 2584C1273 2584.8 1266.3 2586 1262 2585C1257.7 2584 1253.7 2581.2 1252 2578C1250.3 2574.8 1250.3 2569.3 1252 2566Z" fill="rgb(212,212,212)"/>
<path d="M1322 2596C1323.3 2590.7 1327.3 2581.5 1332 2578C1336.7 2574.5 1343.3 2575.3 1350 2575C1356.7 2574.7 1366.3 2572.8 1372 2576C1377.7 2579.2 1381.8 2586.3 1384 2594C1386.2 2601.7 1385.7 2614.3 1385 2622C1384.3 2629.7 1384.2 2636.2 1380 2640C1375.8 2643.8 1366.3 2645 1360 2645C1353.7 2645 1346 2644.8 1342 2640C1338 2635.2 1339 2621 1336 2616C1333 2611 1326.3 2613.3 1324 2610C1321.7 2606.7 1320.7 2601.3 1322 2596Z" fill="rgb(212,212,212)"/>
<path d="M1282 2650C1282 2646 1288 2640.7 1292 2638C1296 2635.3 1301.3 2633.7 1306 2634C1310.7 2634.3 1315 2639.7 1320 2640C1325 2640.3 1333 2634 1336 2636C1339 2638 1339.7 2648 1338 2652C1336.3 2656 1331.3 2659 1326 2660C1320.7 2661 1311.7 2657.7 1306 2658C1300.3 2658.3 1296 2663.3 1292 2662C1288 2660.7 1282 2654 1282 2650Z" fill="rgb(212,212,212)"/>
<path d="M1522 2566C1524 2562.8 1527.7 2560 1530 2561C1532.3 2562 1534.3 2567.2 1536 2572C1537.7 2576.8 1537.3 2585.3 1540 2590C1542.7 2594.7 1549.7 2596.3 1552 2600C1554.3 2603.7 1555.3 2608.3 1554 2612C1552.7 2615.7 1546 2617.3 1544 2622C1542 2626.7 1541.3 2634.3 1542 2640C1542.7 2645.7 1547.3 2650 1548 2656C1548.7 2662 1548 2670.3 1546 2676C1544 2681.7 1540 2687.5 1536 2690C1532 2692.5 1525.3 2692.7 1522 2691C1518.7 2689.3 1516 2686.8 1516 2680C1516 2673.2 1521.3 2660 1522 2650C1522.7 2640 1521 2628.3 1520 2620C1519 2611.7 1516.3 2606.7 1516 2600C1515.7 2593.3 1517 2585.7 1518 2580C1519 2574.3 1520 2569.2 1522 2566Z" fill="rgb(212,212,212)"/>
</g>
<circle cx="1423.8" cy="2430.7" r="6" fill="rgb(30,122,62)"/>
<circle cx="1427.8" cy="2451.1" r="6" fill="rgb(30,122,62)"/>
<circle cx="1412.7" cy="2468.7" r="6" fill="rgb(30,122,62)"/>
<circle cx="1419.7" cy="2470.3" r="6" fill="rgb(30,122,62)"/>
<circle cx="1520.4" cy="2493.9" r="6" fill="rgb(30,122,62)"/>
<circle cx="1450.3" cy="2491.9" r="6" fill="rgb(30,122,62)"/>
<circle cx="1523.7" cy="2491.9" r="6" fill="rgb(30,122,62)"/>
<circle cx="1456.8" cy="2493.9" r="6" fill="rgb(30,122,62)"/>
<circle cx="1436" cy="2453.2" r="6" fill="rgb(214,36,38)"/>
<circle cx="1442.1" cy="2465.4" r="6" fill="rgb(214,36,38)"/>
<circle cx="1450.3" cy="2469.5" r="6" fill="rgb(214,36,38)"/>
<circle cx="1458.4" cy="2461.3" r="6" fill="rgb(214,36,38)"/>
<circle cx="1440.1" cy="2477.6" r="6" fill="rgb(214,36,38)"/>
<circle cx="1450.3" cy="2481.7" r="6" fill="rgb(214,36,38)"/>
<circle cx="1458.4" cy="2487.8" r="6" fill="rgb(214,36,38)"/>
<circle cx="1466.6" cy="2481.7" r="6" fill="rgb(214,36,38)"/>
<circle cx="1474.7" cy="2483.8" r="6" fill="rgb(214,36,38)"/>
<circle cx="1482.9" cy="2487.8" r="6" fill="rgb(214,36,38)"/>
<circle cx="1511.4" cy="2502.1" r="6" fill="rgb(214,36,38)"/>
<circle cx="1499.2" cy="2502.1" r="6" fill="rgb(214,36,38)"/>
<circle cx="1436" cy="2443" r="6" fill="rgb(72,132,210)"/>
<circle cx="1438.8" cy="2457.2" r="6" fill="rgb(72,132,210)"/>
<circle cx="1446.2" cy="2461.3" r="6" fill="rgb(72,132,210)"/>
<circle cx="1454.3" cy="2465.4" r="6" fill="rgb(72,132,210)"/>
<circle cx="1446.2" cy="2481.7" r="6" fill="rgb(72,132,210)"/>
<circle cx="1454.3" cy="2481.7" r="6" fill="rgb(72,132,210)"/>
<circle cx="1462.5" cy="2481.7" r="6" fill="rgb(72,132,210)"/>
<circle cx="1470.7" cy="2479.7" r="6" fill="rgb(72,132,210)"/>
<circle cx="1450.3" cy="2489.9" r="6" fill="rgb(72,132,210)"/>
<circle cx="1495.1" cy="2491.9" r="6" fill="rgb(72,132,210)"/>
<circle cx="1511.4" cy="2475.6" r="6" fill="rgb(240,112,112)"/>
<circle cx="1521.6" cy="2485.8" r="6" fill="rgb(240,112,112)"/>
<circle cx="1529.8" cy="2498" r="6" fill="rgb(240,112,112)"/>
<circle cx="1523.7" cy="2506.2" r="6" fill="rgb(240,112,112)"/>
<circle cx="1452.3" cy="2526.6" r="6" fill="rgb(240,112,112)"/>
<circle cx="1456.4" cy="2536.8" r="6" fill="rgb(240,112,112)"/>
<circle cx="1271.6" cy="2557.2" r="6" fill="rgb(240,112,112)"/>
<circle cx="1534.7" cy="2648.9" r="6" fill="rgb(240,112,112)"/>
<circle cx="1522.5" cy="2685.7" r="6" fill="rgb(240,112,112)"/>
<circle cx="1542" cy="2502.1" r="6" fill="rgb(232,204,30)"/>
<circle cx="1546.1" cy="2500.1" r="6" fill="rgb(232,204,30)"/>
<circle cx="1533.9" cy="2657.1" r="6" fill="rgb(232,204,30)"/>
<circle cx="1531.8" cy="2669.3" r="6" fill="rgb(232,204,30)"/>
<circle cx="1533.9" cy="2679.5" r="6" fill="rgb(232,204,30)"/>
<circle cx="1540" cy="2673.4" r="6" fill="rgb(232,204,30)"/>
<circle cx="1450.3" cy="2538.8" r="6" fill="rgb(232,204,30)"/>
<circle cx="1480.9" cy="2477.6" r="6" fill="rgb(160,26,32)"/>
<circle cx="1497.2" cy="2481.7" r="6" fill="rgb(160,26,32)"/>
<circle cx="1491.1" cy="2493.9" r="6" fill="rgb(160,26,32)"/>
<circle cx="1517.6" cy="2683.6" r="6" fill="rgb(160,26,32)"/>
<circle cx="1529.8" cy="2587.8" r="7" fill="rgb(214,36,38)"/>
<circle cx="1533.9" cy="2593.9" r="7" fill="rgb(214,36,38)"/>
<circle cx="1527.8" cy="2600" r="7" fill="rgb(214,36,38)"/>
<circle cx="1532.7" cy="2604.1" r="7" fill="rgb(214,36,38)"/>
<circle cx="1531" cy="2595.9" r="7" fill="rgb(214,36,38)"/>
<text x="1438" y="2423.8" font-size="24" textLength="69.4" lengthAdjust="spacingAndGlyphs">qNSC</text>
<text x="1517.6" y="2536.8" font-size="24" textLength="67.3" lengthAdjust="spacingAndGlyphs">aNSC</text>
<text x="1562.4" y="2679.5" font-size="24" textLength="57.1" lengthAdjust="spacingAndGlyphs">eIPC</text>
<circle cx="1668.5" cy="2385.9" r="9" fill="rgb(72,132,210)"/>
<text x="1685.6" y="2395.2" font-size="25" textLength="30" lengthAdjust="spacingAndGlyphs">S1</text>
<circle cx="1668.5" cy="2429.5" r="9" fill="rgb(214,36,38)"/>
<text x="1685.6" y="2438.8" font-size="25" textLength="30" lengthAdjust="spacingAndGlyphs">S2</text>
<circle cx="1668.5" cy="2478.4" r="9" fill="rgb(30,122,62)"/>
<text x="1685.6" y="2487.7" font-size="25" textLength="30" lengthAdjust="spacingAndGlyphs">S3</text>
<circle cx="1668.5" cy="2522.5" r="9" fill="rgb(240,112,112)"/>
<text x="1685.6" y="2531.8" font-size="25" textLength="30" lengthAdjust="spacingAndGlyphs">S4</text>
<circle cx="1668.5" cy="2567.4" r="9" fill="rgb(232,204,30)"/>
<text x="1685.6" y="2576.7" font-size="25" textLength="30" lengthAdjust="spacingAndGlyphs">S5</text>
<circle cx="1668.5" cy="2611.4" r="9" fill="rgb(160,26,32)"/>
<text x="1685.6" y="2620.7" font-size="25" textLength="35" lengthAdjust="spacingAndGlyphs">SA</text>
</svg></body></html>
